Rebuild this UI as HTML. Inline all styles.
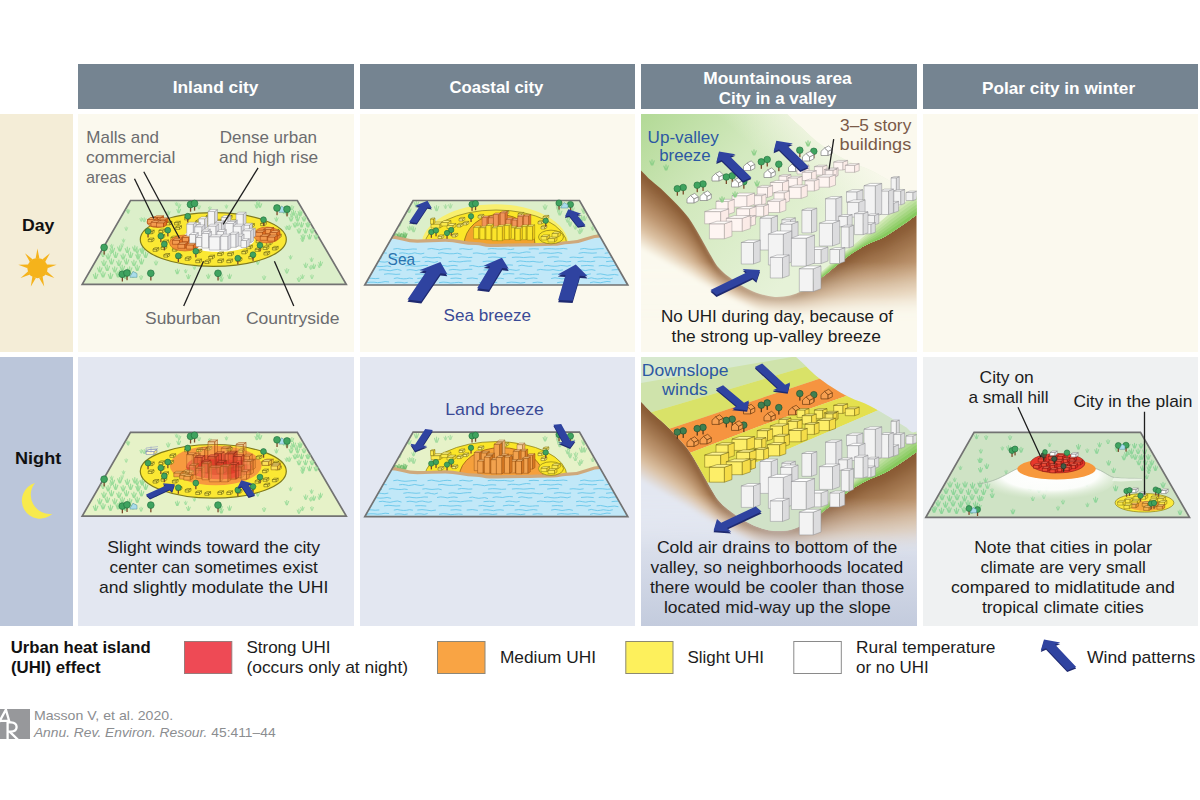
<!DOCTYPE html>
<html><head><meta charset="utf-8"><title>Urban heat island effect</title>
<style>
html,body{margin:0;padding:0;background:#fff}
body{width:1200px;height:800px;position:relative;overflow:hidden;font-family:"Liberation Sans", sans-serif}
.hd{position:absolute;top:64px;height:45px;background:#758491}
.c{position:absolute}
.d{top:114px;width:275.5px;height:238px;background:#fbf9ee}
.n{top:357px;width:275.5px;height:268.5px;background:#e3e7f1}
</style></head><body>

<div class="hd" style="left:78px;width:275.5px"></div>
<div class="hd" style="left:359.5px;width:275.5px"></div>
<div class="hd" style="left:641px;width:275.5px"></div>
<div class="hd" style="left:922.5px;width:275.5px"></div>
<div class="c" style="left:0;top:114px;width:72.5px;height:238px;background:#f4edd7"></div>
<div class="c" style="left:0;top:357px;width:72.5px;height:268.5px;background:#bbc6da"></div>
<div class="c d" style="left:78px"></div><div class="c d" style="left:359.5px"></div><div class="c d" style="left:641px"></div><div class="c d" style="left:922.5px"></div>
<div class="c n" style="left:78px"></div><div class="c n" style="left:359.5px"></div><div class="c n" style="left:641px;background:linear-gradient(#e3e7f1 0%,#e3e7f1 58%,#c3cbdd 100%)"></div><div class="c n" style="left:922.5px;background:#eff1f2"></div>

<svg width="1200" height="800" viewBox="0 0 1200 800" style="position:absolute;left:0;top:0"><defs>
<linearGradient id="brownL" x1="0" y1="0" x2="0" y2="1"><stop offset="0" stop-color="#8a5a32"/><stop offset="0.45" stop-color="#a87a52"/><stop offset="1" stop-color="#efe0cc" stop-opacity="0"/></linearGradient>
</defs><g><polygon points="130.5,200.5 297.3,200.5 346.3,284.3 82.2,284.3" fill="#dcefca" stroke="#727272" stroke-width="1.7"/><path d="M102.7,247.1L104.2,251.0M104.8,245.8V251.0M107.0,246.9L105.5,251.0" stroke="#9bdc9a" stroke-width="1.19" fill="none" stroke-linecap="round"/><path d="M110.2,248.6L111.7,252.5M112.3,247.2V252.5M114.5,248.4L113.0,252.5" stroke="#9bdc9a" stroke-width="1.19" fill="none" stroke-linecap="round"/><path d="M117.7,247.1L119.2,251.0M119.8,245.8V251.0M122.0,246.9L120.5,251.0" stroke="#9bdc9a" stroke-width="1.19" fill="none" stroke-linecap="round"/><path d="M125.2,248.6L126.7,252.5M127.3,247.2V252.5M129.6,248.4L128.1,252.5" stroke="#9bdc9a" stroke-width="1.19" fill="none" stroke-linecap="round"/><path d="M132.7,247.1L134.2,251.0M134.8,245.8V251.0M137.1,246.9L135.6,251.0" stroke="#9bdc9a" stroke-width="1.19" fill="none" stroke-linecap="round"/><path d="M140.2,248.6L141.7,252.5M142.3,247.2V252.5M144.6,248.4L143.1,252.5" stroke="#9bdc9a" stroke-width="1.19" fill="none" stroke-linecap="round"/><path d="M106.0,255.1L107.5,259.0M108.1,253.8V259.0M110.3,254.9L108.8,259.0" stroke="#9bdc9a" stroke-width="1.19" fill="none" stroke-linecap="round"/><path d="M113.5,253.6L115.0,257.5M115.6,252.2V257.5M117.8,253.4L116.3,257.5" stroke="#9bdc9a" stroke-width="1.19" fill="none" stroke-linecap="round"/><path d="M121.0,255.1L122.5,259.0M123.1,253.8V259.0M125.3,254.9L123.8,259.0" stroke="#9bdc9a" stroke-width="1.19" fill="none" stroke-linecap="round"/><path d="M128.5,253.6L130.0,257.5M130.6,252.2V257.5M132.8,253.4L131.3,257.5" stroke="#9bdc9a" stroke-width="1.19" fill="none" stroke-linecap="round"/><path d="M136.0,255.1L137.5,259.0M138.1,253.8V259.0M140.3,254.9L138.8,259.0" stroke="#9bdc9a" stroke-width="1.19" fill="none" stroke-linecap="round"/><path d="M143.5,253.6L145.0,257.5M145.6,252.2V257.5M147.8,253.4L146.3,257.5" stroke="#9bdc9a" stroke-width="1.19" fill="none" stroke-linecap="round"/><path d="M101.8,261.6L103.3,265.5M103.9,260.2V265.5M106.2,261.4L104.7,265.5" stroke="#9bdc9a" stroke-width="1.19" fill="none" stroke-linecap="round"/><path d="M109.3,260.1L110.8,264.0M111.4,258.8V264.0M113.7,259.9L112.2,264.0" stroke="#9bdc9a" stroke-width="1.19" fill="none" stroke-linecap="round"/><path d="M116.8,261.6L118.3,265.5M118.9,260.2V265.5M121.2,261.4L119.7,265.5" stroke="#9bdc9a" stroke-width="1.19" fill="none" stroke-linecap="round"/><path d="M124.3,260.1L125.8,264.0M126.4,258.8V264.0M128.7,259.9L127.2,264.0" stroke="#9bdc9a" stroke-width="1.19" fill="none" stroke-linecap="round"/><path d="M131.8,261.6L133.3,265.5M133.9,260.2V265.5M136.2,261.4L134.7,265.5" stroke="#9bdc9a" stroke-width="1.19" fill="none" stroke-linecap="round"/><path d="M139.3,260.1L140.8,264.0M141.4,258.8V264.0M143.7,259.9L142.2,264.0" stroke="#9bdc9a" stroke-width="1.19" fill="none" stroke-linecap="round"/><path d="M97.6,268.1L99.1,272.0M99.7,266.8V272.0M102.0,267.9L100.5,272.0" stroke="#9bdc9a" stroke-width="1.19" fill="none" stroke-linecap="round"/><path d="M105.1,266.6L106.6,270.5M107.2,265.2V270.5M109.5,266.4L108.0,270.5" stroke="#9bdc9a" stroke-width="1.19" fill="none" stroke-linecap="round"/><path d="M112.6,268.1L114.1,272.0M114.7,266.8V272.0M117.0,267.9L115.5,272.0" stroke="#9bdc9a" stroke-width="1.19" fill="none" stroke-linecap="round"/><path d="M120.1,266.6L121.6,270.5M122.2,265.2V270.5M124.5,266.4L123.0,270.5" stroke="#9bdc9a" stroke-width="1.19" fill="none" stroke-linecap="round"/><path d="M127.6,268.1L129.1,272.0M129.7,266.8V272.0M131.9,267.9L130.4,272.0" stroke="#9bdc9a" stroke-width="1.19" fill="none" stroke-linecap="round"/><path d="M135.1,266.6L136.6,270.5M137.2,265.2V270.5M139.4,266.4L137.9,270.5" stroke="#9bdc9a" stroke-width="1.19" fill="none" stroke-linecap="round"/><path d="M93.4,274.6L94.9,278.5M95.5,273.2V278.5M97.8,274.4L96.2,278.5" stroke="#9bdc9a" stroke-width="1.19" fill="none" stroke-linecap="round"/><path d="M100.9,273.1L102.4,277.0M103.0,271.8V277.0M105.2,272.9L103.8,277.0" stroke="#9bdc9a" stroke-width="1.19" fill="none" stroke-linecap="round"/><path d="M108.4,274.6L109.9,278.5M110.5,273.2V278.5M112.8,274.4L111.2,278.5" stroke="#9bdc9a" stroke-width="1.19" fill="none" stroke-linecap="round"/><path d="M115.9,273.1L117.4,277.0M118.0,271.8V277.0M120.2,272.9L118.8,277.0" stroke="#9bdc9a" stroke-width="1.19" fill="none" stroke-linecap="round"/><path d="M123.4,274.6L124.9,278.5M125.5,273.2V278.5M127.8,274.4L126.2,278.5" stroke="#9bdc9a" stroke-width="1.19" fill="none" stroke-linecap="round"/><path d="M130.9,273.1L132.4,277.0M133.0,271.8V277.0M135.2,272.9L133.8,277.0" stroke="#9bdc9a" stroke-width="1.19" fill="none" stroke-linecap="round"/><path d="M285.1,211.5L286.4,215.0M287.0,210.3V215.0M289.0,211.3L287.7,215.0" stroke="#9bdc9a" stroke-width="1.07" fill="none" stroke-linecap="round"/><path d="M291.6,211.5L292.9,215.0M293.5,210.3V215.0M295.5,211.3L294.2,215.0" stroke="#9bdc9a" stroke-width="1.07" fill="none" stroke-linecap="round"/><path d="M298.1,211.5L299.4,215.0M300.0,210.3V215.0M302.0,211.3L300.7,215.0" stroke="#9bdc9a" stroke-width="1.07" fill="none" stroke-linecap="round"/><path d="M289.1,217.5L290.4,221.0M291.0,216.3V221.0M293.0,217.3L291.7,221.0" stroke="#9bdc9a" stroke-width="1.07" fill="none" stroke-linecap="round"/><path d="M295.6,217.5L296.9,221.0M297.5,216.3V221.0M299.5,217.3L298.2,221.0" stroke="#9bdc9a" stroke-width="1.07" fill="none" stroke-linecap="round"/><path d="M302.1,217.5L303.4,221.0M304.0,216.3V221.0M306.0,217.3L304.7,221.0" stroke="#9bdc9a" stroke-width="1.07" fill="none" stroke-linecap="round"/><path d="M293.1,223.5L294.4,227.0M295.0,222.3V227.0M297.0,223.3L295.7,227.0" stroke="#9bdc9a" stroke-width="1.07" fill="none" stroke-linecap="round"/><path d="M299.6,223.5L300.9,227.0M301.5,222.3V227.0M303.5,223.3L302.2,227.0" stroke="#9bdc9a" stroke-width="1.07" fill="none" stroke-linecap="round"/><path d="M306.1,223.5L307.4,227.0M308.0,222.3V227.0M310.0,223.3L308.7,227.0" stroke="#9bdc9a" stroke-width="1.07" fill="none" stroke-linecap="round"/><path d="M297.1,229.5L298.4,233.0M299.0,228.3V233.0M301.0,229.3L299.7,233.0" stroke="#9bdc9a" stroke-width="1.07" fill="none" stroke-linecap="round"/><path d="M303.6,229.5L304.9,233.0M305.5,228.3V233.0M307.5,229.3L306.2,233.0" stroke="#9bdc9a" stroke-width="1.07" fill="none" stroke-linecap="round"/><path d="M310.1,229.5L311.4,233.0M312.0,228.3V233.0M314.0,229.3L312.7,233.0" stroke="#9bdc9a" stroke-width="1.07" fill="none" stroke-linecap="round"/><path d="M301.1,235.5L302.4,239.0M303.0,234.3V239.0M305.0,235.3L303.7,239.0" stroke="#9bdc9a" stroke-width="1.07" fill="none" stroke-linecap="round"/><path d="M307.6,235.5L308.9,239.0M309.5,234.3V239.0M311.5,235.3L310.2,239.0" stroke="#9bdc9a" stroke-width="1.07" fill="none" stroke-linecap="round"/><path d="M314.1,235.5L315.4,239.0M316.0,234.3V239.0M318.0,235.3L316.7,239.0" stroke="#9bdc9a" stroke-width="1.07" fill="none" stroke-linecap="round"/><path d="M166.5,212.0L167.7,215.1M168.2,210.9V215.1M170.0,211.8L168.8,215.1" stroke="#9bdc9a" stroke-width="0.94" fill="none" stroke-linecap="round"/><path d="M177.5,204.7L178.6,207.6M179.1,203.7V207.6M180.8,204.5L179.6,207.6" stroke="#9bdc9a" stroke-width="0.89" fill="none" stroke-linecap="round"/><path d="M193.0,266.7L194.0,269.1M194.4,265.8V269.1M195.8,266.5L194.9,269.1" stroke="#9bdc9a" stroke-width="0.76" fill="none" stroke-linecap="round"/><path d="M140.2,249.8L141.5,253.2M142.0,248.6V253.2M144.0,249.5L142.7,253.2" stroke="#9bdc9a" stroke-width="1.05" fill="none" stroke-linecap="round"/><path d="M305.8,223.7L306.8,226.2M307.2,222.8V226.2M308.6,223.5L307.7,226.2" stroke="#9bdc9a" stroke-width="0.76" fill="none" stroke-linecap="round"/><path d="M294.5,214.5L295.7,217.5M296.2,213.4V217.5M297.9,214.3L296.8,217.5" stroke="#9bdc9a" stroke-width="0.92" fill="none" stroke-linecap="round"/><path d="M225.1,205.6L226.0,208.0M226.4,204.8V208.0M227.8,205.5L226.9,208.0" stroke="#9bdc9a" stroke-width="0.73" fill="none" stroke-linecap="round"/><path d="M136.0,254.6L137.1,257.4M137.5,253.6V257.4M139.2,254.4L138.1,257.4" stroke="#9bdc9a" stroke-width="0.86" fill="none" stroke-linecap="round"/><path d="M289.1,256.3L290.1,258.9M290.5,255.4V258.9M292.1,256.1L291.0,258.9" stroke="#9bdc9a" stroke-width="0.80" fill="none" stroke-linecap="round"/><path d="M310.1,258.7L311.1,261.4M311.5,257.8V261.4M313.1,258.5L312.1,261.4" stroke="#9bdc9a" stroke-width="0.82" fill="none" stroke-linecap="round"/><path d="M122.2,239.7L123.1,242.1M123.5,238.9V242.1M124.9,239.6L124.0,242.1" stroke="#9bdc9a" stroke-width="0.73" fill="none" stroke-linecap="round"/><path d="M256.1,261.2L257.3,264.2M257.7,260.1V264.2M259.5,261.0L258.3,264.2" stroke="#9bdc9a" stroke-width="0.92" fill="none" stroke-linecap="round"/><path d="M300.8,275.7L301.9,278.6M302.4,274.7V278.6M304.1,275.5L302.9,278.6" stroke="#9bdc9a" stroke-width="0.88" fill="none" stroke-linecap="round"/><path d="M255.0,204.7L256.2,207.9M256.7,203.6V207.9M258.5,204.5L257.3,207.9" stroke="#9bdc9a" stroke-width="0.96" fill="none" stroke-linecap="round"/><path d="M296.2,223.0L297.3,225.8M297.7,222.0V225.8M299.3,222.8L298.2,225.8" stroke="#9bdc9a" stroke-width="0.85" fill="none" stroke-linecap="round"/><path d="M256.3,201.9L257.4,204.8M257.8,200.9V204.8M259.5,201.8L258.4,204.8" stroke="#9bdc9a" stroke-width="0.88" fill="none" stroke-linecap="round"/><path d="M126.4,210.0L127.3,212.4M127.7,209.1V212.4M129.1,209.8L128.2,212.4" stroke="#9bdc9a" stroke-width="0.73" fill="none" stroke-linecap="round"/><path d="M282.3,210.7L283.3,213.3M283.7,209.8V213.3M285.3,210.6L284.2,213.3" stroke="#9bdc9a" stroke-width="0.80" fill="none" stroke-linecap="round"/><path d="M184.3,270.3L185.3,272.7M185.6,269.4V272.7M187.1,270.1L186.1,272.7" stroke="#9bdc9a" stroke-width="0.74" fill="none" stroke-linecap="round"/><path d="M311.9,265.2L313.1,268.5M313.7,264.0V268.5M315.6,265.0L314.3,268.5" stroke="#9bdc9a" stroke-width="1.02" fill="none" stroke-linecap="round"/><path d="M175.4,270.3L176.7,273.7M177.3,269.1V273.7M179.3,270.1L177.9,273.7" stroke="#9bdc9a" stroke-width="1.05" fill="none" stroke-linecap="round"/><path d="M142.7,218.8L143.8,221.7M144.3,217.8V221.7M146.0,218.6L144.9,221.7" stroke="#9bdc9a" stroke-width="0.89" fill="none" stroke-linecap="round"/><path d="M258.0,203.9L259.3,207.3M259.8,202.8V207.3M261.8,203.7L260.5,207.3" stroke="#9bdc9a" stroke-width="1.03" fill="none" stroke-linecap="round"/><path d="M285.0,269.7L286.3,273.0M286.8,268.6V273.0M288.7,269.5L287.4,273.0" stroke="#9bdc9a" stroke-width="1.00" fill="none" stroke-linecap="round"/><path d="M109.6,251.3L110.5,253.7M110.9,250.5V253.7M112.3,251.2L111.4,253.7" stroke="#9bdc9a" stroke-width="0.73" fill="none" stroke-linecap="round"/><path d="M124.9,227.8L125.8,230.2M126.2,227.0V230.2M127.6,227.7L126.7,230.2" stroke="#9bdc9a" stroke-width="0.73" fill="none" stroke-linecap="round"/><path d="M176.9,209.5L178.1,212.8M178.7,208.3V212.8M180.6,209.3L179.3,212.8" stroke="#9bdc9a" stroke-width="1.01" fill="none" stroke-linecap="round"/><path d="M208.5,207.4L209.4,209.9M209.8,206.6V209.9M211.2,207.3L210.3,209.9" stroke="#9bdc9a" stroke-width="0.75" fill="none" stroke-linecap="round"/><path d="M298.2,213.6L299.1,215.9M299.5,212.7V215.9M300.9,213.4L300.0,215.9" stroke="#9bdc9a" stroke-width="0.72" fill="none" stroke-linecap="round"/><path d="M120.8,244.1L121.7,246.5M122.1,243.3V246.5M123.5,243.9L122.6,246.5" stroke="#9bdc9a" stroke-width="0.72" fill="none" stroke-linecap="round"/><path d="M219.5,278.0L220.8,281.3M221.3,276.8V281.3M223.2,277.7L222.0,281.3" stroke="#9bdc9a" stroke-width="1.02" fill="none" stroke-linecap="round"/><path d="M285.1,226.8L286.1,229.4M286.6,225.9V229.4M288.1,226.6L287.1,229.4" stroke="#9bdc9a" stroke-width="0.79" fill="none" stroke-linecap="round"/><path d="M303.9,264.2L305.2,267.5M305.7,263.0V267.5M307.6,264.0L306.3,267.5" stroke="#9bdc9a" stroke-width="1.00" fill="none" stroke-linecap="round"/><path d="M274.8,218.2L275.9,221.1M276.4,217.2V221.1M278.1,218.0L276.9,221.1" stroke="#9bdc9a" stroke-width="0.90" fill="none" stroke-linecap="round"/><path d="M175.2,203.0L176.1,205.3M176.4,202.1V205.3M177.8,202.8L176.9,205.3" stroke="#9bdc9a" stroke-width="0.72" fill="none" stroke-linecap="round"/><path d="M262.5,276.7L263.6,279.5M264.1,275.7V279.5M265.7,276.5L264.6,279.5" stroke="#9bdc9a" stroke-width="0.87" fill="none" stroke-linecap="round"/><path d="M139.9,218.6L140.9,221.1M141.3,217.7V221.1M142.8,218.4L141.8,221.1" stroke="#9bdc9a" stroke-width="0.78" fill="none" stroke-linecap="round"/><path d="M135.3,249.6L136.6,252.9M137.1,248.4V252.9M139.1,249.3L137.8,252.9" stroke="#9bdc9a" stroke-width="1.03" fill="none" stroke-linecap="round"/><path d="M300.8,238.3L302.0,241.4M302.5,237.2V241.4M304.3,238.1L303.1,241.4" stroke="#9bdc9a" stroke-width="0.95" fill="none" stroke-linecap="round"/><path d="M290.2,206.7L291.4,209.8M291.9,205.6V209.8M293.7,206.5L292.5,209.8" stroke="#9bdc9a" stroke-width="0.95" fill="none" stroke-linecap="round"/><path d="M318.8,262.4L320.0,265.6M320.5,261.3V265.6M322.4,262.2L321.2,265.6" stroke="#9bdc9a" stroke-width="0.98" fill="none" stroke-linecap="round"/><path d="M287.4,226.3L288.7,229.6M289.2,225.2V229.6M291.1,226.1L289.8,229.6" stroke="#9bdc9a" stroke-width="1.00" fill="none" stroke-linecap="round"/><path d="M186.6,275.6L187.8,278.7M188.4,274.5V278.7M190.2,275.4L189.0,278.7" stroke="#9bdc9a" stroke-width="0.97" fill="none" stroke-linecap="round"/><path d="M126.8,210.7L127.8,213.2M128.2,209.8V213.2M129.7,210.5L128.7,213.2" stroke="#9bdc9a" stroke-width="0.77" fill="none" stroke-linecap="round"/><path d="M317.9,265.0L318.9,267.5M319.3,264.1V267.5M320.7,264.9L319.7,267.5" stroke="#9bdc9a" stroke-width="0.76" fill="none" stroke-linecap="round"/><path d="M297.2,278.3L298.4,281.4M298.9,277.2V281.4M300.7,278.1L299.5,281.4" stroke="#9bdc9a" stroke-width="0.95" fill="none" stroke-linecap="round"/><path d="M219.4,274.9L220.5,277.7M220.9,273.9V277.7M222.6,274.7L221.5,277.7" stroke="#9bdc9a" stroke-width="0.87" fill="none" stroke-linecap="round"/><path d="M309.2,266.5L310.2,269.1M310.7,265.6V269.1M312.1,266.4L311.2,269.1" stroke="#9bdc9a" stroke-width="0.79" fill="none" stroke-linecap="round"/><path d="M116.6,273.1L117.6,275.8M118.1,272.1V275.8M119.7,272.9L118.6,275.8" stroke="#9bdc9a" stroke-width="0.84" fill="none" stroke-linecap="round"/><path d="M290.2,213.9L291.3,216.8M291.8,212.9V216.8M293.5,213.7L292.3,216.8" stroke="#9bdc9a" stroke-width="0.88" fill="none" stroke-linecap="round"/><path d="M110.2,245.2L111.2,247.8M111.6,244.3V247.8M113.1,245.0L112.1,247.8" stroke="#9bdc9a" stroke-width="0.80" fill="none" stroke-linecap="round"/><path d="M154.4,261.9L155.5,264.8M156.0,260.8V264.8M157.7,261.7L156.6,264.8" stroke="#9bdc9a" stroke-width="0.89" fill="none" stroke-linecap="round"/><path d="M206.6,275.2L207.8,278.3M208.3,274.1V278.3M210.1,275.0L208.9,278.3" stroke="#9bdc9a" stroke-width="0.96" fill="none" stroke-linecap="round"/><path d="M310.5,275.7L311.5,278.4M311.9,274.8V278.4M313.4,275.6L312.4,278.4" stroke="#9bdc9a" stroke-width="0.80" fill="none" stroke-linecap="round"/><path d="M227.7,275.2L228.9,278.5M229.5,274.0V278.5M231.4,274.9L230.1,278.5" stroke="#9bdc9a" stroke-width="1.01" fill="none" stroke-linecap="round"/><path d="M197.5,206.2L198.5,208.8M199.0,205.3V208.8M200.5,206.0L199.5,208.8" stroke="#9bdc9a" stroke-width="0.80" fill="none" stroke-linecap="round"/><path d="M101.2,253.3L102.5,256.6M103.0,252.2V256.6M104.9,253.1L103.6,256.6" stroke="#9bdc9a" stroke-width="0.99" fill="none" stroke-linecap="round"/><path d="M119.3,270.2L120.6,273.6M121.2,269.0V273.6M123.2,270.0L121.8,273.6" stroke="#9bdc9a" stroke-width="1.06" fill="none" stroke-linecap="round"/><path d="M139.6,276.4L140.6,279.2M141.1,275.4V279.2M142.7,276.2L141.6,279.2" stroke="#9bdc9a" stroke-width="0.85" fill="none" stroke-linecap="round"/><path d="M298.9,213.1L300.0,215.9M300.4,212.1V215.9M302.1,212.9L301.0,215.9" stroke="#9bdc9a" stroke-width="0.87" fill="none" stroke-linecap="round"/><ellipse cx="213.3" cy="239.5" rx="73" ry="26.8" fill="#fbe833" stroke="#7f7a1c" stroke-width="1.2"/><ellipse cx="218.5" cy="239.0" rx="36" ry="13" fill="#fdfdf6"/><g stroke="#6f6812" stroke-width="0.6" stroke-linejoin="round"><polygon points="206.0,218.3 209.8,218.3 209.8,216.0 206.0,216.0" fill="#fbea4d"/><polygon points="209.8,218.3 211.8,217.0 211.8,214.7 209.8,216.0" fill="#fbea4d"/><polygon points="206.0,216.0 209.8,216.0 211.8,214.7 208.0,214.7" fill="#fbea4d"/></g><g stroke="#6f6812" stroke-width="0.6" stroke-linejoin="round"><polygon points="226.3,219.0 230.1,219.0 230.1,216.7 226.3,216.7" fill="#fbea4d"/><polygon points="230.1,219.0 232.1,217.7 232.1,215.4 230.1,216.7" fill="#fbea4d"/><polygon points="226.3,216.7 230.1,216.7 232.1,215.4 228.3,215.4" fill="#fbea4d"/></g><g stroke="#6f6812" stroke-width="0.6" stroke-linejoin="round"><polygon points="184.6,219.9 188.4,219.9 188.4,217.6 184.6,217.6" fill="#fbea4d"/><polygon points="188.4,219.9 190.4,218.6 190.4,216.3 188.4,217.6" fill="#fbea4d"/><polygon points="184.6,217.6 188.4,217.6 190.4,216.3 186.6,216.3" fill="#fbea4d"/></g><g stroke="#6f6812" stroke-width="0.6" stroke-linejoin="round"><polygon points="238.7,220.5 242.5,220.5 242.5,218.2 238.7,218.2" fill="#fbea4d"/><polygon points="242.5,220.5 244.5,219.2 244.5,216.9 242.5,218.2" fill="#fbea4d"/><polygon points="238.7,218.2 242.5,218.2 244.5,216.9 240.7,216.9" fill="#fbea4d"/></g><g stroke="#6f6812" stroke-width="0.6" stroke-linejoin="round"><polygon points="216.0,223.0 219.8,223.0 219.8,220.7 216.0,220.7" fill="#fbea4d"/><polygon points="219.8,223.0 221.8,221.7 221.8,219.4 219.8,220.7" fill="#fbea4d"/><polygon points="216.0,220.7 219.8,220.7 221.8,219.4 218.0,219.4" fill="#fbea4d"/></g><g stroke="#6f6812" stroke-width="0.6" stroke-linejoin="round"><polygon points="195.7,223.3 199.5,223.3 199.5,221.0 195.7,221.0" fill="#fbea4d"/><polygon points="199.5,223.3 201.5,222.0 201.5,219.7 199.5,221.0" fill="#fbea4d"/><polygon points="195.7,221.0 199.5,221.0 201.5,219.7 197.7,219.7" fill="#fbea4d"/></g><g stroke="#6f6812" stroke-width="0.6" stroke-linejoin="round"><polygon points="230.0,223.6 233.8,223.6 233.8,221.3 230.0,221.3" fill="#fbea4d"/><polygon points="233.8,223.6 235.8,222.3 235.8,220.0 233.8,221.3" fill="#fbea4d"/><polygon points="230.0,221.3 233.8,221.3 235.8,220.0 232.0,220.0" fill="#fbea4d"/></g><g stroke="#6f6812" stroke-width="0.6" stroke-linejoin="round"><polygon points="204.9,224.0 208.7,224.0 208.7,221.7 204.9,221.7" fill="#fbea4d"/><polygon points="208.7,224.0 210.7,222.7 210.7,220.4 208.7,221.7" fill="#fbea4d"/><polygon points="204.9,221.7 208.7,221.7 210.7,220.4 206.9,220.4" fill="#fbea4d"/></g><g stroke="#6f6812" stroke-width="0.6" stroke-linejoin="round"><polygon points="166.1,224.9 169.9,224.9 169.9,222.6 166.1,222.6" fill="#fbea4d"/><polygon points="169.9,224.9 171.9,223.6 171.9,221.3 169.9,222.6" fill="#fbea4d"/><polygon points="166.1,222.6 169.9,222.6 171.9,221.3 168.1,221.3" fill="#fbea4d"/></g><g stroke="#6f6812" stroke-width="0.6" stroke-linejoin="round"><polygon points="174.5,224.9 178.3,224.9 178.3,222.6 174.5,222.6" fill="#fbea4d"/><polygon points="178.3,224.9 180.3,223.6 180.3,221.3 178.3,222.6" fill="#fbea4d"/><polygon points="174.5,222.6 178.3,222.6 180.3,221.3 176.5,221.3" fill="#fbea4d"/></g><g stroke="#6f6812" stroke-width="0.6" stroke-linejoin="round"><polygon points="260.6,225.7 264.4,225.7 264.4,223.4 260.6,223.4" fill="#fbea4d"/><polygon points="264.4,225.7 266.4,224.4 266.4,222.1 264.4,223.4" fill="#fbea4d"/><polygon points="260.6,223.4 264.4,223.4 266.4,222.1 262.6,222.1" fill="#fbea4d"/></g><g stroke="#6f6812" stroke-width="0.6" stroke-linejoin="round"><polygon points="248.6,227.3 252.4,227.3 252.4,225.0 248.6,225.0" fill="#fbea4d"/><polygon points="252.4,227.3 254.4,226.0 254.4,223.7 252.4,225.0" fill="#fbea4d"/><polygon points="248.6,225.0 252.4,225.0 254.4,223.7 250.6,223.7" fill="#fbea4d"/></g><g stroke="#6f6812" stroke-width="0.6" stroke-linejoin="round"><polygon points="175.7,229.4 179.5,229.4 179.5,227.1 175.7,227.1" fill="#fbea4d"/><polygon points="179.5,229.4 181.5,228.1 181.5,225.8 179.5,227.1" fill="#fbea4d"/><polygon points="175.7,227.1 179.5,227.1 181.5,225.8 177.7,225.8" fill="#fbea4d"/></g><g stroke="#6f6812" stroke-width="0.6" stroke-linejoin="round"><polygon points="261.7,232.3 265.5,232.3 265.5,230.0 261.7,230.0" fill="#fbea4d"/><polygon points="265.5,232.3 267.5,231.0 267.5,228.7 265.5,230.0" fill="#fbea4d"/><polygon points="261.7,230.0 265.5,230.0 267.5,228.7 263.7,228.7" fill="#fbea4d"/></g><g stroke="#6f6812" stroke-width="0.6" stroke-linejoin="round"><polygon points="158.9,232.7 162.7,232.7 162.7,230.4 158.9,230.4" fill="#fbea4d"/><polygon points="162.7,232.7 164.7,231.4 164.7,229.1 162.7,230.4" fill="#fbea4d"/><polygon points="158.9,230.4 162.7,230.4 164.7,229.1 160.9,229.1" fill="#fbea4d"/></g><g stroke="#6f6812" stroke-width="0.6" stroke-linejoin="round"><polygon points="273.2,233.0 277.0,233.0 277.0,230.7 273.2,230.7" fill="#fbea4d"/><polygon points="277.0,233.0 279.0,231.7 279.0,229.4 277.0,230.7" fill="#fbea4d"/><polygon points="273.2,230.7 277.0,230.7 279.0,229.4 275.2,229.4" fill="#fbea4d"/></g><g stroke="#6f6812" stroke-width="0.6" stroke-linejoin="round"><polygon points="148.4,233.8 152.2,233.8 152.2,231.5 148.4,231.5" fill="#fbea4d"/><polygon points="152.2,233.8 154.2,232.5 154.2,230.2 152.2,231.5" fill="#fbea4d"/><polygon points="148.4,231.5 152.2,231.5 154.2,230.2 150.4,230.2" fill="#fbea4d"/></g><g stroke="#6f6812" stroke-width="0.6" stroke-linejoin="round"><polygon points="275.5,238.0 279.3,238.0 279.3,235.7 275.5,235.7" fill="#fbea4d"/><polygon points="279.3,238.0 281.3,236.7 281.3,234.4 279.3,235.7" fill="#fbea4d"/><polygon points="275.5,235.7 279.3,235.7 281.3,234.4 277.5,234.4" fill="#fbea4d"/></g><g stroke="#6f6812" stroke-width="0.6" stroke-linejoin="round"><polygon points="259.9,238.1 263.7,238.1 263.7,235.8 259.9,235.8" fill="#fbea4d"/><polygon points="263.7,238.1 265.7,236.8 265.7,234.5 263.7,235.8" fill="#fbea4d"/><polygon points="259.9,235.8 263.7,235.8 265.7,234.5 261.9,234.5" fill="#fbea4d"/></g><g stroke="#6f6812" stroke-width="0.6" stroke-linejoin="round"><polygon points="159.0,238.3 162.8,238.3 162.8,236.0 159.0,236.0" fill="#fbea4d"/><polygon points="162.8,238.3 164.8,237.0 164.8,234.7 162.8,236.0" fill="#fbea4d"/><polygon points="159.0,236.0 162.8,236.0 164.8,234.7 161.0,234.7" fill="#fbea4d"/></g><g stroke="#6f6812" stroke-width="0.6" stroke-linejoin="round"><polygon points="170.9,239.7 174.7,239.7 174.7,237.4 170.9,237.4" fill="#fbea4d"/><polygon points="174.7,239.7 176.7,238.4 176.7,236.1 174.7,237.4" fill="#fbea4d"/><polygon points="170.9,237.4 174.7,237.4 176.7,236.1 172.9,236.1" fill="#fbea4d"/></g><g stroke="#6f6812" stroke-width="0.6" stroke-linejoin="round"><polygon points="148.2,241.7 152.0,241.7 152.0,239.4 148.2,239.4" fill="#fbea4d"/><polygon points="152.0,241.7 154.0,240.4 154.0,238.1 152.0,239.4" fill="#fbea4d"/><polygon points="148.2,239.4 152.0,239.4 154.0,238.1 150.2,238.1" fill="#fbea4d"/></g><g stroke="#6f6812" stroke-width="0.6" stroke-linejoin="round"><polygon points="256.1,242.7 259.9,242.7 259.9,240.4 256.1,240.4" fill="#fbea4d"/><polygon points="259.9,242.7 261.9,241.4 261.9,239.1 259.9,240.4" fill="#fbea4d"/><polygon points="256.1,240.4 259.9,240.4 261.9,239.1 258.1,239.1" fill="#fbea4d"/></g><g stroke="#6f6812" stroke-width="0.6" stroke-linejoin="round"><polygon points="162.7,243.6 166.5,243.6 166.5,241.3 162.7,241.3" fill="#fbea4d"/><polygon points="166.5,243.6 168.5,242.3 168.5,240.0 166.5,241.3" fill="#fbea4d"/><polygon points="162.7,241.3 166.5,241.3 168.5,240.0 164.7,240.0" fill="#fbea4d"/></g><g stroke="#6f6812" stroke-width="0.6" stroke-linejoin="round"><polygon points="172.4,244.8 176.2,244.8 176.2,242.5 172.4,242.5" fill="#fbea4d"/><polygon points="176.2,244.8 178.2,243.5 178.2,241.2 176.2,242.5" fill="#fbea4d"/><polygon points="172.4,242.5 176.2,242.5 178.2,241.2 174.4,241.2" fill="#fbea4d"/></g><g stroke="#6f6812" stroke-width="0.6" stroke-linejoin="round"><polygon points="266.4,244.9 270.2,244.9 270.2,242.6 266.4,242.6" fill="#fbea4d"/><polygon points="270.2,244.9 272.2,243.6 272.2,241.3 270.2,242.6" fill="#fbea4d"/><polygon points="266.4,242.6 270.2,242.6 272.2,241.3 268.4,241.3" fill="#fbea4d"/></g><g stroke="#6f6812" stroke-width="0.6" stroke-linejoin="round"><polygon points="246.6,248.8 250.4,248.8 250.4,246.5 246.6,246.5" fill="#fbea4d"/><polygon points="250.4,248.8 252.4,247.5 252.4,245.2 250.4,246.5" fill="#fbea4d"/><polygon points="246.6,246.5 250.4,246.5 252.4,245.2 248.6,245.2" fill="#fbea4d"/></g><g stroke="#6f6812" stroke-width="0.6" stroke-linejoin="round"><polygon points="161.0,249.4 164.8,249.4 164.8,247.1 161.0,247.1" fill="#fbea4d"/><polygon points="164.8,249.4 166.8,248.1 166.8,245.8 164.8,247.1" fill="#fbea4d"/><polygon points="161.0,247.1 164.8,247.1 166.8,245.8 163.0,245.8" fill="#fbea4d"/></g><g stroke="#6f6812" stroke-width="0.6" stroke-linejoin="round"><polygon points="180.5,249.4 184.3,249.4 184.3,247.1 180.5,247.1" fill="#fbea4d"/><polygon points="184.3,249.4 186.3,248.1 186.3,245.8 184.3,247.1" fill="#fbea4d"/><polygon points="180.5,247.1 184.3,247.1 186.3,245.8 182.5,245.8" fill="#fbea4d"/></g><g stroke="#6f6812" stroke-width="0.6" stroke-linejoin="round"><polygon points="263.1,249.5 266.9,249.5 266.9,247.2 263.1,247.2" fill="#fbea4d"/><polygon points="266.9,249.5 268.9,248.2 268.9,245.9 266.9,247.2" fill="#fbea4d"/><polygon points="263.1,247.2 266.9,247.2 268.9,245.9 265.1,245.9" fill="#fbea4d"/></g><g stroke="#6f6812" stroke-width="0.6" stroke-linejoin="round"><polygon points="272.4,250.0 276.2,250.0 276.2,247.7 272.4,247.7" fill="#fbea4d"/><polygon points="276.2,250.0 278.2,248.7 278.2,246.4 276.2,247.7" fill="#fbea4d"/><polygon points="272.4,247.7 276.2,247.7 278.2,246.4 274.4,246.4" fill="#fbea4d"/></g><g stroke="#6f6812" stroke-width="0.6" stroke-linejoin="round"><polygon points="172.4,251.2 176.2,251.2 176.2,248.9 172.4,248.9" fill="#fbea4d"/><polygon points="176.2,251.2 178.2,249.9 178.2,247.6 176.2,248.9" fill="#fbea4d"/><polygon points="172.4,248.9 176.2,248.9 178.2,247.6 174.4,247.6" fill="#fbea4d"/></g><g stroke="#6f6812" stroke-width="0.6" stroke-linejoin="round"><polygon points="153.0,251.3 156.8,251.3 156.8,249.0 153.0,249.0" fill="#fbea4d"/><polygon points="156.8,251.3 158.8,250.0 158.8,247.7 156.8,249.0" fill="#fbea4d"/><polygon points="153.0,249.0 156.8,249.0 158.8,247.7 155.0,247.7" fill="#fbea4d"/></g><g stroke="#6f6812" stroke-width="0.6" stroke-linejoin="round"><polygon points="255.1,251.4 258.9,251.4 258.9,249.1 255.1,249.1" fill="#fbea4d"/><polygon points="258.9,251.4 260.9,250.1 260.9,247.8 258.9,249.1" fill="#fbea4d"/><polygon points="255.1,249.1 258.9,249.1 260.9,247.8 257.1,247.8" fill="#fbea4d"/></g><g stroke="#6f6812" stroke-width="0.6" stroke-linejoin="round"><polygon points="196.0,252.8 199.8,252.8 199.8,250.5 196.0,250.5" fill="#fbea4d"/><polygon points="199.8,252.8 201.8,251.5 201.8,249.2 199.8,250.5" fill="#fbea4d"/><polygon points="196.0,250.5 199.8,250.5 201.8,249.2 198.0,249.2" fill="#fbea4d"/></g><g stroke="#6f6812" stroke-width="0.6" stroke-linejoin="round"><polygon points="241.8,253.8 245.6,253.8 245.6,251.5 241.8,251.5" fill="#fbea4d"/><polygon points="245.6,253.8 247.6,252.5 247.6,250.2 245.6,251.5" fill="#fbea4d"/><polygon points="241.8,251.5 245.6,251.5 247.6,250.2 243.8,250.2" fill="#fbea4d"/></g><g stroke="#6f6812" stroke-width="0.6" stroke-linejoin="round"><polygon points="263.9,255.0 267.7,255.0 267.7,252.7 263.9,252.7" fill="#fbea4d"/><polygon points="267.7,255.0 269.7,253.7 269.7,251.4 267.7,252.7" fill="#fbea4d"/><polygon points="263.9,252.7 267.7,252.7 269.7,251.4 265.9,251.4" fill="#fbea4d"/></g><g stroke="#6f6812" stroke-width="0.6" stroke-linejoin="round"><polygon points="217.6,255.6 221.4,255.6 221.4,253.3 217.6,253.3" fill="#fbea4d"/><polygon points="221.4,255.6 223.4,254.3 223.4,252.0 221.4,253.3" fill="#fbea4d"/><polygon points="217.6,253.3 221.4,253.3 223.4,252.0 219.6,252.0" fill="#fbea4d"/></g><g stroke="#6f6812" stroke-width="0.6" stroke-linejoin="round"><polygon points="227.7,255.7 231.5,255.7 231.5,253.4 227.7,253.4" fill="#fbea4d"/><polygon points="231.5,255.7 233.5,254.4 233.5,252.1 231.5,253.4" fill="#fbea4d"/><polygon points="227.7,253.4 231.5,253.4 233.5,252.1 229.7,252.1" fill="#fbea4d"/></g><g stroke="#6f6812" stroke-width="0.6" stroke-linejoin="round"><polygon points="163.8,257.1 167.6,257.1 167.6,254.8 163.8,254.8" fill="#fbea4d"/><polygon points="167.6,257.1 169.6,255.8 169.6,253.5 167.6,254.8" fill="#fbea4d"/><polygon points="163.8,254.8 167.6,254.8 169.6,253.5 165.8,253.5" fill="#fbea4d"/></g><g stroke="#6f6812" stroke-width="0.6" stroke-linejoin="round"><polygon points="176.2,258.5 180.0,258.5 180.0,256.2 176.2,256.2" fill="#fbea4d"/><polygon points="180.0,258.5 182.0,257.2 182.0,254.9 180.0,256.2" fill="#fbea4d"/><polygon points="176.2,256.2 180.0,256.2 182.0,254.9 178.2,254.9" fill="#fbea4d"/></g><g stroke="#6f6812" stroke-width="0.6" stroke-linejoin="round"><polygon points="248.8,258.8 252.6,258.8 252.6,256.5 248.8,256.5" fill="#fbea4d"/><polygon points="252.6,258.8 254.6,257.5 254.6,255.2 252.6,256.5" fill="#fbea4d"/><polygon points="248.8,256.5 252.6,256.5 254.6,255.2 250.8,255.2" fill="#fbea4d"/></g><g stroke="#6f6812" stroke-width="0.6" stroke-linejoin="round"><polygon points="208.7,258.8 212.5,258.8 212.5,256.5 208.7,256.5" fill="#fbea4d"/><polygon points="212.5,258.8 214.5,257.5 214.5,255.2 212.5,256.5" fill="#fbea4d"/><polygon points="208.7,256.5 212.5,256.5 214.5,255.2 210.7,255.2" fill="#fbea4d"/></g><g stroke="#6f6812" stroke-width="0.6" stroke-linejoin="round"><polygon points="185.2,260.3 189.0,260.3 189.0,258.0 185.2,258.0" fill="#fbea4d"/><polygon points="189.0,260.3 191.0,259.0 191.0,256.7 189.0,258.0" fill="#fbea4d"/><polygon points="185.2,258.0 189.0,258.0 191.0,256.7 187.2,256.7" fill="#fbea4d"/></g><g stroke="#6f6812" stroke-width="0.6" stroke-linejoin="round"><polygon points="236.2,261.4 240.0,261.4 240.0,259.1 236.2,259.1" fill="#fbea4d"/><polygon points="240.0,261.4 242.0,260.1 242.0,257.8 240.0,259.1" fill="#fbea4d"/><polygon points="236.2,259.1 240.0,259.1 242.0,257.8 238.2,257.8" fill="#fbea4d"/></g><g stroke="#6f6812" stroke-width="0.6" stroke-linejoin="round"><polygon points="217.8,262.6 221.6,262.6 221.6,260.3 217.8,260.3" fill="#fbea4d"/><polygon points="221.6,262.6 223.6,261.3 223.6,259.0 221.6,260.3" fill="#fbea4d"/><polygon points="217.8,260.3 221.6,260.3 223.6,259.0 219.8,259.0" fill="#fbea4d"/></g><g stroke="#6f6812" stroke-width="0.6" stroke-linejoin="round"><polygon points="226.8,262.7 230.6,262.7 230.6,260.4 226.8,260.4" fill="#fbea4d"/><polygon points="230.6,262.7 232.6,261.4 232.6,259.1 230.6,260.4" fill="#fbea4d"/><polygon points="226.8,260.4 230.6,260.4 232.6,259.1 228.8,259.1" fill="#fbea4d"/></g><g stroke="#6f6812" stroke-width="0.6" stroke-linejoin="round"><polygon points="195.7,262.7 199.5,262.7 199.5,260.4 195.7,260.4" fill="#fbea4d"/><polygon points="199.5,262.7 201.5,261.4 201.5,259.1 199.5,260.4" fill="#fbea4d"/><polygon points="195.7,260.4 199.5,260.4 201.5,259.1 197.7,259.1" fill="#fbea4d"/></g><g stroke="#6f6812" stroke-width="0.6" stroke-linejoin="round"><polygon points="204.8,263.5 208.6,263.5 208.6,261.2 204.8,261.2" fill="#fbea4d"/><polygon points="208.6,263.5 210.6,262.2 210.6,259.9 208.6,261.2" fill="#fbea4d"/><polygon points="204.8,261.2 208.6,261.2 210.6,259.9 206.8,259.9" fill="#fbea4d"/></g><ellipse cx="157" cy="222" rx="10" ry="5.5" fill="#f28a3c" fill-opacity="0.92" stroke="#c2601c" stroke-width="0.6"/><g stroke="#a04410" stroke-width="0.55" stroke-linejoin="round"><polygon points="153.5,221.8 160.5,221.8 160.5,217.6 153.5,217.6" fill="#f39a4e"/><polygon points="160.5,221.8 163.5,219.9 163.5,215.8 160.5,217.6" fill="#e06f22"/><polygon points="153.5,217.6 160.5,217.6 163.5,215.8 156.5,215.8" fill="#f7b06a"/></g><g stroke="#a04410" stroke-width="0.55" stroke-linejoin="round"><polygon points="147.5,223.7 154.5,223.7 154.5,219.5 147.5,219.5" fill="#f39a4e"/><polygon points="154.5,223.7 157.5,221.9 157.5,217.7 154.5,219.5" fill="#e06f22"/><polygon points="147.5,219.5 154.5,219.5 157.5,217.7 150.5,217.7" fill="#f7b06a"/></g><g stroke="#a04410" stroke-width="0.55" stroke-linejoin="round"><polygon points="158.0,223.9 165.0,223.9 165.0,219.8 158.0,219.8" fill="#f39a4e"/><polygon points="165.0,223.9 168.0,222.1 168.0,217.9 165.0,219.8" fill="#e06f22"/><polygon points="158.0,219.8 165.0,219.8 168.0,217.9 161.0,217.9" fill="#f7b06a"/></g><g stroke="#a04410" stroke-width="0.55" stroke-linejoin="round"><polygon points="151.0,226.4 158.0,226.4 158.0,222.2 151.0,222.2" fill="#f39a4e"/><polygon points="158.0,226.4 161.0,224.6 161.0,220.4 158.0,222.2" fill="#e06f22"/><polygon points="151.0,222.2 158.0,222.2 161.0,220.4 154.0,220.4" fill="#f7b06a"/></g><g stroke="#a04410" stroke-width="0.55" stroke-linejoin="round"><polygon points="156.5,227.0 163.5,227.0 163.5,222.8 156.5,222.8" fill="#f39a4e"/><polygon points="163.5,227.0 166.5,225.2 166.5,221.0 163.5,222.8" fill="#e06f22"/><polygon points="156.5,222.8 163.5,222.8 166.5,221.0 159.5,221.0" fill="#f7b06a"/></g><ellipse cx="185" cy="243" rx="15.5" ry="8" fill="#f28a3c" fill-opacity="0.92" stroke="#c2601c" stroke-width="0.6"/><g stroke="#a04410" stroke-width="0.55" stroke-linejoin="round"><polygon points="181.8,241.5 188.8,241.5 188.8,237.3 181.8,237.3" fill="#f39a4e"/><polygon points="188.8,241.5 191.8,239.7 191.8,235.5 188.8,237.3" fill="#e06f22"/><polygon points="181.8,237.3 188.8,237.3 191.8,235.5 184.8,235.5" fill="#f7b06a"/></g><g stroke="#a04410" stroke-width="0.55" stroke-linejoin="round"><polygon points="172.5,244.3 179.5,244.3 179.5,240.1 172.5,240.1" fill="#f39a4e"/><polygon points="179.5,244.3 182.5,242.5 182.5,238.3 179.5,240.1" fill="#e06f22"/><polygon points="172.5,240.1 179.5,240.1 182.5,238.3 175.5,238.3" fill="#f7b06a"/></g><g stroke="#a04410" stroke-width="0.55" stroke-linejoin="round"><polygon points="188.8,244.7 195.8,244.7 195.8,240.5 188.8,240.5" fill="#f39a4e"/><polygon points="195.8,244.7 198.8,242.9 198.8,238.7 195.8,240.5" fill="#e06f22"/><polygon points="188.8,240.5 195.8,240.5 198.8,238.7 191.8,238.7" fill="#f7b06a"/></g><g stroke="#a04410" stroke-width="0.55" stroke-linejoin="round"><polygon points="177.9,248.3 184.9,248.3 184.9,244.1 177.9,244.1" fill="#f39a4e"/><polygon points="184.9,248.3 187.9,246.5 187.9,242.3 184.9,244.1" fill="#e06f22"/><polygon points="177.9,244.1 184.9,244.1 187.9,242.3 180.9,242.3" fill="#f7b06a"/></g><g stroke="#a04410" stroke-width="0.55" stroke-linejoin="round"><polygon points="186.4,249.1 193.4,249.1 193.4,244.9 186.4,244.9" fill="#f39a4e"/><polygon points="193.4,249.1 196.4,247.3 196.4,243.1 193.4,244.9" fill="#e06f22"/><polygon points="186.4,244.9 193.4,244.9 196.4,243.1 189.4,243.1" fill="#f7b06a"/></g><ellipse cx="267" cy="235" rx="13.5" ry="8" fill="#f28a3c" fill-opacity="0.92" stroke="#c2601c" stroke-width="0.6"/><g stroke="#a04410" stroke-width="0.55" stroke-linejoin="round"><polygon points="263.7,233.5 270.7,233.5 270.7,229.3 263.7,229.3" fill="#f39a4e"/><polygon points="270.7,233.5 273.7,231.7 273.7,227.5 270.7,229.3" fill="#e06f22"/><polygon points="263.7,229.3 270.7,229.3 273.7,227.5 266.7,227.5" fill="#f7b06a"/></g><g stroke="#a04410" stroke-width="0.55" stroke-linejoin="round"><polygon points="255.6,236.3 262.6,236.3 262.6,232.1 255.6,232.1" fill="#f39a4e"/><polygon points="262.6,236.3 265.6,234.5 265.6,230.3 262.6,232.1" fill="#e06f22"/><polygon points="255.6,232.1 262.6,232.1 265.6,230.3 258.6,230.3" fill="#f7b06a"/></g><g stroke="#a04410" stroke-width="0.55" stroke-linejoin="round"><polygon points="269.8,236.7 276.8,236.7 276.8,232.5 269.8,232.5" fill="#f39a4e"/><polygon points="276.8,236.7 279.8,234.9 279.8,230.7 276.8,232.5" fill="#e06f22"/><polygon points="269.8,232.5 276.8,232.5 279.8,230.7 272.8,230.7" fill="#f7b06a"/></g><g stroke="#a04410" stroke-width="0.55" stroke-linejoin="round"><polygon points="260.3,240.3 267.3,240.3 267.3,236.1 260.3,236.1" fill="#f39a4e"/><polygon points="267.3,240.3 270.3,238.5 270.3,234.3 267.3,236.1" fill="#e06f22"/><polygon points="260.3,236.1 267.3,236.1 270.3,234.3 263.3,234.3" fill="#f7b06a"/></g><g stroke="#a04410" stroke-width="0.55" stroke-linejoin="round"><polygon points="267.7,241.1 274.7,241.1 274.7,236.9 267.7,236.9" fill="#f39a4e"/><polygon points="274.7,241.1 277.7,239.3 277.7,235.1 274.7,236.9" fill="#e06f22"/><polygon points="267.7,236.9 274.7,236.9 277.7,235.1 270.7,235.1" fill="#f7b06a"/></g><g stroke="#909094" stroke-width="0.5" stroke-linejoin="round"><polygon points="208.0,226.7 214.7,226.7 214.7,211.4 208.0,211.4" fill="#f5f5f5"/><polygon points="214.7,226.7 217.5,224.9 217.5,209.6 214.7,211.4" fill="#d9d9dd"/><polygon points="208.0,211.4 214.7,211.4 217.5,209.6 210.8,209.6" fill="#ffffff"/></g><g stroke="#909094" stroke-width="0.5" stroke-linejoin="round"><polygon points="198.7,228.7 204.7,228.7 204.7,218.7 198.7,218.7" fill="#f5f5f5"/><polygon points="204.7,228.7 207.5,226.9 207.5,216.9 204.7,218.7" fill="#d9d9dd"/><polygon points="198.7,218.7 204.7,218.7 207.5,216.9 201.5,216.9" fill="#ffffff"/></g><g stroke="#909094" stroke-width="0.5" stroke-linejoin="round"><polygon points="221.3,228.7 228.0,228.7 228.0,217.4 221.3,217.4" fill="#f5f5f5"/><polygon points="228.0,228.7 230.8,226.9 230.8,215.6 228.0,217.4" fill="#d9d9dd"/><polygon points="221.3,217.4 228.0,217.4 230.8,215.6 224.1,215.6" fill="#ffffff"/></g><g stroke="#909094" stroke-width="0.5" stroke-linejoin="round"><polygon points="236.0,228.7 243.3,228.7 243.3,214.0 236.0,214.0" fill="#f5f5f5"/><polygon points="243.3,228.7 246.1,226.9 246.1,212.2 243.3,214.0" fill="#d9d9dd"/><polygon points="236.0,214.0 243.3,214.0 246.1,212.2 238.8,212.2" fill="#ffffff"/></g><g stroke="#909094" stroke-width="0.5" stroke-linejoin="round"><polygon points="228.5,231.0 234.5,231.0 234.5,222.0 228.5,222.0" fill="#f5f5f5"/><polygon points="234.5,231.0 237.3,229.2 237.3,220.2 234.5,222.0" fill="#d9d9dd"/><polygon points="228.5,222.0 234.5,222.0 237.3,220.2 231.3,220.2" fill="#ffffff"/></g><g stroke="#909094" stroke-width="0.5" stroke-linejoin="round"><polygon points="214.7,232.0 221.4,232.0 221.4,222.7 214.7,222.7" fill="#f5f5f5"/><polygon points="221.4,232.0 224.2,230.2 224.2,220.9 221.4,222.7" fill="#d9d9dd"/><polygon points="214.7,222.7 221.4,222.7 224.2,220.9 217.5,220.9" fill="#ffffff"/></g><g stroke="#909094" stroke-width="0.5" stroke-linejoin="round"><polygon points="192.0,232.5 197.5,232.5 197.5,224.5 192.0,224.5" fill="#f5f5f5"/><polygon points="197.5,232.5 200.3,230.7 200.3,222.7 197.5,224.5" fill="#d9d9dd"/><polygon points="192.0,224.5 197.5,224.5 200.3,222.7 194.8,222.7" fill="#ffffff"/></g><g stroke="#909094" stroke-width="0.5" stroke-linejoin="round"><polygon points="243.5,233.0 249.5,233.0 249.5,225.0 243.5,225.0" fill="#f5f5f5"/><polygon points="249.5,233.0 252.3,231.2 252.3,223.2 249.5,225.0" fill="#d9d9dd"/><polygon points="243.5,225.0 249.5,225.0 252.3,223.2 246.3,223.2" fill="#ffffff"/></g><g stroke="#909094" stroke-width="0.5" stroke-linejoin="round"><polygon points="186.7,236.0 193.4,236.0 193.4,224.0 186.7,224.0" fill="#f5f5f5"/><polygon points="193.4,236.0 196.2,234.2 196.2,222.2 193.4,224.0" fill="#d9d9dd"/><polygon points="186.7,224.0 193.4,224.0 196.2,222.2 189.5,222.2" fill="#ffffff"/></g><g stroke="#909094" stroke-width="0.5" stroke-linejoin="round"><polygon points="225.3,236.0 233.3,236.0 233.3,223.3 225.3,223.3" fill="#f5f5f5"/><polygon points="233.3,236.0 236.1,234.2 236.1,221.5 233.3,223.3" fill="#d9d9dd"/><polygon points="225.3,223.3 233.3,223.3 236.1,221.5 228.1,221.5" fill="#ffffff"/></g><g stroke="#909094" stroke-width="0.5" stroke-linejoin="round"><polygon points="208.0,237.3 216.0,237.3 216.0,226.0 208.0,226.0" fill="#f5f5f5"/><polygon points="216.0,237.3 218.8,235.5 218.8,224.2 216.0,226.0" fill="#d9d9dd"/><polygon points="208.0,226.0 216.0,226.0 218.8,224.2 210.8,224.2" fill="#ffffff"/></g><g stroke="#909094" stroke-width="0.5" stroke-linejoin="round"><polygon points="247.0,238.0 252.5,238.0 252.5,230.0 247.0,230.0" fill="#f5f5f5"/><polygon points="252.5,238.0 255.3,236.2 255.3,228.2 252.5,230.0" fill="#d9d9dd"/><polygon points="247.0,230.0 252.5,230.0 255.3,228.2 249.8,228.2" fill="#ffffff"/></g><g stroke="#909094" stroke-width="0.5" stroke-linejoin="round"><polygon points="194.7,238.7 202.0,238.7 202.0,226.7 194.7,226.7" fill="#f5f5f5"/><polygon points="202.0,238.7 204.8,236.9 204.8,224.9 202.0,226.7" fill="#d9d9dd"/><polygon points="194.7,226.7 202.0,226.7 204.8,224.9 197.5,224.9" fill="#ffffff"/></g><g stroke="#909094" stroke-width="0.5" stroke-linejoin="round"><polygon points="233.3,238.7 241.3,238.7 241.3,226.0 233.3,226.0" fill="#f5f5f5"/><polygon points="241.3,238.7 244.1,236.9 244.1,224.2 241.3,226.0" fill="#d9d9dd"/><polygon points="233.3,226.0 241.3,226.0 244.1,224.2 236.1,224.2" fill="#ffffff"/></g><g stroke="#909094" stroke-width="0.5" stroke-linejoin="round"><polygon points="201.5,241.0 207.5,241.0 207.5,231.0 201.5,231.0" fill="#f5f5f5"/><polygon points="207.5,241.0 210.3,239.2 210.3,229.2 207.5,231.0" fill="#d9d9dd"/><polygon points="201.5,231.0 207.5,231.0 210.3,229.2 204.3,229.2" fill="#ffffff"/></g><g stroke="#909094" stroke-width="0.5" stroke-linejoin="round"><polygon points="217.0,241.5 223.5,241.5 223.5,231.5 217.0,231.5" fill="#f5f5f5"/><polygon points="223.5,241.5 226.3,239.7 226.3,229.7 223.5,231.5" fill="#d9d9dd"/><polygon points="217.0,231.5 223.5,231.5 226.3,229.7 219.8,229.7" fill="#ffffff"/></g><g stroke="#909094" stroke-width="0.5" stroke-linejoin="round"><polygon points="242.7,242.7 250.7,242.7 250.7,230.7 242.7,230.7" fill="#f5f5f5"/><polygon points="250.7,242.7 253.5,240.9 253.5,228.9 250.7,230.7" fill="#d9d9dd"/><polygon points="242.7,230.7 250.7,230.7 253.5,228.9 245.5,228.9" fill="#ffffff"/></g><g stroke="#909094" stroke-width="0.5" stroke-linejoin="round"><polygon points="189.5,243.0 195.5,243.0 195.5,234.5 189.5,234.5" fill="#f5f5f5"/><polygon points="195.5,243.0 198.3,241.2 198.3,232.7 195.5,234.5" fill="#d9d9dd"/><polygon points="189.5,234.5 195.5,234.5 198.3,232.7 192.3,232.7" fill="#ffffff"/></g><g stroke="#909094" stroke-width="0.5" stroke-linejoin="round"><polygon points="235.3,246.0 241.3,246.0 241.3,236.0 235.3,236.0" fill="#f5f5f5"/><polygon points="241.3,246.0 244.1,244.2 244.1,234.2 241.3,236.0" fill="#d9d9dd"/><polygon points="235.3,236.0 241.3,236.0 244.1,234.2 238.1,234.2" fill="#ffffff"/></g><g stroke="#909094" stroke-width="0.5" stroke-linejoin="round"><polygon points="196.0,246.5 202.0,246.5 202.0,237.5 196.0,237.5" fill="#f5f5f5"/><polygon points="202.0,246.5 204.8,244.7 204.8,235.7 202.0,237.5" fill="#d9d9dd"/><polygon points="196.0,237.5 202.0,237.5 204.8,235.7 198.8,235.7" fill="#ffffff"/></g><g stroke="#909094" stroke-width="0.5" stroke-linejoin="round"><polygon points="229.3,247.3 236.0,247.3 236.0,234.0 229.3,234.0" fill="#f5f5f5"/><polygon points="236.0,247.3 238.8,245.5 238.8,232.2 236.0,234.0" fill="#d9d9dd"/><polygon points="229.3,234.0 236.0,234.0 238.8,232.2 232.1,232.2" fill="#ffffff"/></g><g stroke="#909094" stroke-width="0.5" stroke-linejoin="round"><polygon points="241.0,247.5 246.5,247.5 246.5,240.5 241.0,240.5" fill="#f5f5f5"/><polygon points="246.5,247.5 249.3,245.7 249.3,238.7 246.5,240.5" fill="#d9d9dd"/><polygon points="241.0,240.5 246.5,240.5 249.3,238.7 243.8,238.7" fill="#ffffff"/></g><g stroke="#909094" stroke-width="0.5" stroke-linejoin="round"><polygon points="202.0,248.0 208.7,248.0 208.7,233.3 202.0,233.3" fill="#f5f5f5"/><polygon points="208.7,248.0 211.5,246.2 211.5,231.5 208.7,233.3" fill="#d9d9dd"/><polygon points="202.0,233.3 208.7,233.3 211.5,231.5 204.8,231.5" fill="#ffffff"/></g><g stroke="#909094" stroke-width="0.5" stroke-linejoin="round"><polygon points="209.3,250.0 220.0,250.0 220.0,236.7 209.3,236.7" fill="#f5f5f5"/><polygon points="220.0,250.0 222.8,248.2 222.8,234.9 220.0,236.7" fill="#d9d9dd"/><polygon points="209.3,236.7 220.0,236.7 222.8,234.9 212.1,234.9" fill="#ffffff"/></g><g stroke="#909094" stroke-width="0.5" stroke-linejoin="round"><polygon points="220.7,250.0 228.0,250.0 228.0,236.0 220.7,236.0" fill="#f5f5f5"/><polygon points="228.0,250.0 230.8,248.2 230.8,234.2 228.0,236.0" fill="#d9d9dd"/><polygon points="220.7,236.0 228.0,236.0 230.8,234.2 223.5,234.2" fill="#ffffff"/></g><polygon points="279,210.5 281.5,206 285,208.5 285,212.3 279,212.3" transform="translate(0,0)" fill="#a9dcea" stroke="#4a8a9a" stroke-width="0.5"/><polygon points="130,276.5 133,271.5 137,273.5 137,277.3 130,277.3" transform="translate(0,0)" fill="#a9dcea" stroke="#4a8a9a" stroke-width="0.5"/><rect x="187.1" y="218.3" width="1.3" height="4.1" fill="#7a4a2a"/><circle cx="187.7" cy="216.2" r="2.9" fill="#3fa35f" stroke="#1f6b3a" stroke-width="0.6"/><rect x="147.4" y="233.4" width="1.3" height="4.1" fill="#7a4a2a"/><circle cx="148.0" cy="231.3" r="2.9" fill="#3fa35f" stroke="#1f6b3a" stroke-width="0.6"/><rect x="160.2" y="238.1" width="1.3" height="4.1" fill="#7a4a2a"/><circle cx="160.8" cy="236.0" r="2.9" fill="#3fa35f" stroke="#1f6b3a" stroke-width="0.6"/><rect x="167.2" y="232.3" width="1.3" height="4.1" fill="#7a4a2a"/><circle cx="167.8" cy="230.2" r="2.9" fill="#3fa35f" stroke="#1f6b3a" stroke-width="0.6"/><rect x="163.7" y="246.3" width="1.3" height="4.1" fill="#7a4a2a"/><circle cx="164.3" cy="244.2" r="2.9" fill="#3fa35f" stroke="#1f6b3a" stroke-width="0.6"/><rect x="177.7" y="257.9" width="1.3" height="4.1" fill="#7a4a2a"/><circle cx="178.3" cy="255.8" r="2.9" fill="#3fa35f" stroke="#1f6b3a" stroke-width="0.6"/><rect x="195.2" y="253.3" width="1.3" height="4.1" fill="#7a4a2a"/><circle cx="195.8" cy="251.2" r="2.9" fill="#3fa35f" stroke="#1f6b3a" stroke-width="0.6"/><rect x="262.9" y="221.8" width="1.3" height="4.1" fill="#7a4a2a"/><circle cx="263.5" cy="219.7" r="2.9" fill="#3fa35f" stroke="#1f6b3a" stroke-width="0.6"/><rect x="259.4" y="247.4" width="1.3" height="4.1" fill="#7a4a2a"/><circle cx="260.0" cy="245.3" r="2.9" fill="#3fa35f" stroke="#1f6b3a" stroke-width="0.6"/><rect x="252.4" y="256.8" width="1.3" height="4.1" fill="#7a4a2a"/><circle cx="253.0" cy="254.7" r="2.9" fill="#3fa35f" stroke="#1f6b3a" stroke-width="0.6"/><rect x="237.2" y="260.3" width="1.3" height="4.1" fill="#7a4a2a"/><circle cx="237.8" cy="258.2" r="2.9" fill="#3fa35f" stroke="#1f6b3a" stroke-width="0.6"/><rect x="189.9" y="207.1" width="1.3" height="4.6" fill="#7a4a2a"/><circle cx="190.5" cy="204.5" r="3.4" fill="#3fa35f" stroke="#1f6b3a" stroke-width="0.6"/><rect x="193.9" y="206.1" width="1.3" height="4.6" fill="#7a4a2a"/><circle cx="194.5" cy="203.5" r="3.4" fill="#3fa35f" stroke="#1f6b3a" stroke-width="0.6"/><rect x="276.4" y="210.6" width="1.3" height="4.6" fill="#7a4a2a"/><circle cx="277.0" cy="208.0" r="3.4" fill="#3fa35f" stroke="#1f6b3a" stroke-width="0.6"/><rect x="286.4" y="211.8" width="1.3" height="4.6" fill="#7a4a2a"/><circle cx="287.0" cy="209.2" r="3.4" fill="#3fa35f" stroke="#1f6b3a" stroke-width="0.6"/><rect x="103.5" y="250.0" width="1.3" height="4.6" fill="#7a4a2a"/><circle cx="104.1" cy="247.4" r="3.4" fill="#3fa35f" stroke="#1f6b3a" stroke-width="0.6"/><rect x="121.7" y="276.9" width="1.3" height="4.6" fill="#7a4a2a"/><circle cx="122.3" cy="274.3" r="3.4" fill="#3fa35f" stroke="#1f6b3a" stroke-width="0.6"/><rect x="126.4" y="275.6" width="1.3" height="4.6" fill="#7a4a2a"/><circle cx="127.0" cy="273.0" r="3.4" fill="#3fa35f" stroke="#1f6b3a" stroke-width="0.6"/><rect x="150.2" y="275.9" width="1.3" height="4.6" fill="#7a4a2a"/><circle cx="150.8" cy="273.3" r="3.4" fill="#3fa35f" stroke="#1f6b3a" stroke-width="0.6"/><rect x="217.4" y="275.9" width="1.3" height="4.6" fill="#7a4a2a"/><circle cx="218.0" cy="273.3" r="3.4" fill="#3fa35f" stroke="#1f6b3a" stroke-width="0.6"/><g stroke="#1e1e1e" stroke-width="1.3" fill="none"><path d="M134.5,178.8 L153.8,218.5"/><path d="M143.8,171.8 L179.5,238.3"/><path d="M258.1,167.8 L223.1,224.3"/><path d="M203.5,261.2 L183.7,306.1"/><path d="M274.4,261.2 L293.8,306.1"/></g></g><g transform="translate(0,0)"><clipPath id="cc0"><polygon points="413.1,200.5 579.5,200.5 627.8,285.0 364.8,285.0"/></clipPath><g clip-path="url(#cc0)"><polygon points="413.1,200.5 579.5,200.5 627.8,285.0 364.8,285.0" fill="#dcefca"/><path d="M582.7,217.1L583.9,220.4M584.5,215.9V220.4M586.4,216.9L585.1,220.4" stroke="#a5dca0" stroke-width="1.01" fill="none" stroke-linecap="round"/><path d="M555.9,205.0L557.1,208.1M557.6,204.0V208.1M559.3,204.8L558.2,208.1" stroke="#a5dca0" stroke-width="0.94" fill="none" stroke-linecap="round"/><path d="M411.7,228.2L413.0,231.7M413.6,227.0V231.7M415.6,228.0L414.3,231.7" stroke="#a5dca0" stroke-width="1.08" fill="none" stroke-linecap="round"/><path d="M401.5,233.6L403.0,237.4M403.6,232.2V237.4M405.8,233.3L404.3,237.4" stroke="#a5dca0" stroke-width="1.17" fill="none" stroke-linecap="round"/><path d="M425.5,202.2L426.7,205.5M427.3,201.0V205.5M429.2,202.0L427.9,205.5" stroke="#a5dca0" stroke-width="1.02" fill="none" stroke-linecap="round"/><path d="M405.6,208.3L406.7,211.3M407.2,207.2V211.3M408.9,208.1L407.8,211.3" stroke="#a5dca0" stroke-width="0.92" fill="none" stroke-linecap="round"/><path d="M399.4,217.1L400.6,220.3M401.2,215.9V220.3M403.0,216.9L401.8,220.3" stroke="#a5dca0" stroke-width="0.99" fill="none" stroke-linecap="round"/><path d="M565.8,218.7L567.1,222.1M567.7,217.4V222.1M569.7,218.5L568.4,222.1" stroke="#a5dca0" stroke-width="1.06" fill="none" stroke-linecap="round"/><path d="M597.5,234.2L598.9,237.9M599.5,232.9V237.9M601.7,233.9L600.2,237.9" stroke="#a5dca0" stroke-width="1.13" fill="none" stroke-linecap="round"/><path d="M407.7,227.1L408.9,230.3M409.4,226.0V230.3M411.2,226.9L410.0,230.3" stroke="#a5dca0" stroke-width="0.97" fill="none" stroke-linecap="round"/><path d="M566.5,213.9L567.9,217.8M568.5,212.6V217.8M570.8,213.7L569.3,217.8" stroke="#a5dca0" stroke-width="1.17" fill="none" stroke-linecap="round"/><path d="M567.1,202.1L568.2,205.0M568.7,201.0V205.0M570.4,201.9L569.3,205.0" stroke="#a5dca0" stroke-width="0.91" fill="none" stroke-linecap="round"/><path d="M579.5,216.7L581.0,220.5M581.6,215.3V220.5M583.8,216.4L582.4,220.5" stroke="#a5dca0" stroke-width="1.18" fill="none" stroke-linecap="round"/><path d="M448.6,204.8L449.8,207.9M450.3,203.7V207.9M452.1,204.6L450.9,207.9" stroke="#a5dca0" stroke-width="0.95" fill="none" stroke-linecap="round"/><path d="M591.1,227.2L592.2,230.0M592.6,226.2V230.0M594.3,227.0L593.2,230.0" stroke="#a5dca0" stroke-width="0.87" fill="none" stroke-linecap="round"/><path d="M444.0,205.6L445.1,208.3M445.5,204.6V208.3M447.1,205.4L446.0,208.3" stroke="#a5dca0" stroke-width="0.85" fill="none" stroke-linecap="round"/><path d="M556.5,207.5L557.8,210.9M558.4,206.3V210.9M560.3,207.3L559.0,210.9" stroke="#a5dca0" stroke-width="1.03" fill="none" stroke-linecap="round"/><path d="M543.1,205.9L544.5,209.3M545.0,204.6V209.3M547.0,205.6L545.7,209.3" stroke="#a5dca0" stroke-width="1.06" fill="none" stroke-linecap="round"/><path d="M417.3,215.9L418.4,218.9M418.9,214.9V218.9M420.6,215.7L419.5,218.9" stroke="#a5dca0" stroke-width="0.91" fill="none" stroke-linecap="round"/><path d="M557.6,211.3L559.1,215.0M559.7,210.0V215.0M561.9,211.1L560.4,215.0" stroke="#a5dca0" stroke-width="1.15" fill="none" stroke-linecap="round"/><path d="M568.6,223.4L569.7,226.2M570.1,222.3V226.2M571.8,223.2L570.7,226.2" stroke="#a5dca0" stroke-width="0.87" fill="none" stroke-linecap="round"/><path d="M596.2,209.0L597.3,212.0M597.8,208.0V212.0M599.6,208.8L598.4,212.0" stroke="#a5dca0" stroke-width="0.92" fill="none" stroke-linecap="round"/><path d="M411.8,221.2L413.0,224.2M413.5,220.2V224.2M415.2,221.0L414.1,224.2" stroke="#a5dca0" stroke-width="0.92" fill="none" stroke-linecap="round"/><path d="M571.1,208.1L572.2,211.0M572.6,207.1V211.0M574.3,208.0L573.2,211.0" stroke="#a5dca0" stroke-width="0.89" fill="none" stroke-linecap="round"/><path d="M579.6,229.0L580.7,232.0M581.2,227.9V232.0M583.0,228.8L581.8,232.0" stroke="#a5dca0" stroke-width="0.92" fill="none" stroke-linecap="round"/><path d="M585.7,207.7L587.2,211.5M587.8,206.3V211.5M590.0,207.4L588.5,211.5" stroke="#a5dca0" stroke-width="1.17" fill="none" stroke-linecap="round"/><path d="M574.1,221.7L575.3,224.9M575.8,220.6V224.9M577.7,221.5L576.5,224.9" stroke="#a5dca0" stroke-width="0.98" fill="none" stroke-linecap="round"/><path d="M414.2,202.4L415.7,206.3M416.3,201.1V206.3M418.5,202.2L417.0,206.3" stroke="#a5dca0" stroke-width="1.17" fill="none" stroke-linecap="round"/><path d="M407.3,209.2L408.6,212.5M409.1,208.0V212.5M411.1,209.0L409.7,212.5" stroke="#a5dca0" stroke-width="1.03" fill="none" stroke-linecap="round"/><path d="M568.1,222.2L569.3,225.3M569.7,221.2V225.3M571.5,222.0L570.3,225.3" stroke="#a5dca0" stroke-width="0.93" fill="none" stroke-linecap="round"/><path d="M581.6,209.0L582.6,211.7M583.1,208.0V211.7M584.6,208.8L583.6,211.7" stroke="#a5dca0" stroke-width="0.84" fill="none" stroke-linecap="round"/><path d="M405.7,207.7L406.9,210.8M407.4,206.6V210.8M409.2,207.5L408.0,210.8" stroke="#a5dca0" stroke-width="0.96" fill="none" stroke-linecap="round"/><path d="M594.1,223.2L595.4,226.7M596.0,221.9V226.7M598.0,222.9L596.7,226.7" stroke="#a5dca0" stroke-width="1.08" fill="none" stroke-linecap="round"/><path d="M400.1,201.8L401.6,205.6M402.2,200.5V205.6M404.4,201.6L402.9,205.6" stroke="#a5dca0" stroke-width="1.16" fill="none" stroke-linecap="round"/><path d="M397.6,222.7L398.8,226.0M399.4,221.6V226.0M401.3,222.5L400.0,226.0" stroke="#a5dca0" stroke-width="1.00" fill="none" stroke-linecap="round"/><path d="M598.0,204.1L599.3,207.5M599.9,202.9V207.5M601.8,203.9L600.5,207.5" stroke="#a5dca0" stroke-width="1.03" fill="none" stroke-linecap="round"/><path d="M577.9,230.5L579.2,233.7M579.7,229.4V233.7M581.5,230.3L580.3,233.7" stroke="#a5dca0" stroke-width="0.98" fill="none" stroke-linecap="round"/><path d="M573.6,225.9L574.8,229.0M575.4,224.7V229.0M577.2,225.7L576.0,229.0" stroke="#a5dca0" stroke-width="0.97" fill="none" stroke-linecap="round"/><path d="M410.7,227.0L411.7,229.8M412.2,226.0V229.8M413.8,226.8L412.7,229.8" stroke="#a5dca0" stroke-width="0.84" fill="none" stroke-linecap="round"/><path d="M582.2,210.7L583.3,213.4M583.7,209.7V213.4M585.3,210.5L584.2,213.4" stroke="#a5dca0" stroke-width="0.84" fill="none" stroke-linecap="round"/><path d="M434.5,206.8L435.9,210.6M436.5,205.5V210.6M438.7,206.6L437.3,210.6" stroke="#a5dca0" stroke-width="1.15" fill="none" stroke-linecap="round"/><path d="M391.1,234.0L392.4,237.5M393.0,232.8V237.5M395.0,233.8L393.7,237.5" stroke="#6fba6a" stroke-width="1.07" fill="none" stroke-linecap="round"/><path d="M394.1,235.0L395.4,238.5M396.0,233.8V238.5M398.0,234.8L396.7,238.5" stroke="#6fba6a" stroke-width="1.07" fill="none" stroke-linecap="round"/><path d="M397.1,234.0L398.4,237.5M399.0,232.8V237.5M401.0,233.8L399.7,237.5" stroke="#6fba6a" stroke-width="1.07" fill="none" stroke-linecap="round"/><path d="M400.1,235.0L401.4,238.5M402.0,233.8V238.5M404.0,234.8L402.7,238.5" stroke="#6fba6a" stroke-width="1.07" fill="none" stroke-linecap="round"/><path d="M403.1,234.0L404.4,237.5M405.0,232.8V237.5M407.0,233.8L405.7,237.5" stroke="#6fba6a" stroke-width="1.07" fill="none" stroke-linecap="round"/><path d="M421.5,245.0 A73.5,40.8 0 0,1 568.5,245.0 Z" fill="#f8ef6e"/><path d="M425.0,245.0 A71,35 0 0,1 567.0,245.0 Z" fill="#fbe628" stroke="#8d8420" stroke-width="0.8"/><path d="M464.1,245.0 A35.5,30.5 0 0,1 535.1,245.0 Z" fill="#f3a32c" stroke="#8a6a14" stroke-width="0.8"/><path d="M388.0,236.8 C402.6,236.8 402.6,241.1 417.3,241.1 C431.3,241.1 431.3,240.2 445.3,240.2 C460.5,240.2 460.5,243.5 475.7,243.5 C482.7,243.5 482.7,245.3 489.7,245.3 C506.0,245.3 506.0,244.9 522.3,244.9 C537.5,244.9 537.5,244.2 552.7,244.2 C560.9,244.2 560.9,242.5 569.0,242.5 C586.0,242.5 586.0,235.6 603.0,235.6 L629.8,287 L362.8,287 Z" fill="#c1e8f8"/><path d="M388.0,236.8 C402.6,236.8 402.6,241.1 417.3,241.1 C431.3,241.1 431.3,240.2 445.3,240.2 C460.5,240.2 460.5,243.5 475.7,243.5 C482.7,243.5 482.7,245.3 489.7,245.3 C506.0,245.3 506.0,244.9 522.3,244.9 C537.5,244.9 537.5,244.2 552.7,244.2 C560.9,244.2 560.9,242.5 569.0,242.5 C586.0,242.5 586.0,235.6 603.0,235.6" fill="none" stroke="#cfa97c" stroke-width="3.2"/><g stroke="#62c4e8" stroke-width="0.85" fill="none" stroke-linecap="round"><path d="M366.6,249.0 q4.1,-1.2 8.3,-0.1 q4.1,1.0 8.3,-0.2"/><path d="M393.7,249.0 q3.8,-1.2 7.6,0.3 q3.8,0.8 7.6,0.1 q3.8,-0.7 7.6,-0.3"/><path d="M427.9,249.0 q3.9,-1.2 7.7,0.2 q3.9,1.3 7.7,-0.2 q3.9,-0.6 7.7,-0.0"/><path d="M459.7,249.0 q3.2,-0.8 6.3,0.1 q3.2,0.9 6.3,-0.1"/><path d="M488.2,249.0 q3.2,-0.8 6.4,-0.3 q3.2,0.5 6.4,0.3 q3.2,-0.5 6.4,0.2 q3.2,0.9 6.4,-0.2"/><path d="M529.2,249.0 q4.7,-0.6 9.3,-0.0"/><path d="M543.9,249.0 q3.9,-0.6 7.7,-0.3 q3.9,0.5 7.7,0.1 q3.9,-0.8 7.7,0.1"/><path d="M580.5,249.0 q3.8,-1.3 7.6,0.1 q3.8,0.6 7.6,-0.0 q3.8,-0.6 7.6,-0.4"/><path d="M614.3,249.0 q3.5,-0.6 7.0,-0.2 q3.5,0.7 7.0,0.2 q3.5,-0.9 7.0,0.1"/><path d="M363.9,253.2 q3.7,-1.2 7.5,-0.3 q3.7,1.3 7.5,0.2 q3.7,-0.6 7.5,-0.0"/><path d="M399.5,253.2 q3.1,-0.8 6.1,0.1 q3.1,1.2 6.1,0.2 q3.1,-1.3 6.1,-0.0 q3.1,1.0 6.1,-0.2"/><path d="M438.4,253.2 q3.8,-1.0 7.6,0.2 q3.8,0.6 7.6,0.3 q3.8,-1.3 7.6,0.4"/><path d="M473.3,253.2 q3.7,-0.7 7.5,0.3 q3.7,1.2 7.5,-0.1 q3.7,-0.5 7.5,-0.0"/><path d="M507.9,253.2 q3.7,-0.9 7.4,-0.4 q3.7,1.2 7.4,-0.3 q3.7,-1.1 7.4,-0.3"/><path d="M539.3,253.2 q3.7,-0.6 7.5,-0.3 q3.7,0.9 7.5,0.2 q3.7,-1.2 7.5,0.2"/><path d="M579.0,253.2 q4.3,-1.3 8.7,-0.3 q4.3,0.6 8.7,0.0"/><path d="M605.1,253.2 q3.6,-1.0 7.1,0.0 q3.6,1.2 7.1,0.0 q3.6,-0.7 7.1,-0.1"/><path d="M369.0,257.4 q3.1,-1.2 6.3,0.4 q3.1,0.9 6.3,0.1"/><path d="M389.2,257.4 q3.0,-0.9 6.0,0.1 q3.0,0.5 6.0,0.4 q3.0,-0.9 6.0,-0.1"/><path d="M422.7,257.4 q3.1,-0.9 6.2,0.2 q3.1,0.5 6.2,0.0 q3.1,-0.8 6.2,0.4"/><path d="M458.3,257.4 q3.4,-0.9 6.8,-0.3 q3.4,0.8 6.8,0.3"/><path d="M488.5,257.4 q4.3,-0.7 8.6,-0.2 q4.3,1.0 8.6,0.3"/><path d="M512.3,257.4 q3.7,-0.5 7.4,-0.2 q3.7,0.6 7.4,0.1 q3.7,-0.7 7.4,-0.1"/><path d="M547.6,257.4 q5.4,-1.1 10.8,-0.3"/><path d="M570.0,257.4 q3.3,-0.6 6.6,0.0 q3.3,0.8 6.6,-0.1"/><path d="M593.7,257.4 q4.5,-0.6 9.0,-0.2 q4.5,1.0 9.0,0.1"/><path d="M623.6,257.4 q3.9,-1.0 7.8,0.3 q3.9,0.6 7.8,0.2 q3.9,-1.2 7.8,0.3"/><path d="M363.1,261.6 q3.1,-0.6 6.2,0.4 q3.1,1.2 6.2,-0.3 q3.1,-0.7 6.2,0.2 q3.1,0.7 6.2,-0.3"/><path d="M403.7,261.6 q4.0,-1.1 8.1,-0.3 q4.0,0.8 8.1,0.1"/><path d="M425.1,261.6 q3.1,-1.0 6.2,0.3 q3.1,1.3 6.2,-0.3"/><path d="M449.0,261.6 q3.6,-0.9 7.3,0.1 q3.6,0.6 7.3,-0.3 q3.6,-0.5 7.3,-0.4"/><path d="M483.1,261.6 q4.4,-0.9 8.9,-0.3 q4.4,0.6 8.9,-0.2"/><path d="M516.8,261.6 q3.2,-1.3 6.5,-0.3 q3.2,0.5 6.5,0.4 q3.2,-0.8 6.5,0.2 q3.2,0.7 6.5,-0.0"/><path d="M554.3,261.6 q4.1,-1.0 8.2,-0.4 q4.1,1.1 8.2,0.3"/><path d="M578.0,261.6 q4.2,-1.1 8.4,-0.1 q4.2,0.6 8.4,-0.3"/><path d="M606.4,261.6 q4.6,-1.2 9.3,0.2"/><path d="M629.8,261.6 q3.9,-1.0 7.9,-0.1 q3.9,1.0 7.9,0.0 q3.9,-1.3 7.9,0.2"/><path d="M369.1,265.8 q3.6,-1.1 7.2,0.3 q3.6,0.8 7.2,0.3 q3.6,-1.2 7.2,0.2"/><path d="M405.7,265.8 q3.7,-0.8 7.3,0.2 q3.7,0.5 7.3,-0.1 q3.7,-0.9 7.3,-0.4"/><path d="M437.4,265.8 q3.3,-1.0 6.6,-0.2 q3.3,1.3 6.6,0.1 q3.3,-0.7 6.6,0.1"/><path d="M469.6,265.8 q3.0,-0.8 6.0,0.4 q3.0,1.0 6.0,0.2 q3.0,-1.1 6.0,0.4"/><path d="M493.0,265.8 q3.2,-1.1 6.5,-0.2 q3.2,0.8 6.5,-0.4 q3.2,-0.6 6.5,-0.1"/><path d="M518.7,265.8 q3.3,-1.2 6.6,0.0 q3.3,0.9 6.6,0.4"/><path d="M544.4,265.8 q3.2,-1.0 6.5,0.2 q3.2,0.5 6.5,0.1 q3.2,-1.1 6.5,-0.4 q3.2,1.3 6.5,-0.3"/><path d="M581.4,265.8 q5.9,-0.9 11.9,0.1"/><path d="M599.1,265.8 q3.1,-0.8 6.3,0.0 q3.1,1.0 6.3,-0.1 q3.1,-0.7 6.3,0.1 q3.1,0.9 6.3,-0.2"/><path d="M363.0,270.0 q4.6,-0.7 9.2,-0.4"/><path d="M379.2,270.0 q3.6,-0.8 7.3,0.3 q3.6,1.1 7.3,-0.4 q3.6,-1.3 7.3,0.4"/><path d="M407.0,270.0 q3.0,-0.8 6.1,-0.0 q3.0,1.3 6.1,-0.2 q3.0,-0.9 6.1,0.3 q3.0,1.1 6.1,-0.0"/><path d="M449.1,270.0 q3.8,-1.0 7.6,-0.3 q3.8,1.0 7.6,-0.0 q3.8,-0.6 7.6,-0.4"/><path d="M483.9,270.0 q5.6,-0.8 11.1,0.1"/><path d="M505.9,270.0 q3.4,-1.0 6.7,-0.1 q3.4,1.1 6.7,0.0"/><path d="M537.3,270.0 q3.1,-1.1 6.3,-0.2 q3.1,0.5 6.3,0.3 q3.1,-1.1 6.3,0.1 q3.1,0.8 6.3,-0.2"/><path d="M576.4,270.0 q3.1,-1.0 6.2,0.1 q3.1,1.1 6.2,-0.2 q3.1,-0.7 6.2,0.4"/><path d="M612.0,270.0 q4.0,-0.5 8.0,-0.4 q4.0,0.7 8.0,-0.1 q4.0,-1.0 8.0,-0.3"/><path d="M360.7,274.2 q5.2,-1.0 10.5,0.0"/><path d="M384.4,274.2 q3.8,-0.9 7.7,-0.2 q3.8,0.7 7.7,0.2"/><path d="M415.6,274.2 q5.1,-0.5 10.3,0.2"/><path d="M439.0,274.2 q3.7,-0.6 7.4,-0.1 q3.7,0.7 7.4,0.2 q3.7,-0.8 7.4,0.1"/><path d="M478.9,274.2 q3.6,-0.9 7.3,0.2 q3.6,1.3 7.3,-0.1"/><path d="M503.3,274.2 q5.3,-1.2 10.6,-0.3"/><path d="M520.0,274.2 q3.1,-0.9 6.2,0.1 q3.1,0.7 6.2,0.2 q3.1,-0.5 6.2,-0.2"/><path d="M552.2,274.2 q5.2,-0.7 10.4,0.2"/><path d="M576.6,274.2 q3.5,-0.6 6.9,-0.1 q3.5,1.1 6.9,-0.1"/><path d="M597.0,274.2 q3.5,-0.9 7.0,0.3 q3.5,1.3 7.0,0.3 q3.5,-0.8 7.0,0.2"/><path d="M627.0,274.2 q3.6,-0.8 7.2,0.3 q3.6,1.2 7.2,-0.2"/><path d="M363.7,278.4 q3.8,-0.8 7.6,-0.1 q3.8,0.6 7.6,0.1"/><path d="M394.2,278.4 q3.0,-1.2 6.1,0.1 q3.0,0.6 6.1,0.2 q3.0,-1.2 6.1,-0.2"/><path d="M417.7,278.4 q4.4,-0.9 8.9,0.1 q4.4,1.3 8.9,0.1"/><path d="M450.9,278.4 q5.0,-0.9 10.1,0.2"/><path d="M467.1,278.4 q5.2,-1.1 10.4,0.3"/><path d="M483.6,278.4 q3.3,-0.6 6.6,0.2 q3.3,1.0 6.6,-0.2 q3.3,-0.6 6.6,0.2"/><path d="M515.1,278.4 q3.7,-0.8 7.3,-0.1 q3.7,1.3 7.3,0.1 q3.7,-0.9 7.3,0.0"/><path d="M551.5,278.4 q3.5,-1.2 7.0,-0.1 q3.5,1.2 7.0,0.1 q3.5,-1.2 7.0,0.2"/><path d="M588.4,278.4 q3.0,-1.3 6.0,0.1 q3.0,0.9 6.0,0.2 q3.0,-1.1 6.0,-0.1 q3.0,0.8 6.0,-0.3"/><path d="M627.1,278.4 q3.2,-0.8 6.5,-0.3 q3.2,0.6 6.5,-0.1 q3.2,-0.7 6.5,0.4 q3.2,0.5 6.5,-0.2"/><path d="M366.5,282.6 q3.7,-0.6 7.4,-0.4 q3.7,0.8 7.4,0.1 q3.7,-1.2 7.4,-0.4"/><path d="M395.1,282.6 q3.0,-0.6 6.1,-0.2 q3.0,1.1 6.1,0.1"/><path d="M415.1,282.6 q3.0,-0.7 6.1,-0.3 q3.0,1.1 6.1,-0.2"/><path d="M439.4,282.6 q3.8,-0.9 7.6,-0.2 q3.8,1.2 7.6,0.3 q3.8,-0.7 7.6,0.0"/><path d="M479.7,282.6 q4.3,-0.6 8.6,-0.4 q4.3,1.3 8.6,0.2"/><path d="M506.9,282.6 q4.5,-0.9 9.0,-0.2 q4.5,1.3 9.0,0.1"/><path d="M533.0,282.6 q4.6,-0.9 9.2,-0.1"/><path d="M557.5,282.6 q3.5,-1.0 7.0,-0.3 q3.5,0.6 7.0,-0.1 q3.5,-0.7 7.0,0.3"/><path d="M590.4,282.6 q3.3,-1.3 6.6,-0.2 q3.3,0.9 6.6,-0.3 q3.3,-1.1 6.6,-0.4"/><path d="M625.9,282.6 q3.9,-1.2 7.8,-0.3 q3.9,0.7 7.8,0.2 q3.9,-0.5 7.8,-0.0"/></g></g><polygon points="413.1,200.5 579.5,200.5 627.8,285.0 364.8,285.0" fill="none" stroke="#727272" stroke-width="1.7"/><g stroke="#857814" stroke-width="0.5" stroke-linejoin="round"><polygon points="431.0,228.0 440.0,228.0 440.0,224.0 431.0,224.0" fill="#fbe94a"/><polygon points="440.0,228.0 443.0,226.0 443.0,222.0 440.0,224.0" fill="#f1d22c"/><polygon points="431.0,224.0 440.0,224.0 443.0,222.0 434.0,222.0" fill="#fdf17c"/></g><g stroke="#857814" stroke-width="0.5" stroke-linejoin="round"><polygon points="441.0,226.0 448.0,226.0 448.0,222.5 441.0,222.5" fill="#fbe94a"/><polygon points="448.0,226.0 451.0,224.0 451.0,220.5 448.0,222.5" fill="#f1d22c"/><polygon points="441.0,222.5 448.0,222.5 451.0,220.5 444.0,220.5" fill="#fdf17c"/></g><g stroke="#857814" stroke-width="0.5" stroke-linejoin="round"><polygon points="447.0,228.5 453.0,228.5 453.0,225.5 447.0,225.5" fill="#fbe94a"/><polygon points="453.0,228.5 456.0,226.5 456.0,223.5 453.0,225.5" fill="#f1d22c"/><polygon points="447.0,225.5 453.0,225.5 456.0,223.5 450.0,223.5" fill="#fdf17c"/></g><g stroke="#857814" stroke-width="0.5" stroke-linejoin="round"><polygon points="430.5,224.0 433.5,224.0 433.5,219.0 430.5,219.0" fill="#fbe94a"/><polygon points="433.5,224.0 435.0,223.0 435.0,218.0 433.5,219.0" fill="#f1d22c"/><polygon points="430.5,219.0 433.5,219.0 435.0,218.0 432.0,218.0" fill="#fdf17c"/></g><g stroke="#857814" stroke-width="0.6" stroke-linejoin="round"><polygon points="459.0,221.0 462.8,221.0 462.8,218.7 459.0,218.7" fill="#fdf08a"/><polygon points="462.8,221.0 464.8,219.7 464.8,217.4 462.8,218.7" fill="#fdf08a"/><polygon points="459.0,218.7 462.8,218.7 464.8,217.4 461.0,217.4" fill="#fdf08a"/></g><g stroke="#857814" stroke-width="0.6" stroke-linejoin="round"><polygon points="463.0,225.0 466.8,225.0 466.8,222.7 463.0,222.7" fill="#fdf08a"/><polygon points="466.8,225.0 468.8,223.7 468.8,221.4 466.8,222.7" fill="#fdf08a"/><polygon points="463.0,222.7 466.8,222.7 468.8,221.4 465.0,221.4" fill="#fdf08a"/></g><g stroke="#857814" stroke-width="0.6" stroke-linejoin="round"><polygon points="457.0,227.0 460.8,227.0 460.8,224.7 457.0,224.7" fill="#fdf08a"/><polygon points="460.8,227.0 462.8,225.7 462.8,223.4 460.8,224.7" fill="#fdf08a"/><polygon points="457.0,224.7 460.8,224.7 462.8,223.4 459.0,223.4" fill="#fdf08a"/></g><g stroke="#857814" stroke-width="0.6" stroke-linejoin="round"><polygon points="478.0,218.0 481.8,218.0 481.8,215.7 478.0,215.7" fill="#fdf08a"/><polygon points="481.8,218.0 483.8,216.7 483.8,214.4 481.8,215.7" fill="#fdf08a"/><polygon points="478.0,215.7 481.8,215.7 483.8,214.4 480.0,214.4" fill="#fdf08a"/></g><g stroke="#857814" stroke-width="0.6" stroke-linejoin="round"><polygon points="503.0,214.5 506.8,214.5 506.8,212.2 503.0,212.2" fill="#fdf08a"/><polygon points="506.8,214.5 508.8,213.2 508.8,210.9 506.8,212.2" fill="#fdf08a"/><polygon points="503.0,212.2 506.8,212.2 508.8,210.9 505.0,210.9" fill="#fdf08a"/></g><g stroke="#857814" stroke-width="0.6" stroke-linejoin="round"><polygon points="518.0,216.0 521.8,216.0 521.8,213.7 518.0,213.7" fill="#fdf08a"/><polygon points="521.8,216.0 523.8,214.7 523.8,212.4 521.8,213.7" fill="#fdf08a"/><polygon points="518.0,213.7 521.8,213.7 523.8,212.4 520.0,212.4" fill="#fdf08a"/></g><g stroke="#857814" stroke-width="0.6" stroke-linejoin="round"><polygon points="538.0,224.0 541.8,224.0 541.8,221.7 538.0,221.7" fill="#fdf08a"/><polygon points="541.8,224.0 543.8,222.7 543.8,220.4 541.8,221.7" fill="#fdf08a"/><polygon points="538.0,221.7 541.8,221.7 543.8,220.4 540.0,220.4" fill="#fdf08a"/></g><g stroke="#857814" stroke-width="0.6" stroke-linejoin="round"><polygon points="541.0,229.0 544.8,229.0 544.8,226.7 541.0,226.7" fill="#fdf08a"/><polygon points="544.8,229.0 546.8,227.7 546.8,225.4 544.8,226.7" fill="#fdf08a"/><polygon points="541.0,226.7 544.8,226.7 546.8,225.4 543.0,225.4" fill="#fdf08a"/></g><g stroke="#857814" stroke-width="0.6" stroke-linejoin="round"><polygon points="543.0,219.0 546.8,219.0 546.8,216.7 543.0,216.7" fill="#fdf08a"/><polygon points="546.8,219.0 548.8,217.7 548.8,215.4 546.8,216.7" fill="#fdf08a"/><polygon points="543.0,216.7 546.8,216.7 548.8,215.4 545.0,215.4" fill="#fdf08a"/></g><g stroke="#857814" stroke-width="0.6" stroke-linejoin="round"><polygon points="452.0,237.0 455.8,237.0 455.8,234.7 452.0,234.7" fill="#fdf08a"/><polygon points="455.8,237.0 457.8,235.7 457.8,233.4 455.8,234.7" fill="#fdf08a"/><polygon points="452.0,234.7 455.8,234.7 457.8,233.4 454.0,233.4" fill="#fdf08a"/></g><g stroke="#857814" stroke-width="0.6" stroke-linejoin="round"><polygon points="438.0,238.5 441.8,238.5 441.8,236.2 438.0,236.2" fill="#fdf08a"/><polygon points="441.8,238.5 443.8,237.2 443.8,234.9 441.8,236.2" fill="#fdf08a"/><polygon points="438.0,236.2 441.8,236.2 443.8,234.9 440.0,234.9" fill="#fdf08a"/></g><ellipse cx="551" cy="237" rx="12.5" ry="6.8" fill="#fbe628" stroke="#857814" stroke-width="0.7"/><g stroke="#857814" stroke-width="0.5" stroke-linejoin="round"><polygon points="541.0,240.0 547.0,240.0 547.0,236.5 541.0,236.5" fill="#fbe94a"/><polygon points="547.0,240.0 549.5,238.4 549.5,234.9 547.0,236.5" fill="#f1d22c"/><polygon points="541.0,236.5 547.0,236.5 549.5,234.9 543.5,234.9" fill="#fdf17c"/></g><g stroke="#857814" stroke-width="0.5" stroke-linejoin="round"><polygon points="548.0,242.0 554.5,242.0 554.5,238.5 548.0,238.5" fill="#fbe94a"/><polygon points="554.5,242.0 557.0,240.4 557.0,236.9 554.5,238.5" fill="#f1d22c"/><polygon points="548.0,238.5 554.5,238.5 557.0,236.9 550.5,236.9" fill="#fdf17c"/></g><g stroke="#857814" stroke-width="0.5" stroke-linejoin="round"><polygon points="552.0,237.0 558.0,237.0 558.0,233.5 552.0,233.5" fill="#fbe94a"/><polygon points="558.0,237.0 560.5,235.4 560.5,231.9 558.0,233.5" fill="#f1d22c"/><polygon points="552.0,233.5 558.0,233.5 560.5,231.9 554.5,231.9" fill="#fdf17c"/></g><g stroke="#9a4a1c" stroke-width="0.45" stroke-linejoin="round"><polygon points="482.1,230.1 487.1,230.1 487.1,217.4 482.1,217.4" fill="#f0955a"/><polygon points="487.1,230.1 489.3,228.7 489.3,216.0 487.1,217.4" fill="#dd7436"/><polygon points="482.1,217.4 487.1,217.4 489.3,216.0 484.3,216.0" fill="#f6b488"/></g><g stroke="#9a4a1c" stroke-width="0.45" stroke-linejoin="round"><polygon points="488.5,230.3 493.5,230.3 493.5,217.6 488.5,217.6" fill="#f0955a"/><polygon points="493.5,230.3 495.7,228.9 495.7,216.2 493.5,217.6" fill="#dd7436"/><polygon points="488.5,217.6 493.5,217.6 495.7,216.2 490.7,216.2" fill="#f6b488"/></g><g stroke="#9a4a1c" stroke-width="0.45" stroke-linejoin="round"><polygon points="493.4,230.4 498.4,230.4 498.4,214.4 493.4,214.4" fill="#f0955a"/><polygon points="498.4,230.4 500.6,229.0 500.6,213.0 498.4,214.4" fill="#dd7436"/><polygon points="493.4,214.4 498.4,214.4 500.6,213.0 495.6,213.0" fill="#f6b488"/></g><g stroke="#9a4a1c" stroke-width="0.45" stroke-linejoin="round"><polygon points="500.2,228.7 505.2,228.7 505.2,212.7 500.2,212.7" fill="#f0955a"/><polygon points="505.2,228.7 507.4,227.3 507.4,211.3 505.2,212.7" fill="#dd7436"/><polygon points="500.2,212.7 505.2,212.7 507.4,211.3 502.4,211.3" fill="#f6b488"/></g><g stroke="#9a4a1c" stroke-width="0.45" stroke-linejoin="round"><polygon points="506.0,229.6 511.0,229.6 511.0,219.4 506.0,219.4" fill="#f0955a"/><polygon points="511.0,229.6 513.2,228.2 513.2,218.0 511.0,219.4" fill="#dd7436"/><polygon points="506.0,219.4 511.0,219.4 513.2,218.0 508.2,218.0" fill="#f6b488"/></g><g stroke="#9a4a1c" stroke-width="0.45" stroke-linejoin="round"><polygon points="512.1,228.9 517.1,228.9 517.1,219.9 512.1,219.9" fill="#f0955a"/><polygon points="517.1,228.9 519.3,227.5 519.3,218.5 517.1,219.9" fill="#dd7436"/><polygon points="512.1,219.9 517.1,219.9 519.3,218.5 514.3,218.5" fill="#f6b488"/></g><g stroke="#9a4a1c" stroke-width="0.45" stroke-linejoin="round"><polygon points="517.7,230.0 522.7,230.0 522.7,216.4 517.7,216.4" fill="#f0955a"/><polygon points="522.7,230.0 524.9,228.6 524.9,215.0 522.7,216.4" fill="#dd7436"/><polygon points="517.7,216.4 522.7,216.4 524.9,215.0 519.9,215.0" fill="#f6b488"/></g><g stroke="#9a4a1c" stroke-width="0.45" stroke-linejoin="round"><polygon points="523.6,228.8 528.6,228.8 528.6,215.8 523.6,215.8" fill="#f0955a"/><polygon points="528.6,228.8 530.8,227.4 530.8,214.4 528.6,215.8" fill="#dd7436"/><polygon points="523.6,215.8 528.6,215.8 530.8,214.4 525.8,214.4" fill="#f6b488"/></g><g stroke="#8a7a10" stroke-width="0.45" stroke-linejoin="round"><polygon points="473.6,238.8 478.8,238.8 478.8,227.4 473.6,227.4" fill="#fbe42a"/><polygon points="478.8,238.8 481.0,237.4 481.0,226.0 478.8,227.4" fill="#ecc81a"/><polygon points="473.6,227.4 478.8,227.4 481.0,226.0 475.8,226.0" fill="#fdf27a"/></g><g stroke="#8a7a10" stroke-width="0.45" stroke-linejoin="round"><polygon points="509.4,239.2 514.6,239.2 514.6,227.6 509.4,227.6" fill="#fbe42a"/><polygon points="514.6,239.2 516.8,237.8 516.8,226.2 514.6,227.6" fill="#ecc81a"/><polygon points="509.4,227.6 514.6,227.6 516.8,226.2 511.6,226.2" fill="#fdf27a"/></g><g stroke="#8a7a10" stroke-width="0.45" stroke-linejoin="round"><polygon points="479.9,239.4 485.1,239.4 485.1,227.6 479.9,227.6" fill="#fbe42a"/><polygon points="485.1,239.4 487.3,238.0 487.3,226.2 485.1,227.6" fill="#ecc81a"/><polygon points="479.9,227.6 485.1,227.6 487.3,226.2 482.1,226.2" fill="#fdf27a"/></g><g stroke="#8a7a10" stroke-width="0.45" stroke-linejoin="round"><polygon points="486.0,239.6 491.2,239.6 491.2,225.5 486.0,225.5" fill="#fbe42a"/><polygon points="491.2,239.6 493.4,238.2 493.4,224.1 491.2,225.5" fill="#ecc81a"/><polygon points="486.0,225.5 491.2,225.5 493.4,224.1 488.2,224.1" fill="#fdf27a"/></g><g stroke="#8a7a10" stroke-width="0.45" stroke-linejoin="round"><polygon points="504.0,239.6 509.2,239.6 509.2,225.5 504.0,225.5" fill="#fbe42a"/><polygon points="509.2,239.6 511.4,238.2 511.4,224.1 509.2,225.5" fill="#ecc81a"/><polygon points="504.0,225.5 509.2,225.5 511.4,224.1 506.2,224.1" fill="#fdf27a"/></g><g stroke="#8a7a10" stroke-width="0.45" stroke-linejoin="round"><polygon points="521.0,239.7 526.2,239.7 526.2,226.3 521.0,226.3" fill="#fbe42a"/><polygon points="526.2,239.7 528.4,238.3 528.4,224.9 526.2,226.3" fill="#ecc81a"/><polygon points="521.0,226.3 526.2,226.3 528.4,224.9 523.2,224.9" fill="#fdf27a"/></g><g stroke="#8a7a10" stroke-width="0.45" stroke-linejoin="round"><polygon points="527.3,240.1 532.5,240.1 532.5,226.2 527.3,226.2" fill="#fbe42a"/><polygon points="532.5,240.1 534.7,238.7 534.7,224.8 532.5,226.2" fill="#ecc81a"/><polygon points="527.3,226.2 532.5,226.2 534.7,224.8 529.5,224.8" fill="#fdf27a"/></g><g stroke="#8a7a10" stroke-width="0.45" stroke-linejoin="round"><polygon points="515.1,240.4 520.3,240.4 520.3,228.4 515.1,228.4" fill="#fbe42a"/><polygon points="520.3,240.4 522.5,239.0 522.5,227.0 520.3,228.4" fill="#ecc81a"/><polygon points="515.1,228.4 520.3,228.4 522.5,227.0 517.3,227.0" fill="#fdf27a"/></g><g stroke="#8a7a10" stroke-width="0.45" stroke-linejoin="round"><polygon points="492.0,240.6 497.2,240.6 497.2,227.7 492.0,227.7" fill="#fbe42a"/><polygon points="497.2,240.6 499.4,239.2 499.4,226.3 497.2,227.7" fill="#ecc81a"/><polygon points="492.0,227.7 497.2,227.7 499.4,226.3 494.2,226.3" fill="#fdf27a"/></g><g stroke="#8a7a10" stroke-width="0.45" stroke-linejoin="round"><polygon points="497.2,240.7 502.4,240.7 502.4,226.4 497.2,226.4" fill="#fbe42a"/><polygon points="502.4,240.7 504.6,239.3 504.6,225.0 502.4,226.4" fill="#ecc81a"/><polygon points="497.2,226.4 502.4,226.4 504.6,225.0 499.4,225.0" fill="#fdf27a"/></g><rect x="430.7" y="233.9" width="1.3" height="3.9" fill="#7a4a2a"/><circle cx="431.3" cy="232.0" r="2.7" fill="#3fa35f" stroke="#1f6b3a" stroke-width="0.6"/><rect x="435.4" y="232.4" width="1.3" height="3.9" fill="#7a4a2a"/><circle cx="436.0" cy="230.5" r="2.7" fill="#3fa35f" stroke="#1f6b3a" stroke-width="0.6"/><rect x="450.6" y="231.9" width="1.3" height="3.9" fill="#7a4a2a"/><circle cx="451.2" cy="230.0" r="2.7" fill="#3fa35f" stroke="#1f6b3a" stroke-width="0.6"/><rect x="446.4" y="234.9" width="1.3" height="3.9" fill="#7a4a2a"/><circle cx="447.0" cy="233.0" r="2.7" fill="#3fa35f" stroke="#1f6b3a" stroke-width="0.6"/><rect x="470.4" y="218.1" width="1.3" height="3.9" fill="#7a4a2a"/><circle cx="471.0" cy="216.2" r="2.7" fill="#3fa35f" stroke="#1f6b3a" stroke-width="0.6"/><rect x="545.1" y="222.7" width="1.3" height="3.9" fill="#7a4a2a"/><circle cx="545.7" cy="220.8" r="2.7" fill="#3fa35f" stroke="#1f6b3a" stroke-width="0.6"/><rect x="471.4" y="206.6" width="1.3" height="4.3" fill="#7a4a2a"/><circle cx="472.0" cy="204.3" r="3.1" fill="#3fa35f" stroke="#1f6b3a" stroke-width="0.6"/><rect x="474.9" y="205.9" width="1.3" height="4.3" fill="#7a4a2a"/><circle cx="475.5" cy="203.6" r="3.1" fill="#3fa35f" stroke="#1f6b3a" stroke-width="0.6"/><rect x="558.4" y="205.3" width="1.3" height="4.3" fill="#7a4a2a"/><circle cx="559.0" cy="203.0" r="3.1" fill="#3fa35f" stroke="#1f6b3a" stroke-width="0.6"/><rect x="569.9" y="206.8" width="1.3" height="4.3" fill="#7a4a2a"/><circle cx="570.5" cy="204.5" r="3.1" fill="#3fa35f" stroke="#1f6b3a" stroke-width="0.6"/><polygon points="561,207 564,202.5 568,204.8 568,208 561,208" fill="#a9dcea" stroke="#4a8a9a" stroke-width="0.5"/><polygon points="416.8,224.4 427.3,208.8 431.8,209.4 427.5,202.2 415.1,207.1 419.6,207.7 409.2,223.4" fill="#1f2a70"/><polygon points="416.8,223.0 427.3,207.4 431.8,208.0 427.5,200.8 415.1,205.7 419.6,206.3 409.2,222.0" fill="#2f43a0"/><polygon points="585.5,226.6 576.8,215.9 581.3,215.2 568.3,210.6 564.9,217.9 569.3,217.1 577.9,227.8" fill="#1f2a70"/><polygon points="585.5,225.2 576.8,214.5 581.3,213.8 568.3,209.2 564.9,216.5 569.3,215.7 577.9,226.4" fill="#2f43a0"/><polygon points="421.3,303.5 440.4,275.4 447.3,276.3 440.4,264.1 419.5,272.5 426.5,273.5 407.5,301.7" fill="#1f2a70"/><polygon points="421.3,301.3 440.4,273.2 447.3,274.1 440.4,261.9 419.5,270.3 426.5,271.3 407.5,299.5" fill="#2f43a0"/><polygon points="489.1,291.9 502.2,270.2 508.7,271.0 501.9,259.9 483.6,267.9 490.1,268.7 477.1,290.5" fill="#1f2a70"/><polygon points="489.1,289.7 502.2,268.0 508.7,268.8 501.9,257.7 483.6,265.7 490.1,266.5 477.1,288.3" fill="#2f43a0"/><polygon points="572.6,303.0 579.9,277.9 587.6,278.4 575.8,266.8 557.8,276.6 565.5,277.1 558.2,302.2" fill="#1f2a70"/><polygon points="572.6,300.8 579.9,275.7 587.6,276.2 575.8,264.6 557.8,274.4 565.5,274.9 558.2,300.0" fill="#2f43a0"/></g><clipPath id="mc0"><rect x="641" y="114" width="275.5" height="238"/></clipPath><g clip-path="url(#mc0)"><g transform="matrix(1,0,0,1,0,0)"><linearGradient id="mm0g" gradientUnits="userSpaceOnUse" x1="0" y1="262" x2="0" y2="322"><stop offset="0" stop-color="#fff"/><stop offset="0.55" stop-color="#999"/><stop offset="1" stop-color="#000"/></linearGradient><mask id="mm0" maskUnits="userSpaceOnUse" x="600" y="60" width="360" height="340"><rect x="600" y="60" width="360" height="340" fill="url(#mm0g)"/></mask><filter id="mbl0" filterUnits="userSpaceOnUse" x="590" y="60" width="380" height="360"><feGaussianBlur stdDeviation="2.2"/></filter><g mask="url(#mm0)"><g filter="url(#mbl0)"><path d="M628.0,151.8 C630.0,153.8 636.1,159.7 640.0,163.6 C643.9,167.5 647.1,171.3 651.2,175.1 C655.3,179.0 660.0,182.5 664.4,186.7 C668.8,190.9 673.4,195.7 677.5,200.2 C681.6,204.7 685.4,208.9 688.8,213.8 C692.2,218.7 695.3,224.6 698.1,229.5 C700.9,234.4 703.1,238.8 705.6,243.4 C708.1,248.0 710.9,253.4 713.1,257.1 C715.3,260.9 716.3,263.0 718.8,265.9 C721.3,268.9 723.7,271.4 728.1,274.7 C732.5,278.1 739.7,283.2 745.0,286.1 C750.3,289.1 755.0,291.0 760.0,292.6 C765.0,294.2 770.0,295.3 775.0,295.5 C780.0,295.7 785.7,294.9 790.0,293.9 C794.3,292.9 796.8,291.8 801.0,289.5 C805.2,287.2 809.8,284.2 815.0,280.2 C820.2,276.1 826.7,270.2 832.5,265.2 C838.3,260.2 844.2,254.6 850.0,250.2 C855.8,245.8 861.7,242.2 867.5,239.0 C873.3,235.7 879.2,233.9 885.0,230.5 C890.8,227.1 897.5,221.9 902.5,218.3 C907.5,214.7 909.9,212.7 914.8,209.0 C919.7,205.2 929.1,198.0 932.0,195.8 L940,420 L600,420 Z" fill="#87582f"/><path d="M628.0,157.0 C630.0,158.9 636.1,164.6 640.0,168.4 C643.9,172.2 647.1,175.9 651.2,179.7 C655.3,183.5 660.0,186.9 664.4,191.0 C668.8,195.1 673.4,199.8 677.5,204.2 C681.6,208.6 685.4,212.7 688.8,217.4 C692.2,222.1 695.3,227.8 698.1,232.5 C700.9,237.2 703.1,241.4 705.6,245.8 C708.1,250.2 710.9,255.4 713.1,259.0 C715.3,262.6 716.3,264.7 718.8,267.5 C721.3,270.3 723.7,272.7 728.1,276.0 C732.5,279.3 739.7,284.3 745.0,287.3 C750.3,290.2 755.0,292.2 760.0,293.8 C765.0,295.3 770.0,296.4 775.0,296.7 C780.0,296.9 785.7,296.1 790.0,295.2 C794.3,294.3 796.8,293.3 801.0,291.2 C805.2,289.0 809.8,286.2 815.0,282.4 C820.2,278.5 826.7,272.9 832.5,268.2 C838.3,263.5 844.2,258.2 850.0,254.0 C855.8,249.9 861.7,246.5 867.5,243.4 C873.3,240.3 879.2,238.7 885.0,235.4 C890.8,232.2 897.5,227.3 902.5,223.9 C907.5,220.5 909.9,218.6 914.8,215.1 C919.7,211.5 929.1,204.7 932.0,202.6 L940,420 L600,420 Z" fill="#8a5b34"/><path d="M628.0,162.1 C630.0,164.0 636.1,169.6 640.0,173.3 C643.9,177.0 647.1,180.6 651.2,184.2 C655.3,187.9 660.0,191.4 664.4,195.4 C668.8,199.3 673.4,203.9 677.5,208.2 C681.6,212.4 685.4,216.4 688.8,221.0 C692.2,225.5 695.3,230.9 698.1,235.5 C700.9,240.0 703.1,244.0 705.6,248.2 C708.1,252.5 710.9,257.4 713.1,260.9 C715.3,264.4 716.3,266.3 718.8,269.0 C721.3,271.8 723.7,274.1 728.1,277.3 C732.5,280.6 739.7,285.5 745.0,288.4 C750.3,291.3 755.0,293.4 760.0,294.9 C765.0,296.5 770.0,297.5 775.0,297.8 C780.0,298.1 785.7,297.4 790.0,296.6 C794.3,295.8 796.8,294.8 801.0,292.8 C805.2,290.8 809.8,288.2 815.0,284.6 C820.2,280.9 826.7,275.7 832.5,271.2 C838.3,266.8 844.2,261.8 850.0,257.9 C855.8,254.0 861.7,250.8 867.5,247.9 C873.3,244.9 879.2,243.4 885.0,240.3 C890.8,237.3 897.5,232.7 902.5,229.5 C907.5,226.3 909.9,224.5 914.8,221.2 C919.7,217.8 929.1,211.4 932.0,209.5 L940,420 L600,420 Z" fill="#8d5f39"/><path d="M628.0,167.3 C630.0,169.1 636.1,174.6 640.0,178.1 C643.9,181.7 647.1,185.2 651.2,188.8 C655.3,192.4 660.0,195.8 664.4,199.7 C668.8,203.6 673.4,208.0 677.5,212.2 C681.6,216.3 685.4,220.1 688.8,224.5 C692.2,228.9 695.3,234.1 698.1,238.5 C700.9,242.8 703.1,246.6 705.6,250.7 C708.1,254.7 710.9,259.5 713.1,262.8 C715.3,266.1 716.3,267.9 718.8,270.6 C721.3,273.2 723.7,275.5 728.1,278.7 C732.5,281.8 739.7,286.6 745.0,289.5 C750.3,292.4 755.0,294.5 760.0,296.1 C765.0,297.7 770.0,298.6 775.0,298.9 C780.0,299.3 785.7,298.7 790.0,297.9 C794.3,297.2 796.8,296.4 801.0,294.5 C805.2,292.7 809.8,290.1 815.0,286.7 C820.2,283.4 826.7,278.4 832.5,274.2 C838.3,270.0 844.2,265.4 850.0,261.7 C855.8,258.1 861.7,255.1 867.5,252.3 C873.3,249.6 879.2,248.1 885.0,245.3 C890.8,242.4 897.5,238.1 902.5,235.1 C907.5,232.1 909.9,230.4 914.8,227.3 C919.7,224.2 929.1,218.1 932.0,216.3 L940,420 L600,420 Z" fill="#946741"/><path d="M628.0,172.5 C630.0,174.2 636.1,179.5 640.0,183.0 C643.9,186.5 647.1,189.9 651.2,193.4 C655.3,196.9 660.0,200.2 664.4,204.0 C668.8,207.8 673.4,212.1 677.5,216.1 C681.6,220.2 685.4,223.9 688.8,228.1 C692.2,232.3 695.3,237.3 698.1,241.5 C700.9,245.6 703.1,249.3 705.6,253.1 C708.1,257.0 710.9,261.5 713.1,264.7 C715.3,267.8 716.3,269.6 718.8,272.1 C721.3,274.7 723.7,276.9 728.1,280.0 C732.5,283.1 739.7,287.8 745.0,290.7 C750.3,293.6 755.0,295.7 760.0,297.3 C765.0,298.9 770.0,299.8 775.0,300.1 C780.0,300.4 785.7,299.9 790.0,299.3 C794.3,298.6 796.8,297.9 801.0,296.2 C805.2,294.5 809.8,292.1 815.0,288.9 C820.2,285.8 826.7,281.1 832.5,277.2 C838.3,273.3 844.2,268.9 850.0,265.5 C855.8,262.1 861.7,259.3 867.5,256.8 C873.3,254.2 879.2,252.9 885.0,250.2 C890.8,247.5 897.5,243.4 902.5,240.6 C907.5,237.8 909.9,236.3 914.8,233.4 C919.7,230.5 929.1,224.8 932.0,223.1 L940,420 L600,420 Z" fill="#9c6f48"/><path d="M628.0,177.7 C630.0,179.4 636.1,184.5 640.0,187.9 C643.9,191.2 647.1,194.5 651.2,197.9 C655.3,201.3 660.0,204.6 664.4,208.3 C668.8,212.0 673.4,216.2 677.5,220.1 C681.6,224.0 685.4,227.6 688.8,231.7 C692.2,235.7 695.3,240.5 698.1,244.5 C700.9,248.4 703.1,251.9 705.6,255.6 C708.1,259.2 710.9,263.5 713.1,266.5 C715.3,269.6 716.3,271.2 718.8,273.7 C721.3,276.1 723.7,278.3 728.1,281.3 C732.5,284.3 739.7,288.9 745.0,291.8 C750.3,294.7 755.0,296.9 760.0,298.5 C765.0,300.0 770.0,300.9 775.0,301.2 C780.0,301.6 785.7,301.2 790.0,300.6 C794.3,300.1 796.8,299.5 801.0,297.9 C805.2,296.3 809.8,294.1 815.0,291.1 C820.2,288.2 826.7,283.9 832.5,280.2 C838.3,276.6 844.2,272.5 850.0,269.4 C855.8,266.2 861.7,263.6 867.5,261.2 C873.3,258.8 879.2,257.6 885.0,255.1 C890.8,252.6 897.5,248.8 902.5,246.2 C907.5,243.6 909.9,242.2 914.8,239.5 C919.7,236.8 929.1,231.5 932.0,229.9 L940,420 L600,420 Z" fill="#a37750"/><path d="M628.0,182.8 C630.0,184.5 636.1,189.4 640.0,192.7 C643.9,196.0 647.1,199.2 651.2,202.5 C655.3,205.8 660.0,209.1 664.4,212.7 C668.8,216.3 673.4,220.3 677.5,224.1 C681.6,227.9 685.4,231.4 688.8,235.3 C692.2,239.1 695.3,243.7 698.1,247.5 C700.9,251.2 703.1,254.5 705.6,258.0 C708.1,261.5 710.9,265.5 713.1,268.4 C715.3,271.3 716.3,272.9 718.8,275.2 C721.3,277.6 723.7,279.6 728.1,282.6 C732.5,285.5 739.7,290.1 745.0,292.9 C750.3,295.8 755.0,298.1 760.0,299.6 C765.0,301.2 770.0,302.0 775.0,302.4 C780.0,302.8 785.7,302.5 790.0,302.0 C794.3,301.5 796.8,301.0 801.0,299.5 C805.2,298.1 809.8,296.0 815.0,293.3 C820.2,290.6 826.7,286.6 832.5,283.3 C838.3,279.9 844.2,276.1 850.0,273.2 C855.8,270.3 861.7,267.9 867.5,265.7 C873.3,263.5 879.2,262.3 885.0,260.0 C890.8,257.7 897.5,254.2 902.5,251.8 C907.5,249.4 909.9,248.1 914.8,245.6 C919.7,243.1 929.1,238.2 932.0,236.8 L940,420 L600,420 Z" fill="#aa8059"/><path d="M628.0,188.0 C630.0,189.6 636.1,194.4 640.0,197.6 C643.9,200.8 647.1,203.8 651.2,207.1 C655.3,210.3 660.0,213.5 664.4,217.0 C668.8,220.5 673.4,224.4 677.5,228.1 C681.6,231.7 685.4,235.1 688.8,238.8 C692.2,242.6 695.3,246.8 698.1,250.5 C700.9,254.1 703.1,257.1 705.6,260.4 C708.1,263.7 710.9,267.6 713.1,270.3 C715.3,273.0 716.3,274.5 718.8,276.8 C721.3,279.0 723.7,281.0 728.1,283.9 C732.5,286.8 739.7,291.2 745.0,294.1 C750.3,296.9 755.0,299.3 760.0,300.8 C765.0,302.4 770.0,303.1 775.0,303.5 C780.0,303.9 785.7,303.7 790.0,303.3 C794.3,303.0 796.8,302.5 801.0,301.2 C805.2,299.9 809.8,298.0 815.0,295.5 C820.2,293.0 826.7,289.3 832.5,286.3 C838.3,283.2 844.2,279.7 850.0,277.0 C855.8,274.4 861.7,272.1 867.5,270.1 C873.3,268.1 879.2,267.0 885.0,264.9 C890.8,262.8 897.5,259.6 902.5,257.4 C907.5,255.2 909.9,254.0 914.8,251.7 C919.7,249.4 929.1,244.9 932.0,243.6 L940,420 L600,420 Z" fill="#b28862"/><path d="M628.0,193.2 C630.0,194.7 636.1,199.4 640.0,202.4 C643.9,205.5 647.1,208.5 651.2,211.6 C655.3,214.8 660.0,217.9 664.4,221.3 C668.8,224.7 673.4,228.5 677.5,232.1 C681.6,235.6 685.4,238.8 688.8,242.4 C692.2,246.0 695.3,250.0 698.1,253.4 C700.9,256.9 703.1,259.7 705.6,262.9 C708.1,266.0 710.9,269.6 713.1,272.2 C715.3,274.7 716.3,276.1 718.8,278.3 C721.3,280.5 723.7,282.4 728.1,285.2 C732.5,288.0 739.7,292.4 745.0,295.2 C750.3,298.0 755.0,300.4 760.0,302.0 C765.0,303.6 770.0,304.2 775.0,304.6 C780.0,305.1 785.7,305.0 790.0,304.7 C794.3,304.4 796.8,304.1 801.0,302.9 C805.2,301.7 809.8,299.9 815.0,297.7 C820.2,295.4 826.7,292.1 832.5,289.3 C838.3,286.5 844.2,283.3 850.0,280.9 C855.8,278.4 861.7,276.4 867.5,274.6 C873.3,272.7 879.2,271.8 885.0,269.8 C890.8,267.9 897.5,265.0 902.5,263.0 C907.5,261.0 909.9,259.9 914.8,257.8 C919.7,255.7 929.1,251.6 932.0,250.4 L940,420 L600,420 Z" fill="#b9916b"/><path d="M628.0,198.4 C630.0,199.9 636.1,204.3 640.0,207.3 C643.9,210.3 647.1,213.1 651.2,216.2 C655.3,219.2 660.0,222.3 664.4,225.6 C668.8,228.9 673.4,232.6 677.5,236.0 C681.6,239.4 685.4,242.6 688.8,246.0 C692.2,249.4 695.3,253.2 698.1,256.4 C700.9,259.7 703.1,262.4 705.6,265.3 C708.1,268.2 710.9,271.6 713.1,274.1 C715.3,276.5 716.3,277.8 718.8,279.9 C721.3,281.9 723.7,283.8 728.1,286.5 C732.5,289.3 739.7,293.6 745.0,296.3 C750.3,299.1 755.0,301.6 760.0,303.2 C765.0,304.8 770.0,305.3 775.0,305.8 C780.0,306.3 785.7,306.3 790.0,306.1 C794.3,305.9 796.8,305.6 801.0,304.6 C805.2,303.5 809.8,301.9 815.0,299.9 C820.2,297.8 826.7,294.8 832.5,292.3 C838.3,289.8 844.2,286.9 850.0,284.7 C855.8,282.5 861.7,280.7 867.5,279.0 C873.3,277.4 879.2,276.5 885.0,274.8 C890.8,273.0 897.5,270.4 902.5,268.6 C907.5,266.8 909.9,265.8 914.8,263.9 C919.7,262.0 929.1,258.3 932.0,257.2 L940,420 L600,420 Z" fill="#c09a74"/><path d="M628.0,203.6 C630.0,205.0 636.1,209.3 640.0,212.2 C643.9,215.0 647.1,217.8 651.2,220.7 C655.3,223.7 660.0,226.7 664.4,230.0 C668.8,233.2 673.4,236.7 677.5,240.0 C681.6,243.3 685.4,246.3 688.8,249.5 C692.2,252.8 695.3,256.4 698.1,259.4 C700.9,262.5 703.1,265.0 705.6,267.7 C708.1,270.5 710.9,273.7 713.1,275.9 C715.3,278.2 716.3,279.4 718.8,281.4 C721.3,283.4 723.7,285.2 728.1,287.8 C732.5,290.5 739.7,294.7 745.0,297.5 C750.3,300.2 755.0,302.8 760.0,304.4 C765.0,305.9 770.0,306.4 775.0,306.9 C780.0,307.4 785.7,307.5 790.0,307.4 C794.3,307.3 796.8,307.1 801.0,306.3 C805.2,305.4 809.8,303.9 815.0,302.1 C820.2,300.2 826.7,297.6 832.5,295.3 C838.3,293.1 844.2,290.5 850.0,288.6 C855.8,286.6 861.7,285.0 867.5,283.5 C873.3,282.0 879.2,281.2 885.0,279.7 C890.8,278.1 897.5,275.8 902.5,274.2 C907.5,272.6 909.9,271.7 914.8,270.0 C919.7,268.3 929.1,265.0 932.0,264.0 L940,420 L600,420 Z" fill="#c8a480"/><path d="M628.0,208.7 C630.0,210.1 636.1,214.3 640.0,217.0 C643.9,219.8 647.1,222.4 651.2,225.3 C655.3,228.2 660.0,231.2 664.4,234.3 C668.8,237.4 673.4,240.8 677.5,244.0 C681.6,247.1 685.4,250.0 688.8,253.1 C692.2,256.2 695.3,259.6 698.1,262.4 C700.9,265.3 703.1,267.6 705.6,270.2 C708.1,272.7 710.9,275.7 713.1,277.8 C715.3,279.9 716.3,281.1 718.8,283.0 C721.3,284.8 723.7,286.5 728.1,289.1 C732.5,291.8 739.7,295.9 745.0,298.6 C750.3,301.3 755.0,304.0 760.0,305.5 C765.0,307.1 770.0,307.5 775.0,308.1 C780.0,308.6 785.7,308.8 790.0,308.8 C794.3,308.7 796.8,308.7 801.0,307.9 C805.2,307.2 809.8,305.8 815.0,304.2 C820.2,302.6 826.7,300.3 832.5,298.3 C838.3,296.3 844.2,294.1 850.0,292.4 C855.8,290.7 861.7,289.2 867.5,287.9 C873.3,286.6 879.2,286.0 885.0,284.6 C890.8,283.2 897.5,281.2 902.5,279.8 C907.5,278.3 909.9,277.6 914.8,276.1 C919.7,274.6 929.1,271.7 932.0,270.9 L940,420 L600,420 Z" fill="#cfaf8d"/><path d="M628.0,213.9 C630.0,215.2 636.1,219.2 640.0,221.9 C643.9,224.5 647.1,227.1 651.2,229.9 C655.3,232.7 660.0,235.6 664.4,238.6 C668.8,241.6 673.4,244.9 677.5,248.0 C681.6,251.0 685.4,253.8 688.8,256.7 C692.2,259.6 695.3,262.8 698.1,265.4 C700.9,268.1 703.1,270.2 705.6,272.6 C708.1,275.0 710.9,277.7 713.1,279.7 C715.3,281.7 716.3,282.7 718.8,284.5 C721.3,286.3 723.7,287.9 728.1,290.5 C732.5,293.0 739.7,297.0 745.0,299.7 C750.3,302.4 755.0,305.1 760.0,306.7 C765.0,308.3 770.0,308.6 775.0,309.2 C780.0,309.8 785.7,310.0 790.0,310.1 C794.3,310.2 796.8,310.2 801.0,309.6 C805.2,309.0 809.8,307.8 815.0,306.4 C820.2,305.1 826.7,303.0 832.5,301.3 C838.3,299.6 844.2,297.7 850.0,296.2 C855.8,294.7 861.7,293.5 867.5,292.4 C873.3,291.3 879.2,290.7 885.0,289.5 C890.8,288.3 897.5,286.6 902.5,285.4 C907.5,284.1 909.9,283.5 914.8,282.2 C919.7,280.9 929.1,278.4 932.0,277.7 L940,420 L600,420 Z" fill="#d6b999"/><path d="M628.0,219.1 C630.0,220.4 636.1,224.2 640.0,226.7 C643.9,229.3 647.1,231.7 651.2,234.4 C655.3,237.1 660.0,240.0 664.4,242.9 C668.8,245.8 673.4,249.1 677.5,251.9 C681.6,254.8 685.4,257.5 688.8,260.3 C692.2,263.0 695.3,265.9 698.1,268.4 C700.9,270.9 703.1,272.8 705.6,275.0 C708.1,277.2 710.9,279.7 713.1,281.6 C715.3,283.4 716.3,284.3 718.8,286.0 C721.3,287.7 723.7,289.3 728.1,291.8 C732.5,294.2 739.7,298.2 745.0,300.9 C750.3,303.5 755.0,306.3 760.0,307.9 C765.0,309.5 770.0,309.7 775.0,310.3 C780.0,310.9 785.7,311.3 790.0,311.5 C794.3,311.6 796.8,311.8 801.0,311.3 C805.2,310.8 809.8,309.8 815.0,308.6 C820.2,307.5 826.7,305.8 832.5,304.3 C838.3,302.9 844.2,301.3 850.0,300.1 C855.8,298.8 861.7,297.8 867.5,296.8 C873.3,295.9 879.2,295.4 885.0,294.4 C890.8,293.4 897.5,292.0 902.5,290.9 C907.5,289.9 909.9,289.4 914.8,288.3 C919.7,287.2 929.1,285.1 932.0,284.5 L940,420 L600,420 Z" fill="#dec4a6"/><path d="M628.0,224.3 C630.0,225.5 636.1,229.1 640.0,231.6 C643.9,234.0 647.1,236.4 651.2,239.0 C655.3,241.6 660.0,244.4 664.4,247.3 C668.8,250.1 673.4,253.2 677.5,255.9 C681.6,258.7 685.4,261.3 688.8,263.8 C692.2,266.4 695.3,269.1 698.1,271.4 C700.9,273.7 703.1,275.5 705.6,277.5 C708.1,279.5 710.9,281.8 713.1,283.4 C715.3,285.1 716.3,286.0 718.8,287.6 C721.3,289.2 723.7,290.7 728.1,293.1 C732.5,295.5 739.7,299.3 745.0,302.0 C750.3,304.7 755.0,307.5 760.0,309.1 C765.0,310.6 770.0,310.8 775.0,311.5 C780.0,312.1 785.7,312.6 790.0,312.8 C794.3,313.1 796.8,313.3 801.0,313.0 C805.2,312.6 809.8,311.7 815.0,310.8 C820.2,309.9 826.7,308.5 832.5,307.4 C838.3,306.2 844.2,304.9 850.0,303.9 C855.8,302.9 861.7,302.1 867.5,301.3 C873.3,300.5 879.2,300.1 885.0,299.3 C890.8,298.6 897.5,297.4 902.5,296.5 C907.5,295.7 909.9,295.2 914.8,294.4 C919.7,293.5 929.1,291.8 932.0,291.3 L940,420 L600,420 Z" fill="#e5d1b8"/><path d="M628.0,229.4 C630.0,230.6 636.1,234.1 640.0,236.5 C643.9,238.8 647.1,241.0 651.2,243.6 C655.3,246.1 660.0,248.9 664.4,251.6 C668.8,254.3 673.4,257.3 677.5,259.9 C681.6,262.5 685.4,265.0 688.8,267.4 C692.2,269.8 695.3,272.3 698.1,274.4 C700.9,276.5 703.1,278.1 705.6,279.9 C708.1,281.7 710.9,283.8 713.1,285.3 C715.3,286.9 716.3,287.6 718.8,289.1 C721.3,290.6 723.7,292.1 728.1,294.4 C732.5,296.7 739.7,300.5 745.0,303.1 C750.3,305.8 755.0,308.7 760.0,310.2 C765.0,311.8 770.0,312.0 775.0,312.6 C780.0,313.3 785.7,313.8 790.0,314.2 C794.3,314.5 796.8,314.8 801.0,314.6 C805.2,314.4 809.8,313.7 815.0,313.0 C820.2,312.3 826.7,311.2 832.5,310.4 C838.3,309.5 844.2,308.5 850.0,307.7 C855.8,307.0 861.7,306.3 867.5,305.8 C873.3,305.2 879.2,304.9 885.0,304.3 C890.8,303.7 897.5,302.7 902.5,302.1 C907.5,301.5 909.9,301.1 914.8,300.5 C919.7,299.8 929.1,298.6 932.0,298.2 L940,420 L600,420 Z" fill="#ecdfca"/><path d="M628.0,234.6 C630.0,235.7 636.1,239.1 640.0,241.3 C643.9,243.6 647.1,245.7 651.2,248.1 C655.3,250.6 660.0,253.3 664.4,255.9 C668.8,258.5 673.4,261.4 677.5,263.9 C681.6,266.4 685.4,268.7 688.8,271.0 C692.2,273.2 695.3,275.5 698.1,277.4 C700.9,279.3 703.1,280.7 705.6,282.3 C708.1,284.0 710.9,285.8 713.1,287.2 C715.3,288.6 716.3,289.3 718.8,290.7 C721.3,292.1 723.7,293.4 728.1,295.7 C732.5,298.0 739.7,301.6 745.0,304.3 C750.3,306.9 755.0,309.8 760.0,311.4 C765.0,313.0 770.0,313.1 775.0,313.7 C780.0,314.4 785.7,315.1 790.0,315.5 C794.3,316.0 796.8,316.4 801.0,316.3 C805.2,316.3 809.8,315.7 815.0,315.2 C820.2,314.7 826.7,314.0 832.5,313.4 C838.3,312.8 844.2,312.1 850.0,311.6 C855.8,311.0 861.7,310.6 867.5,310.2 C873.3,309.8 879.2,309.6 885.0,309.2 C890.8,308.8 897.5,308.1 902.5,307.7 C907.5,307.3 909.9,307.0 914.8,306.6 C919.7,306.1 929.1,305.3 932.0,305.0 L940,420 L600,420 Z" fill="#f4ecdc"/><path d="M628.0,239.8 C630.0,240.9 636.1,244.0 640.0,246.2 C643.9,248.3 647.1,250.3 651.2,252.7 C655.3,255.0 660.0,257.7 664.4,260.2 C668.8,262.8 673.4,265.5 677.5,267.9 C681.6,270.2 685.4,272.5 688.8,274.6 C692.2,276.6 695.3,278.7 698.1,280.4 C700.9,282.1 703.1,283.3 705.6,284.8 C708.1,286.2 710.9,287.8 713.1,289.1 C715.3,290.3 716.3,290.9 718.8,292.2 C721.3,293.6 723.7,294.8 728.1,297.0 C732.5,299.2 739.7,302.8 745.0,305.4 C750.3,308.0 755.0,311.0 760.0,312.6 C765.0,314.2 770.0,314.2 775.0,314.9 C780.0,315.6 785.7,316.4 790.0,316.9 C794.3,317.4 796.8,317.9 801.0,318.0 C805.2,318.1 809.8,317.6 815.0,317.4 C820.2,317.1 826.7,316.7 832.5,316.4 C838.3,316.1 844.2,315.7 850.0,315.4 C855.8,315.1 861.7,314.9 867.5,314.7 C873.3,314.4 879.2,314.3 885.0,314.1 C890.8,313.9 897.5,313.5 902.5,313.3 C907.5,313.1 909.9,312.9 914.8,312.7 C919.7,312.4 929.1,312.0 932.0,311.8 L940,420 L600,420 Z" fill="#fbf9ee"/></g></g><clipPath id="mt0"><path d="M628.0,158.0 C630.0,159.9 636.1,165.6 640.0,169.4 C643.9,173.2 647.1,176.8 651.2,180.6 C655.3,184.3 660.0,187.8 664.4,191.9 C668.8,196.0 673.4,200.6 677.5,205.0 C681.6,209.4 685.4,213.4 688.8,218.1 C692.2,222.8 695.3,228.4 698.1,233.1 C700.9,237.8 703.1,241.9 705.6,246.3 C708.1,250.7 710.9,255.8 713.1,259.4 C715.3,263.0 716.3,265.0 718.8,267.8 C721.3,270.6 723.7,273.0 728.1,276.3 C732.5,279.6 739.7,284.6 745.0,287.5 C750.3,290.4 755.0,292.4 760.0,294.0 C765.0,295.6 770.0,296.6 775.0,296.9 C780.0,297.1 785.7,296.4 790.0,295.5 C794.3,294.6 799.2,292.2 801.0,291.5 L801.0,291.5 C803.3,290.1 809.8,286.6 815.0,282.8 C820.2,279.0 826.7,273.5 832.5,268.8 C838.3,264.1 844.2,258.9 850.0,254.8 C855.8,250.7 861.7,247.4 867.5,244.3 C873.3,241.2 879.2,239.6 885.0,236.4 C890.8,233.2 897.5,228.3 902.5,225.0 C907.5,221.7 909.9,219.8 914.8,216.3 C919.7,212.8 929.1,206.1 932.0,204.0 L932.0,183.0 C929.1,185.1 919.3,194.1 914.8,195.3 C910.3,196.5 909.1,192.4 905.0,190.0 C900.9,187.6 895.8,184.3 890.0,181.0 C884.2,177.7 876.7,173.2 870.0,170.0 C863.3,166.8 856.3,165.0 850.0,162.0 C843.7,159.0 837.8,155.7 832.0,152.0 C826.2,148.3 820.2,144.2 815.0,140.0 C809.8,135.8 805.7,131.3 801.0,127.0 C796.3,122.7 792.2,119.5 787.0,114.0 C781.8,108.5 772.8,97.3 770.0,94.0 L620,94 Z"/></clipPath><linearGradient id="mgd" gradientUnits="userSpaceOnUse" x1="645" y1="118" x2="800" y2="265"><stop offset="0" stop-color="#b4da98"/><stop offset="0.45" stop-color="#d3e9bf"/><stop offset="1" stop-color="#e6f2d8"/></linearGradient><linearGradient id="mgs" gradientUnits="userSpaceOnUse" x1="800" y1="190" x2="845" y2="140"><stop offset="0" stop-color="#fbf9ee" stop-opacity="0"/><stop offset="1" stop-color="#fbf9ee" stop-opacity="0.85"/></linearGradient><path d="M628.0,158.0 C630.0,159.9 636.1,165.6 640.0,169.4 C643.9,173.2 647.1,176.8 651.2,180.6 C655.3,184.3 660.0,187.8 664.4,191.9 C668.8,196.0 673.4,200.6 677.5,205.0 C681.6,209.4 685.4,213.4 688.8,218.1 C692.2,222.8 695.3,228.4 698.1,233.1 C700.9,237.8 703.1,241.9 705.6,246.3 C708.1,250.7 710.9,255.8 713.1,259.4 C715.3,263.0 716.3,265.0 718.8,267.8 C721.3,270.6 723.7,273.0 728.1,276.3 C732.5,279.6 739.7,284.6 745.0,287.5 C750.3,290.4 755.0,292.4 760.0,294.0 C765.0,295.6 770.0,296.6 775.0,296.9 C780.0,297.1 785.7,296.4 790.0,295.5 C794.3,294.6 799.2,292.2 801.0,291.5 L801.0,291.5 C803.3,290.1 809.8,286.6 815.0,282.8 C820.2,279.0 826.7,273.5 832.5,268.8 C838.3,264.1 844.2,258.9 850.0,254.8 C855.8,250.7 861.7,247.4 867.5,244.3 C873.3,241.2 879.2,239.6 885.0,236.4 C890.8,233.2 897.5,228.3 902.5,225.0 C907.5,221.7 909.9,219.8 914.8,216.3 C919.7,212.8 929.1,206.1 932.0,204.0 L932.0,183.0 C929.1,185.1 919.3,194.1 914.8,195.3 C910.3,196.5 909.1,192.4 905.0,190.0 C900.9,187.6 895.8,184.3 890.0,181.0 C884.2,177.7 876.7,173.2 870.0,170.0 C863.3,166.8 856.3,165.0 850.0,162.0 C843.7,159.0 837.8,155.7 832.0,152.0 C826.2,148.3 820.2,144.2 815.0,140.0 C809.8,135.8 805.7,131.3 801.0,127.0 C796.3,122.7 792.2,119.5 787.0,114.0 C781.8,108.5 772.8,97.3 770.0,94.0 L620,94 Z" fill="url(#mgd)"/><path d="M628.0,158.0 C630.0,159.9 636.1,165.6 640.0,169.4 C643.9,173.2 647.1,176.8 651.2,180.6 C655.3,184.3 660.0,187.8 664.4,191.9 C668.8,196.0 673.4,200.6 677.5,205.0 C681.6,209.4 685.4,213.4 688.8,218.1 C692.2,222.8 695.3,228.4 698.1,233.1 C700.9,237.8 703.1,241.9 705.6,246.3 C708.1,250.7 710.9,255.8 713.1,259.4 C715.3,263.0 716.3,265.0 718.8,267.8 C721.3,270.6 723.7,273.0 728.1,276.3 C732.5,279.6 739.7,284.6 745.0,287.5 C750.3,290.4 755.0,292.4 760.0,294.0 C765.0,295.6 770.0,296.6 775.0,296.9 C780.0,297.1 785.7,296.4 790.0,295.5 C794.3,294.6 799.2,292.2 801.0,291.5 L801.0,291.5 C803.3,290.1 809.8,286.6 815.0,282.8 C820.2,279.0 826.7,273.5 832.5,268.8 C838.3,264.1 844.2,258.9 850.0,254.8 C855.8,250.7 861.7,247.4 867.5,244.3 C873.3,241.2 879.2,239.6 885.0,236.4 C890.8,233.2 897.5,228.3 902.5,225.0 C907.5,221.7 909.9,219.8 914.8,216.3 C919.7,212.8 929.1,206.1 932.0,204.0 L932.0,183.0 C929.1,185.1 919.3,194.1 914.8,195.3 C910.3,196.5 909.1,192.4 905.0,190.0 C900.9,187.6 895.8,184.3 890.0,181.0 C884.2,177.7 876.7,173.2 870.0,170.0 C863.3,166.8 856.3,165.0 850.0,162.0 C843.7,159.0 837.8,155.7 832.0,152.0 C826.2,148.3 820.2,144.2 815.0,140.0 C809.8,135.8 805.7,131.3 801.0,127.0 C796.3,122.7 792.2,119.5 787.0,114.0 C781.8,108.5 772.8,97.3 770.0,94.0 L620,94 Z" fill="url(#mgs)"/></g><g transform="matrix(1,0,0,1,0,0)"><path d="M801.0,288.9 C803.3,287.0 810.3,281.4 815.0,277.5 C819.7,273.6 824.6,269.1 829.0,265.3 C833.4,261.5 836.3,258.9 841.3,254.8 C846.3,250.7 853.3,245.5 858.8,240.8 C864.3,236.1 869.5,231.2 874.5,226.8 C879.5,222.4 883.8,218.3 888.5,214.5 C893.2,210.7 898.1,207.2 902.5,204.0 C906.9,200.8 912.8,196.8 914.8,195.3 L932.0,204.0 C929.1,206.1 919.7,212.8 914.8,216.3 C909.9,219.8 907.5,221.7 902.5,225.0 C897.5,228.3 890.8,233.2 885.0,236.4 C879.2,239.6 873.3,241.2 867.5,244.3 C861.7,247.4 855.8,250.7 850.0,254.8 C844.2,258.9 838.3,264.1 832.5,268.8 C826.7,273.5 820.2,279.0 815.0,282.8 C809.8,286.6 803.3,290.1 801.0,291.5 Z" fill="#d0e8b3"/><path d="M801.0,289.3 C803.3,287.5 810.2,282.3 815.0,278.4 C819.8,274.5 825.0,269.8 829.6,265.9 C834.2,262.0 837.6,258.9 842.8,254.8 C847.9,250.7 854.7,245.8 860.2,241.4 C865.8,237.0 871.2,232.6 876.2,228.4 C881.3,224.2 886.1,220.0 890.8,216.2 C895.6,212.5 900.1,209.3 904.5,206.1 C909.0,202.8 915.5,198.3 917.7,196.8 L932.0,204.0 C929.1,206.1 919.7,212.8 914.8,216.3 C909.9,219.8 907.5,221.7 902.5,225.0 C897.5,228.3 890.8,233.2 885.0,236.4 C879.2,239.6 873.3,241.2 867.5,244.3 C861.7,247.4 855.8,250.7 850.0,254.8 C844.2,258.9 838.3,264.1 832.5,268.8 C826.7,273.5 820.2,279.0 815.0,282.8 C809.8,286.6 803.3,290.1 801.0,291.5 Z" fill="#c1e2a2"/><path d="M801.0,289.8 C803.3,288.0 810.1,283.1 815.0,279.3 C819.9,275.4 825.3,270.5 830.2,266.5 C835.0,262.4 838.9,258.9 844.2,254.8 C849.5,250.7 856.1,246.1 861.7,242.0 C867.3,237.8 872.8,234.0 878.0,230.0 C883.2,226.0 888.4,221.7 893.2,218.0 C897.9,214.3 902.0,211.4 906.6,208.1 C911.2,204.8 918.2,199.9 920.5,198.2 L932.0,204.0 C929.1,206.1 919.7,212.8 914.8,216.3 C909.9,219.8 907.5,221.7 902.5,225.0 C897.5,228.3 890.8,233.2 885.0,236.4 C879.2,239.6 873.3,241.2 867.5,244.3 C861.7,247.4 855.8,250.7 850.0,254.8 C844.2,258.9 838.3,264.1 832.5,268.8 C826.7,273.5 820.2,279.0 815.0,282.8 C809.8,286.6 803.3,290.1 801.0,291.5 Z" fill="#b2dc91"/><path d="M801.0,290.2 C803.3,288.5 810.0,284.0 815.0,280.1 C820.0,276.3 825.6,271.3 830.8,267.1 C835.9,262.8 840.2,258.9 845.6,254.8 C851.0,250.7 857.5,246.4 863.1,242.6 C868.8,238.7 874.4,235.4 879.8,231.6 C885.1,227.8 890.7,223.3 895.5,219.8 C900.3,216.2 904.0,213.5 908.6,210.2 C913.3,206.8 920.9,201.4 923.4,199.7 L932.0,204.0 C929.1,206.1 919.7,212.8 914.8,216.3 C909.9,219.8 907.5,221.7 902.5,225.0 C897.5,228.3 890.8,233.2 885.0,236.4 C879.2,239.6 873.3,241.2 867.5,244.3 C861.7,247.4 855.8,250.7 850.0,254.8 C844.2,258.9 838.3,264.1 832.5,268.8 C826.7,273.5 820.2,279.0 815.0,282.8 C809.8,286.6 803.3,290.1 801.0,291.5 Z" fill="#a4d680"/><path d="M801.0,290.6 C803.3,289.0 809.9,284.9 815.0,281.0 C820.1,277.2 826.0,272.0 831.3,267.6 C836.7,263.3 841.6,258.9 847.1,254.8 C852.6,250.7 858.9,246.7 864.6,243.1 C870.3,239.5 876.0,236.8 881.5,233.2 C887.0,229.6 893.0,225.0 897.8,221.5 C902.7,218.0 906.0,215.6 910.7,212.2 C915.4,208.8 923.7,202.9 926.3,201.1 L932.0,204.0 C929.1,206.1 919.7,212.8 914.8,216.3 C909.9,219.8 907.5,221.7 902.5,225.0 C897.5,228.3 890.8,233.2 885.0,236.4 C879.2,239.6 873.3,241.2 867.5,244.3 C861.7,247.4 855.8,250.7 850.0,254.8 C844.2,258.9 838.3,264.1 832.5,268.8 C826.7,273.5 820.2,279.0 815.0,282.8 C809.8,286.6 803.3,290.1 801.0,291.5 Z" fill="#95d06f"/><path d="M801.0,291.1 C803.3,289.5 809.8,285.7 815.0,281.9 C820.2,278.1 826.3,272.7 831.9,268.2 C837.5,263.7 842.9,258.9 848.5,254.8 C854.2,250.7 860.3,247.1 866.0,243.7 C871.8,240.4 877.6,238.2 883.2,234.8 C888.9,231.4 895.2,226.7 900.2,223.2 C905.1,219.8 907.9,217.7 912.8,214.2 C917.6,210.8 926.4,204.5 929.1,202.6 L932.0,204.0 C929.1,206.1 919.7,212.8 914.8,216.3 C909.9,219.8 907.5,221.7 902.5,225.0 C897.5,228.3 890.8,233.2 885.0,236.4 C879.2,239.6 873.3,241.2 867.5,244.3 C861.7,247.4 855.8,250.7 850.0,254.8 C844.2,258.9 838.3,264.1 832.5,268.8 C826.7,273.5 820.2,279.0 815.0,282.8 C809.8,286.6 803.3,290.1 801.0,291.5 Z" fill="#86ca5e"/></g><g transform="translate(0,0)"><rect x="799.2" y="152.7" width="1.3" height="4.5" fill="#7a4a2a"/><circle cx="799.8" cy="150.2" r="3.3" fill="#3fa35f" stroke="#1f6b3a" stroke-width="0.6"/><rect x="813.2" y="153.8" width="1.3" height="4.5" fill="#7a4a2a"/><circle cx="813.8" cy="151.3" r="3.3" fill="#3fa35f" stroke="#1f6b3a" stroke-width="0.6"/><g stroke="#7f7f7f" stroke-width="0.7" stroke-linejoin="round"><polygon points="821.0,155.5 828.1,155.5 828.1,151.3 824.6,148.0 821.0,151.3" fill="#ffffff"/><polygon points="828.1,155.5 832.3,153.4 832.3,149.3 828.1,151.3" fill="#ffffff"/><polygon points="828.1,151.3 832.3,149.3 828.7,145.9 824.6,148.0" fill="#ffffff"/></g><g stroke="#7f7f7f" stroke-width="0.7" stroke-linejoin="round"><polygon points="802.5,161.0 809.6,161.0 809.6,156.8 806.1,153.5 802.5,156.8" fill="#ffffff"/><polygon points="809.6,161.0 813.8,158.9 813.8,154.8 809.6,156.8" fill="#ffffff"/><polygon points="809.6,156.8 813.8,154.8 810.2,151.4 806.1,153.5" fill="#ffffff"/></g><rect x="766.6" y="162.0" width="1.3" height="4.5" fill="#7a4a2a"/><circle cx="767.2" cy="159.5" r="3.3" fill="#3fa35f" stroke="#1f6b3a" stroke-width="0.6"/><rect x="760.7" y="164.3" width="1.3" height="4.5" fill="#7a4a2a"/><circle cx="761.3" cy="161.8" r="3.3" fill="#3fa35f" stroke="#1f6b3a" stroke-width="0.6"/><rect x="778.2" y="166.7" width="1.3" height="4.5" fill="#7a4a2a"/><circle cx="778.8" cy="164.2" r="3.3" fill="#3fa35f" stroke="#1f6b3a" stroke-width="0.6"/><g stroke="#7f7f7f" stroke-width="0.7" stroke-linejoin="round"><polygon points="743.5,170.5 750.6,170.5 750.6,166.3 747.1,163.0 743.5,166.3" fill="#ffffff"/><polygon points="750.6,170.5 754.8,168.4 754.8,164.3 750.6,166.3" fill="#ffffff"/><polygon points="750.6,166.3 754.8,164.3 751.2,160.9 747.1,163.0" fill="#ffffff"/></g><g stroke="#7f7f7f" stroke-width="0.7" stroke-linejoin="round"><polygon points="788.5,171.5 795.6,171.5 795.6,167.3 792.1,164.0 788.5,167.3" fill="#ffffff"/><polygon points="795.6,171.5 799.8,169.4 799.8,165.3 795.6,167.3" fill="#ffffff"/><polygon points="795.6,167.3 799.8,165.3 796.2,161.9 792.1,164.0" fill="#ffffff"/></g><g stroke="#a09898" stroke-width="0.5" stroke-linejoin="round"><polygon points="835.0,169.4 842.0,169.4 842.0,162.8 835.0,162.8" fill="#fef5f2"/><polygon points="842.0,169.4 845.5,168.2 845.5,161.6 842.0,162.8" fill="#fbebe7"/><polygon points="835.0,162.8 842.0,162.8 845.5,161.6 838.5,161.6" fill="#fffbf9"/></g><g stroke="#a09898" stroke-width="0.5" stroke-linejoin="round"><polygon points="833.7,170.0 843.0,170.0 843.0,162.0 833.7,162.0" fill="#fef5f2"/><polygon points="843.0,170.0 847.6,168.4 847.6,160.4 843.0,162.0" fill="#fbebe7"/><polygon points="833.7,162.0 843.0,162.0 847.6,160.4 838.4,160.4" fill="#fffbf9"/></g><g stroke="#7f7f7f" stroke-width="0.7" stroke-linejoin="round"><polygon points="764.0,177.5 771.1,177.5 771.1,173.3 767.6,170.0 764.0,173.3" fill="#ffffff"/><polygon points="771.1,177.5 775.3,175.4 775.3,171.3 771.1,173.3" fill="#ffffff"/><polygon points="771.1,173.3 775.3,171.3 771.7,167.9 767.6,170.0" fill="#ffffff"/></g><g stroke="#a09898" stroke-width="0.5" stroke-linejoin="round"><polygon points="845.3,172.3 854.6,172.3 854.6,165.3 845.3,165.3" fill="#fef5f2"/><polygon points="854.6,172.3 859.2,170.7 859.2,163.7 854.6,165.3" fill="#fbebe7"/><polygon points="845.3,165.3 854.6,165.3 859.2,163.7 849.9,163.7" fill="#fffbf9"/></g><rect x="731.6" y="178.3" width="1.3" height="4.5" fill="#7a4a2a"/><circle cx="732.2" cy="175.8" r="3.3" fill="#3fa35f" stroke="#1f6b3a" stroke-width="0.6"/><g stroke="#a09898" stroke-width="0.5" stroke-linejoin="round"><polygon points="797.0,174.0 805.0,174.0 805.0,166.5 797.0,166.5" fill="#fef5f2"/><polygon points="805.0,174.0 809.0,172.6 809.0,165.1 805.0,166.5" fill="#fbebe7"/><polygon points="797.0,166.5 805.0,166.5 809.0,165.1 801.0,165.1" fill="#fffbf9"/></g><g stroke="#a09898" stroke-width="0.5" stroke-linejoin="round"><polygon points="814.4,175.0 822.8,175.0 822.8,166.6 814.4,166.6" fill="#fef5f2"/><polygon points="822.8,175.0 827.0,173.6 827.0,165.2 822.8,166.6" fill="#fbebe7"/><polygon points="814.4,166.6 822.8,166.6 827.0,165.2 818.6,165.2" fill="#fffbf9"/></g><g stroke="#7f7f7f" stroke-width="0.7" stroke-linejoin="round"><polygon points="712.0,181.0 719.1,181.0 719.1,176.8 715.6,173.5 712.0,176.8" fill="#ffffff"/><polygon points="719.1,181.0 723.3,178.9 723.3,174.8 719.1,176.8" fill="#ffffff"/><polygon points="719.1,176.8 723.3,174.8 719.7,171.4 715.6,173.5" fill="#ffffff"/></g><rect x="725.7" y="179.5" width="1.3" height="4.5" fill="#7a4a2a"/><circle cx="726.3" cy="177.0" r="3.3" fill="#3fa35f" stroke="#1f6b3a" stroke-width="0.6"/><g stroke="#a09898" stroke-width="0.5" stroke-linejoin="round"><polygon points="824.3,177.0 833.6,177.0 833.6,169.5 824.3,169.5" fill="#fef5f2"/><polygon points="833.6,177.0 838.2,175.4 838.2,167.9 833.6,169.5" fill="#fbebe7"/><polygon points="824.3,169.5 833.6,169.5 838.2,167.9 828.9,167.9" fill="#fffbf9"/></g><g stroke="#a09898" stroke-width="0.5" stroke-linejoin="round"><polygon points="825.6,177.8 833.1,177.8 833.1,170.3 825.6,170.3" fill="#fef5f2"/><polygon points="833.1,177.8 836.9,176.5 836.9,169.0 833.1,170.3" fill="#fbebe7"/><polygon points="825.6,170.3 833.1,170.3 836.9,169.0 829.4,169.0" fill="#fffbf9"/></g><rect x="743.2" y="184.2" width="1.3" height="4.5" fill="#7a4a2a"/><circle cx="743.8" cy="181.7" r="3.3" fill="#3fa35f" stroke="#1f6b3a" stroke-width="0.6"/><g stroke="#a09898" stroke-width="0.5" stroke-linejoin="round"><polygon points="802.2,180.6 811.6,180.6 811.6,172.2 802.2,172.2" fill="#fef5f2"/><polygon points="811.6,180.6 816.3,179.0 816.3,170.6 811.6,172.2" fill="#fbebe7"/><polygon points="802.2,172.2 811.6,172.2 816.3,170.6 806.9,170.6" fill="#fffbf9"/></g><g stroke="#7f7f7f" stroke-width="0.7" stroke-linejoin="round"><polygon points="731.5,187.0 738.6,187.0 738.6,182.8 735.1,179.5 731.5,182.8" fill="#ffffff"/><polygon points="738.6,187.0 742.8,184.9 742.8,180.8 738.6,182.8" fill="#ffffff"/><polygon points="738.6,182.8 742.8,180.8 739.2,177.4 735.1,179.5" fill="#ffffff"/></g><rect x="702.4" y="186.5" width="1.3" height="4.5" fill="#7a4a2a"/><circle cx="703.0" cy="184.0" r="3.3" fill="#3fa35f" stroke="#1f6b3a" stroke-width="0.6"/><rect x="696.6" y="187.7" width="1.3" height="4.5" fill="#7a4a2a"/><circle cx="697.2" cy="185.2" r="3.3" fill="#3fa35f" stroke="#1f6b3a" stroke-width="0.6"/><g stroke="#a09898" stroke-width="0.5" stroke-linejoin="round"><polygon points="779.0,184.0 787.0,184.0 787.0,176.0 779.0,176.0" fill="#fef5f2"/><polygon points="787.0,184.0 791.0,182.6 791.0,174.6 787.0,176.0" fill="#fbebe7"/><polygon points="779.0,176.0 787.0,176.0 791.0,174.6 783.0,174.6" fill="#fffbf9"/></g><rect x="682.6" y="190.0" width="1.3" height="4.5" fill="#7a4a2a"/><circle cx="683.2" cy="187.5" r="3.3" fill="#3fa35f" stroke="#1f6b3a" stroke-width="0.6"/><g stroke="#a09898" stroke-width="0.5" stroke-linejoin="round"><polygon points="788.0,186.3 797.4,186.3 797.4,177.9 788.0,177.9" fill="#fef5f2"/><polygon points="797.4,186.3 802.1,184.7 802.1,176.3 797.4,177.9" fill="#fbebe7"/><polygon points="788.0,177.9 797.4,177.9 802.1,176.3 792.7,176.3" fill="#fffbf9"/></g><rect x="676.7" y="191.2" width="1.3" height="4.5" fill="#7a4a2a"/><circle cx="677.3" cy="188.7" r="3.3" fill="#3fa35f" stroke="#1f6b3a" stroke-width="0.6"/><g stroke="#a09898" stroke-width="0.5" stroke-linejoin="round"><polygon points="817.2,187.2 829.4,187.2 829.4,176.9 817.2,176.9" fill="#fef5f2"/><polygon points="829.4,187.2 835.5,185.1 835.5,174.8 829.4,176.9" fill="#fbebe7"/><polygon points="817.2,176.9 829.4,176.9 835.5,174.8 823.3,174.8" fill="#fffbf9"/></g><g stroke="#a09898" stroke-width="0.5" stroke-linejoin="round"><polygon points="805.0,191.0 814.4,191.0 814.4,180.7 805.0,180.7" fill="#fef5f2"/><polygon points="814.4,191.0 819.1,189.4 819.1,179.1 814.4,180.7" fill="#fbebe7"/><polygon points="805.0,180.7 814.4,180.7 819.1,179.1 809.7,179.1" fill="#fffbf9"/></g><g stroke="#a09898" stroke-width="0.5" stroke-linejoin="round"><polygon points="770.3,192.8 782.5,192.8 782.5,182.5 770.3,182.5" fill="#fef5f2"/><polygon points="782.5,192.8 788.6,190.7 788.6,180.4 782.5,182.5" fill="#fbebe7"/><polygon points="770.3,182.5 782.5,182.5 788.6,180.4 776.4,180.4" fill="#fffbf9"/></g><g stroke="#7f7f7f" stroke-width="0.7" stroke-linejoin="round"><polygon points="700.0,200.5 707.1,200.5 707.1,196.3 703.6,193.0 700.0,196.3" fill="#ffffff"/><polygon points="707.1,200.5 711.3,198.4 711.3,194.3 707.1,196.3" fill="#ffffff"/><polygon points="707.1,196.3 711.3,194.3 707.7,190.9 703.6,193.0" fill="#ffffff"/></g><g stroke="#7f7f7f" stroke-width="0.7" stroke-linejoin="round"><polygon points="687.0,203.0 694.1,203.0 694.1,198.8 690.6,195.5 687.0,198.8" fill="#ffffff"/><polygon points="694.1,203.0 698.3,200.9 698.3,196.8 694.1,198.8" fill="#ffffff"/><polygon points="694.1,198.8 698.3,196.8 694.7,193.4 690.6,195.5" fill="#ffffff"/></g><g stroke="#a09898" stroke-width="0.5" stroke-linejoin="round"><polygon points="757.2,197.5 767.5,197.5 767.5,187.2 757.2,187.2" fill="#fef5f2"/><polygon points="767.5,197.5 772.6,195.7 772.6,185.4 767.5,187.2" fill="#fbebe7"/><polygon points="757.2,187.2 767.5,187.2 772.6,185.4 762.4,185.4" fill="#fffbf9"/></g><g stroke="#a09898" stroke-width="0.5" stroke-linejoin="round"><polygon points="789.0,198.4 801.2,198.4 801.2,187.1 789.0,187.1" fill="#fef5f2"/><polygon points="801.2,198.4 807.3,196.3 807.3,185.0 801.2,187.1" fill="#fbebe7"/><polygon points="789.0,187.1 801.2,187.1 807.3,185.0 795.1,185.0" fill="#fffbf9"/></g><g stroke="#8e8e92" stroke-width="0.5" stroke-linejoin="round"><polygon points="906.0,200.5 913.0,200.5 913.0,192.5 906.0,192.5" fill="#f3f3f3"/><polygon points="913.0,200.5 916.9,199.1 916.9,191.1 913.0,192.5" fill="#dcdcde"/><polygon points="906.0,192.5 913.0,192.5 916.9,191.1 909.9,191.1" fill="#ffffff"/></g><g stroke="#8e8e92" stroke-width="0.5" stroke-linejoin="round"><polygon points="891.1,201.4 896.4,201.4 896.4,177.8 891.1,177.8" fill="#f3f3f3"/><polygon points="896.4,201.4 899.3,200.3 899.3,176.7 896.4,177.8" fill="#dcdcde"/><polygon points="891.1,177.8 896.4,177.8 899.3,176.7 894.0,176.7" fill="#ffffff"/></g><g stroke="#8e8e92" stroke-width="0.5" stroke-linejoin="round"><polygon points="846.5,202.3 857.0,202.3 857.0,191.8 846.5,191.8" fill="#f3f3f3"/><polygon points="857.0,202.3 862.8,200.2 862.8,189.7 857.0,191.8" fill="#dcdcde"/><polygon points="846.5,191.8 857.0,191.8 862.8,189.7 852.3,189.7" fill="#ffffff"/></g><g stroke="#a09898" stroke-width="0.5" stroke-linejoin="round"><polygon points="774.0,203.0 784.3,203.0 784.3,192.7 774.0,192.7" fill="#fef5f2"/><polygon points="784.3,203.0 789.4,201.2 789.4,190.9 784.3,192.7" fill="#fbebe7"/><polygon points="774.0,192.7 784.3,192.7 789.4,190.9 779.1,190.9" fill="#fffbf9"/></g><g stroke="#8e8e92" stroke-width="0.5" stroke-linejoin="round"><polygon points="893.8,204.9 900.8,204.9 900.8,190.9 893.8,190.9" fill="#f3f3f3"/><polygon points="900.8,204.9 904.6,203.5 904.6,189.5 900.8,190.9" fill="#dcdcde"/><polygon points="893.8,190.9 900.8,190.9 904.6,189.5 897.6,189.5" fill="#ffffff"/></g><g stroke="#a09898" stroke-width="0.5" stroke-linejoin="round"><polygon points="753.4,205.0 761.8,205.0 761.8,195.6 753.4,195.6" fill="#fef5f2"/><polygon points="761.8,205.0 766.0,203.6 766.0,194.2 761.8,195.6" fill="#fbebe7"/><polygon points="753.4,195.6 761.8,195.6 766.0,194.2 757.6,194.2" fill="#fffbf9"/></g><g stroke="#a09898" stroke-width="0.5" stroke-linejoin="round"><polygon points="732.0,207.0 747.0,207.0 747.0,195.7 732.0,195.7" fill="#fef5f2"/><polygon points="747.0,207.0 754.5,204.4 754.5,193.1 747.0,195.7" fill="#fbebe7"/><polygon points="732.0,195.7 747.0,195.7 754.5,193.1 739.5,193.1" fill="#fffbf9"/></g><g stroke="#a09898" stroke-width="0.5" stroke-linejoin="round"><polygon points="767.5,212.5 779.7,212.5 779.7,201.2 767.5,201.2" fill="#fef5f2"/><polygon points="779.7,212.5 785.8,210.4 785.8,199.1 779.7,201.2" fill="#fbebe7"/><polygon points="767.5,201.2 779.7,201.2 785.8,199.1 773.6,199.1" fill="#fffbf9"/></g><g stroke="#8e8e92" stroke-width="0.5" stroke-linejoin="round"><polygon points="885.0,212.8 893.8,212.8 893.8,203.2 885.0,203.2" fill="#f3f3f3"/><polygon points="893.8,212.8 898.6,211.0 898.6,201.4 893.8,203.2" fill="#dcdcde"/><polygon points="885.0,203.2 893.8,203.2 898.6,201.4 889.8,201.4" fill="#ffffff"/></g><g stroke="#a09898" stroke-width="0.5" stroke-linejoin="round"><polygon points="716.0,214.4 728.2,214.4 728.2,201.4 716.0,201.4" fill="#fef5f2"/><polygon points="728.2,214.4 734.3,212.3 734.3,199.3 728.2,201.4" fill="#fbebe7"/><polygon points="716.0,201.4 728.2,201.4 734.3,199.3 722.1,199.3" fill="#fffbf9"/></g><g stroke="#8e8e92" stroke-width="0.5" stroke-linejoin="round"><polygon points="879.8,214.5 888.6,214.5 888.6,190.9 879.8,190.9" fill="#f3f3f3"/><polygon points="888.6,214.5 893.4,212.7 893.4,189.1 888.6,190.9" fill="#dcdcde"/><polygon points="879.8,190.9 888.6,190.9 893.4,189.1 884.6,189.1" fill="#ffffff"/></g><g stroke="#a09898" stroke-width="0.5" stroke-linejoin="round"><polygon points="754.4,216.3 763.8,216.3 763.8,206.0 754.4,206.0" fill="#fef5f2"/><polygon points="763.8,216.3 768.5,214.7 768.5,204.4 763.8,206.0" fill="#fbebe7"/><polygon points="754.4,206.0 763.8,206.0 768.5,204.4 759.1,204.4" fill="#fffbf9"/></g><g stroke="#8e8e92" stroke-width="0.5" stroke-linejoin="round"><polygon points="864.0,216.3 875.4,216.3 875.4,185.7 864.0,185.7" fill="#f3f3f3"/><polygon points="875.4,216.3 881.7,214.0 881.7,183.4 875.4,185.7" fill="#dcdcde"/><polygon points="864.0,185.7 875.4,185.7 881.7,183.4 870.3,183.4" fill="#ffffff"/></g><g stroke="#8e8e92" stroke-width="0.5" stroke-linejoin="round"><polygon points="847.4,217.1 858.8,217.1 858.8,202.2 847.4,202.2" fill="#f3f3f3"/><polygon points="858.8,217.1 865.1,214.8 865.1,199.9 858.8,202.2" fill="#dcdcde"/><polygon points="847.4,202.2 858.8,202.2 865.1,199.9 853.7,199.9" fill="#ffffff"/></g><g stroke="#a09898" stroke-width="0.5" stroke-linejoin="round"><polygon points="736.6,220.0 749.6,220.0 749.6,208.7 736.6,208.7" fill="#fef5f2"/><polygon points="749.6,220.0 756.1,217.8 756.1,206.5 749.6,208.7" fill="#fbebe7"/><polygon points="736.6,208.7 749.6,208.7 756.1,206.5 743.1,206.5" fill="#fffbf9"/></g><g stroke="#8e8e92" stroke-width="0.5" stroke-linejoin="round"><polygon points="825.5,221.5 836.0,221.5 836.0,198.7 825.5,198.7" fill="#f3f3f3"/><polygon points="836.0,221.5 841.8,219.4 841.8,196.6 836.0,198.7" fill="#dcdcde"/><polygon points="825.5,198.7 836.0,198.7 841.8,196.6 831.3,196.6" fill="#ffffff"/></g><g stroke="#a09898" stroke-width="0.5" stroke-linejoin="round"><polygon points="704.7,223.8 720.7,223.8 720.7,211.6 704.7,211.6" fill="#fef5f2"/><polygon points="720.7,223.8 728.7,221.1 728.7,208.9 720.7,211.6" fill="#fbebe7"/><polygon points="704.7,211.6 720.7,211.6 728.7,208.9 712.7,208.9" fill="#fffbf9"/></g><g stroke="#8e8e92" stroke-width="0.5" stroke-linejoin="round"><polygon points="866.6,225.0 874.5,225.0 874.5,215.4 866.6,215.4" fill="#f3f3f3"/><polygon points="874.5,225.0 878.8,223.4 878.8,213.8 874.5,215.4" fill="#dcdcde"/><polygon points="866.6,215.4 874.5,215.4 878.8,213.8 870.9,213.8" fill="#ffffff"/></g><g stroke="#a09898" stroke-width="0.5" stroke-linejoin="round"><polygon points="742.0,226.0 751.0,226.0 751.0,217.0 742.0,217.0" fill="#fef5f2"/><polygon points="751.0,226.0 755.5,224.5 755.5,215.5 751.0,217.0" fill="#fbebe7"/><polygon points="742.0,217.0 751.0,217.0 755.5,215.5 746.5,215.5" fill="#fffbf9"/></g><g stroke="#8e8e92" stroke-width="0.5" stroke-linejoin="round"><polygon points="838.6,226.8 847.4,226.8 847.4,216.3 838.6,216.3" fill="#f3f3f3"/><polygon points="847.4,226.8 852.2,225.0 852.2,214.5 847.4,216.3" fill="#dcdcde"/><polygon points="838.6,216.3 847.4,216.3 852.2,214.5 843.4,214.5" fill="#ffffff"/></g><g stroke="#a09898" stroke-width="0.5" stroke-linejoin="round"><polygon points="726.3,231.3 742.3,231.3 742.3,218.3 726.3,218.3" fill="#fef5f2"/><polygon points="742.3,231.3 750.3,228.6 750.3,215.6 742.3,218.3" fill="#fbebe7"/><polygon points="726.3,218.3 742.3,218.3 750.3,215.6 734.3,215.6" fill="#fffbf9"/></g><g stroke="#8e8e92" stroke-width="0.5" stroke-linejoin="round"><polygon points="801.9,232.9 811.5,232.9 811.5,210.1 801.9,210.1" fill="#f3f3f3"/><polygon points="811.5,232.9 816.8,231.0 816.8,208.2 811.5,210.1" fill="#dcdcde"/><polygon points="801.9,210.1 811.5,210.1 816.8,208.2 807.2,208.2" fill="#ffffff"/></g><g stroke="#8e8e92" stroke-width="0.5" stroke-linejoin="round"><polygon points="863.1,233.8 871.0,233.8 871.0,224.2 863.1,224.2" fill="#f3f3f3"/><polygon points="871.0,233.8 875.3,232.2 875.3,222.6 871.0,224.2" fill="#dcdcde"/><polygon points="863.1,224.2 871.0,224.2 875.3,222.6 867.4,222.6" fill="#ffffff"/></g><g stroke="#8e8e92" stroke-width="0.5" stroke-linejoin="round"><polygon points="854.4,234.6 863.2,234.6 863.2,213.6 854.4,213.6" fill="#f3f3f3"/><polygon points="863.2,234.6 868.0,232.8 868.0,211.8 863.2,213.6" fill="#dcdcde"/><polygon points="854.4,213.6 863.2,213.6 868.0,211.8 859.2,211.8" fill="#ffffff"/></g><g stroke="#a09898" stroke-width="0.5" stroke-linejoin="round"><polygon points="709.4,238.8 724.4,238.8 724.4,223.8 709.4,223.8" fill="#fef5f2"/><polygon points="724.4,238.8 731.9,236.2 731.9,221.2 724.4,223.8" fill="#fbebe7"/><polygon points="709.4,223.8 724.4,223.8 731.9,221.2 716.9,221.2" fill="#fffbf9"/></g><g stroke="#8e8e92" stroke-width="0.5" stroke-linejoin="round"><polygon points="781.8,239.0 790.6,239.0 790.6,219.7 781.8,219.7" fill="#f3f3f3"/><polygon points="790.6,239.0 795.4,237.2 795.4,217.9 790.6,219.7" fill="#dcdcde"/><polygon points="781.8,219.7 790.6,219.7 795.4,217.9 786.6,217.9" fill="#ffffff"/></g><g stroke="#8e8e92" stroke-width="0.5" stroke-linejoin="round"><polygon points="780.6,246.0 791.9,246.0 791.9,224.0 780.6,224.0" fill="#f3f3f3"/><polygon points="791.9,246.0 798.1,243.7 798.1,221.7 791.9,224.0" fill="#dcdcde"/><polygon points="780.6,224.0 791.9,224.0 798.1,221.7 786.8,221.7" fill="#ffffff"/></g><g stroke="#8e8e92" stroke-width="0.5" stroke-linejoin="round"><polygon points="819.4,246.0 832.5,246.0 832.5,223.2 819.4,223.2" fill="#f3f3f3"/><polygon points="832.5,246.0 839.7,243.4 839.7,220.6 832.5,223.2" fill="#dcdcde"/><polygon points="819.4,223.2 832.5,223.2 839.7,220.6 826.6,220.6" fill="#ffffff"/></g><g stroke="#8e8e92" stroke-width="0.5" stroke-linejoin="round"><polygon points="841.3,247.8 849.2,247.8 849.2,226.8 841.3,226.8" fill="#f3f3f3"/><polygon points="849.2,247.8 853.5,246.2 853.5,225.2 849.2,226.8" fill="#dcdcde"/><polygon points="841.3,226.8 849.2,226.8 853.5,225.2 845.6,225.2" fill="#ffffff"/></g><g stroke="#8e8e92" stroke-width="0.5" stroke-linejoin="round"><polygon points="760.0,250.0 771.3,250.0 771.3,218.0 760.0,218.0" fill="#f3f3f3"/><polygon points="771.3,250.0 777.5,247.7 777.5,215.7 771.3,218.0" fill="#dcdcde"/><polygon points="760.0,218.0 771.3,218.0 777.5,215.7 766.2,215.7" fill="#ffffff"/></g><g stroke="#8e8e92" stroke-width="0.5" stroke-linejoin="round"><polygon points="808.9,263.5 821.2,263.5 821.2,249.5 808.9,249.5" fill="#f3f3f3"/><polygon points="821.2,263.5 828.0,261.0 828.0,247.0 821.2,249.5" fill="#dcdcde"/><polygon points="808.9,249.5 821.2,249.5 828.0,247.0 815.7,247.0" fill="#ffffff"/></g><g stroke="#8e8e92" stroke-width="0.5" stroke-linejoin="round"><polygon points="829.9,263.5 839.5,263.5 839.5,249.5 829.9,249.5" fill="#f3f3f3"/><polygon points="839.5,263.5 844.8,261.6 844.8,247.6 839.5,249.5" fill="#dcdcde"/><polygon points="829.9,249.5 839.5,249.5 844.8,247.6 835.2,247.6" fill="#ffffff"/></g><g stroke="#8e8e92" stroke-width="0.5" stroke-linejoin="round"><polygon points="741.3,264.0 753.5,264.0 753.5,242.5 741.3,242.5" fill="#f3f3f3"/><polygon points="753.5,264.0 760.2,261.6 760.2,240.1 753.5,242.5" fill="#dcdcde"/><polygon points="741.3,242.5 753.5,242.5 760.2,240.1 748.0,240.1" fill="#ffffff"/></g><g stroke="#8e8e92" stroke-width="0.5" stroke-linejoin="round"><polygon points="768.4,265.0 783.4,265.0 783.4,234.0 768.4,234.0" fill="#f3f3f3"/><polygon points="783.4,265.0 791.6,262.0 791.6,231.0 783.4,234.0" fill="#dcdcde"/><polygon points="768.4,234.0 783.4,234.0 791.6,231.0 776.6,231.0" fill="#ffffff"/></g><g stroke="#8e8e92" stroke-width="0.5" stroke-linejoin="round"><polygon points="791.4,266.1 806.3,266.1 806.3,238.1 791.4,238.1" fill="#f3f3f3"/><polygon points="806.3,266.1 814.5,263.1 814.5,235.1 806.3,238.1" fill="#dcdcde"/><polygon points="791.4,238.1 806.3,238.1 814.5,235.1 799.6,235.1" fill="#ffffff"/></g><g stroke="#8e8e92" stroke-width="0.5" stroke-linejoin="round"><polygon points="770.3,278.0 782.5,278.0 782.5,257.4 770.3,257.4" fill="#f3f3f3"/><polygon points="782.5,278.0 789.2,275.6 789.2,255.0 782.5,257.4" fill="#dcdcde"/><polygon points="770.3,257.4 782.5,257.4 789.2,255.0 777.0,255.0" fill="#ffffff"/></g><g stroke="#8e8e92" stroke-width="0.5" stroke-linejoin="round"><polygon points="799.3,291.5 813.3,291.5 813.3,268.7 799.3,268.7" fill="#f3f3f3"/><polygon points="813.3,291.5 821.0,288.7 821.0,265.9 813.3,268.7" fill="#dcdcde"/><polygon points="799.3,268.7 813.3,268.7 821.0,265.9 807.0,265.9" fill="#ffffff"/></g><path d="M649.9,161.1L651.4,165.0M652.0,159.8V165.0M654.2,160.9L652.8,165.0" stroke="#8fd08a" stroke-width="1.19" fill="none" stroke-linecap="round"/><path d="M663.9,166.1L665.4,170.0M666.0,164.8V170.0M668.2,165.9L666.8,170.0" stroke="#8fd08a" stroke-width="1.19" fill="none" stroke-linecap="round"/><path d="M754.9,182.1L756.4,186.0M757.0,180.8V186.0M759.2,181.9L757.8,186.0" stroke="#8fd08a" stroke-width="1.19" fill="none" stroke-linecap="round"/><path d="M732.9,193.1L734.4,197.0M735.0,191.8V197.0M737.2,192.9L735.8,197.0" stroke="#8fd08a" stroke-width="1.19" fill="none" stroke-linecap="round"/><path d="M719.9,198.1L721.4,202.0M722.0,196.8V202.0M724.2,197.9L722.8,202.0" stroke="#8fd08a" stroke-width="1.19" fill="none" stroke-linecap="round"/><path d="M805.9,142.1L807.4,146.0M808.0,140.8V146.0M810.2,141.9L808.8,146.0" stroke="#8fd08a" stroke-width="1.19" fill="none" stroke-linecap="round"/><path d="M751.9,151.1L753.4,155.0M754.0,149.8V155.0M756.2,150.9L754.8,155.0" stroke="#8fd08a" stroke-width="1.19" fill="none" stroke-linecap="round"/></g><path d="M833.7,139.2 L829,169.5" stroke="#1e1e1e" stroke-width="1.3"/><polygon points="751.4,179.1 730.1,158.1 735.5,155.8 719.0,153.1 716.3,164.0 721.7,161.7 743.0,182.7" fill="#1f2a70"/><polygon points="751.4,177.5 730.1,156.5 735.5,154.2 719.0,151.5 716.3,162.4 721.7,160.1 743.0,181.1" fill="#2f43a0"/><polygon points="808.7,168.3 787.4,147.3 792.8,145.0 776.3,142.3 773.6,153.2 779.0,150.9 800.3,171.9" fill="#1f2a70"/><polygon points="808.7,166.7 787.4,145.7 792.8,143.4 776.3,140.7 773.6,151.6 779.0,149.3 800.3,170.3" fill="#2f43a0"/><polygon points="716.5,296.9 752.6,279.5 756.4,282.8 760.0,271.8 742.7,270.8 746.6,274.2 710.5,291.7" fill="#1f2a70"/><polygon points="716.5,295.1 752.6,277.7 756.4,281.0 760.0,270.0 742.7,269.0 746.6,272.4 710.5,289.9" fill="#2f43a0"/></g><g><polygon points="130.5,432.3 297.3,432.3 346.3,516.1 82.2,516.1" fill="#e6f2c8" stroke="#727272" stroke-width="1.7"/><path d="M102.7,478.9L104.2,482.8M104.8,477.6V482.8M107.0,478.7L105.5,482.8" stroke="#9bdc9a" stroke-width="1.19" fill="none" stroke-linecap="round"/><path d="M110.2,480.4L111.7,484.3M112.3,479.1V484.3M114.5,480.2L113.0,484.3" stroke="#9bdc9a" stroke-width="1.19" fill="none" stroke-linecap="round"/><path d="M117.7,478.9L119.2,482.8M119.8,477.6V482.8M122.0,478.7L120.5,482.8" stroke="#9bdc9a" stroke-width="1.19" fill="none" stroke-linecap="round"/><path d="M125.2,480.4L126.7,484.3M127.3,479.1V484.3M129.6,480.2L128.1,484.3" stroke="#9bdc9a" stroke-width="1.19" fill="none" stroke-linecap="round"/><path d="M132.7,478.9L134.2,482.8M134.8,477.6V482.8M137.1,478.7L135.6,482.8" stroke="#9bdc9a" stroke-width="1.19" fill="none" stroke-linecap="round"/><path d="M140.2,480.4L141.7,484.3M142.3,479.1V484.3M144.6,480.2L143.1,484.3" stroke="#9bdc9a" stroke-width="1.19" fill="none" stroke-linecap="round"/><path d="M106.0,486.9L107.5,490.8M108.1,485.6V490.8M110.3,486.7L108.8,490.8" stroke="#9bdc9a" stroke-width="1.19" fill="none" stroke-linecap="round"/><path d="M113.5,485.4L115.0,489.3M115.6,484.1V489.3M117.8,485.2L116.3,489.3" stroke="#9bdc9a" stroke-width="1.19" fill="none" stroke-linecap="round"/><path d="M121.0,486.9L122.5,490.8M123.1,485.6V490.8M125.3,486.7L123.8,490.8" stroke="#9bdc9a" stroke-width="1.19" fill="none" stroke-linecap="round"/><path d="M128.5,485.4L130.0,489.3M130.6,484.1V489.3M132.8,485.2L131.3,489.3" stroke="#9bdc9a" stroke-width="1.19" fill="none" stroke-linecap="round"/><path d="M136.0,486.9L137.5,490.8M138.1,485.6V490.8M140.3,486.7L138.8,490.8" stroke="#9bdc9a" stroke-width="1.19" fill="none" stroke-linecap="round"/><path d="M143.5,485.4L145.0,489.3M145.6,484.1V489.3M147.8,485.2L146.3,489.3" stroke="#9bdc9a" stroke-width="1.19" fill="none" stroke-linecap="round"/><path d="M101.8,493.4L103.3,497.3M103.9,492.1V497.3M106.2,493.2L104.7,497.3" stroke="#9bdc9a" stroke-width="1.19" fill="none" stroke-linecap="round"/><path d="M109.3,491.9L110.8,495.8M111.4,490.6V495.8M113.7,491.7L112.2,495.8" stroke="#9bdc9a" stroke-width="1.19" fill="none" stroke-linecap="round"/><path d="M116.8,493.4L118.3,497.3M118.9,492.1V497.3M121.2,493.2L119.7,497.3" stroke="#9bdc9a" stroke-width="1.19" fill="none" stroke-linecap="round"/><path d="M124.3,491.9L125.8,495.8M126.4,490.6V495.8M128.7,491.7L127.2,495.8" stroke="#9bdc9a" stroke-width="1.19" fill="none" stroke-linecap="round"/><path d="M131.8,493.4L133.3,497.3M133.9,492.1V497.3M136.2,493.2L134.7,497.3" stroke="#9bdc9a" stroke-width="1.19" fill="none" stroke-linecap="round"/><path d="M139.3,491.9L140.8,495.8M141.4,490.6V495.8M143.7,491.7L142.2,495.8" stroke="#9bdc9a" stroke-width="1.19" fill="none" stroke-linecap="round"/><path d="M97.6,499.9L99.1,503.8M99.7,498.6V503.8M102.0,499.7L100.5,503.8" stroke="#9bdc9a" stroke-width="1.19" fill="none" stroke-linecap="round"/><path d="M105.1,498.4L106.6,502.3M107.2,497.1V502.3M109.5,498.2L108.0,502.3" stroke="#9bdc9a" stroke-width="1.19" fill="none" stroke-linecap="round"/><path d="M112.6,499.9L114.1,503.8M114.7,498.6V503.8M117.0,499.7L115.5,503.8" stroke="#9bdc9a" stroke-width="1.19" fill="none" stroke-linecap="round"/><path d="M120.1,498.4L121.6,502.3M122.2,497.1V502.3M124.5,498.2L123.0,502.3" stroke="#9bdc9a" stroke-width="1.19" fill="none" stroke-linecap="round"/><path d="M127.6,499.9L129.1,503.8M129.7,498.6V503.8M131.9,499.7L130.4,503.8" stroke="#9bdc9a" stroke-width="1.19" fill="none" stroke-linecap="round"/><path d="M135.1,498.4L136.6,502.3M137.2,497.1V502.3M139.4,498.2L137.9,502.3" stroke="#9bdc9a" stroke-width="1.19" fill="none" stroke-linecap="round"/><path d="M93.4,506.4L94.9,510.3M95.5,505.1V510.3M97.8,506.2L96.2,510.3" stroke="#9bdc9a" stroke-width="1.19" fill="none" stroke-linecap="round"/><path d="M100.9,504.9L102.4,508.8M103.0,503.6V508.8M105.2,504.7L103.8,508.8" stroke="#9bdc9a" stroke-width="1.19" fill="none" stroke-linecap="round"/><path d="M108.4,506.4L109.9,510.3M110.5,505.1V510.3M112.8,506.2L111.2,510.3" stroke="#9bdc9a" stroke-width="1.19" fill="none" stroke-linecap="round"/><path d="M115.9,504.9L117.4,508.8M118.0,503.6V508.8M120.2,504.7L118.8,508.8" stroke="#9bdc9a" stroke-width="1.19" fill="none" stroke-linecap="round"/><path d="M123.4,506.4L124.9,510.3M125.5,505.1V510.3M127.8,506.2L126.2,510.3" stroke="#9bdc9a" stroke-width="1.19" fill="none" stroke-linecap="round"/><path d="M130.9,504.9L132.4,508.8M133.0,503.6V508.8M135.2,504.7L133.8,508.8" stroke="#9bdc9a" stroke-width="1.19" fill="none" stroke-linecap="round"/><path d="M285.1,443.3L286.4,446.8M287.0,442.1V446.8M289.0,443.1L287.7,446.8" stroke="#9bdc9a" stroke-width="1.07" fill="none" stroke-linecap="round"/><path d="M291.6,443.3L292.9,446.8M293.5,442.1V446.8M295.5,443.1L294.2,446.8" stroke="#9bdc9a" stroke-width="1.07" fill="none" stroke-linecap="round"/><path d="M298.1,443.3L299.4,446.8M300.0,442.1V446.8M302.0,443.1L300.7,446.8" stroke="#9bdc9a" stroke-width="1.07" fill="none" stroke-linecap="round"/><path d="M289.1,449.3L290.4,452.8M291.0,448.1V452.8M293.0,449.1L291.7,452.8" stroke="#9bdc9a" stroke-width="1.07" fill="none" stroke-linecap="round"/><path d="M295.6,449.3L296.9,452.8M297.5,448.1V452.8M299.5,449.1L298.2,452.8" stroke="#9bdc9a" stroke-width="1.07" fill="none" stroke-linecap="round"/><path d="M302.1,449.3L303.4,452.8M304.0,448.1V452.8M306.0,449.1L304.7,452.8" stroke="#9bdc9a" stroke-width="1.07" fill="none" stroke-linecap="round"/><path d="M293.1,455.3L294.4,458.8M295.0,454.1V458.8M297.0,455.1L295.7,458.8" stroke="#9bdc9a" stroke-width="1.07" fill="none" stroke-linecap="round"/><path d="M299.6,455.3L300.9,458.8M301.5,454.1V458.8M303.5,455.1L302.2,458.8" stroke="#9bdc9a" stroke-width="1.07" fill="none" stroke-linecap="round"/><path d="M306.1,455.3L307.4,458.8M308.0,454.1V458.8M310.0,455.1L308.7,458.8" stroke="#9bdc9a" stroke-width="1.07" fill="none" stroke-linecap="round"/><path d="M297.1,461.3L298.4,464.8M299.0,460.1V464.8M301.0,461.1L299.7,464.8" stroke="#9bdc9a" stroke-width="1.07" fill="none" stroke-linecap="round"/><path d="M303.6,461.3L304.9,464.8M305.5,460.1V464.8M307.5,461.1L306.2,464.8" stroke="#9bdc9a" stroke-width="1.07" fill="none" stroke-linecap="round"/><path d="M310.1,461.3L311.4,464.8M312.0,460.1V464.8M314.0,461.1L312.7,464.8" stroke="#9bdc9a" stroke-width="1.07" fill="none" stroke-linecap="round"/><path d="M301.1,467.3L302.4,470.8M303.0,466.1V470.8M305.0,467.1L303.7,470.8" stroke="#9bdc9a" stroke-width="1.07" fill="none" stroke-linecap="round"/><path d="M307.6,467.3L308.9,470.8M309.5,466.1V470.8M311.5,467.1L310.2,470.8" stroke="#9bdc9a" stroke-width="1.07" fill="none" stroke-linecap="round"/><path d="M314.1,467.3L315.4,470.8M316.0,466.1V470.8M318.0,467.1L316.7,470.8" stroke="#9bdc9a" stroke-width="1.07" fill="none" stroke-linecap="round"/><path d="M166.5,443.8L167.7,446.9M168.2,442.7V446.9M170.0,443.6L168.8,446.9" stroke="#9bdc9a" stroke-width="0.94" fill="none" stroke-linecap="round"/><path d="M177.5,436.5L178.6,439.4M179.1,435.5V439.4M180.8,436.3L179.6,439.4" stroke="#9bdc9a" stroke-width="0.89" fill="none" stroke-linecap="round"/><path d="M193.0,498.5L194.0,500.9M194.4,497.6V500.9M195.8,498.3L194.9,500.9" stroke="#9bdc9a" stroke-width="0.76" fill="none" stroke-linecap="round"/><path d="M140.2,481.6L141.5,485.0M142.0,480.4V485.0M144.0,481.3L142.7,485.0" stroke="#9bdc9a" stroke-width="1.05" fill="none" stroke-linecap="round"/><path d="M305.8,455.5L306.8,458.0M307.2,454.6V458.0M308.6,455.3L307.7,458.0" stroke="#9bdc9a" stroke-width="0.76" fill="none" stroke-linecap="round"/><path d="M294.5,446.3L295.7,449.3M296.2,445.2V449.3M297.9,446.1L296.8,449.3" stroke="#9bdc9a" stroke-width="0.92" fill="none" stroke-linecap="round"/><path d="M225.1,437.4L226.0,439.8M226.4,436.6V439.8M227.8,437.3L226.9,439.8" stroke="#9bdc9a" stroke-width="0.73" fill="none" stroke-linecap="round"/><path d="M136.0,486.4L137.1,489.2M137.5,485.4V489.2M139.2,486.2L138.1,489.2" stroke="#9bdc9a" stroke-width="0.86" fill="none" stroke-linecap="round"/><path d="M289.1,488.1L290.1,490.7M290.5,487.2V490.7M292.1,487.9L291.0,490.7" stroke="#9bdc9a" stroke-width="0.80" fill="none" stroke-linecap="round"/><path d="M310.1,490.5L311.1,493.2M311.5,489.6V493.2M313.1,490.3L312.1,493.2" stroke="#9bdc9a" stroke-width="0.82" fill="none" stroke-linecap="round"/><path d="M122.2,471.5L123.1,473.9M123.5,470.7V473.9M124.9,471.4L124.0,473.9" stroke="#9bdc9a" stroke-width="0.73" fill="none" stroke-linecap="round"/><path d="M256.1,493.0L257.3,496.0M257.7,491.9V496.0M259.5,492.8L258.3,496.0" stroke="#9bdc9a" stroke-width="0.92" fill="none" stroke-linecap="round"/><path d="M300.8,507.5L301.9,510.4M302.4,506.5V510.4M304.1,507.3L302.9,510.4" stroke="#9bdc9a" stroke-width="0.88" fill="none" stroke-linecap="round"/><path d="M255.0,436.5L256.2,439.7M256.7,435.4V439.7M258.5,436.3L257.3,439.7" stroke="#9bdc9a" stroke-width="0.96" fill="none" stroke-linecap="round"/><path d="M296.2,454.8L297.3,457.6M297.7,453.8V457.6M299.3,454.6L298.2,457.6" stroke="#9bdc9a" stroke-width="0.85" fill="none" stroke-linecap="round"/><path d="M256.3,433.7L257.4,436.6M257.8,432.7V436.6M259.5,433.6L258.4,436.6" stroke="#9bdc9a" stroke-width="0.88" fill="none" stroke-linecap="round"/><path d="M126.4,441.8L127.3,444.2M127.7,440.9V444.2M129.1,441.6L128.2,444.2" stroke="#9bdc9a" stroke-width="0.73" fill="none" stroke-linecap="round"/><path d="M282.3,442.5L283.3,445.1M283.7,441.6V445.1M285.3,442.4L284.2,445.1" stroke="#9bdc9a" stroke-width="0.80" fill="none" stroke-linecap="round"/><path d="M184.3,502.1L185.3,504.5M185.6,501.2V504.5M187.1,501.9L186.1,504.5" stroke="#9bdc9a" stroke-width="0.74" fill="none" stroke-linecap="round"/><path d="M311.9,497.0L313.1,500.3M313.7,495.8V500.3M315.6,496.8L314.3,500.3" stroke="#9bdc9a" stroke-width="1.02" fill="none" stroke-linecap="round"/><path d="M175.4,502.1L176.7,505.5M177.3,500.9V505.5M179.3,501.9L177.9,505.5" stroke="#9bdc9a" stroke-width="1.05" fill="none" stroke-linecap="round"/><path d="M142.7,450.6L143.8,453.5M144.3,449.6V453.5M146.0,450.4L144.9,453.5" stroke="#9bdc9a" stroke-width="0.89" fill="none" stroke-linecap="round"/><path d="M258.0,435.7L259.3,439.1M259.8,434.6V439.1M261.8,435.5L260.5,439.1" stroke="#9bdc9a" stroke-width="1.03" fill="none" stroke-linecap="round"/><path d="M285.0,501.5L286.3,504.8M286.8,500.4V504.8M288.7,501.3L287.4,504.8" stroke="#9bdc9a" stroke-width="1.00" fill="none" stroke-linecap="round"/><path d="M109.6,483.1L110.5,485.5M110.9,482.3V485.5M112.3,483.0L111.4,485.5" stroke="#9bdc9a" stroke-width="0.73" fill="none" stroke-linecap="round"/><path d="M124.9,459.6L125.8,462.0M126.2,458.8V462.0M127.6,459.5L126.7,462.0" stroke="#9bdc9a" stroke-width="0.73" fill="none" stroke-linecap="round"/><path d="M176.9,441.3L178.1,444.6M178.7,440.1V444.6M180.6,441.1L179.3,444.6" stroke="#9bdc9a" stroke-width="1.01" fill="none" stroke-linecap="round"/><path d="M208.5,439.2L209.4,441.7M209.8,438.4V441.7M211.2,439.1L210.3,441.7" stroke="#9bdc9a" stroke-width="0.75" fill="none" stroke-linecap="round"/><path d="M298.2,445.4L299.1,447.7M299.5,444.5V447.7M300.9,445.2L300.0,447.7" stroke="#9bdc9a" stroke-width="0.72" fill="none" stroke-linecap="round"/><path d="M120.8,475.9L121.7,478.3M122.1,475.1V478.3M123.5,475.7L122.6,478.3" stroke="#9bdc9a" stroke-width="0.72" fill="none" stroke-linecap="round"/><path d="M219.5,509.8L220.8,513.1M221.3,508.6V513.1M223.2,509.5L222.0,513.1" stroke="#9bdc9a" stroke-width="1.02" fill="none" stroke-linecap="round"/><path d="M285.1,458.6L286.1,461.2M286.6,457.7V461.2M288.1,458.4L287.1,461.2" stroke="#9bdc9a" stroke-width="0.79" fill="none" stroke-linecap="round"/><path d="M303.9,496.0L305.2,499.3M305.7,494.8V499.3M307.6,495.8L306.3,499.3" stroke="#9bdc9a" stroke-width="1.00" fill="none" stroke-linecap="round"/><path d="M274.8,450.0L275.9,452.9M276.4,449.0V452.9M278.1,449.8L276.9,452.9" stroke="#9bdc9a" stroke-width="0.90" fill="none" stroke-linecap="round"/><path d="M175.2,434.8L176.1,437.1M176.4,433.9V437.1M177.8,434.6L176.9,437.1" stroke="#9bdc9a" stroke-width="0.72" fill="none" stroke-linecap="round"/><path d="M262.5,508.5L263.6,511.3M264.1,507.5V511.3M265.7,508.3L264.6,511.3" stroke="#9bdc9a" stroke-width="0.87" fill="none" stroke-linecap="round"/><path d="M139.9,450.4L140.9,452.9M141.3,449.5V452.9M142.8,450.2L141.8,452.9" stroke="#9bdc9a" stroke-width="0.78" fill="none" stroke-linecap="round"/><path d="M135.3,481.4L136.6,484.7M137.1,480.2V484.7M139.1,481.1L137.8,484.7" stroke="#9bdc9a" stroke-width="1.03" fill="none" stroke-linecap="round"/><path d="M300.8,470.1L302.0,473.2M302.5,469.0V473.2M304.3,469.9L303.1,473.2" stroke="#9bdc9a" stroke-width="0.95" fill="none" stroke-linecap="round"/><path d="M290.2,438.5L291.4,441.6M291.9,437.4V441.6M293.7,438.3L292.5,441.6" stroke="#9bdc9a" stroke-width="0.95" fill="none" stroke-linecap="round"/><path d="M318.8,494.2L320.0,497.4M320.5,493.1V497.4M322.4,494.0L321.2,497.4" stroke="#9bdc9a" stroke-width="0.98" fill="none" stroke-linecap="round"/><path d="M287.4,458.1L288.7,461.4M289.2,457.0V461.4M291.1,457.9L289.8,461.4" stroke="#9bdc9a" stroke-width="1.00" fill="none" stroke-linecap="round"/><path d="M186.6,507.4L187.8,510.5M188.4,506.3V510.5M190.2,507.2L189.0,510.5" stroke="#9bdc9a" stroke-width="0.97" fill="none" stroke-linecap="round"/><path d="M126.8,442.5L127.8,445.0M128.2,441.6V445.0M129.7,442.3L128.7,445.0" stroke="#9bdc9a" stroke-width="0.77" fill="none" stroke-linecap="round"/><path d="M317.9,496.8L318.9,499.3M319.3,495.9V499.3M320.7,496.7L319.7,499.3" stroke="#9bdc9a" stroke-width="0.76" fill="none" stroke-linecap="round"/><path d="M297.2,510.1L298.4,513.2M298.9,509.0V513.2M300.7,509.9L299.5,513.2" stroke="#9bdc9a" stroke-width="0.95" fill="none" stroke-linecap="round"/><path d="M219.4,506.7L220.5,509.5M220.9,505.7V509.5M222.6,506.5L221.5,509.5" stroke="#9bdc9a" stroke-width="0.87" fill="none" stroke-linecap="round"/><path d="M309.2,498.3L310.2,500.9M310.7,497.4V500.9M312.1,498.2L311.2,500.9" stroke="#9bdc9a" stroke-width="0.79" fill="none" stroke-linecap="round"/><path d="M116.6,504.9L117.6,507.6M118.1,503.9V507.6M119.7,504.7L118.6,507.6" stroke="#9bdc9a" stroke-width="0.84" fill="none" stroke-linecap="round"/><path d="M290.2,445.7L291.3,448.6M291.8,444.7V448.6M293.5,445.5L292.3,448.6" stroke="#9bdc9a" stroke-width="0.88" fill="none" stroke-linecap="round"/><path d="M110.2,477.0L111.2,479.6M111.6,476.1V479.6M113.1,476.8L112.1,479.6" stroke="#9bdc9a" stroke-width="0.80" fill="none" stroke-linecap="round"/><path d="M154.4,493.7L155.5,496.6M156.0,492.6V496.6M157.7,493.5L156.6,496.6" stroke="#9bdc9a" stroke-width="0.89" fill="none" stroke-linecap="round"/><path d="M206.6,507.0L207.8,510.1M208.3,505.9V510.1M210.1,506.8L208.9,510.1" stroke="#9bdc9a" stroke-width="0.96" fill="none" stroke-linecap="round"/><path d="M310.5,507.5L311.5,510.2M311.9,506.6V510.2M313.4,507.4L312.4,510.2" stroke="#9bdc9a" stroke-width="0.80" fill="none" stroke-linecap="round"/><path d="M227.7,507.0L228.9,510.3M229.5,505.8V510.3M231.4,506.7L230.1,510.3" stroke="#9bdc9a" stroke-width="1.01" fill="none" stroke-linecap="round"/><path d="M197.5,438.0L198.5,440.6M199.0,437.1V440.6M200.5,437.8L199.5,440.6" stroke="#9bdc9a" stroke-width="0.80" fill="none" stroke-linecap="round"/><path d="M101.2,485.1L102.5,488.4M103.0,484.0V488.4M104.9,484.9L103.6,488.4" stroke="#9bdc9a" stroke-width="0.99" fill="none" stroke-linecap="round"/><path d="M119.3,502.0L120.6,505.4M121.2,500.8V505.4M123.2,501.8L121.8,505.4" stroke="#9bdc9a" stroke-width="1.06" fill="none" stroke-linecap="round"/><path d="M139.6,508.2L140.6,511.0M141.1,507.2V511.0M142.7,508.0L141.6,511.0" stroke="#9bdc9a" stroke-width="0.85" fill="none" stroke-linecap="round"/><path d="M298.9,444.9L300.0,447.7M300.4,443.9V447.7M302.1,444.7L301.0,447.7" stroke="#9bdc9a" stroke-width="0.87" fill="none" stroke-linecap="round"/><ellipse cx="213.3" cy="471.3" rx="73" ry="26.8" fill="#fbe833" stroke="#7f7a1c" stroke-width="1.2"/><ellipse cx="215.7" cy="465.5" rx="46" ry="19.8" fill="#f79a3f"/><ellipse cx="219.2" cy="466.7" rx="33" ry="12.6" fill="#ee4a36"/><ellipse cx="219.5" cy="467" rx="22" ry="8" fill="#d92a22"/><g stroke="#6f6812" stroke-width="0.6" stroke-linejoin="round"><polygon points="206.0,450.1 209.8,450.1 209.8,447.8 206.0,447.8" fill="#fbea4d"/><polygon points="209.8,450.1 211.8,448.8 211.8,446.5 209.8,447.8" fill="#fbea4d"/><polygon points="206.0,447.8 209.8,447.8 211.8,446.5 208.0,446.5" fill="#fbea4d"/></g><g stroke="#6f6812" stroke-width="0.6" stroke-linejoin="round"><polygon points="226.3,450.8 230.1,450.8 230.1,448.5 226.3,448.5" fill="#fbea4d"/><polygon points="230.1,450.8 232.1,449.5 232.1,447.2 230.1,448.5" fill="#fbea4d"/><polygon points="226.3,448.5 230.1,448.5 232.1,447.2 228.3,447.2" fill="#fbea4d"/></g><g stroke="#6f6812" stroke-width="0.6" stroke-linejoin="round"><polygon points="184.6,451.7 188.4,451.7 188.4,449.4 184.6,449.4" fill="#fbea4d"/><polygon points="188.4,451.7 190.4,450.4 190.4,448.1 188.4,449.4" fill="#fbea4d"/><polygon points="184.6,449.4 188.4,449.4 190.4,448.1 186.6,448.1" fill="#fbea4d"/></g><g stroke="#6f6812" stroke-width="0.6" stroke-linejoin="round"><polygon points="196.8,451.7 200.6,451.7 200.6,449.4 196.8,449.4" fill="#fbea4d"/><polygon points="200.6,451.7 202.6,450.4 202.6,448.1 200.6,449.4" fill="#fbea4d"/><polygon points="196.8,449.4 200.6,449.4 202.6,448.1 198.8,448.1" fill="#fbea4d"/></g><g stroke="#6f6812" stroke-width="0.6" stroke-linejoin="round"><polygon points="238.7,452.3 242.5,452.3 242.5,450.0 238.7,450.0" fill="#fbea4d"/><polygon points="242.5,452.3 244.5,451.0 244.5,448.7 242.5,450.0" fill="#fbea4d"/><polygon points="238.7,450.0 242.5,450.0 244.5,448.7 240.7,448.7" fill="#fbea4d"/></g><g stroke="#6f6812" stroke-width="0.6" stroke-linejoin="round"><polygon points="169.9,457.4 173.7,457.4 173.7,455.1 169.9,455.1" fill="#fbea4d"/><polygon points="173.7,457.4 175.7,456.1 175.7,453.8 173.7,455.1" fill="#fbea4d"/><polygon points="169.9,455.1 173.7,455.1 175.7,453.8 171.9,453.8" fill="#fbea4d"/></g><g stroke="#6f6812" stroke-width="0.6" stroke-linejoin="round"><polygon points="256.1,459.0 259.9,459.0 259.9,456.7 256.1,456.7" fill="#fbea4d"/><polygon points="259.9,459.0 261.9,457.7 261.9,455.4 259.9,456.7" fill="#fbea4d"/><polygon points="256.1,456.7 259.9,456.7 261.9,455.4 258.1,455.4" fill="#fbea4d"/></g><g stroke="#6f6812" stroke-width="0.6" stroke-linejoin="round"><polygon points="261.7,464.1 265.5,464.1 265.5,461.8 261.7,461.8" fill="#fbea4d"/><polygon points="265.5,464.1 267.5,462.8 267.5,460.5 265.5,461.8" fill="#fbea4d"/><polygon points="261.7,461.8 265.5,461.8 267.5,460.5 263.7,460.5" fill="#fbea4d"/></g><g stroke="#6f6812" stroke-width="0.6" stroke-linejoin="round"><polygon points="167.8,464.2 171.6,464.2 171.6,461.9 167.8,461.9" fill="#fbea4d"/><polygon points="171.6,464.2 173.6,462.9 173.6,460.6 171.6,461.9" fill="#fbea4d"/><polygon points="167.8,461.9 171.6,461.9 173.6,460.6 169.8,460.6" fill="#fbea4d"/></g><g stroke="#6f6812" stroke-width="0.6" stroke-linejoin="round"><polygon points="158.9,464.5 162.7,464.5 162.7,462.2 158.9,462.2" fill="#fbea4d"/><polygon points="162.7,464.5 164.7,463.2 164.7,460.9 162.7,462.2" fill="#fbea4d"/><polygon points="158.9,462.2 162.7,462.2 164.7,460.9 160.9,460.9" fill="#fbea4d"/></g><g stroke="#6f6812" stroke-width="0.6" stroke-linejoin="round"><polygon points="273.2,464.8 277.0,464.8 277.0,462.5 273.2,462.5" fill="#fbea4d"/><polygon points="277.0,464.8 279.0,463.5 279.0,461.2 277.0,462.5" fill="#fbea4d"/><polygon points="273.2,462.5 277.0,462.5 279.0,461.2 275.2,461.2" fill="#fbea4d"/></g><g stroke="#6f6812" stroke-width="0.6" stroke-linejoin="round"><polygon points="148.4,465.6 152.2,465.6 152.2,463.3 148.4,463.3" fill="#fbea4d"/><polygon points="152.2,465.6 154.2,464.3 154.2,462.0 152.2,463.3" fill="#fbea4d"/><polygon points="148.4,463.3 152.2,463.3 154.2,462.0 150.4,462.0" fill="#fbea4d"/></g><g stroke="#6f6812" stroke-width="0.6" stroke-linejoin="round"><polygon points="275.5,469.8 279.3,469.8 279.3,467.5 275.5,467.5" fill="#fbea4d"/><polygon points="279.3,469.8 281.3,468.5 281.3,466.2 279.3,467.5" fill="#fbea4d"/><polygon points="275.5,467.5 279.3,467.5 281.3,466.2 277.5,466.2" fill="#fbea4d"/></g><g stroke="#6f6812" stroke-width="0.6" stroke-linejoin="round"><polygon points="159.0,470.1 162.8,470.1 162.8,467.8 159.0,467.8" fill="#fbea4d"/><polygon points="162.8,470.1 164.8,468.8 164.8,466.5 162.8,467.8" fill="#fbea4d"/><polygon points="159.0,467.8 162.8,467.8 164.8,466.5 161.0,466.5" fill="#fbea4d"/></g><g stroke="#6f6812" stroke-width="0.6" stroke-linejoin="round"><polygon points="262.5,472.7 266.3,472.7 266.3,470.4 262.5,470.4" fill="#fbea4d"/><polygon points="266.3,472.7 268.3,471.4 268.3,469.1 266.3,470.4" fill="#fbea4d"/><polygon points="262.5,470.4 266.3,470.4 268.3,469.1 264.5,469.1" fill="#fbea4d"/></g><g stroke="#6f6812" stroke-width="0.6" stroke-linejoin="round"><polygon points="148.2,473.5 152.0,473.5 152.0,471.2 148.2,471.2" fill="#fbea4d"/><polygon points="152.0,473.5 154.0,472.2 154.0,469.9 152.0,471.2" fill="#fbea4d"/><polygon points="148.2,471.2 152.0,471.2 154.0,469.9 150.2,469.9" fill="#fbea4d"/></g><g stroke="#6f6812" stroke-width="0.6" stroke-linejoin="round"><polygon points="162.7,475.4 166.5,475.4 166.5,473.1 162.7,473.1" fill="#fbea4d"/><polygon points="166.5,475.4 168.5,474.1 168.5,471.8 166.5,473.1" fill="#fbea4d"/><polygon points="162.7,473.1 166.5,473.1 168.5,471.8 164.7,471.8" fill="#fbea4d"/></g><g stroke="#6f6812" stroke-width="0.6" stroke-linejoin="round"><polygon points="161.0,481.2 164.8,481.2 164.8,478.9 161.0,478.9" fill="#fbea4d"/><polygon points="164.8,481.2 166.8,479.9 166.8,477.6 164.8,478.9" fill="#fbea4d"/><polygon points="161.0,478.9 164.8,478.9 166.8,477.6 163.0,477.6" fill="#fbea4d"/></g><g stroke="#6f6812" stroke-width="0.6" stroke-linejoin="round"><polygon points="263.1,481.3 266.9,481.3 266.9,479.0 263.1,479.0" fill="#fbea4d"/><polygon points="266.9,481.3 268.9,480.0 268.9,477.7 266.9,479.0" fill="#fbea4d"/><polygon points="263.1,479.0 266.9,479.0 268.9,477.7 265.1,477.7" fill="#fbea4d"/></g><g stroke="#6f6812" stroke-width="0.6" stroke-linejoin="round"><polygon points="272.4,481.8 276.2,481.8 276.2,479.5 272.4,479.5" fill="#fbea4d"/><polygon points="276.2,481.8 278.2,480.5 278.2,478.2 276.2,479.5" fill="#fbea4d"/><polygon points="272.4,479.5 276.2,479.5 278.2,478.2 274.4,478.2" fill="#fbea4d"/></g><g stroke="#6f6812" stroke-width="0.6" stroke-linejoin="round"><polygon points="172.4,483.0 176.2,483.0 176.2,480.7 172.4,480.7" fill="#fbea4d"/><polygon points="176.2,483.0 178.2,481.7 178.2,479.4 176.2,480.7" fill="#fbea4d"/><polygon points="172.4,480.7 176.2,480.7 178.2,479.4 174.4,479.4" fill="#fbea4d"/></g><g stroke="#6f6812" stroke-width="0.6" stroke-linejoin="round"><polygon points="153.0,483.1 156.8,483.1 156.8,480.8 153.0,480.8" fill="#fbea4d"/><polygon points="156.8,483.1 158.8,481.8 158.8,479.5 156.8,480.8" fill="#fbea4d"/><polygon points="153.0,480.8 156.8,480.8 158.8,479.5 155.0,479.5" fill="#fbea4d"/></g><g stroke="#6f6812" stroke-width="0.6" stroke-linejoin="round"><polygon points="255.1,483.2 258.9,483.2 258.9,480.9 255.1,480.9" fill="#fbea4d"/><polygon points="258.9,483.2 260.9,481.9 260.9,479.6 258.9,480.9" fill="#fbea4d"/><polygon points="255.1,480.9 258.9,480.9 260.9,479.6 257.1,479.6" fill="#fbea4d"/></g><g stroke="#6f6812" stroke-width="0.6" stroke-linejoin="round"><polygon points="263.9,486.8 267.7,486.8 267.7,484.5 263.9,484.5" fill="#fbea4d"/><polygon points="267.7,486.8 269.7,485.5 269.7,483.2 267.7,484.5" fill="#fbea4d"/><polygon points="263.9,484.5 267.7,484.5 269.7,483.2 265.9,483.2" fill="#fbea4d"/></g><g stroke="#6f6812" stroke-width="0.6" stroke-linejoin="round"><polygon points="163.8,488.9 167.6,488.9 167.6,486.6 163.8,486.6" fill="#fbea4d"/><polygon points="167.6,488.9 169.6,487.6 169.6,485.3 167.6,486.6" fill="#fbea4d"/><polygon points="163.8,486.6 167.6,486.6 169.6,485.3 165.8,485.3" fill="#fbea4d"/></g><g stroke="#6f6812" stroke-width="0.6" stroke-linejoin="round"><polygon points="176.2,490.3 180.0,490.3 180.0,488.0 176.2,488.0" fill="#fbea4d"/><polygon points="180.0,490.3 182.0,489.0 182.0,486.7 180.0,488.0" fill="#fbea4d"/><polygon points="176.2,488.0 180.0,488.0 182.0,486.7 178.2,486.7" fill="#fbea4d"/></g><g stroke="#6f6812" stroke-width="0.6" stroke-linejoin="round"><polygon points="248.8,490.6 252.6,490.6 252.6,488.3 248.8,488.3" fill="#fbea4d"/><polygon points="252.6,490.6 254.6,489.3 254.6,487.0 252.6,488.3" fill="#fbea4d"/><polygon points="248.8,488.3 252.6,488.3 254.6,487.0 250.8,487.0" fill="#fbea4d"/></g><g stroke="#6f6812" stroke-width="0.6" stroke-linejoin="round"><polygon points="185.2,492.1 189.0,492.1 189.0,489.8 185.2,489.8" fill="#fbea4d"/><polygon points="189.0,492.1 191.0,490.8 191.0,488.5 189.0,489.8" fill="#fbea4d"/><polygon points="185.2,489.8 189.0,489.8 191.0,488.5 187.2,488.5" fill="#fbea4d"/></g><g stroke="#6f6812" stroke-width="0.6" stroke-linejoin="round"><polygon points="236.2,493.2 240.0,493.2 240.0,490.9 236.2,490.9" fill="#fbea4d"/><polygon points="240.0,493.2 242.0,491.9 242.0,489.6 240.0,490.9" fill="#fbea4d"/><polygon points="236.2,490.9 240.0,490.9 242.0,489.6 238.2,489.6" fill="#fbea4d"/></g><g stroke="#6f6812" stroke-width="0.6" stroke-linejoin="round"><polygon points="217.8,494.4 221.6,494.4 221.6,492.1 217.8,492.1" fill="#fbea4d"/><polygon points="221.6,494.4 223.6,493.1 223.6,490.8 221.6,492.1" fill="#fbea4d"/><polygon points="217.8,492.1 221.6,492.1 223.6,490.8 219.8,490.8" fill="#fbea4d"/></g><g stroke="#6f6812" stroke-width="0.6" stroke-linejoin="round"><polygon points="226.8,494.5 230.6,494.5 230.6,492.2 226.8,492.2" fill="#fbea4d"/><polygon points="230.6,494.5 232.6,493.2 232.6,490.9 230.6,492.2" fill="#fbea4d"/><polygon points="226.8,492.2 230.6,492.2 232.6,490.9 228.8,490.9" fill="#fbea4d"/></g><g stroke="#6f6812" stroke-width="0.6" stroke-linejoin="round"><polygon points="195.7,494.5 199.5,494.5 199.5,492.2 195.7,492.2" fill="#fbea4d"/><polygon points="199.5,494.5 201.5,493.2 201.5,490.9 199.5,492.2" fill="#fbea4d"/><polygon points="195.7,492.2 199.5,492.2 201.5,490.9 197.7,490.9" fill="#fbea4d"/></g><g stroke="#6f6812" stroke-width="0.6" stroke-linejoin="round"><polygon points="204.8,495.3 208.6,495.3 208.6,493.0 204.8,493.0" fill="#fbea4d"/><polygon points="208.6,495.3 210.6,494.0 210.6,491.7 208.6,493.0" fill="#fbea4d"/><polygon points="204.8,493.0 208.6,493.0 210.6,491.7 206.8,491.7" fill="#fbea4d"/></g><g stroke="#6a78b0" stroke-width="0.5" stroke-linejoin="round"><polygon points="146.0,454.5 154.0,454.5 154.0,451.5 146.0,451.5" fill="#fff8c8"/><polygon points="154.0,454.5 157.0,452.5 157.0,449.5 154.0,451.5" fill="#f2e27a"/><polygon points="146.0,451.5 154.0,451.5 157.0,449.5 149.0,449.5" fill="#fffbe0"/></g><path d="M146,448 v6 M151,446.5 v6 M146,448 l12,-1.5 M146,450 l12,-1.5" stroke="#8a94c4" stroke-width="0.5" fill="none"/><g stroke="#8a5a12" stroke-width="0.5" stroke-linejoin="round"><polygon points="183.1,475.4 189.6,475.4 189.6,471.4 183.1,471.4" fill="#f7a24a"/><polygon points="189.6,475.4 192.2,473.8 192.2,469.8 189.6,471.4" fill="#ee8030"/><polygon points="183.1,471.4 189.6,471.4 192.2,469.8 185.7,469.8" fill="#fbbb6e"/></g><g stroke="#8a5a12" stroke-width="0.5" stroke-linejoin="round"><polygon points="184.9,476.4 191.4,476.4 191.4,472.4 184.9,472.4" fill="#f7a24a"/><polygon points="191.4,476.4 194.0,474.8 194.0,470.8 191.4,472.4" fill="#ee8030"/><polygon points="184.9,472.4 191.4,472.4 194.0,470.8 187.5,470.8" fill="#fbbb6e"/></g><g stroke="#8a5a12" stroke-width="0.5" stroke-linejoin="round"><polygon points="173.8,476.9 180.3,476.9 180.3,472.9 173.8,472.9" fill="#f7a24a"/><polygon points="180.3,476.9 182.9,475.3 182.9,471.3 180.3,472.9" fill="#ee8030"/><polygon points="173.8,472.9 180.3,472.9 182.9,471.3 176.4,471.3" fill="#fbbb6e"/></g><g stroke="#8a5a12" stroke-width="0.5" stroke-linejoin="round"><polygon points="179.6,479.1 186.1,479.1 186.1,475.1 179.6,475.1" fill="#f7a24a"/><polygon points="186.1,479.1 188.7,477.5 188.7,473.5 186.1,475.1" fill="#ee8030"/><polygon points="179.6,475.1 186.1,475.1 188.7,473.5 182.2,473.5" fill="#fbbb6e"/></g><g stroke="#8a5a12" stroke-width="0.5" stroke-linejoin="round"><polygon points="183.8,480.1 190.3,480.1 190.3,476.1 183.8,476.1" fill="#f7a24a"/><polygon points="190.3,480.1 192.9,478.5 192.9,474.5 190.3,476.1" fill="#ee8030"/><polygon points="183.8,476.1 190.3,476.1 192.9,474.5 186.4,474.5" fill="#fbbb6e"/></g><g stroke="#8a5a12" stroke-width="0.5" stroke-linejoin="round"><polygon points="264.2,464.7 270.7,464.7 270.7,460.7 264.2,460.7" fill="#fbe05a"/><polygon points="270.7,464.7 273.3,463.1 273.3,459.1 270.7,460.7" fill="#f3c93a"/><polygon points="264.2,460.7 270.7,460.7 273.3,459.1 266.8,459.1" fill="#fdf08a"/></g><g stroke="#8a5a12" stroke-width="0.5" stroke-linejoin="round"><polygon points="262.3,465.4 268.8,465.4 268.8,461.4 262.3,461.4" fill="#fbe05a"/><polygon points="268.8,465.4 271.4,463.8 271.4,459.8 268.8,461.4" fill="#f3c93a"/><polygon points="262.3,461.4 268.8,461.4 271.4,459.8 264.9,459.8" fill="#fdf08a"/></g><g stroke="#8a5a12" stroke-width="0.5" stroke-linejoin="round"><polygon points="262.2,465.4 268.7,465.4 268.7,461.4 262.2,461.4" fill="#fbe05a"/><polygon points="268.7,465.4 271.3,463.8 271.3,459.8 268.7,461.4" fill="#f3c93a"/><polygon points="262.2,461.4 268.7,461.4 271.3,459.8 264.8,459.8" fill="#fdf08a"/></g><g stroke="#8a5a12" stroke-width="0.5" stroke-linejoin="round"><polygon points="271.3,468.7 277.8,468.7 277.8,464.7 271.3,464.7" fill="#fbe05a"/><polygon points="277.8,468.7 280.4,467.1 280.4,463.1 277.8,464.7" fill="#f3c93a"/><polygon points="271.3,464.7 277.8,464.7 280.4,463.1 273.9,463.1" fill="#fdf08a"/></g><g stroke="#8a5a12" stroke-width="0.5" stroke-linejoin="round"><polygon points="271.1,469.8 277.6,469.8 277.6,465.8 271.1,465.8" fill="#fbe05a"/><polygon points="277.6,469.8 280.2,468.2 280.2,464.2 277.6,465.8" fill="#f3c93a"/><polygon points="271.1,465.8 277.6,465.8 280.2,464.2 273.7,464.2" fill="#fdf08a"/></g><g stroke="#a0521a" stroke-width="0.5" stroke-linejoin="round" fill-opacity="0.42"><polygon points="208.0,458.5 214.7,458.5 214.7,441.7 208.0,441.7" fill="#f7a45a"/><polygon points="214.7,458.5 217.5,456.7 217.5,439.9 214.7,441.7" fill="#ee8838"/><polygon points="208.0,441.7 214.7,441.7 217.5,439.9 210.8,439.9" fill="#fbc080"/></g><g stroke="#a0521a" stroke-width="0.5" stroke-linejoin="round" fill-opacity="0.42"><polygon points="198.7,460.5 204.7,460.5 204.7,449.5 198.7,449.5" fill="#f7a45a"/><polygon points="204.7,460.5 207.5,458.7 207.5,447.7 204.7,449.5" fill="#ee8838"/><polygon points="198.7,449.5 204.7,449.5 207.5,447.7 201.5,447.7" fill="#fbc080"/></g><g stroke="#a0521a" stroke-width="0.5" stroke-linejoin="round" fill-opacity="0.42"><polygon points="221.3,460.5 228.0,460.5 228.0,448.1 221.3,448.1" fill="#f7a45a"/><polygon points="228.0,460.5 230.8,458.7 230.8,446.3 228.0,448.1" fill="#ee8838"/><polygon points="221.3,448.1 228.0,448.1 230.8,446.3 224.1,446.3" fill="#fbc080"/></g><g stroke="#a0521a" stroke-width="0.5" stroke-linejoin="round" fill-opacity="0.42"><polygon points="236.0,460.5 243.3,460.5 243.3,444.3 236.0,444.3" fill="#f7a45a"/><polygon points="243.3,460.5 246.1,458.7 246.1,442.5 243.3,444.3" fill="#ee8838"/><polygon points="236.0,444.3 243.3,444.3 246.1,442.5 238.8,442.5" fill="#fbc080"/></g><g stroke="#8a2a14" stroke-width="0.5" stroke-linejoin="round" fill-opacity="0.42"><polygon points="228.5,462.8 234.5,462.8 234.5,452.9 228.5,452.9" fill="#ee5a38"/><polygon points="234.5,462.8 237.3,461.0 237.3,451.1 234.5,452.9" fill="#d83c26"/><polygon points="228.5,452.9 234.5,452.9 237.3,451.1 231.3,451.1" fill="#f47a58"/></g><g stroke="#8a2a14" stroke-width="0.5" stroke-linejoin="round" fill-opacity="0.42"><polygon points="214.7,463.8 221.4,463.8 221.4,453.6 214.7,453.6" fill="#ee5a38"/><polygon points="221.4,463.8 224.2,462.0 224.2,451.8 221.4,453.6" fill="#d83c26"/><polygon points="214.7,453.6 221.4,453.6 224.2,451.8 217.5,451.8" fill="#f47a58"/></g><g stroke="#a0521a" stroke-width="0.5" stroke-linejoin="round" fill-opacity="0.42"><polygon points="192.0,464.3 197.5,464.3 197.5,455.5 192.0,455.5" fill="#f7a45a"/><polygon points="197.5,464.3 200.3,462.5 200.3,453.7 197.5,455.5" fill="#ee8838"/><polygon points="192.0,455.5 197.5,455.5 200.3,453.7 194.8,453.7" fill="#fbc080"/></g><g stroke="#a0521a" stroke-width="0.5" stroke-linejoin="round" fill-opacity="0.42"><polygon points="243.5,464.8 249.5,464.8 249.5,456.0 243.5,456.0" fill="#f7a45a"/><polygon points="249.5,464.8 252.3,463.0 252.3,454.2 249.5,456.0" fill="#ee8838"/><polygon points="243.5,456.0 249.5,456.0 252.3,454.2 246.3,454.2" fill="#fbc080"/></g><g stroke="#a0521a" stroke-width="0.5" stroke-linejoin="round" fill-opacity="0.42"><polygon points="186.7,467.8 193.4,467.8 193.4,454.6 186.7,454.6" fill="#f7a45a"/><polygon points="193.4,467.8 196.2,466.0 196.2,452.8 193.4,454.6" fill="#ee8838"/><polygon points="186.7,454.6 193.4,454.6 196.2,452.8 189.5,452.8" fill="#fbc080"/></g><g stroke="#8a2a14" stroke-width="0.5" stroke-linejoin="round" fill-opacity="0.42"><polygon points="225.3,467.8 233.3,467.8 233.3,453.8 225.3,453.8" fill="#ee5a38"/><polygon points="233.3,467.8 236.1,466.0 236.1,452.0 233.3,453.8" fill="#d83c26"/><polygon points="225.3,453.8 233.3,453.8 236.1,452.0 228.1,452.0" fill="#f47a58"/></g><g stroke="#8a2a14" stroke-width="0.5" stroke-linejoin="round" fill-opacity="0.42"><polygon points="208.0,469.1 216.0,469.1 216.0,456.7 208.0,456.7" fill="#ee5a38"/><polygon points="216.0,469.1 218.8,467.3 218.8,454.9 216.0,456.7" fill="#d83c26"/><polygon points="208.0,456.7 216.0,456.7 218.8,454.9 210.8,454.9" fill="#f47a58"/></g><g stroke="#a0521a" stroke-width="0.5" stroke-linejoin="round" fill-opacity="0.42"><polygon points="247.0,469.8 252.5,469.8 252.5,461.0 247.0,461.0" fill="#f7a45a"/><polygon points="252.5,469.8 255.3,468.0 255.3,459.2 252.5,461.0" fill="#ee8838"/><polygon points="247.0,461.0 252.5,461.0 255.3,459.2 249.8,459.2" fill="#fbc080"/></g><g stroke="#8a2a14" stroke-width="0.5" stroke-linejoin="round" fill-opacity="0.42"><polygon points="194.7,470.5 202.0,470.5 202.0,457.3 194.7,457.3" fill="#ee5a38"/><polygon points="202.0,470.5 204.8,468.7 204.8,455.5 202.0,457.3" fill="#d83c26"/><polygon points="194.7,457.3 202.0,457.3 204.8,455.5 197.5,455.5" fill="#f47a58"/></g><g stroke="#8a2a14" stroke-width="0.5" stroke-linejoin="round" fill-opacity="0.42"><polygon points="233.3,470.5 241.3,470.5 241.3,456.5 233.3,456.5" fill="#ee5a38"/><polygon points="241.3,470.5 244.1,468.7 244.1,454.7 241.3,456.5" fill="#d83c26"/><polygon points="233.3,456.5 241.3,456.5 244.1,454.7 236.1,454.7" fill="#f47a58"/></g><g stroke="#8a2a14" stroke-width="0.5" stroke-linejoin="round" fill-opacity="0.42"><polygon points="201.5,472.8 207.5,472.8 207.5,461.8 201.5,461.8" fill="#ee5a38"/><polygon points="207.5,472.8 210.3,471.0 210.3,460.0 207.5,461.8" fill="#d83c26"/><polygon points="201.5,461.8 207.5,461.8 210.3,460.0 204.3,460.0" fill="#f47a58"/></g><g stroke="#8a2a14" stroke-width="0.5" stroke-linejoin="round" fill-opacity="0.42"><polygon points="217.0,473.3 223.5,473.3 223.5,462.3 217.0,462.3" fill="#ee5a38"/><polygon points="223.5,473.3 226.3,471.5 226.3,460.5 223.5,462.3" fill="#d83c26"/><polygon points="217.0,462.3 223.5,462.3 226.3,460.5 219.8,460.5" fill="#f47a58"/></g><g stroke="#a0521a" stroke-width="0.5" stroke-linejoin="round" fill-opacity="0.42"><polygon points="242.7,474.5 250.7,474.5 250.7,461.3 242.7,461.3" fill="#f7a45a"/><polygon points="250.7,474.5 253.5,472.7 253.5,459.5 250.7,461.3" fill="#ee8838"/><polygon points="242.7,461.3 250.7,461.3 253.5,459.5 245.5,459.5" fill="#fbc080"/></g><g stroke="#a0521a" stroke-width="0.5" stroke-linejoin="round" fill-opacity="0.42"><polygon points="189.5,474.8 195.5,474.8 195.5,465.4 189.5,465.4" fill="#f7a45a"/><polygon points="195.5,474.8 198.3,473.0 198.3,463.6 195.5,465.4" fill="#ee8838"/><polygon points="189.5,465.4 195.5,465.4 198.3,463.6 192.3,463.6" fill="#fbc080"/></g><g stroke="#a0521a" stroke-width="0.5" stroke-linejoin="round" fill-opacity="0.42"><polygon points="235.3,477.8 241.3,477.8 241.3,466.8 235.3,466.8" fill="#f7a45a"/><polygon points="241.3,477.8 244.1,476.0 244.1,465.0 241.3,466.8" fill="#ee8838"/><polygon points="235.3,466.8 241.3,466.8 244.1,465.0 238.1,465.0" fill="#fbc080"/></g><g stroke="#a0521a" stroke-width="0.5" stroke-linejoin="round" fill-opacity="0.42"><polygon points="196.0,478.3 202.0,478.3 202.0,468.4 196.0,468.4" fill="#f7a45a"/><polygon points="202.0,478.3 204.8,476.5 204.8,466.6 202.0,468.4" fill="#ee8838"/><polygon points="196.0,468.4 202.0,468.4 204.8,466.6 198.8,466.6" fill="#fbc080"/></g><g stroke="#8a2a14" stroke-width="0.5" stroke-linejoin="round" fill-opacity="0.42"><polygon points="229.3,479.1 236.0,479.1 236.0,464.5 229.3,464.5" fill="#ee5a38"/><polygon points="236.0,479.1 238.8,477.3 238.8,462.7 236.0,464.5" fill="#d83c26"/><polygon points="229.3,464.5 236.0,464.5 238.8,462.7 232.1,462.7" fill="#f47a58"/></g><g stroke="#a0521a" stroke-width="0.5" stroke-linejoin="round" fill-opacity="0.42"><polygon points="241.0,479.3 246.5,479.3 246.5,471.6 241.0,471.6" fill="#f7a45a"/><polygon points="246.5,479.3 249.3,477.5 249.3,469.8 246.5,471.6" fill="#ee8838"/><polygon points="241.0,471.6 246.5,471.6 249.3,469.8 243.8,469.8" fill="#fbc080"/></g><g stroke="#a0521a" stroke-width="0.5" stroke-linejoin="round" fill-opacity="0.42"><polygon points="202.0,479.8 208.7,479.8 208.7,463.6 202.0,463.6" fill="#f7a45a"/><polygon points="208.7,479.8 211.5,478.0 211.5,461.8 208.7,463.6" fill="#ee8838"/><polygon points="202.0,463.6 208.7,463.6 211.5,461.8 204.8,461.8" fill="#fbc080"/></g><g stroke="#a0521a" stroke-width="0.5" stroke-linejoin="round" fill-opacity="0.42"><polygon points="209.3,481.8 220.0,481.8 220.0,467.2 209.3,467.2" fill="#f7a45a"/><polygon points="220.0,481.8 222.8,480.0 222.8,465.4 220.0,467.2" fill="#ee8838"/><polygon points="209.3,467.2 220.0,467.2 222.8,465.4 212.1,465.4" fill="#fbc080"/></g><g stroke="#a0521a" stroke-width="0.5" stroke-linejoin="round" fill-opacity="0.42"><polygon points="220.7,481.8 228.0,481.8 228.0,466.4 220.7,466.4" fill="#f7a45a"/><polygon points="228.0,481.8 230.8,480.0 230.8,464.6 228.0,466.4" fill="#ee8838"/><polygon points="220.7,466.4 228.0,466.4 230.8,464.6 223.5,464.6" fill="#fbc080"/></g><polygon points="279,210.5 281.5,206 285,208.5 285,212.3 279,212.3" transform="translate(0,231.8)" fill="#a9dcea" stroke="#4a8a9a" stroke-width="0.5"/><polygon points="130,276.5 133,271.5 137,273.5 137,277.3 130,277.3" transform="translate(0,231.8)" fill="#a9dcea" stroke="#4a8a9a" stroke-width="0.5"/><rect x="187.1" y="450.1" width="1.3" height="4.1" fill="#7a4a2a"/><circle cx="187.7" cy="448.0" r="2.9" fill="#3fa35f" stroke="#1f6b3a" stroke-width="0.6"/><rect x="147.4" y="465.2" width="1.3" height="4.1" fill="#7a4a2a"/><circle cx="148.0" cy="463.1" r="2.9" fill="#3fa35f" stroke="#1f6b3a" stroke-width="0.6"/><rect x="160.2" y="469.9" width="1.3" height="4.1" fill="#7a4a2a"/><circle cx="160.8" cy="467.8" r="2.9" fill="#3fa35f" stroke="#1f6b3a" stroke-width="0.6"/><rect x="167.2" y="464.1" width="1.3" height="4.1" fill="#7a4a2a"/><circle cx="167.8" cy="462.0" r="2.9" fill="#3fa35f" stroke="#1f6b3a" stroke-width="0.6"/><rect x="163.7" y="478.1" width="1.3" height="4.1" fill="#7a4a2a"/><circle cx="164.3" cy="476.0" r="2.9" fill="#3fa35f" stroke="#1f6b3a" stroke-width="0.6"/><rect x="177.7" y="489.7" width="1.3" height="4.1" fill="#7a4a2a"/><circle cx="178.3" cy="487.6" r="2.9" fill="#3fa35f" stroke="#1f6b3a" stroke-width="0.6"/><rect x="195.2" y="485.1" width="1.3" height="4.1" fill="#7a4a2a"/><circle cx="195.8" cy="483.0" r="2.9" fill="#3fa35f" stroke="#1f6b3a" stroke-width="0.6"/><rect x="262.9" y="453.6" width="1.3" height="4.1" fill="#7a4a2a"/><circle cx="263.5" cy="451.5" r="2.9" fill="#3fa35f" stroke="#1f6b3a" stroke-width="0.6"/><rect x="259.4" y="479.2" width="1.3" height="4.1" fill="#7a4a2a"/><circle cx="260.0" cy="477.1" r="2.9" fill="#3fa35f" stroke="#1f6b3a" stroke-width="0.6"/><rect x="252.4" y="488.6" width="1.3" height="4.1" fill="#7a4a2a"/><circle cx="253.0" cy="486.5" r="2.9" fill="#3fa35f" stroke="#1f6b3a" stroke-width="0.6"/><rect x="237.2" y="492.1" width="1.3" height="4.1" fill="#7a4a2a"/><circle cx="237.8" cy="490.0" r="2.9" fill="#3fa35f" stroke="#1f6b3a" stroke-width="0.6"/><rect x="189.9" y="438.9" width="1.3" height="4.6" fill="#7a4a2a"/><circle cx="190.5" cy="436.3" r="3.4" fill="#3fa35f" stroke="#1f6b3a" stroke-width="0.6"/><rect x="193.9" y="437.9" width="1.3" height="4.6" fill="#7a4a2a"/><circle cx="194.5" cy="435.3" r="3.4" fill="#3fa35f" stroke="#1f6b3a" stroke-width="0.6"/><rect x="276.4" y="442.4" width="1.3" height="4.6" fill="#7a4a2a"/><circle cx="277.0" cy="439.8" r="3.4" fill="#3fa35f" stroke="#1f6b3a" stroke-width="0.6"/><rect x="286.4" y="443.6" width="1.3" height="4.6" fill="#7a4a2a"/><circle cx="287.0" cy="441.0" r="3.4" fill="#3fa35f" stroke="#1f6b3a" stroke-width="0.6"/><rect x="103.5" y="481.8" width="1.3" height="4.6" fill="#7a4a2a"/><circle cx="104.1" cy="479.2" r="3.4" fill="#3fa35f" stroke="#1f6b3a" stroke-width="0.6"/><rect x="121.7" y="508.7" width="1.3" height="4.6" fill="#7a4a2a"/><circle cx="122.3" cy="506.1" r="3.4" fill="#3fa35f" stroke="#1f6b3a" stroke-width="0.6"/><rect x="126.4" y="507.4" width="1.3" height="4.6" fill="#7a4a2a"/><circle cx="127.0" cy="504.8" r="3.4" fill="#3fa35f" stroke="#1f6b3a" stroke-width="0.6"/><rect x="150.2" y="507.7" width="1.3" height="4.6" fill="#7a4a2a"/><circle cx="150.8" cy="505.1" r="3.4" fill="#3fa35f" stroke="#1f6b3a" stroke-width="0.6"/><rect x="217.4" y="507.7" width="1.3" height="4.6" fill="#7a4a2a"/><circle cx="218.0" cy="505.1" r="3.4" fill="#3fa35f" stroke="#1f6b3a" stroke-width="0.6"/><polygon points="150.0,499.6 169.5,490.6 172.1,493.0 174.8,485.4 162.8,484.5 165.4,486.9 146.0,495.8" fill="#1f2a70"/><polygon points="150.0,498.4 169.5,489.4 172.1,491.8 174.8,484.2 162.8,483.3 165.4,485.7 146.0,494.6" fill="#2f43a0"/><polygon points="255.0,496.1 248.1,485.8 252.2,484.7 241.3,481.4 237.6,488.8 241.7,487.7 248.6,497.9" fill="#1f2a70"/><polygon points="255.0,494.9 248.1,484.6 252.2,483.5 241.3,480.2 237.6,487.6 241.7,486.5 248.6,496.7" fill="#2f43a0"/></g><g transform="translate(0,231.6)"><clipPath id="cc1"><polygon points="413.1,200.5 579.5,200.5 627.8,285.0 364.8,285.0"/></clipPath><g clip-path="url(#cc1)"><polygon points="413.1,200.5 579.5,200.5 627.8,285.0 364.8,285.0" fill="#e6f2c8"/><path d="M582.7,217.1L583.9,220.4M584.5,215.9V220.4M586.4,216.9L585.1,220.4" stroke="#a5dca0" stroke-width="1.01" fill="none" stroke-linecap="round"/><path d="M555.9,205.0L557.1,208.1M557.6,204.0V208.1M559.3,204.8L558.2,208.1" stroke="#a5dca0" stroke-width="0.94" fill="none" stroke-linecap="round"/><path d="M411.7,228.2L413.0,231.7M413.6,227.0V231.7M415.6,228.0L414.3,231.7" stroke="#a5dca0" stroke-width="1.08" fill="none" stroke-linecap="round"/><path d="M401.5,233.6L403.0,237.4M403.6,232.2V237.4M405.8,233.3L404.3,237.4" stroke="#a5dca0" stroke-width="1.17" fill="none" stroke-linecap="round"/><path d="M425.5,202.2L426.7,205.5M427.3,201.0V205.5M429.2,202.0L427.9,205.5" stroke="#a5dca0" stroke-width="1.02" fill="none" stroke-linecap="round"/><path d="M405.6,208.3L406.7,211.3M407.2,207.2V211.3M408.9,208.1L407.8,211.3" stroke="#a5dca0" stroke-width="0.92" fill="none" stroke-linecap="round"/><path d="M399.4,217.1L400.6,220.3M401.2,215.9V220.3M403.0,216.9L401.8,220.3" stroke="#a5dca0" stroke-width="0.99" fill="none" stroke-linecap="round"/><path d="M565.8,218.7L567.1,222.1M567.7,217.4V222.1M569.7,218.5L568.4,222.1" stroke="#a5dca0" stroke-width="1.06" fill="none" stroke-linecap="round"/><path d="M597.5,234.2L598.9,237.9M599.5,232.9V237.9M601.7,233.9L600.2,237.9" stroke="#a5dca0" stroke-width="1.13" fill="none" stroke-linecap="round"/><path d="M407.7,227.1L408.9,230.3M409.4,226.0V230.3M411.2,226.9L410.0,230.3" stroke="#a5dca0" stroke-width="0.97" fill="none" stroke-linecap="round"/><path d="M566.5,213.9L567.9,217.8M568.5,212.6V217.8M570.8,213.7L569.3,217.8" stroke="#a5dca0" stroke-width="1.17" fill="none" stroke-linecap="round"/><path d="M567.1,202.1L568.2,205.0M568.7,201.0V205.0M570.4,201.9L569.3,205.0" stroke="#a5dca0" stroke-width="0.91" fill="none" stroke-linecap="round"/><path d="M579.5,216.7L581.0,220.5M581.6,215.3V220.5M583.8,216.4L582.4,220.5" stroke="#a5dca0" stroke-width="1.18" fill="none" stroke-linecap="round"/><path d="M448.6,204.8L449.8,207.9M450.3,203.7V207.9M452.1,204.6L450.9,207.9" stroke="#a5dca0" stroke-width="0.95" fill="none" stroke-linecap="round"/><path d="M591.1,227.2L592.2,230.0M592.6,226.2V230.0M594.3,227.0L593.2,230.0" stroke="#a5dca0" stroke-width="0.87" fill="none" stroke-linecap="round"/><path d="M444.0,205.6L445.1,208.3M445.5,204.6V208.3M447.1,205.4L446.0,208.3" stroke="#a5dca0" stroke-width="0.85" fill="none" stroke-linecap="round"/><path d="M556.5,207.5L557.8,210.9M558.4,206.3V210.9M560.3,207.3L559.0,210.9" stroke="#a5dca0" stroke-width="1.03" fill="none" stroke-linecap="round"/><path d="M543.1,205.9L544.5,209.3M545.0,204.6V209.3M547.0,205.6L545.7,209.3" stroke="#a5dca0" stroke-width="1.06" fill="none" stroke-linecap="round"/><path d="M417.3,215.9L418.4,218.9M418.9,214.9V218.9M420.6,215.7L419.5,218.9" stroke="#a5dca0" stroke-width="0.91" fill="none" stroke-linecap="round"/><path d="M557.6,211.3L559.1,215.0M559.7,210.0V215.0M561.9,211.1L560.4,215.0" stroke="#a5dca0" stroke-width="1.15" fill="none" stroke-linecap="round"/><path d="M568.6,223.4L569.7,226.2M570.1,222.3V226.2M571.8,223.2L570.7,226.2" stroke="#a5dca0" stroke-width="0.87" fill="none" stroke-linecap="round"/><path d="M596.2,209.0L597.3,212.0M597.8,208.0V212.0M599.6,208.8L598.4,212.0" stroke="#a5dca0" stroke-width="0.92" fill="none" stroke-linecap="round"/><path d="M411.8,221.2L413.0,224.2M413.5,220.2V224.2M415.2,221.0L414.1,224.2" stroke="#a5dca0" stroke-width="0.92" fill="none" stroke-linecap="round"/><path d="M571.1,208.1L572.2,211.0M572.6,207.1V211.0M574.3,208.0L573.2,211.0" stroke="#a5dca0" stroke-width="0.89" fill="none" stroke-linecap="round"/><path d="M579.6,229.0L580.7,232.0M581.2,227.9V232.0M583.0,228.8L581.8,232.0" stroke="#a5dca0" stroke-width="0.92" fill="none" stroke-linecap="round"/><path d="M585.7,207.7L587.2,211.5M587.8,206.3V211.5M590.0,207.4L588.5,211.5" stroke="#a5dca0" stroke-width="1.17" fill="none" stroke-linecap="round"/><path d="M574.1,221.7L575.3,224.9M575.8,220.6V224.9M577.7,221.5L576.5,224.9" stroke="#a5dca0" stroke-width="0.98" fill="none" stroke-linecap="round"/><path d="M414.2,202.4L415.7,206.3M416.3,201.1V206.3M418.5,202.2L417.0,206.3" stroke="#a5dca0" stroke-width="1.17" fill="none" stroke-linecap="round"/><path d="M407.3,209.2L408.6,212.5M409.1,208.0V212.5M411.1,209.0L409.7,212.5" stroke="#a5dca0" stroke-width="1.03" fill="none" stroke-linecap="round"/><path d="M568.1,222.2L569.3,225.3M569.7,221.2V225.3M571.5,222.0L570.3,225.3" stroke="#a5dca0" stroke-width="0.93" fill="none" stroke-linecap="round"/><path d="M581.6,209.0L582.6,211.7M583.1,208.0V211.7M584.6,208.8L583.6,211.7" stroke="#a5dca0" stroke-width="0.84" fill="none" stroke-linecap="round"/><path d="M405.7,207.7L406.9,210.8M407.4,206.6V210.8M409.2,207.5L408.0,210.8" stroke="#a5dca0" stroke-width="0.96" fill="none" stroke-linecap="round"/><path d="M594.1,223.2L595.4,226.7M596.0,221.9V226.7M598.0,222.9L596.7,226.7" stroke="#a5dca0" stroke-width="1.08" fill="none" stroke-linecap="round"/><path d="M400.1,201.8L401.6,205.6M402.2,200.5V205.6M404.4,201.6L402.9,205.6" stroke="#a5dca0" stroke-width="1.16" fill="none" stroke-linecap="round"/><path d="M397.6,222.7L398.8,226.0M399.4,221.6V226.0M401.3,222.5L400.0,226.0" stroke="#a5dca0" stroke-width="1.00" fill="none" stroke-linecap="round"/><path d="M598.0,204.1L599.3,207.5M599.9,202.9V207.5M601.8,203.9L600.5,207.5" stroke="#a5dca0" stroke-width="1.03" fill="none" stroke-linecap="round"/><path d="M577.9,230.5L579.2,233.7M579.7,229.4V233.7M581.5,230.3L580.3,233.7" stroke="#a5dca0" stroke-width="0.98" fill="none" stroke-linecap="round"/><path d="M573.6,225.9L574.8,229.0M575.4,224.7V229.0M577.2,225.7L576.0,229.0" stroke="#a5dca0" stroke-width="0.97" fill="none" stroke-linecap="round"/><path d="M410.7,227.0L411.7,229.8M412.2,226.0V229.8M413.8,226.8L412.7,229.8" stroke="#a5dca0" stroke-width="0.84" fill="none" stroke-linecap="round"/><path d="M582.2,210.7L583.3,213.4M583.7,209.7V213.4M585.3,210.5L584.2,213.4" stroke="#a5dca0" stroke-width="0.84" fill="none" stroke-linecap="round"/><path d="M434.5,206.8L435.9,210.6M436.5,205.5V210.6M438.7,206.6L437.3,210.6" stroke="#a5dca0" stroke-width="1.15" fill="none" stroke-linecap="round"/><path d="M391.1,234.0L392.4,237.5M393.0,232.8V237.5M395.0,233.8L393.7,237.5" stroke="#6fba6a" stroke-width="1.07" fill="none" stroke-linecap="round"/><path d="M394.1,235.0L395.4,238.5M396.0,233.8V238.5M398.0,234.8L396.7,238.5" stroke="#6fba6a" stroke-width="1.07" fill="none" stroke-linecap="round"/><path d="M397.1,234.0L398.4,237.5M399.0,232.8V237.5M401.0,233.8L399.7,237.5" stroke="#6fba6a" stroke-width="1.07" fill="none" stroke-linecap="round"/><path d="M400.1,235.0L401.4,238.5M402.0,233.8V238.5M404.0,234.8L402.7,238.5" stroke="#6fba6a" stroke-width="1.07" fill="none" stroke-linecap="round"/><path d="M403.1,234.0L404.4,237.5M405.0,232.8V237.5M407.0,233.8L405.7,237.5" stroke="#6fba6a" stroke-width="1.07" fill="none" stroke-linecap="round"/><path d="M425.0,245.0 A71,35 0 0,1 567.0,245.0 Z" fill="#fbe628" stroke="#8d8420" stroke-width="0.8"/><path d="M459.3,245.0 A42,29 0 0,1 543.3,245.0 Z" fill="#f6a03c" stroke="#9a5a14" stroke-width="0.8"/><path d="M388.0,236.8 C402.6,236.8 402.6,241.1 417.3,241.1 C431.3,241.1 431.3,240.2 445.3,240.2 C460.5,240.2 460.5,243.5 475.7,243.5 C482.7,243.5 482.7,245.3 489.7,245.3 C506.0,245.3 506.0,244.9 522.3,244.9 C537.5,244.9 537.5,244.2 552.7,244.2 C560.9,244.2 560.9,242.5 569.0,242.5 C586.0,242.5 586.0,235.6 603.0,235.6 L629.8,287 L362.8,287 Z" fill="#c1e8f8"/><path d="M388.0,236.8 C402.6,236.8 402.6,241.1 417.3,241.1 C431.3,241.1 431.3,240.2 445.3,240.2 C460.5,240.2 460.5,243.5 475.7,243.5 C482.7,243.5 482.7,245.3 489.7,245.3 C506.0,245.3 506.0,244.9 522.3,244.9 C537.5,244.9 537.5,244.2 552.7,244.2 C560.9,244.2 560.9,242.5 569.0,242.5 C586.0,242.5 586.0,235.6 603.0,235.6" fill="none" stroke="#cfa97c" stroke-width="3.2"/><g stroke="#62c4e8" stroke-width="0.85" fill="none" stroke-linecap="round"><path d="M366.6,249.0 q4.1,-1.2 8.3,-0.1 q4.1,1.0 8.3,-0.2"/><path d="M393.7,249.0 q3.8,-1.2 7.6,0.3 q3.8,0.8 7.6,0.1 q3.8,-0.7 7.6,-0.3"/><path d="M427.9,249.0 q3.9,-1.2 7.7,0.2 q3.9,1.3 7.7,-0.2 q3.9,-0.6 7.7,-0.0"/><path d="M459.7,249.0 q3.2,-0.8 6.3,0.1 q3.2,0.9 6.3,-0.1"/><path d="M488.2,249.0 q3.2,-0.8 6.4,-0.3 q3.2,0.5 6.4,0.3 q3.2,-0.5 6.4,0.2 q3.2,0.9 6.4,-0.2"/><path d="M529.2,249.0 q4.7,-0.6 9.3,-0.0"/><path d="M543.9,249.0 q3.9,-0.6 7.7,-0.3 q3.9,0.5 7.7,0.1 q3.9,-0.8 7.7,0.1"/><path d="M580.5,249.0 q3.8,-1.3 7.6,0.1 q3.8,0.6 7.6,-0.0 q3.8,-0.6 7.6,-0.4"/><path d="M614.3,249.0 q3.5,-0.6 7.0,-0.2 q3.5,0.7 7.0,0.2 q3.5,-0.9 7.0,0.1"/><path d="M363.9,253.2 q3.7,-1.2 7.5,-0.3 q3.7,1.3 7.5,0.2 q3.7,-0.6 7.5,-0.0"/><path d="M399.5,253.2 q3.1,-0.8 6.1,0.1 q3.1,1.2 6.1,0.2 q3.1,-1.3 6.1,-0.0 q3.1,1.0 6.1,-0.2"/><path d="M438.4,253.2 q3.8,-1.0 7.6,0.2 q3.8,0.6 7.6,0.3 q3.8,-1.3 7.6,0.4"/><path d="M473.3,253.2 q3.7,-0.7 7.5,0.3 q3.7,1.2 7.5,-0.1 q3.7,-0.5 7.5,-0.0"/><path d="M507.9,253.2 q3.7,-0.9 7.4,-0.4 q3.7,1.2 7.4,-0.3 q3.7,-1.1 7.4,-0.3"/><path d="M539.3,253.2 q3.7,-0.6 7.5,-0.3 q3.7,0.9 7.5,0.2 q3.7,-1.2 7.5,0.2"/><path d="M579.0,253.2 q4.3,-1.3 8.7,-0.3 q4.3,0.6 8.7,0.0"/><path d="M605.1,253.2 q3.6,-1.0 7.1,0.0 q3.6,1.2 7.1,0.0 q3.6,-0.7 7.1,-0.1"/><path d="M369.0,257.4 q3.1,-1.2 6.3,0.4 q3.1,0.9 6.3,0.1"/><path d="M389.2,257.4 q3.0,-0.9 6.0,0.1 q3.0,0.5 6.0,0.4 q3.0,-0.9 6.0,-0.1"/><path d="M422.7,257.4 q3.1,-0.9 6.2,0.2 q3.1,0.5 6.2,0.0 q3.1,-0.8 6.2,0.4"/><path d="M458.3,257.4 q3.4,-0.9 6.8,-0.3 q3.4,0.8 6.8,0.3"/><path d="M488.5,257.4 q4.3,-0.7 8.6,-0.2 q4.3,1.0 8.6,0.3"/><path d="M512.3,257.4 q3.7,-0.5 7.4,-0.2 q3.7,0.6 7.4,0.1 q3.7,-0.7 7.4,-0.1"/><path d="M547.6,257.4 q5.4,-1.1 10.8,-0.3"/><path d="M570.0,257.4 q3.3,-0.6 6.6,0.0 q3.3,0.8 6.6,-0.1"/><path d="M593.7,257.4 q4.5,-0.6 9.0,-0.2 q4.5,1.0 9.0,0.1"/><path d="M623.6,257.4 q3.9,-1.0 7.8,0.3 q3.9,0.6 7.8,0.2 q3.9,-1.2 7.8,0.3"/><path d="M363.1,261.6 q3.1,-0.6 6.2,0.4 q3.1,1.2 6.2,-0.3 q3.1,-0.7 6.2,0.2 q3.1,0.7 6.2,-0.3"/><path d="M403.7,261.6 q4.0,-1.1 8.1,-0.3 q4.0,0.8 8.1,0.1"/><path d="M425.1,261.6 q3.1,-1.0 6.2,0.3 q3.1,1.3 6.2,-0.3"/><path d="M449.0,261.6 q3.6,-0.9 7.3,0.1 q3.6,0.6 7.3,-0.3 q3.6,-0.5 7.3,-0.4"/><path d="M483.1,261.6 q4.4,-0.9 8.9,-0.3 q4.4,0.6 8.9,-0.2"/><path d="M516.8,261.6 q3.2,-1.3 6.5,-0.3 q3.2,0.5 6.5,0.4 q3.2,-0.8 6.5,0.2 q3.2,0.7 6.5,-0.0"/><path d="M554.3,261.6 q4.1,-1.0 8.2,-0.4 q4.1,1.1 8.2,0.3"/><path d="M578.0,261.6 q4.2,-1.1 8.4,-0.1 q4.2,0.6 8.4,-0.3"/><path d="M606.4,261.6 q4.6,-1.2 9.3,0.2"/><path d="M629.8,261.6 q3.9,-1.0 7.9,-0.1 q3.9,1.0 7.9,0.0 q3.9,-1.3 7.9,0.2"/><path d="M369.1,265.8 q3.6,-1.1 7.2,0.3 q3.6,0.8 7.2,0.3 q3.6,-1.2 7.2,0.2"/><path d="M405.7,265.8 q3.7,-0.8 7.3,0.2 q3.7,0.5 7.3,-0.1 q3.7,-0.9 7.3,-0.4"/><path d="M437.4,265.8 q3.3,-1.0 6.6,-0.2 q3.3,1.3 6.6,0.1 q3.3,-0.7 6.6,0.1"/><path d="M469.6,265.8 q3.0,-0.8 6.0,0.4 q3.0,1.0 6.0,0.2 q3.0,-1.1 6.0,0.4"/><path d="M493.0,265.8 q3.2,-1.1 6.5,-0.2 q3.2,0.8 6.5,-0.4 q3.2,-0.6 6.5,-0.1"/><path d="M518.7,265.8 q3.3,-1.2 6.6,0.0 q3.3,0.9 6.6,0.4"/><path d="M544.4,265.8 q3.2,-1.0 6.5,0.2 q3.2,0.5 6.5,0.1 q3.2,-1.1 6.5,-0.4 q3.2,1.3 6.5,-0.3"/><path d="M581.4,265.8 q5.9,-0.9 11.9,0.1"/><path d="M599.1,265.8 q3.1,-0.8 6.3,0.0 q3.1,1.0 6.3,-0.1 q3.1,-0.7 6.3,0.1 q3.1,0.9 6.3,-0.2"/><path d="M363.0,270.0 q4.6,-0.7 9.2,-0.4"/><path d="M379.2,270.0 q3.6,-0.8 7.3,0.3 q3.6,1.1 7.3,-0.4 q3.6,-1.3 7.3,0.4"/><path d="M407.0,270.0 q3.0,-0.8 6.1,-0.0 q3.0,1.3 6.1,-0.2 q3.0,-0.9 6.1,0.3 q3.0,1.1 6.1,-0.0"/><path d="M449.1,270.0 q3.8,-1.0 7.6,-0.3 q3.8,1.0 7.6,-0.0 q3.8,-0.6 7.6,-0.4"/><path d="M483.9,270.0 q5.6,-0.8 11.1,0.1"/><path d="M505.9,270.0 q3.4,-1.0 6.7,-0.1 q3.4,1.1 6.7,0.0"/><path d="M537.3,270.0 q3.1,-1.1 6.3,-0.2 q3.1,0.5 6.3,0.3 q3.1,-1.1 6.3,0.1 q3.1,0.8 6.3,-0.2"/><path d="M576.4,270.0 q3.1,-1.0 6.2,0.1 q3.1,1.1 6.2,-0.2 q3.1,-0.7 6.2,0.4"/><path d="M612.0,270.0 q4.0,-0.5 8.0,-0.4 q4.0,0.7 8.0,-0.1 q4.0,-1.0 8.0,-0.3"/><path d="M360.7,274.2 q5.2,-1.0 10.5,0.0"/><path d="M384.4,274.2 q3.8,-0.9 7.7,-0.2 q3.8,0.7 7.7,0.2"/><path d="M415.6,274.2 q5.1,-0.5 10.3,0.2"/><path d="M439.0,274.2 q3.7,-0.6 7.4,-0.1 q3.7,0.7 7.4,0.2 q3.7,-0.8 7.4,0.1"/><path d="M478.9,274.2 q3.6,-0.9 7.3,0.2 q3.6,1.3 7.3,-0.1"/><path d="M503.3,274.2 q5.3,-1.2 10.6,-0.3"/><path d="M520.0,274.2 q3.1,-0.9 6.2,0.1 q3.1,0.7 6.2,0.2 q3.1,-0.5 6.2,-0.2"/><path d="M552.2,274.2 q5.2,-0.7 10.4,0.2"/><path d="M576.6,274.2 q3.5,-0.6 6.9,-0.1 q3.5,1.1 6.9,-0.1"/><path d="M597.0,274.2 q3.5,-0.9 7.0,0.3 q3.5,1.3 7.0,0.3 q3.5,-0.8 7.0,0.2"/><path d="M627.0,274.2 q3.6,-0.8 7.2,0.3 q3.6,1.2 7.2,-0.2"/><path d="M363.7,278.4 q3.8,-0.8 7.6,-0.1 q3.8,0.6 7.6,0.1"/><path d="M394.2,278.4 q3.0,-1.2 6.1,0.1 q3.0,0.6 6.1,0.2 q3.0,-1.2 6.1,-0.2"/><path d="M417.7,278.4 q4.4,-0.9 8.9,0.1 q4.4,1.3 8.9,0.1"/><path d="M450.9,278.4 q5.0,-0.9 10.1,0.2"/><path d="M467.1,278.4 q5.2,-1.1 10.4,0.3"/><path d="M483.6,278.4 q3.3,-0.6 6.6,0.2 q3.3,1.0 6.6,-0.2 q3.3,-0.6 6.6,0.2"/><path d="M515.1,278.4 q3.7,-0.8 7.3,-0.1 q3.7,1.3 7.3,0.1 q3.7,-0.9 7.3,0.0"/><path d="M551.5,278.4 q3.5,-1.2 7.0,-0.1 q3.5,1.2 7.0,0.1 q3.5,-1.2 7.0,0.2"/><path d="M588.4,278.4 q3.0,-1.3 6.0,0.1 q3.0,0.9 6.0,0.2 q3.0,-1.1 6.0,-0.1 q3.0,0.8 6.0,-0.3"/><path d="M627.1,278.4 q3.2,-0.8 6.5,-0.3 q3.2,0.6 6.5,-0.1 q3.2,-0.7 6.5,0.4 q3.2,0.5 6.5,-0.2"/><path d="M366.5,282.6 q3.7,-0.6 7.4,-0.4 q3.7,0.8 7.4,0.1 q3.7,-1.2 7.4,-0.4"/><path d="M395.1,282.6 q3.0,-0.6 6.1,-0.2 q3.0,1.1 6.1,0.1"/><path d="M415.1,282.6 q3.0,-0.7 6.1,-0.3 q3.0,1.1 6.1,-0.2"/><path d="M439.4,282.6 q3.8,-0.9 7.6,-0.2 q3.8,1.2 7.6,0.3 q3.8,-0.7 7.6,0.0"/><path d="M479.7,282.6 q4.3,-0.6 8.6,-0.4 q4.3,1.3 8.6,0.2"/><path d="M506.9,282.6 q4.5,-0.9 9.0,-0.2 q4.5,1.3 9.0,0.1"/><path d="M533.0,282.6 q4.6,-0.9 9.2,-0.1"/><path d="M557.5,282.6 q3.5,-1.0 7.0,-0.3 q3.5,0.6 7.0,-0.1 q3.5,-0.7 7.0,0.3"/><path d="M590.4,282.6 q3.3,-1.3 6.6,-0.2 q3.3,0.9 6.6,-0.3 q3.3,-1.1 6.6,-0.4"/><path d="M625.9,282.6 q3.9,-1.2 7.8,-0.3 q3.9,0.7 7.8,0.2 q3.9,-0.5 7.8,-0.0"/></g></g><polygon points="413.1,200.5 579.5,200.5 627.8,285.0 364.8,285.0" fill="none" stroke="#727272" stroke-width="1.7"/><g stroke="#857814" stroke-width="0.5" stroke-linejoin="round"><polygon points="431.0,228.0 440.0,228.0 440.0,224.0 431.0,224.0" fill="#fbe94a"/><polygon points="440.0,228.0 443.0,226.0 443.0,222.0 440.0,224.0" fill="#f1d22c"/><polygon points="431.0,224.0 440.0,224.0 443.0,222.0 434.0,222.0" fill="#fdf17c"/></g><g stroke="#857814" stroke-width="0.5" stroke-linejoin="round"><polygon points="441.0,226.0 448.0,226.0 448.0,222.5 441.0,222.5" fill="#fbe94a"/><polygon points="448.0,226.0 451.0,224.0 451.0,220.5 448.0,222.5" fill="#f1d22c"/><polygon points="441.0,222.5 448.0,222.5 451.0,220.5 444.0,220.5" fill="#fdf17c"/></g><g stroke="#857814" stroke-width="0.5" stroke-linejoin="round"><polygon points="447.0,228.5 453.0,228.5 453.0,225.5 447.0,225.5" fill="#fbe94a"/><polygon points="453.0,228.5 456.0,226.5 456.0,223.5 453.0,225.5" fill="#f1d22c"/><polygon points="447.0,225.5 453.0,225.5 456.0,223.5 450.0,223.5" fill="#fdf17c"/></g><g stroke="#857814" stroke-width="0.5" stroke-linejoin="round"><polygon points="430.5,224.0 433.5,224.0 433.5,219.0 430.5,219.0" fill="#fbe94a"/><polygon points="433.5,224.0 435.0,223.0 435.0,218.0 433.5,219.0" fill="#f1d22c"/><polygon points="430.5,219.0 433.5,219.0 435.0,218.0 432.0,218.0" fill="#fdf17c"/></g><g stroke="#857814" stroke-width="0.6" stroke-linejoin="round"><polygon points="459.0,221.0 462.8,221.0 462.8,218.7 459.0,218.7" fill="#fdf08a"/><polygon points="462.8,221.0 464.8,219.7 464.8,217.4 462.8,218.7" fill="#fdf08a"/><polygon points="459.0,218.7 462.8,218.7 464.8,217.4 461.0,217.4" fill="#fdf08a"/></g><g stroke="#857814" stroke-width="0.6" stroke-linejoin="round"><polygon points="463.0,225.0 466.8,225.0 466.8,222.7 463.0,222.7" fill="#fdf08a"/><polygon points="466.8,225.0 468.8,223.7 468.8,221.4 466.8,222.7" fill="#fdf08a"/><polygon points="463.0,222.7 466.8,222.7 468.8,221.4 465.0,221.4" fill="#fdf08a"/></g><g stroke="#857814" stroke-width="0.6" stroke-linejoin="round"><polygon points="457.0,227.0 460.8,227.0 460.8,224.7 457.0,224.7" fill="#fdf08a"/><polygon points="460.8,227.0 462.8,225.7 462.8,223.4 460.8,224.7" fill="#fdf08a"/><polygon points="457.0,224.7 460.8,224.7 462.8,223.4 459.0,223.4" fill="#fdf08a"/></g><g stroke="#857814" stroke-width="0.6" stroke-linejoin="round"><polygon points="478.0,218.0 481.8,218.0 481.8,215.7 478.0,215.7" fill="#fdf08a"/><polygon points="481.8,218.0 483.8,216.7 483.8,214.4 481.8,215.7" fill="#fdf08a"/><polygon points="478.0,215.7 481.8,215.7 483.8,214.4 480.0,214.4" fill="#fdf08a"/></g><g stroke="#857814" stroke-width="0.6" stroke-linejoin="round"><polygon points="503.0,214.5 506.8,214.5 506.8,212.2 503.0,212.2" fill="#fdf08a"/><polygon points="506.8,214.5 508.8,213.2 508.8,210.9 506.8,212.2" fill="#fdf08a"/><polygon points="503.0,212.2 506.8,212.2 508.8,210.9 505.0,210.9" fill="#fdf08a"/></g><g stroke="#857814" stroke-width="0.6" stroke-linejoin="round"><polygon points="518.0,216.0 521.8,216.0 521.8,213.7 518.0,213.7" fill="#fdf08a"/><polygon points="521.8,216.0 523.8,214.7 523.8,212.4 521.8,213.7" fill="#fdf08a"/><polygon points="518.0,213.7 521.8,213.7 523.8,212.4 520.0,212.4" fill="#fdf08a"/></g><g stroke="#857814" stroke-width="0.6" stroke-linejoin="round"><polygon points="538.0,224.0 541.8,224.0 541.8,221.7 538.0,221.7" fill="#fdf08a"/><polygon points="541.8,224.0 543.8,222.7 543.8,220.4 541.8,221.7" fill="#fdf08a"/><polygon points="538.0,221.7 541.8,221.7 543.8,220.4 540.0,220.4" fill="#fdf08a"/></g><g stroke="#857814" stroke-width="0.6" stroke-linejoin="round"><polygon points="541.0,229.0 544.8,229.0 544.8,226.7 541.0,226.7" fill="#fdf08a"/><polygon points="544.8,229.0 546.8,227.7 546.8,225.4 544.8,226.7" fill="#fdf08a"/><polygon points="541.0,226.7 544.8,226.7 546.8,225.4 543.0,225.4" fill="#fdf08a"/></g><g stroke="#857814" stroke-width="0.6" stroke-linejoin="round"><polygon points="543.0,219.0 546.8,219.0 546.8,216.7 543.0,216.7" fill="#fdf08a"/><polygon points="546.8,219.0 548.8,217.7 548.8,215.4 546.8,216.7" fill="#fdf08a"/><polygon points="543.0,216.7 546.8,216.7 548.8,215.4 545.0,215.4" fill="#fdf08a"/></g><g stroke="#857814" stroke-width="0.6" stroke-linejoin="round"><polygon points="452.0,237.0 455.8,237.0 455.8,234.7 452.0,234.7" fill="#fdf08a"/><polygon points="455.8,237.0 457.8,235.7 457.8,233.4 455.8,234.7" fill="#fdf08a"/><polygon points="452.0,234.7 455.8,234.7 457.8,233.4 454.0,233.4" fill="#fdf08a"/></g><g stroke="#857814" stroke-width="0.6" stroke-linejoin="round"><polygon points="438.0,238.5 441.8,238.5 441.8,236.2 438.0,236.2" fill="#fdf08a"/><polygon points="441.8,238.5 443.8,237.2 443.8,234.9 441.8,236.2" fill="#fdf08a"/><polygon points="438.0,236.2 441.8,236.2 443.8,234.9 440.0,234.9" fill="#fdf08a"/></g><ellipse cx="551" cy="237" rx="12.5" ry="6.8" fill="#fbe628" stroke="#857814" stroke-width="0.7"/><g stroke="#857814" stroke-width="0.5" stroke-linejoin="round"><polygon points="541.0,240.0 547.0,240.0 547.0,236.5 541.0,236.5" fill="#fbe94a"/><polygon points="547.0,240.0 549.5,238.4 549.5,234.9 547.0,236.5" fill="#f1d22c"/><polygon points="541.0,236.5 547.0,236.5 549.5,234.9 543.5,234.9" fill="#fdf17c"/></g><g stroke="#857814" stroke-width="0.5" stroke-linejoin="round"><polygon points="548.0,242.0 554.5,242.0 554.5,238.5 548.0,238.5" fill="#fbe94a"/><polygon points="554.5,242.0 557.0,240.4 557.0,236.9 554.5,238.5" fill="#f1d22c"/><polygon points="548.0,238.5 554.5,238.5 557.0,236.9 550.5,236.9" fill="#fdf17c"/></g><g stroke="#857814" stroke-width="0.5" stroke-linejoin="round"><polygon points="552.0,237.0 558.0,237.0 558.0,233.5 552.0,233.5" fill="#fbe94a"/><polygon points="558.0,237.0 560.5,235.4 560.5,231.9 558.0,233.5" fill="#f1d22c"/><polygon points="552.0,233.5 558.0,233.5 560.5,231.9 554.5,231.9" fill="#fdf17c"/></g><g stroke="#9a6a30" stroke-width="0.5" stroke-linejoin="round"><polygon points="497.0,228.0 502.5,228.0 502.5,210.0 497.0,210.0" fill="#fbd2a0"/><polygon points="502.5,228.0 504.9,226.5 504.9,208.5 502.5,210.0" fill="#f0b070"/><polygon points="497.0,210.0 502.5,210.0 504.9,208.5 499.4,208.5" fill="#fde6c6"/></g><g stroke="#9a6a30" stroke-width="0.5" stroke-linejoin="round"><polygon points="517.0,230.0 522.5,230.0 522.5,213.0 517.0,213.0" fill="#fbd2a0"/><polygon points="522.5,230.0 524.9,228.5 524.9,211.5 522.5,213.0" fill="#f0b070"/><polygon points="517.0,213.0 522.5,213.0 524.9,211.5 519.4,211.5" fill="#fde6c6"/></g><g stroke="#8a4a10" stroke-width="0.45" stroke-linejoin="round"><polygon points="527.0,237.5 532.6,237.5 532.6,223.6 527.0,223.6" fill="#f2a24e"/><polygon points="532.6,237.5 535.0,236.0 535.0,222.1 532.6,223.6" fill="#d97a24"/><polygon points="527.0,223.6 532.6,223.6 535.0,222.1 529.4,222.1" fill="#f8c07c"/></g><g stroke="#8a4a10" stroke-width="0.45" stroke-linejoin="round"><polygon points="494.0,237.7 499.6,237.7 499.6,212.7 494.0,212.7" fill="#f2a24e"/><polygon points="499.6,237.7 502.0,236.2 502.0,211.2 499.6,212.7" fill="#d97a24"/><polygon points="494.0,212.7 499.6,212.7 502.0,211.2 496.4,211.2" fill="#f8c07c"/></g><g stroke="#8a4a10" stroke-width="0.45" stroke-linejoin="round"><polygon points="519.7,237.8 525.3,237.8 525.3,219.2 519.7,219.2" fill="#f2a24e"/><polygon points="525.3,237.8 527.7,236.3 527.7,217.7 525.3,219.2" fill="#d97a24"/><polygon points="519.7,219.2 525.3,219.2 527.7,217.7 522.1,217.7" fill="#f8c07c"/></g><g stroke="#8a4a10" stroke-width="0.45" stroke-linejoin="round"><polygon points="507.1,237.9 512.7,237.9 512.7,224.8 507.1,224.8" fill="#f2a24e"/><polygon points="512.7,237.9 515.1,236.4 515.1,223.3 512.7,224.8" fill="#d97a24"/><polygon points="507.1,224.8 512.7,224.8 515.1,223.3 509.5,223.3" fill="#f8c07c"/></g><g stroke="#8a4a10" stroke-width="0.45" stroke-linejoin="round"><polygon points="500.4,238.6 506.0,238.6 506.0,223.9 500.4,223.9" fill="#f2a24e"/><polygon points="506.0,238.6 508.4,237.1 508.4,222.4 506.0,223.9" fill="#d97a24"/><polygon points="500.4,223.9 506.0,223.9 508.4,222.4 502.8,222.4" fill="#f8c07c"/></g><g stroke="#8a4a10" stroke-width="0.45" stroke-linejoin="round"><polygon points="513.2,239.0 518.8,239.0 518.8,219.6 513.2,219.6" fill="#f2a24e"/><polygon points="518.8,239.0 521.2,237.5 521.2,218.1 518.8,219.6" fill="#d97a24"/><polygon points="513.2,219.6 518.8,219.6 521.2,218.1 515.6,218.1" fill="#f8c07c"/></g><g stroke="#8a4a10" stroke-width="0.45" stroke-linejoin="round"><polygon points="474.2,239.1 479.8,239.1 479.8,220.9 474.2,220.9" fill="#f2a24e"/><polygon points="479.8,239.1 482.2,237.6 482.2,219.4 479.8,220.9" fill="#d97a24"/><polygon points="474.2,220.9 479.8,220.9 482.2,219.4 476.6,219.4" fill="#f8c07c"/></g><g stroke="#8a4a10" stroke-width="0.45" stroke-linejoin="round"><polygon points="481.3,239.3 486.9,239.3 486.9,221.2 481.3,221.2" fill="#f2a24e"/><polygon points="486.9,239.3 489.3,237.8 489.3,219.7 486.9,221.2" fill="#d97a24"/><polygon points="481.3,221.2 486.9,221.2 489.3,219.7 483.7,219.7" fill="#f8c07c"/></g><g stroke="#8a4a10" stroke-width="0.45" stroke-linejoin="round"><polygon points="486.4,239.4 492.0,239.4 492.0,223.1 486.4,223.1" fill="#f2a24e"/><polygon points="492.0,239.4 494.4,237.9 494.4,221.6 492.0,223.1" fill="#d97a24"/><polygon points="486.4,223.1 492.0,223.1 494.4,221.6 488.8,221.6" fill="#f8c07c"/></g><g stroke="#8a4a10" stroke-width="0.45" stroke-linejoin="round"><polygon points="509.8,241.4 515.4,241.4 515.4,229.4 509.8,229.4" fill="#f2a24e"/><polygon points="515.4,241.4 517.8,239.9 517.8,227.9 515.4,229.4" fill="#d97a24"/><polygon points="509.8,229.4 515.4,229.4 517.8,227.9 512.2,227.9" fill="#f8c07c"/></g><g stroke="#8a4a10" stroke-width="0.45" stroke-linejoin="round"><polygon points="477.6,241.5 483.2,241.5 483.2,229.3 477.6,229.3" fill="#f2a24e"/><polygon points="483.2,241.5 485.6,240.0 485.6,227.8 483.2,229.3" fill="#d97a24"/><polygon points="477.6,229.3 483.2,229.3 485.6,227.8 480.0,227.8" fill="#f8c07c"/></g><g stroke="#8a4a10" stroke-width="0.45" stroke-linejoin="round"><polygon points="484.4,241.7 490.0,241.7 490.0,225.4 484.4,225.4" fill="#f2a24e"/><polygon points="490.0,241.7 492.4,240.2 492.4,223.9 490.0,225.4" fill="#d97a24"/><polygon points="484.4,225.4 490.0,225.4 492.4,223.9 486.8,223.9" fill="#f8c07c"/></g><g stroke="#8a4a10" stroke-width="0.45" stroke-linejoin="round"><polygon points="504.1,241.7 509.7,241.7 509.7,225.3 504.1,225.3" fill="#f2a24e"/><polygon points="509.7,241.7 512.1,240.2 512.1,223.8 509.7,225.3" fill="#d97a24"/><polygon points="504.1,225.3 509.7,225.3 512.1,223.8 506.5,223.8" fill="#f8c07c"/></g><g stroke="#8a4a10" stroke-width="0.45" stroke-linejoin="round"><polygon points="522.4,241.7 528.0,241.7 528.0,226.7 522.4,226.7" fill="#f2a24e"/><polygon points="528.0,241.7 530.4,240.2 530.4,225.2 528.0,226.7" fill="#d97a24"/><polygon points="522.4,226.7 528.0,226.7 530.4,225.2 524.8,225.2" fill="#f8c07c"/></g><g stroke="#8a4a10" stroke-width="0.45" stroke-linejoin="round"><polygon points="515.9,242.2 521.5,242.2 521.5,229.4 515.9,229.4" fill="#f2a24e"/><polygon points="521.5,242.2 523.9,240.7 523.9,227.9 521.5,229.4" fill="#d97a24"/><polygon points="515.9,229.4 521.5,229.4 523.9,227.9 518.3,227.9" fill="#f8c07c"/></g><g stroke="#8a4a10" stroke-width="0.45" stroke-linejoin="round"><polygon points="490.9,242.3 496.5,242.3 496.5,228.0 490.9,228.0" fill="#f2a24e"/><polygon points="496.5,242.3 498.9,240.8 498.9,226.5 496.5,228.0" fill="#d97a24"/><polygon points="490.9,228.0 496.5,228.0 498.9,226.5 493.3,226.5" fill="#f8c07c"/></g><g stroke="#8a4a10" stroke-width="0.45" stroke-linejoin="round"><polygon points="496.3,242.3 501.9,242.3 501.9,225.7 496.3,225.7" fill="#f2a24e"/><polygon points="501.9,242.3 504.3,240.8 504.3,224.2 501.9,225.7" fill="#d97a24"/><polygon points="496.3,225.7 501.9,225.7 504.3,224.2 498.7,224.2" fill="#f8c07c"/></g><rect x="430.7" y="233.9" width="1.3" height="3.9" fill="#7a4a2a"/><circle cx="431.3" cy="232.0" r="2.7" fill="#3fa35f" stroke="#1f6b3a" stroke-width="0.6"/><rect x="435.4" y="232.4" width="1.3" height="3.9" fill="#7a4a2a"/><circle cx="436.0" cy="230.5" r="2.7" fill="#3fa35f" stroke="#1f6b3a" stroke-width="0.6"/><rect x="450.6" y="231.9" width="1.3" height="3.9" fill="#7a4a2a"/><circle cx="451.2" cy="230.0" r="2.7" fill="#3fa35f" stroke="#1f6b3a" stroke-width="0.6"/><rect x="446.4" y="234.9" width="1.3" height="3.9" fill="#7a4a2a"/><circle cx="447.0" cy="233.0" r="2.7" fill="#3fa35f" stroke="#1f6b3a" stroke-width="0.6"/><rect x="470.4" y="218.1" width="1.3" height="3.9" fill="#7a4a2a"/><circle cx="471.0" cy="216.2" r="2.7" fill="#3fa35f" stroke="#1f6b3a" stroke-width="0.6"/><rect x="545.1" y="222.7" width="1.3" height="3.9" fill="#7a4a2a"/><circle cx="545.7" cy="220.8" r="2.7" fill="#3fa35f" stroke="#1f6b3a" stroke-width="0.6"/><rect x="471.4" y="206.6" width="1.3" height="4.3" fill="#7a4a2a"/><circle cx="472.0" cy="204.3" r="3.1" fill="#3fa35f" stroke="#1f6b3a" stroke-width="0.6"/><rect x="474.9" y="205.9" width="1.3" height="4.3" fill="#7a4a2a"/><circle cx="475.5" cy="203.6" r="3.1" fill="#3fa35f" stroke="#1f6b3a" stroke-width="0.6"/><rect x="558.4" y="205.3" width="1.3" height="4.3" fill="#7a4a2a"/><circle cx="559.0" cy="203.0" r="3.1" fill="#3fa35f" stroke="#1f6b3a" stroke-width="0.6"/><rect x="569.9" y="206.8" width="1.3" height="4.3" fill="#7a4a2a"/><circle cx="570.5" cy="204.5" r="3.1" fill="#3fa35f" stroke="#1f6b3a" stroke-width="0.6"/><polygon points="561,207 564,202.5 568,204.8 568,208 561,208" fill="#a9dcea" stroke="#4a8a9a" stroke-width="0.5"/><polygon points="425.2,198.8 415.1,214.2 410.5,213.6 415.0,220.8 427.3,215.9 422.8,215.3 432.8,199.8" fill="#1f2a70"/><polygon points="425.2,197.4 415.1,212.8 410.5,212.2 415.0,219.4 427.3,214.5 422.8,213.9 432.8,198.4" fill="#2f43a0"/><polygon points="553.4,194.5 562.9,211.8 558.3,212.3 570.2,217.5 575.3,210.4 570.7,211.0 561.2,193.7" fill="#1f2a70"/><polygon points="553.4,193.1 562.9,210.4 558.3,210.9 570.2,216.1 575.3,209.0 570.7,209.6 561.2,192.3" fill="#2f43a0"/></g><clipPath id="mc1"><rect x="641" y="357" width="275.5" height="268.5"/></clipPath><g clip-path="url(#mc1)"><g transform="matrix(1,0.02,0,1,0,218.6)"><linearGradient id="mm1g" gradientUnits="userSpaceOnUse" x1="0" y1="262" x2="0" y2="322"><stop offset="0" stop-color="#fff"/><stop offset="0.55" stop-color="#999"/><stop offset="1" stop-color="#000"/></linearGradient><mask id="mm1" maskUnits="userSpaceOnUse" x="600" y="60" width="360" height="340"><rect x="600" y="60" width="360" height="340" fill="url(#mm1g)"/></mask><filter id="mbl1" filterUnits="userSpaceOnUse" x="590" y="60" width="380" height="360"><feGaussianBlur stdDeviation="2.2"/></filter><g mask="url(#mm1)"><g filter="url(#mbl1)"><path d="M628.0,151.8 C630.0,153.8 636.1,159.7 640.0,163.6 C643.9,167.5 647.1,171.3 651.2,175.1 C655.3,179.0 660.0,182.5 664.4,186.7 C668.8,190.9 673.4,195.7 677.5,200.2 C681.6,204.7 685.4,208.9 688.8,213.8 C692.2,218.7 695.3,224.6 698.1,229.5 C700.9,234.4 703.1,238.8 705.6,243.4 C708.1,248.0 710.9,253.4 713.1,257.1 C715.3,260.9 716.3,263.0 718.8,265.9 C721.3,268.9 723.7,271.4 728.1,274.7 C732.5,278.1 739.7,283.2 745.0,286.1 C750.3,289.1 755.0,291.0 760.0,292.6 C765.0,294.2 770.0,295.3 775.0,295.5 C780.0,295.7 785.7,294.9 790.0,293.9 C794.3,292.9 796.8,291.8 801.0,289.5 C805.2,287.2 809.8,284.2 815.0,280.2 C820.2,276.1 826.7,270.2 832.5,265.2 C838.3,260.2 844.2,254.6 850.0,250.2 C855.8,245.8 861.7,242.2 867.5,239.0 C873.3,235.7 879.2,233.9 885.0,230.5 C890.8,227.1 897.5,221.9 902.5,218.3 C907.5,214.7 909.9,212.7 914.8,209.0 C919.7,205.2 929.1,198.0 932.0,195.8 L940,420 L600,420 Z" fill="#87582f"/><path d="M628.0,157.0 C630.0,158.9 636.1,164.6 640.0,168.4 C643.9,172.2 647.1,175.9 651.2,179.7 C655.3,183.5 660.0,186.9 664.4,191.0 C668.8,195.1 673.4,199.8 677.5,204.2 C681.6,208.6 685.4,212.7 688.8,217.4 C692.2,222.1 695.3,227.8 698.1,232.5 C700.9,237.2 703.1,241.4 705.6,245.8 C708.1,250.2 710.9,255.4 713.1,259.0 C715.3,262.6 716.3,264.7 718.8,267.5 C721.3,270.3 723.7,272.7 728.1,276.0 C732.5,279.3 739.7,284.3 745.0,287.3 C750.3,290.2 755.0,292.2 760.0,293.8 C765.0,295.3 770.0,296.4 775.0,296.7 C780.0,296.9 785.7,296.1 790.0,295.2 C794.3,294.3 796.8,293.3 801.0,291.2 C805.2,289.0 809.8,286.2 815.0,282.4 C820.2,278.5 826.7,272.9 832.5,268.2 C838.3,263.5 844.2,258.2 850.0,254.0 C855.8,249.9 861.7,246.5 867.5,243.4 C873.3,240.3 879.2,238.7 885.0,235.4 C890.8,232.2 897.5,227.3 902.5,223.9 C907.5,220.5 909.9,218.6 914.8,215.1 C919.7,211.5 929.1,204.7 932.0,202.6 L940,420 L600,420 Z" fill="#8a5b34"/><path d="M628.0,162.1 C630.0,164.0 636.1,169.6 640.0,173.3 C643.9,177.0 647.1,180.6 651.2,184.2 C655.3,187.9 660.0,191.4 664.4,195.4 C668.8,199.3 673.4,203.9 677.5,208.2 C681.6,212.4 685.4,216.4 688.8,221.0 C692.2,225.5 695.3,230.9 698.1,235.5 C700.9,240.0 703.1,244.0 705.6,248.2 C708.1,252.5 710.9,257.4 713.1,260.9 C715.3,264.4 716.3,266.3 718.8,269.0 C721.3,271.8 723.7,274.1 728.1,277.3 C732.5,280.6 739.7,285.5 745.0,288.4 C750.3,291.3 755.0,293.4 760.0,294.9 C765.0,296.5 770.0,297.5 775.0,297.8 C780.0,298.1 785.7,297.4 790.0,296.6 C794.3,295.8 796.8,294.8 801.0,292.8 C805.2,290.8 809.8,288.2 815.0,284.6 C820.2,280.9 826.7,275.7 832.5,271.2 C838.3,266.8 844.2,261.8 850.0,257.9 C855.8,254.0 861.7,250.8 867.5,247.9 C873.3,244.9 879.2,243.4 885.0,240.3 C890.8,237.3 897.5,232.7 902.5,229.5 C907.5,226.3 909.9,224.5 914.8,221.2 C919.7,217.8 929.1,211.4 932.0,209.5 L940,420 L600,420 Z" fill="#8d5f39"/><path d="M628.0,167.3 C630.0,169.1 636.1,174.6 640.0,178.1 C643.9,181.7 647.1,185.2 651.2,188.8 C655.3,192.4 660.0,195.8 664.4,199.7 C668.8,203.6 673.4,208.0 677.5,212.2 C681.6,216.3 685.4,220.1 688.8,224.5 C692.2,228.9 695.3,234.1 698.1,238.5 C700.9,242.8 703.1,246.6 705.6,250.7 C708.1,254.7 710.9,259.5 713.1,262.8 C715.3,266.1 716.3,267.9 718.8,270.6 C721.3,273.2 723.7,275.5 728.1,278.7 C732.5,281.8 739.7,286.6 745.0,289.5 C750.3,292.4 755.0,294.5 760.0,296.1 C765.0,297.7 770.0,298.6 775.0,298.9 C780.0,299.3 785.7,298.7 790.0,297.9 C794.3,297.2 796.8,296.4 801.0,294.5 C805.2,292.7 809.8,290.1 815.0,286.7 C820.2,283.4 826.7,278.4 832.5,274.2 C838.3,270.0 844.2,265.4 850.0,261.7 C855.8,258.1 861.7,255.1 867.5,252.3 C873.3,249.6 879.2,248.1 885.0,245.3 C890.8,242.4 897.5,238.1 902.5,235.1 C907.5,232.1 909.9,230.4 914.8,227.3 C919.7,224.2 929.1,218.1 932.0,216.3 L940,420 L600,420 Z" fill="#946741"/><path d="M628.0,172.5 C630.0,174.2 636.1,179.5 640.0,183.0 C643.9,186.5 647.1,189.9 651.2,193.4 C655.3,196.9 660.0,200.2 664.4,204.0 C668.8,207.8 673.4,212.1 677.5,216.1 C681.6,220.2 685.4,223.9 688.8,228.1 C692.2,232.3 695.3,237.3 698.1,241.5 C700.9,245.6 703.1,249.3 705.6,253.1 C708.1,257.0 710.9,261.5 713.1,264.7 C715.3,267.8 716.3,269.6 718.8,272.1 C721.3,274.7 723.7,276.9 728.1,280.0 C732.5,283.1 739.7,287.8 745.0,290.7 C750.3,293.6 755.0,295.7 760.0,297.3 C765.0,298.9 770.0,299.8 775.0,300.1 C780.0,300.4 785.7,299.9 790.0,299.3 C794.3,298.6 796.8,297.9 801.0,296.2 C805.2,294.5 809.8,292.1 815.0,288.9 C820.2,285.8 826.7,281.1 832.5,277.2 C838.3,273.3 844.2,268.9 850.0,265.5 C855.8,262.1 861.7,259.3 867.5,256.8 C873.3,254.2 879.2,252.9 885.0,250.2 C890.8,247.5 897.5,243.4 902.5,240.6 C907.5,237.8 909.9,236.3 914.8,233.4 C919.7,230.5 929.1,224.8 932.0,223.1 L940,420 L600,420 Z" fill="#9c6f48"/><path d="M628.0,177.7 C630.0,179.4 636.1,184.5 640.0,187.9 C643.9,191.2 647.1,194.5 651.2,197.9 C655.3,201.3 660.0,204.6 664.4,208.3 C668.8,212.0 673.4,216.2 677.5,220.1 C681.6,224.0 685.4,227.6 688.8,231.7 C692.2,235.7 695.3,240.5 698.1,244.5 C700.9,248.4 703.1,251.9 705.6,255.6 C708.1,259.2 710.9,263.5 713.1,266.5 C715.3,269.6 716.3,271.2 718.8,273.7 C721.3,276.1 723.7,278.3 728.1,281.3 C732.5,284.3 739.7,288.9 745.0,291.8 C750.3,294.7 755.0,296.9 760.0,298.5 C765.0,300.0 770.0,300.9 775.0,301.2 C780.0,301.6 785.7,301.2 790.0,300.6 C794.3,300.1 796.8,299.5 801.0,297.9 C805.2,296.3 809.8,294.1 815.0,291.1 C820.2,288.2 826.7,283.9 832.5,280.2 C838.3,276.6 844.2,272.5 850.0,269.4 C855.8,266.2 861.7,263.6 867.5,261.2 C873.3,258.8 879.2,257.6 885.0,255.1 C890.8,252.6 897.5,248.8 902.5,246.2 C907.5,243.6 909.9,242.2 914.8,239.5 C919.7,236.8 929.1,231.5 932.0,229.9 L940,420 L600,420 Z" fill="#a37750"/><path d="M628.0,182.8 C630.0,184.5 636.1,189.4 640.0,192.7 C643.9,196.0 647.1,199.2 651.2,202.5 C655.3,205.8 660.0,209.1 664.4,212.7 C668.8,216.3 673.4,220.3 677.5,224.1 C681.6,227.9 685.4,231.4 688.8,235.3 C692.2,239.1 695.3,243.7 698.1,247.5 C700.9,251.2 703.1,254.5 705.6,258.0 C708.1,261.5 710.9,265.5 713.1,268.4 C715.3,271.3 716.3,272.9 718.8,275.2 C721.3,277.6 723.7,279.6 728.1,282.6 C732.5,285.5 739.7,290.1 745.0,292.9 C750.3,295.8 755.0,298.1 760.0,299.6 C765.0,301.2 770.0,302.0 775.0,302.4 C780.0,302.8 785.7,302.5 790.0,302.0 C794.3,301.5 796.8,301.0 801.0,299.5 C805.2,298.1 809.8,296.0 815.0,293.3 C820.2,290.6 826.7,286.6 832.5,283.3 C838.3,279.9 844.2,276.1 850.0,273.2 C855.8,270.3 861.7,267.9 867.5,265.7 C873.3,263.5 879.2,262.3 885.0,260.0 C890.8,257.7 897.5,254.2 902.5,251.8 C907.5,249.4 909.9,248.1 914.8,245.6 C919.7,243.1 929.1,238.2 932.0,236.8 L940,420 L600,420 Z" fill="#aa8059"/><path d="M628.0,188.0 C630.0,189.6 636.1,194.4 640.0,197.6 C643.9,200.8 647.1,203.8 651.2,207.1 C655.3,210.3 660.0,213.5 664.4,217.0 C668.8,220.5 673.4,224.4 677.5,228.1 C681.6,231.7 685.4,235.1 688.8,238.8 C692.2,242.6 695.3,246.8 698.1,250.5 C700.9,254.1 703.1,257.1 705.6,260.4 C708.1,263.7 710.9,267.6 713.1,270.3 C715.3,273.0 716.3,274.5 718.8,276.8 C721.3,279.0 723.7,281.0 728.1,283.9 C732.5,286.8 739.7,291.2 745.0,294.1 C750.3,296.9 755.0,299.3 760.0,300.8 C765.0,302.4 770.0,303.1 775.0,303.5 C780.0,303.9 785.7,303.7 790.0,303.3 C794.3,303.0 796.8,302.5 801.0,301.2 C805.2,299.9 809.8,298.0 815.0,295.5 C820.2,293.0 826.7,289.3 832.5,286.3 C838.3,283.2 844.2,279.7 850.0,277.0 C855.8,274.4 861.7,272.1 867.5,270.1 C873.3,268.1 879.2,267.0 885.0,264.9 C890.8,262.8 897.5,259.6 902.5,257.4 C907.5,255.2 909.9,254.0 914.8,251.7 C919.7,249.4 929.1,244.9 932.0,243.6 L940,420 L600,420 Z" fill="#b28862"/><path d="M628.0,193.2 C630.0,194.7 636.1,199.4 640.0,202.4 C643.9,205.5 647.1,208.5 651.2,211.6 C655.3,214.8 660.0,217.9 664.4,221.3 C668.8,224.7 673.4,228.5 677.5,232.1 C681.6,235.6 685.4,238.8 688.8,242.4 C692.2,246.0 695.3,250.0 698.1,253.4 C700.9,256.9 703.1,259.7 705.6,262.9 C708.1,266.0 710.9,269.6 713.1,272.2 C715.3,274.7 716.3,276.1 718.8,278.3 C721.3,280.5 723.7,282.4 728.1,285.2 C732.5,288.0 739.7,292.4 745.0,295.2 C750.3,298.0 755.0,300.4 760.0,302.0 C765.0,303.6 770.0,304.2 775.0,304.6 C780.0,305.1 785.7,305.0 790.0,304.7 C794.3,304.4 796.8,304.1 801.0,302.9 C805.2,301.7 809.8,299.9 815.0,297.7 C820.2,295.4 826.7,292.1 832.5,289.3 C838.3,286.5 844.2,283.3 850.0,280.9 C855.8,278.4 861.7,276.4 867.5,274.6 C873.3,272.7 879.2,271.8 885.0,269.8 C890.8,267.9 897.5,265.0 902.5,263.0 C907.5,261.0 909.9,259.9 914.8,257.8 C919.7,255.7 929.1,251.6 932.0,250.4 L940,420 L600,420 Z" fill="#b9916b"/><path d="M628.0,198.4 C630.0,199.9 636.1,204.3 640.0,207.3 C643.9,210.3 647.1,213.1 651.2,216.2 C655.3,219.2 660.0,222.3 664.4,225.6 C668.8,228.9 673.4,232.6 677.5,236.0 C681.6,239.4 685.4,242.6 688.8,246.0 C692.2,249.4 695.3,253.2 698.1,256.4 C700.9,259.7 703.1,262.4 705.6,265.3 C708.1,268.2 710.9,271.6 713.1,274.1 C715.3,276.5 716.3,277.8 718.8,279.9 C721.3,281.9 723.7,283.8 728.1,286.5 C732.5,289.3 739.7,293.6 745.0,296.3 C750.3,299.1 755.0,301.6 760.0,303.2 C765.0,304.8 770.0,305.3 775.0,305.8 C780.0,306.3 785.7,306.3 790.0,306.1 C794.3,305.9 796.8,305.6 801.0,304.6 C805.2,303.5 809.8,301.9 815.0,299.9 C820.2,297.8 826.7,294.8 832.5,292.3 C838.3,289.8 844.2,286.9 850.0,284.7 C855.8,282.5 861.7,280.7 867.5,279.0 C873.3,277.4 879.2,276.5 885.0,274.8 C890.8,273.0 897.5,270.4 902.5,268.6 C907.5,266.8 909.9,265.8 914.8,263.9 C919.7,262.0 929.1,258.3 932.0,257.2 L940,420 L600,420 Z" fill="#c09a74"/><path d="M628.0,203.6 C630.0,205.0 636.1,209.3 640.0,212.2 C643.9,215.0 647.1,217.8 651.2,220.7 C655.3,223.7 660.0,226.7 664.4,230.0 C668.8,233.2 673.4,236.7 677.5,240.0 C681.6,243.3 685.4,246.3 688.8,249.5 C692.2,252.8 695.3,256.4 698.1,259.4 C700.9,262.5 703.1,265.0 705.6,267.7 C708.1,270.5 710.9,273.7 713.1,275.9 C715.3,278.2 716.3,279.4 718.8,281.4 C721.3,283.4 723.7,285.2 728.1,287.8 C732.5,290.5 739.7,294.7 745.0,297.5 C750.3,300.2 755.0,302.8 760.0,304.4 C765.0,305.9 770.0,306.4 775.0,306.9 C780.0,307.4 785.7,307.5 790.0,307.4 C794.3,307.3 796.8,307.1 801.0,306.3 C805.2,305.4 809.8,303.9 815.0,302.1 C820.2,300.2 826.7,297.6 832.5,295.3 C838.3,293.1 844.2,290.5 850.0,288.6 C855.8,286.6 861.7,285.0 867.5,283.5 C873.3,282.0 879.2,281.2 885.0,279.7 C890.8,278.1 897.5,275.8 902.5,274.2 C907.5,272.6 909.9,271.7 914.8,270.0 C919.7,268.3 929.1,265.0 932.0,264.0 L940,420 L600,420 Z" fill="#c8a480"/><path d="M628.0,208.7 C630.0,210.1 636.1,214.3 640.0,217.0 C643.9,219.8 647.1,222.4 651.2,225.3 C655.3,228.2 660.0,231.2 664.4,234.3 C668.8,237.4 673.4,240.8 677.5,244.0 C681.6,247.1 685.4,250.0 688.8,253.1 C692.2,256.2 695.3,259.6 698.1,262.4 C700.9,265.3 703.1,267.6 705.6,270.2 C708.1,272.7 710.9,275.7 713.1,277.8 C715.3,279.9 716.3,281.1 718.8,283.0 C721.3,284.8 723.7,286.5 728.1,289.1 C732.5,291.8 739.7,295.9 745.0,298.6 C750.3,301.3 755.0,304.0 760.0,305.5 C765.0,307.1 770.0,307.5 775.0,308.1 C780.0,308.6 785.7,308.8 790.0,308.8 C794.3,308.7 796.8,308.7 801.0,307.9 C805.2,307.2 809.8,305.8 815.0,304.2 C820.2,302.6 826.7,300.3 832.5,298.3 C838.3,296.3 844.2,294.1 850.0,292.4 C855.8,290.7 861.7,289.2 867.5,287.9 C873.3,286.6 879.2,286.0 885.0,284.6 C890.8,283.2 897.5,281.2 902.5,279.8 C907.5,278.3 909.9,277.6 914.8,276.1 C919.7,274.6 929.1,271.7 932.0,270.9 L940,420 L600,420 Z" fill="#cfaf8d"/><path d="M628.0,213.9 C630.0,215.2 636.1,219.2 640.0,221.9 C643.9,224.5 647.1,227.1 651.2,229.9 C655.3,232.7 660.0,235.6 664.4,238.6 C668.8,241.6 673.4,244.9 677.5,248.0 C681.6,251.0 685.4,253.8 688.8,256.7 C692.2,259.6 695.3,262.8 698.1,265.4 C700.9,268.1 703.1,270.2 705.6,272.6 C708.1,275.0 710.9,277.7 713.1,279.7 C715.3,281.7 716.3,282.7 718.8,284.5 C721.3,286.3 723.7,287.9 728.1,290.5 C732.5,293.0 739.7,297.0 745.0,299.7 C750.3,302.4 755.0,305.1 760.0,306.7 C765.0,308.3 770.0,308.6 775.0,309.2 C780.0,309.8 785.7,310.0 790.0,310.1 C794.3,310.2 796.8,310.2 801.0,309.6 C805.2,309.0 809.8,307.8 815.0,306.4 C820.2,305.1 826.7,303.0 832.5,301.3 C838.3,299.6 844.2,297.7 850.0,296.2 C855.8,294.7 861.7,293.5 867.5,292.4 C873.3,291.3 879.2,290.7 885.0,289.5 C890.8,288.3 897.5,286.6 902.5,285.4 C907.5,284.1 909.9,283.5 914.8,282.2 C919.7,280.9 929.1,278.4 932.0,277.7 L940,420 L600,420 Z" fill="#d6b999"/><path d="M628.0,219.1 C630.0,220.4 636.1,224.2 640.0,226.7 C643.9,229.3 647.1,231.7 651.2,234.4 C655.3,237.1 660.0,240.0 664.4,242.9 C668.8,245.8 673.4,249.1 677.5,251.9 C681.6,254.8 685.4,257.5 688.8,260.3 C692.2,263.0 695.3,265.9 698.1,268.4 C700.9,270.9 703.1,272.8 705.6,275.0 C708.1,277.2 710.9,279.7 713.1,281.6 C715.3,283.4 716.3,284.3 718.8,286.0 C721.3,287.7 723.7,289.3 728.1,291.8 C732.5,294.2 739.7,298.2 745.0,300.9 C750.3,303.5 755.0,306.3 760.0,307.9 C765.0,309.5 770.0,309.7 775.0,310.3 C780.0,310.9 785.7,311.3 790.0,311.5 C794.3,311.6 796.8,311.8 801.0,311.3 C805.2,310.8 809.8,309.8 815.0,308.6 C820.2,307.5 826.7,305.8 832.5,304.3 C838.3,302.9 844.2,301.3 850.0,300.1 C855.8,298.8 861.7,297.8 867.5,296.8 C873.3,295.9 879.2,295.4 885.0,294.4 C890.8,293.4 897.5,292.0 902.5,290.9 C907.5,289.9 909.9,289.4 914.8,288.3 C919.7,287.2 929.1,285.1 932.0,284.5 L940,420 L600,420 Z" fill="#dcc3a7"/><path d="M628.0,224.3 C630.0,225.5 636.1,229.1 640.0,231.6 C643.9,234.0 647.1,236.4 651.2,239.0 C655.3,241.6 660.0,244.4 664.4,247.3 C668.8,250.1 673.4,253.2 677.5,255.9 C681.6,258.7 685.4,261.3 688.8,263.8 C692.2,266.4 695.3,269.1 698.1,271.4 C700.9,273.7 703.1,275.5 705.6,277.5 C708.1,279.5 710.9,281.8 713.1,283.4 C715.3,285.1 716.3,286.0 718.8,287.6 C721.3,289.2 723.7,290.7 728.1,293.1 C732.5,295.5 739.7,299.3 745.0,302.0 C750.3,304.7 755.0,307.5 760.0,309.1 C765.0,310.6 770.0,310.8 775.0,311.5 C780.0,312.1 785.7,312.6 790.0,312.8 C794.3,313.1 796.8,313.3 801.0,313.0 C805.2,312.6 809.8,311.7 815.0,310.8 C820.2,309.9 826.7,308.5 832.5,307.4 C838.3,306.2 844.2,304.9 850.0,303.9 C855.8,302.9 861.7,302.1 867.5,301.3 C873.3,300.5 879.2,300.1 885.0,299.3 C890.8,298.6 897.5,297.4 902.5,296.5 C907.5,295.7 909.9,295.2 914.8,294.4 C919.7,293.5 929.1,291.8 932.0,291.3 L940,420 L600,420 Z" fill="#deccb9"/><path d="M628.0,229.4 C630.0,230.6 636.1,234.1 640.0,236.5 C643.9,238.8 647.1,241.0 651.2,243.6 C655.3,246.1 660.0,248.9 664.4,251.6 C668.8,254.3 673.4,257.3 677.5,259.9 C681.6,262.5 685.4,265.0 688.8,267.4 C692.2,269.8 695.3,272.3 698.1,274.4 C700.9,276.5 703.1,278.1 705.6,279.9 C708.1,281.7 710.9,283.8 713.1,285.3 C715.3,286.9 716.3,287.6 718.8,289.1 C721.3,290.6 723.7,292.1 728.1,294.4 C732.5,296.7 739.7,300.5 745.0,303.1 C750.3,305.8 755.0,308.7 760.0,310.2 C765.0,311.8 770.0,312.0 775.0,312.6 C780.0,313.3 785.7,313.8 790.0,314.2 C794.3,314.5 796.8,314.8 801.0,314.6 C805.2,314.4 809.8,313.7 815.0,313.0 C820.2,312.3 826.7,311.2 832.5,310.4 C838.3,309.5 844.2,308.5 850.0,307.7 C855.8,307.0 861.7,306.3 867.5,305.8 C873.3,305.2 879.2,304.9 885.0,304.3 C890.8,303.7 897.5,302.7 902.5,302.1 C907.5,301.5 909.9,301.1 914.8,300.5 C919.7,299.8 929.1,298.6 932.0,298.2 L940,420 L600,420 Z" fill="#e0d5cc"/><path d="M628.0,234.6 C630.0,235.7 636.1,239.1 640.0,241.3 C643.9,243.6 647.1,245.7 651.2,248.1 C655.3,250.6 660.0,253.3 664.4,255.9 C668.8,258.5 673.4,261.4 677.5,263.9 C681.6,266.4 685.4,268.7 688.8,271.0 C692.2,273.2 695.3,275.5 698.1,277.4 C700.9,279.3 703.1,280.7 705.6,282.3 C708.1,284.0 710.9,285.8 713.1,287.2 C715.3,288.6 716.3,289.3 718.8,290.7 C721.3,292.1 723.7,293.4 728.1,295.7 C732.5,298.0 739.7,301.6 745.0,304.3 C750.3,306.9 755.0,309.8 760.0,311.4 C765.0,313.0 770.0,313.1 775.0,313.7 C780.0,314.4 785.7,315.1 790.0,315.5 C794.3,316.0 796.8,316.4 801.0,316.3 C805.2,316.3 809.8,315.7 815.0,315.2 C820.2,314.7 826.7,314.0 832.5,313.4 C838.3,312.8 844.2,312.1 850.0,311.6 C855.8,311.0 861.7,310.6 867.5,310.2 C873.3,309.8 879.2,309.6 885.0,309.2 C890.8,308.8 897.5,308.1 902.5,307.7 C907.5,307.3 909.9,307.0 914.8,306.6 C919.7,306.1 929.1,305.3 932.0,305.0 L940,420 L600,420 Z" fill="#e1dede"/><path d="M628.0,239.8 C630.0,240.9 636.1,244.0 640.0,246.2 C643.9,248.3 647.1,250.3 651.2,252.7 C655.3,255.0 660.0,257.7 664.4,260.2 C668.8,262.8 673.4,265.5 677.5,267.9 C681.6,270.2 685.4,272.5 688.8,274.6 C692.2,276.6 695.3,278.7 698.1,280.4 C700.9,282.1 703.1,283.3 705.6,284.8 C708.1,286.2 710.9,287.8 713.1,289.1 C715.3,290.3 716.3,290.9 718.8,292.2 C721.3,293.6 723.7,294.8 728.1,297.0 C732.5,299.2 739.7,302.8 745.0,305.4 C750.3,308.0 755.0,311.0 760.0,312.6 C765.0,314.2 770.0,314.2 775.0,314.9 C780.0,315.6 785.7,316.4 790.0,316.9 C794.3,317.4 796.8,317.9 801.0,318.0 C805.2,318.1 809.8,317.6 815.0,317.4 C820.2,317.1 826.7,316.7 832.5,316.4 C838.3,316.1 844.2,315.7 850.0,315.4 C855.8,315.1 861.7,314.9 867.5,314.7 C873.3,314.4 879.2,314.3 885.0,314.1 C890.8,313.9 897.5,313.5 902.5,313.3 C907.5,313.1 909.9,312.9 914.8,312.7 C919.7,312.4 929.1,312.0 932.0,311.8 L940,420 L600,420 Z" fill="#e3e7f1"/></g></g><clipPath id="mt1"><path d="M628.0,158.0 C630.0,159.9 636.1,165.6 640.0,169.4 C643.9,173.2 647.1,176.8 651.2,180.6 C655.3,184.3 660.0,187.8 664.4,191.9 C668.8,196.0 673.4,200.6 677.5,205.0 C681.6,209.4 685.4,213.4 688.8,218.1 C692.2,222.8 695.3,228.4 698.1,233.1 C700.9,237.8 703.1,241.9 705.6,246.3 C708.1,250.7 710.9,255.8 713.1,259.4 C715.3,263.0 716.3,265.0 718.8,267.8 C721.3,270.6 723.7,273.0 728.1,276.3 C732.5,279.6 739.7,284.6 745.0,287.5 C750.3,290.4 755.0,292.4 760.0,294.0 C765.0,295.6 770.0,296.6 775.0,296.9 C780.0,297.1 785.7,296.4 790.0,295.5 C794.3,294.6 799.2,292.2 801.0,291.5 L801.0,291.5 C803.3,290.1 809.8,286.6 815.0,282.8 C820.2,279.0 826.7,273.5 832.5,268.8 C838.3,264.1 844.2,258.9 850.0,254.8 C855.8,250.7 861.7,247.4 867.5,244.3 C873.3,241.2 879.2,239.6 885.0,236.4 C890.8,233.2 897.5,228.3 902.5,225.0 C907.5,221.7 909.9,219.8 914.8,216.3 C919.7,212.8 929.1,206.1 932.0,204.0 L932.0,183.0 C929.1,185.1 919.3,194.1 914.8,195.3 C910.3,196.5 909.1,192.4 905.0,190.0 C900.9,187.6 895.8,184.3 890.0,181.0 C884.2,177.7 876.7,173.2 870.0,170.0 C863.3,166.8 856.3,165.0 850.0,162.0 C843.7,159.0 837.8,155.7 832.0,152.0 C826.2,148.3 820.2,144.2 815.0,140.0 C809.8,135.8 805.7,131.3 801.0,127.0 C796.3,122.7 792.2,119.5 787.0,114.0 C781.8,108.5 772.8,97.3 770.0,94.0 L620,94 Z"/></clipPath><path d="M628.0,158.0 C630.0,159.9 636.1,165.6 640.0,169.4 C643.9,173.2 647.1,176.8 651.2,180.6 C655.3,184.3 660.0,187.8 664.4,191.9 C668.8,196.0 673.4,200.6 677.5,205.0 C681.6,209.4 685.4,213.4 688.8,218.1 C692.2,222.8 695.3,228.4 698.1,233.1 C700.9,237.8 703.1,241.9 705.6,246.3 C708.1,250.7 710.9,255.8 713.1,259.4 C715.3,263.0 716.3,265.0 718.8,267.8 C721.3,270.6 723.7,273.0 728.1,276.3 C732.5,279.6 739.7,284.6 745.0,287.5 C750.3,290.4 755.0,292.4 760.0,294.0 C765.0,295.6 770.0,296.6 775.0,296.9 C780.0,297.1 785.7,296.4 790.0,295.5 C794.3,294.6 799.2,292.2 801.0,291.5 L801.0,291.5 C803.3,290.1 809.8,286.6 815.0,282.8 C820.2,279.0 826.7,273.5 832.5,268.8 C838.3,264.1 844.2,258.9 850.0,254.8 C855.8,250.7 861.7,247.4 867.5,244.3 C873.3,241.2 879.2,239.6 885.0,236.4 C890.8,233.2 897.5,228.3 902.5,225.0 C907.5,221.7 909.9,219.8 914.8,216.3 C919.7,212.8 929.1,206.1 932.0,204.0 L932.0,183.0 C929.1,185.1 919.3,194.1 914.8,195.3 C910.3,196.5 909.1,192.4 905.0,190.0 C900.9,187.6 895.8,184.3 890.0,181.0 C884.2,177.7 876.7,173.2 870.0,170.0 C863.3,166.8 856.3,165.0 850.0,162.0 C843.7,159.0 837.8,155.7 832.0,152.0 C826.2,148.3 820.2,144.2 815.0,140.0 C809.8,135.8 805.7,131.3 801.0,127.0 C796.3,122.7 792.2,119.5 787.0,114.0 C781.8,108.5 772.8,97.3 770.0,94.0 L620,94 Z" fill="#d7e9cf"/></g><clipPath id="mtb"><path d="M628.0,158.0 C630.0,159.9 636.1,165.6 640.0,169.4 C643.9,173.2 647.1,176.8 651.2,180.6 C655.3,184.3 660.0,187.8 664.4,191.9 C668.8,196.0 673.4,200.6 677.5,205.0 C681.6,209.4 685.4,213.4 688.8,218.1 C692.2,222.8 695.3,228.4 698.1,233.1 C700.9,237.8 703.1,241.9 705.6,246.3 C708.1,250.7 710.9,255.8 713.1,259.4 C715.3,263.0 716.3,265.0 718.8,267.8 C721.3,270.6 723.7,273.0 728.1,276.3 C732.5,279.6 739.7,284.6 745.0,287.5 C750.3,290.4 755.0,292.4 760.0,294.0 C765.0,295.6 770.0,296.6 775.0,296.9 C780.0,297.1 785.7,296.4 790.0,295.5 C794.3,294.6 799.2,292.2 801.0,291.5 L801.0,291.5 C803.3,290.1 809.8,286.6 815.0,282.8 C820.2,279.0 826.7,273.5 832.5,268.8 C838.3,264.1 844.2,258.9 850.0,254.8 C855.8,250.7 861.7,247.4 867.5,244.3 C873.3,241.2 879.2,239.6 885.0,236.4 C890.8,233.2 897.5,228.3 902.5,225.0 C907.5,221.7 909.9,219.8 914.8,216.3 C919.7,212.8 929.1,206.1 932.0,204.0 L932.0,183.0 C929.1,185.1 919.3,194.1 914.8,195.3 C910.3,196.5 909.1,192.4 905.0,190.0 C900.9,187.6 895.8,184.3 890.0,181.0 C884.2,177.7 876.7,173.2 870.0,170.0 C863.3,166.8 856.3,165.0 850.0,162.0 C843.7,159.0 837.8,155.7 832.0,152.0 C826.2,148.3 820.2,144.2 815.0,140.0 C809.8,135.8 805.7,131.3 801.0,127.0 C796.3,122.7 792.2,119.5 787.0,114.0 C781.8,108.5 772.8,97.3 770.0,94.0 L620,94 Z" transform="matrix(1,0.02,0,1,0,218.6)"/></clipPath><g clip-path="url(#mtb)"><polygon points="620.0,386.5 640.0,383.1 792.0,357.0 960.0,328.2 960.0,321.1 806.2,366.5 649.5,412.8 620.0,421.5" fill="#cfe3ab"/><polygon points="620.0,421.5 649.5,412.8 806.2,366.5 960.0,321.1 960.0,331.8 813.4,380.7 670.9,428.2 620.0,445.2" fill="#d9e268"/><polygon points="620.0,445.2 670.9,428.2 813.4,380.7 960.0,331.8 960.0,356.1 841.9,397.4 758.7,426.5 691.0,452.5 620.0,479.8" fill="#f69440"/><polygon points="620.0,479.8 691.0,452.5 758.7,426.5 841.9,397.4 960.0,356.1 960.0,374.7 877.5,410.4 782.5,451.5 711.2,481.5 620.0,519.9" fill="#e4e04e"/><polygon points="620.0,519.9 711.2,481.5 782.5,451.5 877.5,410.4 960.0,374.7 960.0,700.0 620.0,700.0" fill="#d1e2c8"/></g><g transform="matrix(1,0.02,0,1,0,218.6)"><path d="M801.0,288.9 C803.3,287.0 810.3,281.4 815.0,277.5 C819.7,273.6 824.6,269.1 829.0,265.3 C833.4,261.5 836.3,258.9 841.3,254.8 C846.3,250.7 853.3,245.5 858.8,240.8 C864.3,236.1 869.5,231.2 874.5,226.8 C879.5,222.4 883.8,218.3 888.5,214.5 C893.2,210.7 898.1,207.2 902.5,204.0 C906.9,200.8 912.8,196.8 914.8,195.3 L932.0,204.0 C929.1,206.1 919.7,212.8 914.8,216.3 C909.9,219.8 907.5,221.7 902.5,225.0 C897.5,228.3 890.8,233.2 885.0,236.4 C879.2,239.6 873.3,241.2 867.5,244.3 C861.7,247.4 855.8,250.7 850.0,254.8 C844.2,258.9 838.3,264.1 832.5,268.8 C826.7,273.5 820.2,279.0 815.0,282.8 C809.8,286.6 803.3,290.1 801.0,291.5 Z" fill="#cbe4af"/><path d="M801.0,289.3 C803.3,287.5 810.2,282.3 815.0,278.4 C819.8,274.5 825.0,269.8 829.6,265.9 C834.2,262.0 837.6,258.9 842.8,254.8 C847.9,250.7 854.7,245.8 860.2,241.4 C865.8,237.0 871.2,232.6 876.2,228.4 C881.3,224.2 886.1,220.0 890.8,216.2 C895.6,212.5 900.1,209.3 904.5,206.1 C909.0,202.8 915.5,198.3 917.7,196.8 L932.0,204.0 C929.1,206.1 919.7,212.8 914.8,216.3 C909.9,219.8 907.5,221.7 902.5,225.0 C897.5,228.3 890.8,233.2 885.0,236.4 C879.2,239.6 873.3,241.2 867.5,244.3 C861.7,247.4 855.8,250.7 850.0,254.8 C844.2,258.9 838.3,264.1 832.5,268.8 C826.7,273.5 820.2,279.0 815.0,282.8 C809.8,286.6 803.3,290.1 801.0,291.5 Z" fill="#bddf9f"/><path d="M801.0,289.8 C803.3,288.0 810.1,283.1 815.0,279.3 C819.9,275.4 825.3,270.5 830.2,266.5 C835.0,262.4 838.9,258.9 844.2,254.8 C849.5,250.7 856.1,246.1 861.7,242.0 C867.3,237.8 872.8,234.0 878.0,230.0 C883.2,226.0 888.4,221.7 893.2,218.0 C897.9,214.3 902.0,211.4 906.6,208.1 C911.2,204.8 918.2,199.9 920.5,198.2 L932.0,204.0 C929.1,206.1 919.7,212.8 914.8,216.3 C909.9,219.8 907.5,221.7 902.5,225.0 C897.5,228.3 890.8,233.2 885.0,236.4 C879.2,239.6 873.3,241.2 867.5,244.3 C861.7,247.4 855.8,250.7 850.0,254.8 C844.2,258.9 838.3,264.1 832.5,268.8 C826.7,273.5 820.2,279.0 815.0,282.8 C809.8,286.6 803.3,290.1 801.0,291.5 Z" fill="#afda8e"/><path d="M801.0,290.2 C803.3,288.5 810.0,284.0 815.0,280.1 C820.0,276.3 825.6,271.3 830.8,267.1 C835.9,262.8 840.2,258.9 845.6,254.8 C851.0,250.7 857.5,246.4 863.1,242.6 C868.8,238.7 874.4,235.4 879.8,231.6 C885.1,227.8 890.7,223.3 895.5,219.8 C900.3,216.2 904.0,213.5 908.6,210.2 C913.3,206.8 920.9,201.4 923.4,199.7 L932.0,204.0 C929.1,206.1 919.7,212.8 914.8,216.3 C909.9,219.8 907.5,221.7 902.5,225.0 C897.5,228.3 890.8,233.2 885.0,236.4 C879.2,239.6 873.3,241.2 867.5,244.3 C861.7,247.4 855.8,250.7 850.0,254.8 C844.2,258.9 838.3,264.1 832.5,268.8 C826.7,273.5 820.2,279.0 815.0,282.8 C809.8,286.6 803.3,290.1 801.0,291.5 Z" fill="#a1d47e"/><path d="M801.0,290.6 C803.3,289.0 809.9,284.9 815.0,281.0 C820.1,277.2 826.0,272.0 831.3,267.6 C836.7,263.3 841.6,258.9 847.1,254.8 C852.6,250.7 858.9,246.7 864.6,243.1 C870.3,239.5 876.0,236.8 881.5,233.2 C887.0,229.6 893.0,225.0 897.8,221.5 C902.7,218.0 906.0,215.6 910.7,212.2 C915.4,208.8 923.7,202.9 926.3,201.1 L932.0,204.0 C929.1,206.1 919.7,212.8 914.8,216.3 C909.9,219.8 907.5,221.7 902.5,225.0 C897.5,228.3 890.8,233.2 885.0,236.4 C879.2,239.6 873.3,241.2 867.5,244.3 C861.7,247.4 855.8,250.7 850.0,254.8 C844.2,258.9 838.3,264.1 832.5,268.8 C826.7,273.5 820.2,279.0 815.0,282.8 C809.8,286.6 803.3,290.1 801.0,291.5 Z" fill="#94cf6e"/><path d="M801.0,291.1 C803.3,289.5 809.8,285.7 815.0,281.9 C820.2,278.1 826.3,272.7 831.9,268.2 C837.5,263.7 842.9,258.9 848.5,254.8 C854.2,250.7 860.3,247.1 866.0,243.7 C871.8,240.4 877.6,238.2 883.2,234.8 C888.9,231.4 895.2,226.7 900.2,223.2 C905.1,219.8 907.9,217.7 912.8,214.2 C917.6,210.8 926.4,204.5 929.1,202.6 L932.0,204.0 C929.1,206.1 919.7,212.8 914.8,216.3 C909.9,219.8 907.5,221.7 902.5,225.0 C897.5,228.3 890.8,233.2 885.0,236.4 C879.2,239.6 873.3,241.2 867.5,244.3 C861.7,247.4 855.8,250.7 850.0,254.8 C844.2,258.9 838.3,264.1 832.5,268.8 C826.7,273.5 820.2,279.0 815.0,282.8 C809.8,286.6 803.3,290.1 801.0,291.5 Z" fill="#86ca5d"/></g><g transform="translate(0,243.4)"><rect x="799.2" y="152.7" width="1.3" height="4.5" fill="#5a3a1a"/><circle cx="799.8" cy="150.2" r="3.3" fill="#3f7f50" stroke="#1f4a2c" stroke-width="0.6"/><rect x="813.2" y="153.8" width="1.3" height="4.5" fill="#5a3a1a"/><circle cx="813.8" cy="151.3" r="3.3" fill="#3f7f50" stroke="#1f4a2c" stroke-width="0.6"/><g stroke="#6a3a10" stroke-width="0.7" stroke-linejoin="round"><polygon points="821.0,155.5 828.1,155.5 828.1,151.3 824.6,148.0 821.0,151.3" fill="#f8a050"/><polygon points="828.1,155.5 832.3,153.4 832.3,149.3 828.1,151.3" fill="#f8a050"/><polygon points="828.1,151.3 832.3,149.3 828.7,145.9 824.6,148.0" fill="#f8a050"/></g><g stroke="#6a3a10" stroke-width="0.7" stroke-linejoin="round"><polygon points="802.5,161.0 809.6,161.0 809.6,156.8 806.1,153.5 802.5,156.8" fill="#f8a050"/><polygon points="809.6,161.0 813.8,158.9 813.8,154.8 809.6,156.8" fill="#f8a050"/><polygon points="809.6,156.8 813.8,154.8 810.2,151.4 806.1,153.5" fill="#f8a050"/></g><rect x="766.6" y="162.0" width="1.3" height="4.5" fill="#5a3a1a"/><circle cx="767.2" cy="159.5" r="3.3" fill="#3f7f50" stroke="#1f4a2c" stroke-width="0.6"/><rect x="760.7" y="164.3" width="1.3" height="4.5" fill="#5a3a1a"/><circle cx="761.3" cy="161.8" r="3.3" fill="#3f7f50" stroke="#1f4a2c" stroke-width="0.6"/><rect x="778.2" y="166.7" width="1.3" height="4.5" fill="#5a3a1a"/><circle cx="778.8" cy="164.2" r="3.3" fill="#3f7f50" stroke="#1f4a2c" stroke-width="0.6"/><g stroke="#6a3a10" stroke-width="0.7" stroke-linejoin="round"><polygon points="743.5,170.5 750.6,170.5 750.6,166.3 747.1,163.0 743.5,166.3" fill="#f8a050"/><polygon points="750.6,170.5 754.8,168.4 754.8,164.3 750.6,166.3" fill="#f8a050"/><polygon points="750.6,166.3 754.8,164.3 751.2,160.9 747.1,163.0" fill="#f8a050"/></g><g stroke="#6a3a10" stroke-width="0.7" stroke-linejoin="round"><polygon points="788.5,171.5 795.6,171.5 795.6,167.3 792.1,164.0 788.5,167.3" fill="#f8a050"/><polygon points="795.6,171.5 799.8,169.4 799.8,165.3 795.6,167.3" fill="#f8a050"/><polygon points="795.6,167.3 799.8,165.3 796.2,161.9 792.1,164.0" fill="#f8a050"/></g><g stroke="#6f6212" stroke-width="0.5" stroke-linejoin="round"><polygon points="835.0,169.4 842.0,169.4 842.0,162.8 835.0,162.8" fill="#fdee68"/><polygon points="842.0,169.4 845.5,168.2 845.5,161.6 842.0,162.8" fill="#f5dc48"/><polygon points="835.0,162.8 842.0,162.8 845.5,161.6 838.5,161.6" fill="#fff694"/></g><g stroke="#6f6212" stroke-width="0.5" stroke-linejoin="round"><polygon points="833.7,170.0 843.0,170.0 843.0,162.0 833.7,162.0" fill="#fdee68"/><polygon points="843.0,170.0 847.6,168.4 847.6,160.4 843.0,162.0" fill="#f5dc48"/><polygon points="833.7,162.0 843.0,162.0 847.6,160.4 838.4,160.4" fill="#fff694"/></g><g stroke="#6a3a10" stroke-width="0.7" stroke-linejoin="round"><polygon points="764.0,177.5 771.1,177.5 771.1,173.3 767.6,170.0 764.0,173.3" fill="#f8a050"/><polygon points="771.1,177.5 775.3,175.4 775.3,171.3 771.1,173.3" fill="#f8a050"/><polygon points="771.1,173.3 775.3,171.3 771.7,167.9 767.6,170.0" fill="#f8a050"/></g><g stroke="#6f6212" stroke-width="0.5" stroke-linejoin="round"><polygon points="845.3,172.3 854.6,172.3 854.6,165.3 845.3,165.3" fill="#fdee68"/><polygon points="854.6,172.3 859.2,170.7 859.2,163.7 854.6,165.3" fill="#f5dc48"/><polygon points="845.3,165.3 854.6,165.3 859.2,163.7 849.9,163.7" fill="#fff694"/></g><rect x="731.6" y="178.3" width="1.3" height="4.5" fill="#5a3a1a"/><circle cx="732.2" cy="175.8" r="3.3" fill="#3f7f50" stroke="#1f4a2c" stroke-width="0.6"/><g stroke="#6f6212" stroke-width="0.5" stroke-linejoin="round"><polygon points="797.0,174.0 805.0,174.0 805.0,166.5 797.0,166.5" fill="#fdee68"/><polygon points="805.0,174.0 809.0,172.6 809.0,165.1 805.0,166.5" fill="#f5dc48"/><polygon points="797.0,166.5 805.0,166.5 809.0,165.1 801.0,165.1" fill="#fff694"/></g><g stroke="#6f6212" stroke-width="0.5" stroke-linejoin="round"><polygon points="814.4,175.0 822.8,175.0 822.8,166.6 814.4,166.6" fill="#fdee68"/><polygon points="822.8,175.0 827.0,173.6 827.0,165.2 822.8,166.6" fill="#f5dc48"/><polygon points="814.4,166.6 822.8,166.6 827.0,165.2 818.6,165.2" fill="#fff694"/></g><g stroke="#6a3a10" stroke-width="0.7" stroke-linejoin="round"><polygon points="712.0,181.0 719.1,181.0 719.1,176.8 715.6,173.5 712.0,176.8" fill="#f8a050"/><polygon points="719.1,181.0 723.3,178.9 723.3,174.8 719.1,176.8" fill="#f8a050"/><polygon points="719.1,176.8 723.3,174.8 719.7,171.4 715.6,173.5" fill="#f8a050"/></g><rect x="725.7" y="179.5" width="1.3" height="4.5" fill="#5a3a1a"/><circle cx="726.3" cy="177.0" r="3.3" fill="#3f7f50" stroke="#1f4a2c" stroke-width="0.6"/><g stroke="#6f6212" stroke-width="0.5" stroke-linejoin="round"><polygon points="824.3,177.0 833.6,177.0 833.6,169.5 824.3,169.5" fill="#fdee68"/><polygon points="833.6,177.0 838.2,175.4 838.2,167.9 833.6,169.5" fill="#f5dc48"/><polygon points="824.3,169.5 833.6,169.5 838.2,167.9 828.9,167.9" fill="#fff694"/></g><g stroke="#6f6212" stroke-width="0.5" stroke-linejoin="round"><polygon points="825.6,177.8 833.1,177.8 833.1,170.3 825.6,170.3" fill="#fdee68"/><polygon points="833.1,177.8 836.9,176.5 836.9,169.0 833.1,170.3" fill="#f5dc48"/><polygon points="825.6,170.3 833.1,170.3 836.9,169.0 829.4,169.0" fill="#fff694"/></g><rect x="743.2" y="184.2" width="1.3" height="4.5" fill="#5a3a1a"/><circle cx="743.8" cy="181.7" r="3.3" fill="#3f7f50" stroke="#1f4a2c" stroke-width="0.6"/><g stroke="#6f6212" stroke-width="0.5" stroke-linejoin="round"><polygon points="802.2,180.6 811.6,180.6 811.6,172.2 802.2,172.2" fill="#fdee68"/><polygon points="811.6,180.6 816.3,179.0 816.3,170.6 811.6,172.2" fill="#f5dc48"/><polygon points="802.2,172.2 811.6,172.2 816.3,170.6 806.9,170.6" fill="#fff694"/></g><g stroke="#6a3a10" stroke-width="0.7" stroke-linejoin="round"><polygon points="731.5,187.0 738.6,187.0 738.6,182.8 735.1,179.5 731.5,182.8" fill="#f8a050"/><polygon points="738.6,187.0 742.8,184.9 742.8,180.8 738.6,182.8" fill="#f8a050"/><polygon points="738.6,182.8 742.8,180.8 739.2,177.4 735.1,179.5" fill="#f8a050"/></g><rect x="702.4" y="186.5" width="1.3" height="4.5" fill="#5a3a1a"/><circle cx="703.0" cy="184.0" r="3.3" fill="#3f7f50" stroke="#1f4a2c" stroke-width="0.6"/><rect x="696.6" y="187.7" width="1.3" height="4.5" fill="#5a3a1a"/><circle cx="697.2" cy="185.2" r="3.3" fill="#3f7f50" stroke="#1f4a2c" stroke-width="0.6"/><g stroke="#6f6212" stroke-width="0.5" stroke-linejoin="round"><polygon points="779.0,184.0 787.0,184.0 787.0,176.0 779.0,176.0" fill="#fdee68"/><polygon points="787.0,184.0 791.0,182.6 791.0,174.6 787.0,176.0" fill="#f5dc48"/><polygon points="779.0,176.0 787.0,176.0 791.0,174.6 783.0,174.6" fill="#fff694"/></g><rect x="682.6" y="190.0" width="1.3" height="4.5" fill="#5a3a1a"/><circle cx="683.2" cy="187.5" r="3.3" fill="#3f7f50" stroke="#1f4a2c" stroke-width="0.6"/><g stroke="#6f6212" stroke-width="0.5" stroke-linejoin="round"><polygon points="788.0,186.3 797.4,186.3 797.4,177.9 788.0,177.9" fill="#fdee68"/><polygon points="797.4,186.3 802.1,184.7 802.1,176.3 797.4,177.9" fill="#f5dc48"/><polygon points="788.0,177.9 797.4,177.9 802.1,176.3 792.7,176.3" fill="#fff694"/></g><rect x="676.7" y="191.2" width="1.3" height="4.5" fill="#5a3a1a"/><circle cx="677.3" cy="188.7" r="3.3" fill="#3f7f50" stroke="#1f4a2c" stroke-width="0.6"/><g stroke="#6f6212" stroke-width="0.5" stroke-linejoin="round"><polygon points="817.2,187.2 829.4,187.2 829.4,176.9 817.2,176.9" fill="#fdee68"/><polygon points="829.4,187.2 835.5,185.1 835.5,174.8 829.4,176.9" fill="#f5dc48"/><polygon points="817.2,176.9 829.4,176.9 835.5,174.8 823.3,174.8" fill="#fff694"/></g><g stroke="#6f6212" stroke-width="0.5" stroke-linejoin="round"><polygon points="805.0,191.0 814.4,191.0 814.4,180.7 805.0,180.7" fill="#fdee68"/><polygon points="814.4,191.0 819.1,189.4 819.1,179.1 814.4,180.7" fill="#f5dc48"/><polygon points="805.0,180.7 814.4,180.7 819.1,179.1 809.7,179.1" fill="#fff694"/></g><g stroke="#6f6212" stroke-width="0.5" stroke-linejoin="round"><polygon points="770.3,192.8 782.5,192.8 782.5,182.5 770.3,182.5" fill="#fdee68"/><polygon points="782.5,192.8 788.6,190.7 788.6,180.4 782.5,182.5" fill="#f5dc48"/><polygon points="770.3,182.5 782.5,182.5 788.6,180.4 776.4,180.4" fill="#fff694"/></g><g stroke="#6a3a10" stroke-width="0.7" stroke-linejoin="round"><polygon points="700.0,200.5 707.1,200.5 707.1,196.3 703.6,193.0 700.0,196.3" fill="#f8a050"/><polygon points="707.1,200.5 711.3,198.4 711.3,194.3 707.1,196.3" fill="#f8a050"/><polygon points="707.1,196.3 711.3,194.3 707.7,190.9 703.6,193.0" fill="#f8a050"/></g><g stroke="#6a3a10" stroke-width="0.7" stroke-linejoin="round"><polygon points="687.0,203.0 694.1,203.0 694.1,198.8 690.6,195.5 687.0,198.8" fill="#f8a050"/><polygon points="694.1,203.0 698.3,200.9 698.3,196.8 694.1,198.8" fill="#f8a050"/><polygon points="694.1,198.8 698.3,196.8 694.7,193.4 690.6,195.5" fill="#f8a050"/></g><g stroke="#6f6212" stroke-width="0.5" stroke-linejoin="round"><polygon points="757.2,197.5 767.5,197.5 767.5,187.2 757.2,187.2" fill="#fdee68"/><polygon points="767.5,197.5 772.6,195.7 772.6,185.4 767.5,187.2" fill="#f5dc48"/><polygon points="757.2,187.2 767.5,187.2 772.6,185.4 762.4,185.4" fill="#fff694"/></g><g stroke="#6f6212" stroke-width="0.5" stroke-linejoin="round"><polygon points="789.0,198.4 801.2,198.4 801.2,187.1 789.0,187.1" fill="#fdee68"/><polygon points="801.2,198.4 807.3,196.3 807.3,185.0 801.2,187.1" fill="#f5dc48"/><polygon points="789.0,187.1 801.2,187.1 807.3,185.0 795.1,185.0" fill="#fff694"/></g><g stroke="#8e8e92" stroke-width="0.5" stroke-linejoin="round"><polygon points="906.0,200.5 913.0,200.5 913.0,192.5 906.0,192.5" fill="#f3f3f3"/><polygon points="913.0,200.5 916.9,199.1 916.9,191.1 913.0,192.5" fill="#dcdcde"/><polygon points="906.0,192.5 913.0,192.5 916.9,191.1 909.9,191.1" fill="#ffffff"/></g><g stroke="#8e8e92" stroke-width="0.5" stroke-linejoin="round"><polygon points="891.1,201.4 896.4,201.4 896.4,177.8 891.1,177.8" fill="#f3f3f3"/><polygon points="896.4,201.4 899.3,200.3 899.3,176.7 896.4,177.8" fill="#dcdcde"/><polygon points="891.1,177.8 896.4,177.8 899.3,176.7 894.0,176.7" fill="#ffffff"/></g><g stroke="#8e8e92" stroke-width="0.5" stroke-linejoin="round"><polygon points="846.5,202.3 857.0,202.3 857.0,191.8 846.5,191.8" fill="#f3f3f3"/><polygon points="857.0,202.3 862.8,200.2 862.8,189.7 857.0,191.8" fill="#dcdcde"/><polygon points="846.5,191.8 857.0,191.8 862.8,189.7 852.3,189.7" fill="#ffffff"/></g><g stroke="#6f6212" stroke-width="0.5" stroke-linejoin="round"><polygon points="774.0,203.0 784.3,203.0 784.3,192.7 774.0,192.7" fill="#fdee68"/><polygon points="784.3,203.0 789.4,201.2 789.4,190.9 784.3,192.7" fill="#f5dc48"/><polygon points="774.0,192.7 784.3,192.7 789.4,190.9 779.1,190.9" fill="#fff694"/></g><g stroke="#8e8e92" stroke-width="0.5" stroke-linejoin="round"><polygon points="893.8,204.9 900.8,204.9 900.8,190.9 893.8,190.9" fill="#f3f3f3"/><polygon points="900.8,204.9 904.6,203.5 904.6,189.5 900.8,190.9" fill="#dcdcde"/><polygon points="893.8,190.9 900.8,190.9 904.6,189.5 897.6,189.5" fill="#ffffff"/></g><g stroke="#6f6212" stroke-width="0.5" stroke-linejoin="round"><polygon points="753.4,205.0 761.8,205.0 761.8,195.6 753.4,195.6" fill="#fdee68"/><polygon points="761.8,205.0 766.0,203.6 766.0,194.2 761.8,195.6" fill="#f5dc48"/><polygon points="753.4,195.6 761.8,195.6 766.0,194.2 757.6,194.2" fill="#fff694"/></g><g stroke="#6f6212" stroke-width="0.5" stroke-linejoin="round"><polygon points="732.0,207.0 747.0,207.0 747.0,195.7 732.0,195.7" fill="#fdee68"/><polygon points="747.0,207.0 754.5,204.4 754.5,193.1 747.0,195.7" fill="#f5dc48"/><polygon points="732.0,195.7 747.0,195.7 754.5,193.1 739.5,193.1" fill="#fff694"/></g><g stroke="#6f6212" stroke-width="0.5" stroke-linejoin="round"><polygon points="767.5,212.5 779.7,212.5 779.7,201.2 767.5,201.2" fill="#fdee68"/><polygon points="779.7,212.5 785.8,210.4 785.8,199.1 779.7,201.2" fill="#f5dc48"/><polygon points="767.5,201.2 779.7,201.2 785.8,199.1 773.6,199.1" fill="#fff694"/></g><g stroke="#8e8e92" stroke-width="0.5" stroke-linejoin="round"><polygon points="885.0,212.8 893.8,212.8 893.8,203.2 885.0,203.2" fill="#f3f3f3"/><polygon points="893.8,212.8 898.6,211.0 898.6,201.4 893.8,203.2" fill="#dcdcde"/><polygon points="885.0,203.2 893.8,203.2 898.6,201.4 889.8,201.4" fill="#ffffff"/></g><g stroke="#6f6212" stroke-width="0.5" stroke-linejoin="round"><polygon points="716.0,214.4 728.2,214.4 728.2,201.4 716.0,201.4" fill="#fdee68"/><polygon points="728.2,214.4 734.3,212.3 734.3,199.3 728.2,201.4" fill="#f5dc48"/><polygon points="716.0,201.4 728.2,201.4 734.3,199.3 722.1,199.3" fill="#fff694"/></g><g stroke="#8e8e92" stroke-width="0.5" stroke-linejoin="round"><polygon points="879.8,214.5 888.6,214.5 888.6,190.9 879.8,190.9" fill="#f3f3f3"/><polygon points="888.6,214.5 893.4,212.7 893.4,189.1 888.6,190.9" fill="#dcdcde"/><polygon points="879.8,190.9 888.6,190.9 893.4,189.1 884.6,189.1" fill="#ffffff"/></g><g stroke="#6f6212" stroke-width="0.5" stroke-linejoin="round"><polygon points="754.4,216.3 763.8,216.3 763.8,206.0 754.4,206.0" fill="#fdee68"/><polygon points="763.8,216.3 768.5,214.7 768.5,204.4 763.8,206.0" fill="#f5dc48"/><polygon points="754.4,206.0 763.8,206.0 768.5,204.4 759.1,204.4" fill="#fff694"/></g><g stroke="#8e8e92" stroke-width="0.5" stroke-linejoin="round"><polygon points="864.0,216.3 875.4,216.3 875.4,185.7 864.0,185.7" fill="#f3f3f3"/><polygon points="875.4,216.3 881.7,214.0 881.7,183.4 875.4,185.7" fill="#dcdcde"/><polygon points="864.0,185.7 875.4,185.7 881.7,183.4 870.3,183.4" fill="#ffffff"/></g><g stroke="#8e8e92" stroke-width="0.5" stroke-linejoin="round"><polygon points="847.4,217.1 858.8,217.1 858.8,202.2 847.4,202.2" fill="#f3f3f3"/><polygon points="858.8,217.1 865.1,214.8 865.1,199.9 858.8,202.2" fill="#dcdcde"/><polygon points="847.4,202.2 858.8,202.2 865.1,199.9 853.7,199.9" fill="#ffffff"/></g><g stroke="#6f6212" stroke-width="0.5" stroke-linejoin="round"><polygon points="736.6,220.0 749.6,220.0 749.6,208.7 736.6,208.7" fill="#fdee68"/><polygon points="749.6,220.0 756.1,217.8 756.1,206.5 749.6,208.7" fill="#f5dc48"/><polygon points="736.6,208.7 749.6,208.7 756.1,206.5 743.1,206.5" fill="#fff694"/></g><g stroke="#8e8e92" stroke-width="0.5" stroke-linejoin="round"><polygon points="825.5,221.5 836.0,221.5 836.0,198.7 825.5,198.7" fill="#f3f3f3"/><polygon points="836.0,221.5 841.8,219.4 841.8,196.6 836.0,198.7" fill="#dcdcde"/><polygon points="825.5,198.7 836.0,198.7 841.8,196.6 831.3,196.6" fill="#ffffff"/></g><g stroke="#6f6212" stroke-width="0.5" stroke-linejoin="round"><polygon points="704.7,223.8 720.7,223.8 720.7,211.6 704.7,211.6" fill="#fdee68"/><polygon points="720.7,223.8 728.7,221.1 728.7,208.9 720.7,211.6" fill="#f5dc48"/><polygon points="704.7,211.6 720.7,211.6 728.7,208.9 712.7,208.9" fill="#fff694"/></g><g stroke="#8e8e92" stroke-width="0.5" stroke-linejoin="round"><polygon points="866.6,225.0 874.5,225.0 874.5,215.4 866.6,215.4" fill="#f3f3f3"/><polygon points="874.5,225.0 878.8,223.4 878.8,213.8 874.5,215.4" fill="#dcdcde"/><polygon points="866.6,215.4 874.5,215.4 878.8,213.8 870.9,213.8" fill="#ffffff"/></g><g stroke="#6f6212" stroke-width="0.5" stroke-linejoin="round"><polygon points="742.0,226.0 751.0,226.0 751.0,217.0 742.0,217.0" fill="#fdee68"/><polygon points="751.0,226.0 755.5,224.5 755.5,215.5 751.0,217.0" fill="#f5dc48"/><polygon points="742.0,217.0 751.0,217.0 755.5,215.5 746.5,215.5" fill="#fff694"/></g><g stroke="#8e8e92" stroke-width="0.5" stroke-linejoin="round"><polygon points="838.6,226.8 847.4,226.8 847.4,216.3 838.6,216.3" fill="#f3f3f3"/><polygon points="847.4,226.8 852.2,225.0 852.2,214.5 847.4,216.3" fill="#dcdcde"/><polygon points="838.6,216.3 847.4,216.3 852.2,214.5 843.4,214.5" fill="#ffffff"/></g><g stroke="#6f6212" stroke-width="0.5" stroke-linejoin="round"><polygon points="726.3,231.3 742.3,231.3 742.3,218.3 726.3,218.3" fill="#fdee68"/><polygon points="742.3,231.3 750.3,228.6 750.3,215.6 742.3,218.3" fill="#f5dc48"/><polygon points="726.3,218.3 742.3,218.3 750.3,215.6 734.3,215.6" fill="#fff694"/></g><g stroke="#8e8e92" stroke-width="0.5" stroke-linejoin="round"><polygon points="801.9,232.9 811.5,232.9 811.5,210.1 801.9,210.1" fill="#f3f3f3"/><polygon points="811.5,232.9 816.8,231.0 816.8,208.2 811.5,210.1" fill="#dcdcde"/><polygon points="801.9,210.1 811.5,210.1 816.8,208.2 807.2,208.2" fill="#ffffff"/></g><g stroke="#8e8e92" stroke-width="0.5" stroke-linejoin="round"><polygon points="863.1,233.8 871.0,233.8 871.0,224.2 863.1,224.2" fill="#f3f3f3"/><polygon points="871.0,233.8 875.3,232.2 875.3,222.6 871.0,224.2" fill="#dcdcde"/><polygon points="863.1,224.2 871.0,224.2 875.3,222.6 867.4,222.6" fill="#ffffff"/></g><g stroke="#8e8e92" stroke-width="0.5" stroke-linejoin="round"><polygon points="854.4,234.6 863.2,234.6 863.2,213.6 854.4,213.6" fill="#f3f3f3"/><polygon points="863.2,234.6 868.0,232.8 868.0,211.8 863.2,213.6" fill="#dcdcde"/><polygon points="854.4,213.6 863.2,213.6 868.0,211.8 859.2,211.8" fill="#ffffff"/></g><g stroke="#6f6212" stroke-width="0.5" stroke-linejoin="round"><polygon points="709.4,238.8 724.4,238.8 724.4,223.8 709.4,223.8" fill="#fdee68"/><polygon points="724.4,238.8 731.9,236.2 731.9,221.2 724.4,223.8" fill="#f5dc48"/><polygon points="709.4,223.8 724.4,223.8 731.9,221.2 716.9,221.2" fill="#fff694"/></g><g stroke="#8e8e92" stroke-width="0.5" stroke-linejoin="round"><polygon points="781.8,239.0 790.6,239.0 790.6,219.7 781.8,219.7" fill="#f3f3f3"/><polygon points="790.6,239.0 795.4,237.2 795.4,217.9 790.6,219.7" fill="#dcdcde"/><polygon points="781.8,219.7 790.6,219.7 795.4,217.9 786.6,217.9" fill="#ffffff"/></g><g stroke="#8e8e92" stroke-width="0.5" stroke-linejoin="round"><polygon points="780.6,246.0 791.9,246.0 791.9,224.0 780.6,224.0" fill="#f3f3f3"/><polygon points="791.9,246.0 798.1,243.7 798.1,221.7 791.9,224.0" fill="#dcdcde"/><polygon points="780.6,224.0 791.9,224.0 798.1,221.7 786.8,221.7" fill="#ffffff"/></g><g stroke="#8e8e92" stroke-width="0.5" stroke-linejoin="round"><polygon points="819.4,246.0 832.5,246.0 832.5,223.2 819.4,223.2" fill="#f3f3f3"/><polygon points="832.5,246.0 839.7,243.4 839.7,220.6 832.5,223.2" fill="#dcdcde"/><polygon points="819.4,223.2 832.5,223.2 839.7,220.6 826.6,220.6" fill="#ffffff"/></g><g stroke="#8e8e92" stroke-width="0.5" stroke-linejoin="round"><polygon points="841.3,247.8 849.2,247.8 849.2,226.8 841.3,226.8" fill="#f3f3f3"/><polygon points="849.2,247.8 853.5,246.2 853.5,225.2 849.2,226.8" fill="#dcdcde"/><polygon points="841.3,226.8 849.2,226.8 853.5,225.2 845.6,225.2" fill="#ffffff"/></g><g stroke="#8e8e92" stroke-width="0.5" stroke-linejoin="round"><polygon points="760.0,250.0 771.3,250.0 771.3,218.0 760.0,218.0" fill="#f3f3f3"/><polygon points="771.3,250.0 777.5,247.7 777.5,215.7 771.3,218.0" fill="#dcdcde"/><polygon points="760.0,218.0 771.3,218.0 777.5,215.7 766.2,215.7" fill="#ffffff"/></g><g stroke="#8e8e92" stroke-width="0.5" stroke-linejoin="round"><polygon points="808.9,263.5 821.2,263.5 821.2,249.5 808.9,249.5" fill="#f3f3f3"/><polygon points="821.2,263.5 828.0,261.0 828.0,247.0 821.2,249.5" fill="#dcdcde"/><polygon points="808.9,249.5 821.2,249.5 828.0,247.0 815.7,247.0" fill="#ffffff"/></g><g stroke="#8e8e92" stroke-width="0.5" stroke-linejoin="round"><polygon points="829.9,263.5 839.5,263.5 839.5,249.5 829.9,249.5" fill="#f3f3f3"/><polygon points="839.5,263.5 844.8,261.6 844.8,247.6 839.5,249.5" fill="#dcdcde"/><polygon points="829.9,249.5 839.5,249.5 844.8,247.6 835.2,247.6" fill="#ffffff"/></g><g stroke="#8e8e92" stroke-width="0.5" stroke-linejoin="round"><polygon points="741.3,264.0 753.5,264.0 753.5,242.5 741.3,242.5" fill="#f3f3f3"/><polygon points="753.5,264.0 760.2,261.6 760.2,240.1 753.5,242.5" fill="#dcdcde"/><polygon points="741.3,242.5 753.5,242.5 760.2,240.1 748.0,240.1" fill="#ffffff"/></g><g stroke="#8e8e92" stroke-width="0.5" stroke-linejoin="round"><polygon points="768.4,265.0 783.4,265.0 783.4,234.0 768.4,234.0" fill="#f3f3f3"/><polygon points="783.4,265.0 791.6,262.0 791.6,231.0 783.4,234.0" fill="#dcdcde"/><polygon points="768.4,234.0 783.4,234.0 791.6,231.0 776.6,231.0" fill="#ffffff"/></g><g stroke="#8e8e92" stroke-width="0.5" stroke-linejoin="round"><polygon points="791.4,266.1 806.3,266.1 806.3,238.1 791.4,238.1" fill="#f3f3f3"/><polygon points="806.3,266.1 814.5,263.1 814.5,235.1 806.3,238.1" fill="#dcdcde"/><polygon points="791.4,238.1 806.3,238.1 814.5,235.1 799.6,235.1" fill="#ffffff"/></g><g stroke="#8e8e92" stroke-width="0.5" stroke-linejoin="round"><polygon points="770.3,278.0 782.5,278.0 782.5,257.4 770.3,257.4" fill="#f3f3f3"/><polygon points="782.5,278.0 789.2,275.6 789.2,255.0 782.5,257.4" fill="#dcdcde"/><polygon points="770.3,257.4 782.5,257.4 789.2,255.0 777.0,255.0" fill="#ffffff"/></g><g stroke="#8e8e92" stroke-width="0.5" stroke-linejoin="round"><polygon points="799.3,291.5 813.3,291.5 813.3,268.7 799.3,268.7" fill="#f3f3f3"/><polygon points="813.3,291.5 821.0,288.7 821.0,265.9 813.3,268.7" fill="#dcdcde"/><polygon points="799.3,268.7 813.3,268.7 821.0,265.9 807.0,265.9" fill="#ffffff"/></g></g><polygon points="715.9,390.3 736.9,407.8 732.2,410.2 747.2,411.7 748.8,401.9 744.0,404.3 723.1,386.7" fill="#1f2a70"/><polygon points="715.9,388.8 736.9,406.3 732.2,408.7 747.2,410.2 748.8,400.4 744.0,402.8 723.1,385.2" fill="#2f43a0"/><polygon points="754.8,368.4 777.7,389.5 772.8,391.8 787.7,393.7 790.0,383.9 785.1,386.2 762.2,365.0" fill="#1f2a70"/><polygon points="754.8,366.9 777.7,388.0 772.8,390.3 787.7,392.2 790.0,382.4 785.1,384.7 762.2,363.5" fill="#2f43a0"/><polygon points="755.8,508.2 721.2,524.6 717.0,520.9 713.6,532.2 731.2,533.5 727.0,529.8 761.6,513.4" fill="#1f2a70"/><polygon points="755.8,506.4 721.2,522.8 717.0,519.1 713.6,530.4 731.2,531.7 727.0,528.0 761.6,511.6" fill="#2f43a0"/></g><g><polygon points="974.1,432.4 1140.5,432.4 1189.5,517.3 925.8,517.3" fill="#cfe3c5" stroke="#727272" stroke-width="1.7"/><path d="M947.9,483.1L949.4,487.0M950.0,481.8V487.0M952.2,482.9L950.8,487.0" stroke="#8fd59a" stroke-width="1.19" fill="none" stroke-linecap="round"/><path d="M955.4,484.3L956.9,488.2M957.5,482.9V488.2M959.8,484.1L958.2,488.2" stroke="#8fd59a" stroke-width="1.19" fill="none" stroke-linecap="round"/><path d="M962.9,483.1L964.4,487.0M965.0,481.8V487.0M967.2,482.9L965.8,487.0" stroke="#8fd59a" stroke-width="1.19" fill="none" stroke-linecap="round"/><path d="M970.4,484.3L971.9,488.2M972.5,482.9V488.2M974.8,484.1L973.2,488.2" stroke="#8fd59a" stroke-width="1.19" fill="none" stroke-linecap="round"/><path d="M977.9,483.1L979.4,487.0M980.0,481.8V487.0M982.2,482.9L980.8,487.0" stroke="#8fd59a" stroke-width="1.19" fill="none" stroke-linecap="round"/><path d="M985.4,484.3L986.9,488.2M987.5,482.9V488.2M989.8,484.1L988.2,488.2" stroke="#8fd59a" stroke-width="1.19" fill="none" stroke-linecap="round"/><path d="M943.9,489.4L945.4,493.3M946.0,488.1V493.3M948.2,489.2L946.8,493.3" stroke="#8fd59a" stroke-width="1.19" fill="none" stroke-linecap="round"/><path d="M951.4,490.6L952.9,494.5M953.5,489.2V494.5M955.8,490.4L954.2,494.5" stroke="#8fd59a" stroke-width="1.19" fill="none" stroke-linecap="round"/><path d="M958.9,489.4L960.4,493.3M961.0,488.1V493.3M963.2,489.2L961.8,493.3" stroke="#8fd59a" stroke-width="1.19" fill="none" stroke-linecap="round"/><path d="M966.4,490.6L967.9,494.5M968.5,489.2V494.5M970.8,490.4L969.2,494.5" stroke="#8fd59a" stroke-width="1.19" fill="none" stroke-linecap="round"/><path d="M973.9,489.4L975.4,493.3M976.0,488.1V493.3M978.2,489.2L976.8,493.3" stroke="#8fd59a" stroke-width="1.19" fill="none" stroke-linecap="round"/><path d="M981.4,490.6L982.9,494.5M983.5,489.2V494.5M985.8,490.4L984.2,494.5" stroke="#8fd59a" stroke-width="1.19" fill="none" stroke-linecap="round"/><path d="M939.9,495.7L941.4,499.6M942.0,494.4V499.6M944.2,495.5L942.8,499.6" stroke="#8fd59a" stroke-width="1.19" fill="none" stroke-linecap="round"/><path d="M947.4,496.9L948.9,500.8M949.5,495.6V500.8M951.8,496.7L950.2,500.8" stroke="#8fd59a" stroke-width="1.19" fill="none" stroke-linecap="round"/><path d="M954.9,495.7L956.4,499.6M957.0,494.4V499.6M959.2,495.5L957.8,499.6" stroke="#8fd59a" stroke-width="1.19" fill="none" stroke-linecap="round"/><path d="M962.4,496.9L963.9,500.8M964.5,495.6V500.8M966.8,496.7L965.2,500.8" stroke="#8fd59a" stroke-width="1.19" fill="none" stroke-linecap="round"/><path d="M969.9,495.7L971.4,499.6M972.0,494.4V499.6M974.2,495.5L972.8,499.6" stroke="#8fd59a" stroke-width="1.19" fill="none" stroke-linecap="round"/><path d="M977.4,496.9L978.9,500.8M979.5,495.6V500.8M981.8,496.7L980.2,500.8" stroke="#8fd59a" stroke-width="1.19" fill="none" stroke-linecap="round"/><path d="M935.9,502.0L937.4,505.9M938.0,500.6V505.9M940.2,501.8L938.8,505.9" stroke="#8fd59a" stroke-width="1.19" fill="none" stroke-linecap="round"/><path d="M943.4,503.2L944.9,507.1M945.5,501.8V507.1M947.8,503.0L946.2,507.1" stroke="#8fd59a" stroke-width="1.19" fill="none" stroke-linecap="round"/><path d="M950.9,502.0L952.4,505.9M953.0,500.6V505.9M955.2,501.8L953.8,505.9" stroke="#8fd59a" stroke-width="1.19" fill="none" stroke-linecap="round"/><path d="M958.4,503.2L959.9,507.1M960.5,501.8V507.1M962.8,503.0L961.2,507.1" stroke="#8fd59a" stroke-width="1.19" fill="none" stroke-linecap="round"/><path d="M965.9,502.0L967.4,505.9M968.0,500.6V505.9M970.2,501.8L968.8,505.9" stroke="#8fd59a" stroke-width="1.19" fill="none" stroke-linecap="round"/><path d="M973.4,503.2L974.9,507.1M975.5,501.8V507.1M977.8,503.0L976.2,507.1" stroke="#8fd59a" stroke-width="1.19" fill="none" stroke-linecap="round"/><path d="M931.9,508.3L933.4,512.2M934.0,507.0V512.2M936.2,508.1L934.8,512.2" stroke="#8fd59a" stroke-width="1.19" fill="none" stroke-linecap="round"/><path d="M939.4,509.5L940.9,513.4M941.5,508.2V513.4M943.8,509.3L942.2,513.4" stroke="#8fd59a" stroke-width="1.19" fill="none" stroke-linecap="round"/><path d="M946.9,508.3L948.4,512.2M949.0,507.0V512.2M951.2,508.1L949.8,512.2" stroke="#8fd59a" stroke-width="1.19" fill="none" stroke-linecap="round"/><path d="M954.4,509.5L955.9,513.4M956.5,508.2V513.4M958.8,509.3L957.2,513.4" stroke="#8fd59a" stroke-width="1.19" fill="none" stroke-linecap="round"/><path d="M961.9,508.3L963.4,512.2M964.0,507.0V512.2M966.2,508.1L964.8,512.2" stroke="#8fd59a" stroke-width="1.19" fill="none" stroke-linecap="round"/><path d="M969.4,509.5L970.9,513.4M971.5,508.2V513.4M973.8,509.3L972.2,513.4" stroke="#8fd59a" stroke-width="1.19" fill="none" stroke-linecap="round"/><path d="M1126.1,444.5L1127.4,448.0M1128.0,443.3V448.0M1130.0,444.3L1128.7,448.0" stroke="#8fd59a" stroke-width="1.07" fill="none" stroke-linecap="round"/><path d="M1132.6,444.5L1133.9,448.0M1134.5,443.3V448.0M1136.5,444.3L1135.2,448.0" stroke="#8fd59a" stroke-width="1.07" fill="none" stroke-linecap="round"/><path d="M1139.1,444.5L1140.4,448.0M1141.0,443.3V448.0M1143.0,444.3L1141.7,448.0" stroke="#8fd59a" stroke-width="1.07" fill="none" stroke-linecap="round"/><path d="M1129.7,450.1L1131.0,453.6M1131.6,448.9V453.6M1133.6,449.9L1132.3,453.6" stroke="#8fd59a" stroke-width="1.07" fill="none" stroke-linecap="round"/><path d="M1136.2,450.1L1137.5,453.6M1138.1,448.9V453.6M1140.1,449.9L1138.8,453.6" stroke="#8fd59a" stroke-width="1.07" fill="none" stroke-linecap="round"/><path d="M1142.7,450.1L1144.0,453.6M1144.6,448.9V453.6M1146.6,449.9L1145.3,453.6" stroke="#8fd59a" stroke-width="1.07" fill="none" stroke-linecap="round"/><path d="M1133.3,455.7L1134.6,459.2M1135.2,454.5V459.2M1137.2,455.5L1135.9,459.2" stroke="#8fd59a" stroke-width="1.07" fill="none" stroke-linecap="round"/><path d="M1139.8,455.7L1141.1,459.2M1141.7,454.5V459.2M1143.7,455.5L1142.4,459.2" stroke="#8fd59a" stroke-width="1.07" fill="none" stroke-linecap="round"/><path d="M1146.3,455.7L1147.6,459.2M1148.2,454.5V459.2M1150.2,455.5L1148.9,459.2" stroke="#8fd59a" stroke-width="1.07" fill="none" stroke-linecap="round"/><path d="M1136.9,461.3L1138.2,464.8M1138.8,460.1V464.8M1140.8,461.1L1139.5,464.8" stroke="#8fd59a" stroke-width="1.07" fill="none" stroke-linecap="round"/><path d="M1143.4,461.3L1144.7,464.8M1145.3,460.1V464.8M1147.3,461.1L1146.0,464.8" stroke="#8fd59a" stroke-width="1.07" fill="none" stroke-linecap="round"/><path d="M1149.9,461.3L1151.2,464.8M1151.8,460.1V464.8M1153.8,461.1L1152.5,464.8" stroke="#8fd59a" stroke-width="1.07" fill="none" stroke-linecap="round"/><path d="M1140.5,466.9L1141.8,470.4M1142.4,465.7V470.4M1144.4,466.7L1143.1,470.4" stroke="#8fd59a" stroke-width="1.07" fill="none" stroke-linecap="round"/><path d="M1147.0,466.9L1148.3,470.4M1148.9,465.7V470.4M1150.9,466.7L1149.6,470.4" stroke="#8fd59a" stroke-width="1.07" fill="none" stroke-linecap="round"/><path d="M1153.5,466.9L1154.8,470.4M1155.4,465.7V470.4M1157.4,466.7L1156.1,470.4" stroke="#8fd59a" stroke-width="1.07" fill="none" stroke-linecap="round"/><path d="M1029.2,487.5L1030.2,490.0M1030.6,486.6V490.0M1032.0,487.4L1031.1,490.0" stroke="#8fd59a" stroke-width="0.77" fill="none" stroke-linecap="round"/><path d="M1122.1,444.3L1123.4,447.6M1123.9,443.1V447.6M1125.9,444.1L1124.6,447.6" stroke="#8fd59a" stroke-width="1.02" fill="none" stroke-linecap="round"/><path d="M1097.8,443.7L1099.0,446.8M1099.5,442.7V446.8M1101.3,443.5L1100.1,446.8" stroke="#8fd59a" stroke-width="0.94" fill="none" stroke-linecap="round"/><path d="M933.6,507.4L934.8,510.2M935.2,506.4V510.2M936.9,507.2L935.8,510.2" stroke="#8fd59a" stroke-width="0.88" fill="none" stroke-linecap="round"/><path d="M979.3,459.3L980.4,462.1M980.8,458.3V462.1M982.5,459.1L981.4,462.1" stroke="#8fd59a" stroke-width="0.86" fill="none" stroke-linecap="round"/><path d="M983.9,479.1L985.0,482.2M985.5,478.1V482.2M987.3,478.9L986.1,482.2" stroke="#8fd59a" stroke-width="0.94" fill="none" stroke-linecap="round"/><path d="M1019.1,448.6L1020.5,452.1M1021.0,447.4V452.1M1023.0,448.4L1021.7,452.1" stroke="#8fd59a" stroke-width="1.06" fill="none" stroke-linecap="round"/><path d="M1094.8,449.8L1096.1,453.3M1096.7,448.6V453.3M1098.7,449.6L1097.4,453.3" stroke="#8fd59a" stroke-width="1.04" fill="none" stroke-linecap="round"/><path d="M1115.1,448.1L1116.3,451.3M1116.8,447.0V451.3M1118.7,447.9L1117.5,451.3" stroke="#8fd59a" stroke-width="0.98" fill="none" stroke-linecap="round"/><path d="M984.6,436.5L985.7,439.3M986.1,435.5V439.3M987.7,436.3L986.6,439.3" stroke="#8fd59a" stroke-width="0.85" fill="none" stroke-linecap="round"/><path d="M1093.6,498.4L1095.0,502.1M1095.6,497.1V502.1M1097.7,498.2L1096.3,502.1" stroke="#8fd59a" stroke-width="1.11" fill="none" stroke-linecap="round"/><path d="M1178.1,511.1L1179.4,514.5M1180.0,509.9V514.5M1181.9,510.9L1180.6,514.5" stroke="#8fd59a" stroke-width="1.04" fill="none" stroke-linecap="round"/><path d="M1006.7,446.8L1007.9,449.9M1008.4,445.6V449.9M1010.3,446.6L1009.0,449.9" stroke="#8fd59a" stroke-width="0.97" fill="none" stroke-linecap="round"/><path d="M1068.4,486.8L1069.3,489.3M1069.7,486.0V489.3M1071.2,486.7L1070.2,489.3" stroke="#8fd59a" stroke-width="0.75" fill="none" stroke-linecap="round"/><path d="M977.6,505.6L978.8,508.8M979.4,504.5V508.8M981.2,505.4L980.0,508.8" stroke="#8fd59a" stroke-width="0.96" fill="none" stroke-linecap="round"/><path d="M1106.4,440.7L1107.6,443.6M1108.0,439.7V443.6M1109.7,440.5L1108.6,443.6" stroke="#8fd59a" stroke-width="0.88" fill="none" stroke-linecap="round"/><path d="M1161.0,483.6L1162.4,487.3M1163.0,482.3V487.3M1165.1,483.4L1163.7,487.3" stroke="#8fd59a" stroke-width="1.12" fill="none" stroke-linecap="round"/><path d="M978.5,468.5L979.9,471.9M980.4,467.3V471.9M982.4,468.3L981.1,471.9" stroke="#8fd59a" stroke-width="1.05" fill="none" stroke-linecap="round"/><path d="M1042.1,495.2L1043.3,498.3M1043.8,494.1V498.3M1045.6,495.0L1044.4,498.3" stroke="#8fd59a" stroke-width="0.95" fill="none" stroke-linecap="round"/><path d="M977.9,459.2L979.2,462.5M979.7,458.0V462.5M981.6,459.0L980.3,462.5" stroke="#8fd59a" stroke-width="1.01" fill="none" stroke-linecap="round"/><path d="M1147.0,470.6L1148.2,473.6M1148.6,469.5V473.6M1150.4,470.4L1149.2,473.6" stroke="#8fd59a" stroke-width="0.92" fill="none" stroke-linecap="round"/><path d="M1130.3,455.1L1131.4,458.0M1131.8,454.1V458.0M1133.5,454.9L1132.4,458.0" stroke="#8fd59a" stroke-width="0.87" fill="none" stroke-linecap="round"/><path d="M1085.6,483.9L1086.5,486.3M1086.9,483.0V486.3M1088.2,483.7L1087.3,486.3" stroke="#8fd59a" stroke-width="0.73" fill="none" stroke-linecap="round"/><path d="M1113.6,487.1L1115.0,490.7M1115.6,485.8V490.7M1117.7,486.9L1116.3,490.7" stroke="#8fd59a" stroke-width="1.12" fill="none" stroke-linecap="round"/><path d="M1124.6,452.8L1125.9,456.1M1126.5,451.6V456.1M1128.4,452.5L1127.1,456.1" stroke="#8fd59a" stroke-width="1.03" fill="none" stroke-linecap="round"/><path d="M1001.0,447.5L1001.9,449.9M1002.3,446.7V449.9M1003.7,447.4L1002.8,449.9" stroke="#8fd59a" stroke-width="0.73" fill="none" stroke-linecap="round"/><path d="M960.7,502.0L961.6,504.4M962.0,501.1V504.4M963.4,501.8L962.4,504.4" stroke="#8fd59a" stroke-width="0.73" fill="none" stroke-linecap="round"/><path d="M1085.8,449.7L1086.8,452.3M1087.2,448.8V452.3M1088.7,449.6L1087.7,452.3" stroke="#8fd59a" stroke-width="0.79" fill="none" stroke-linecap="round"/><path d="M1138.7,457.0L1139.7,459.6M1140.1,456.1V459.6M1141.6,456.9L1140.6,459.6" stroke="#8fd59a" stroke-width="0.79" fill="none" stroke-linecap="round"/><path d="M1044.8,487.9L1046.0,490.9M1046.4,486.8V490.9M1048.2,487.7L1047.0,490.9" stroke="#8fd59a" stroke-width="0.93" fill="none" stroke-linecap="round"/><path d="M1148.4,464.7L1149.6,467.7M1150.1,463.6V467.7M1151.9,464.5L1150.7,467.7" stroke="#8fd59a" stroke-width="0.93" fill="none" stroke-linecap="round"/><path d="M1111.8,469.2L1113.0,472.5M1113.6,468.0V472.5M1115.5,469.0L1114.2,472.5" stroke="#8fd59a" stroke-width="1.01" fill="none" stroke-linecap="round"/><path d="M1048.2,444.1L1049.1,446.6M1049.5,443.2V446.6M1051.0,443.9L1050.0,446.6" stroke="#8fd59a" stroke-width="0.76" fill="none" stroke-linecap="round"/><path d="M1076.5,445.6L1077.9,449.1M1078.4,444.4V449.1M1080.4,445.4L1079.1,449.1" stroke="#8fd59a" stroke-width="1.07" fill="none" stroke-linecap="round"/><path d="M959.0,467.0L960.0,469.6M960.4,466.2V469.6M961.9,466.9L960.9,469.6" stroke="#8fd59a" stroke-width="0.77" fill="none" stroke-linecap="round"/><path d="M1037.3,489.1L1038.4,492.2M1038.9,488.0V492.2M1040.7,488.9L1039.5,492.2" stroke="#8fd59a" stroke-width="0.94" fill="none" stroke-linecap="round"/><path d="M990.3,494.2L991.6,497.5M992.1,493.0V497.5M994.1,494.0L992.8,497.5" stroke="#8fd59a" stroke-width="1.02" fill="none" stroke-linecap="round"/><path d="M1085.9,504.1L1086.9,506.7M1087.4,503.1V506.7M1088.9,503.9L1087.9,506.7" stroke="#8fd59a" stroke-width="0.82" fill="none" stroke-linecap="round"/><path d="M980.2,497.5L981.3,500.3M981.8,496.5V500.3M983.4,497.3L982.3,500.3" stroke="#8fd59a" stroke-width="0.86" fill="none" stroke-linecap="round"/><path d="M1031.2,497.7L1032.3,500.6M1032.7,496.7V500.6M1034.4,497.6L1033.3,500.6" stroke="#8fd59a" stroke-width="0.87" fill="none" stroke-linecap="round"/><path d="M979.3,450.1L980.4,452.9M980.8,449.2V452.9M982.4,450.0L981.3,452.9" stroke="#8fd59a" stroke-width="0.86" fill="none" stroke-linecap="round"/><path d="M1106.8,461.7L1108.1,465.1M1108.7,460.5V465.1M1110.6,461.5L1109.3,465.1" stroke="#8fd59a" stroke-width="1.03" fill="none" stroke-linecap="round"/><path d="M1056.5,507.2L1057.5,509.9M1058.0,506.2V509.9M1059.5,507.0L1058.5,509.9" stroke="#8fd59a" stroke-width="0.83" fill="none" stroke-linecap="round"/><path d="M974.8,435.7L976.0,438.7M976.5,434.6V438.7M978.2,435.5L977.1,438.7" stroke="#8fd59a" stroke-width="0.91" fill="none" stroke-linecap="round"/><path d="M1004.8,471.1L1005.7,473.4M1006.1,470.3V473.4M1007.4,470.9L1006.5,473.4" stroke="#8fd59a" stroke-width="0.71" fill="none" stroke-linecap="round"/><path d="M1122.0,456.2L1123.4,459.7M1123.9,454.9V459.7M1126.0,455.9L1124.6,459.7" stroke="#8fd59a" stroke-width="1.09" fill="none" stroke-linecap="round"/><path d="M1127.2,451.3L1128.4,454.4M1128.9,450.2V454.4M1130.8,451.1L1129.6,454.4" stroke="#8fd59a" stroke-width="0.96" fill="none" stroke-linecap="round"/><path d="M1145.2,476.0L1146.3,478.7M1146.7,475.0V478.7M1148.3,475.8L1147.2,478.7" stroke="#8fd59a" stroke-width="0.85" fill="none" stroke-linecap="round"/><path d="M953.2,478.8L954.2,481.4M954.6,477.9V481.4M956.1,478.6L955.1,481.4" stroke="#8fd59a" stroke-width="0.79" fill="none" stroke-linecap="round"/><path d="M1061.4,501.1L1062.5,503.8M1062.9,500.1V503.8M1064.5,500.9L1063.5,503.8" stroke="#8fd59a" stroke-width="0.84" fill="none" stroke-linecap="round"/><path d="M1027.5,486.4L1028.7,489.5M1029.2,485.3V489.5M1031.0,486.2L1029.8,489.5" stroke="#8fd59a" stroke-width="0.94" fill="none" stroke-linecap="round"/><path d="M984.8,465.0L986.2,468.4M986.7,463.8V468.4M988.7,464.8L987.4,468.4" stroke="#8fd59a" stroke-width="1.05" fill="none" stroke-linecap="round"/><path d="M990.7,489.4L991.6,491.8M992.0,488.5V491.8M993.4,489.2L992.5,491.8" stroke="#8fd59a" stroke-width="0.73" fill="none" stroke-linecap="round"/><path d="M1011.0,510.3L1012.3,513.7M1012.9,509.1V513.7M1014.8,510.0L1013.5,513.7" stroke="#8fd59a" stroke-width="1.04" fill="none" stroke-linecap="round"/><path d="M1008.5,436.7L1009.6,439.5M1010.0,435.6V439.5M1011.7,436.5L1010.6,439.5" stroke="#8fd59a" stroke-width="0.88" fill="none" stroke-linecap="round"/><radialGradient id="pm" gradientUnits="userSpaceOnUse" cx="1050" cy="474" r="78" gradientTransform="translate(0,474) scale(1,0.33) translate(0,-474)"><stop offset="0" stop-color="#ffffff"/><stop offset="0.62" stop-color="#fdfefc" stop-opacity="0.97"/><stop offset="1" stop-color="#e4efdd" stop-opacity="0"/></radialGradient><path d="M978,484 C1000,481 1008,472 1019,468 L1094,468 C1104,471 1108,476 1114,477.5 C1116,488 1100,498 1056,500 C1010,500 982,494 978,484 Z" fill="url(#pm)"/><path d="M978,484 C1000,481 1008,472 1019,468 M1094,468 C1104,471 1108,476 1114,477.5 C1124,479 1132,478 1142,478.6" fill="none" stroke="#9fb09f" stroke-width="0.7"/><path d="M1114,477.5 C1124,479 1132,478 1142,478.6 L1142,480.5 C1130,481 1122,482 1112,481 Z" fill="#f1f7ee" fill-opacity="0.8"/><ellipse cx="1056.5" cy="469" rx="39.3" ry="10.5" fill="#f7983c"/><ellipse cx="1057.7" cy="463.2" rx="27.2" ry="9.7" fill="#e8382c" stroke="#8a1a12" stroke-width="0.6"/><g stroke="#7a1410" stroke-width="0.5" stroke-linejoin="round"><polygon points="1057.3,459.3 1062.8,459.3 1062.8,456.1 1057.3,456.1" fill="#ee4a36"/><polygon points="1062.8,459.3 1065.2,457.8 1065.2,454.6 1062.8,456.1" fill="#d42a20"/><polygon points="1057.3,456.1 1062.8,456.1 1065.2,454.6 1059.7,454.6" fill="#f4705a"/></g><g stroke="#7a1410" stroke-width="0.5" stroke-linejoin="round"><polygon points="1048.3,459.6 1053.8,459.6 1053.8,456.4 1048.3,456.4" fill="#ee4a36"/><polygon points="1053.8,459.6 1056.2,458.1 1056.2,454.9 1053.8,456.4" fill="#d42a20"/><polygon points="1048.3,456.4 1053.8,456.4 1056.2,454.9 1050.7,454.9" fill="#f4705a"/></g><g stroke="#7a1410" stroke-width="0.5" stroke-linejoin="round"><polygon points="1068.7,461.3 1074.2,461.3 1074.2,458.1 1068.7,458.1" fill="#ee4a36"/><polygon points="1074.2,461.3 1076.6,459.8 1076.6,456.6 1074.2,458.1" fill="#d42a20"/><polygon points="1068.7,458.1 1074.2,458.1 1076.6,456.6 1071.1,456.6" fill="#f4705a"/></g><g stroke="#7a1410" stroke-width="0.5" stroke-linejoin="round"><polygon points="1038.2,461.9 1043.7,461.9 1043.7,458.7 1038.2,458.7" fill="#ee4a36"/><polygon points="1043.7,461.9 1046.1,460.4 1046.1,457.2 1043.7,458.7" fill="#d42a20"/><polygon points="1038.2,458.7 1043.7,458.7 1046.1,457.2 1040.6,457.2" fill="#f4705a"/></g><g stroke="#7a1410" stroke-width="0.5" stroke-linejoin="round"><polygon points="1061.9,462.6 1067.4,462.6 1067.4,459.4 1061.9,459.4" fill="#ee4a36"/><polygon points="1067.4,462.6 1069.8,461.1 1069.8,457.9 1067.4,459.4" fill="#d42a20"/><polygon points="1061.9,459.4 1067.4,459.4 1069.8,457.9 1064.3,457.9" fill="#f4705a"/></g><g stroke="#7a1410" stroke-width="0.5" stroke-linejoin="round"><polygon points="1049.1,463.4 1054.6,463.4 1054.6,460.2 1049.1,460.2" fill="#ee4a36"/><polygon points="1054.6,463.4 1057.0,461.9 1057.0,458.7 1054.6,460.2" fill="#d42a20"/><polygon points="1049.1,460.2 1054.6,460.2 1057.0,458.7 1051.5,458.7" fill="#f4705a"/></g><g stroke="#7a1410" stroke-width="0.5" stroke-linejoin="round"><polygon points="1055.6,464.2 1061.1,464.2 1061.1,461.0 1055.6,461.0" fill="#ee4a36"/><polygon points="1061.1,464.2 1063.5,462.7 1063.5,459.5 1061.1,461.0" fill="#d42a20"/><polygon points="1055.6,461.0 1061.1,461.0 1063.5,459.5 1058.0,459.5" fill="#f4705a"/></g><g stroke="#7a1410" stroke-width="0.5" stroke-linejoin="round"><polygon points="1068.3,464.9 1073.8,464.9 1073.8,461.7 1068.3,461.7" fill="#ee4a36"/><polygon points="1073.8,464.9 1076.2,463.4 1076.2,460.2 1073.8,461.7" fill="#d42a20"/><polygon points="1068.3,461.7 1073.8,461.7 1076.2,460.2 1070.7,460.2" fill="#f4705a"/></g><g stroke="#7a1410" stroke-width="0.5" stroke-linejoin="round"><polygon points="1074.8,465.0 1080.3,465.0 1080.3,461.8 1074.8,461.8" fill="#ee4a36"/><polygon points="1080.3,465.0 1082.7,463.5 1082.7,460.3 1080.3,461.8" fill="#d42a20"/><polygon points="1074.8,461.8 1080.3,461.8 1082.7,460.3 1077.2,460.3" fill="#f4705a"/></g><g stroke="#7a1410" stroke-width="0.5" stroke-linejoin="round"><polygon points="1040.9,466.4 1046.4,466.4 1046.4,463.2 1040.9,463.2" fill="#ee4a36"/><polygon points="1046.4,466.4 1048.8,464.9 1048.8,461.7 1046.4,463.2" fill="#d42a20"/><polygon points="1040.9,463.2 1046.4,463.2 1048.8,461.7 1043.3,461.7" fill="#f4705a"/></g><g stroke="#7a1410" stroke-width="0.5" stroke-linejoin="round"><polygon points="1061.8,467.2 1067.3,467.2 1067.3,464.0 1061.8,464.0" fill="#ee4a36"/><polygon points="1067.3,467.2 1069.7,465.7 1069.7,462.5 1067.3,464.0" fill="#d42a20"/><polygon points="1061.8,464.0 1067.3,464.0 1069.7,462.5 1064.2,462.5" fill="#f4705a"/></g><g stroke="#7a1410" stroke-width="0.5" stroke-linejoin="round"><polygon points="1033.5,468.3 1039.0,468.3 1039.0,465.1 1033.5,465.1" fill="#ee4a36"/><polygon points="1039.0,468.3 1041.4,466.8 1041.4,463.6 1039.0,465.1" fill="#d42a20"/><polygon points="1033.5,465.1 1039.0,465.1 1041.4,463.6 1035.9,463.6" fill="#f4705a"/></g><g stroke="#7a1410" stroke-width="0.5" stroke-linejoin="round"><polygon points="1049.2,468.3 1054.7,468.3 1054.7,465.1 1049.2,465.1" fill="#ee4a36"/><polygon points="1054.7,468.3 1057.1,466.8 1057.1,463.6 1054.7,465.1" fill="#d42a20"/><polygon points="1049.2,465.1 1054.7,465.1 1057.1,463.6 1051.6,463.6" fill="#f4705a"/></g><g stroke="#7a1410" stroke-width="0.5" stroke-linejoin="round"><polygon points="1069.9,468.5 1075.4,468.5 1075.4,465.3 1069.9,465.3" fill="#ee4a36"/><polygon points="1075.4,468.5 1077.8,467.0 1077.8,463.8 1075.4,465.3" fill="#d42a20"/><polygon points="1069.9,465.3 1075.4,465.3 1077.8,463.8 1072.3,463.8" fill="#f4705a"/></g><g stroke="#7a1410" stroke-width="0.5" stroke-linejoin="round"><polygon points="1063.7,470.6 1069.2,470.6 1069.2,467.4 1063.7,467.4" fill="#ee4a36"/><polygon points="1069.2,470.6 1071.6,469.1 1071.6,465.9 1069.2,467.4" fill="#d42a20"/><polygon points="1063.7,467.4 1069.2,467.4 1071.6,465.9 1066.1,465.9" fill="#f4705a"/></g><g stroke="#7a1410" stroke-width="0.5" stroke-linejoin="round"><polygon points="1042.4,471.3 1047.9,471.3 1047.9,468.1 1042.4,468.1" fill="#ee4a36"/><polygon points="1047.9,471.3 1050.3,469.8 1050.3,466.6 1047.9,468.1" fill="#d42a20"/><polygon points="1042.4,468.1 1047.9,468.1 1050.3,466.6 1044.8,466.6" fill="#f4705a"/></g><g stroke="#7a1410" stroke-width="0.5" stroke-linejoin="round"><polygon points="1056.1,471.6 1061.6,471.6 1061.6,468.4 1056.1,468.4" fill="#ee4a36"/><polygon points="1061.6,471.6 1064.0,470.1 1064.0,466.9 1061.6,468.4" fill="#d42a20"/><polygon points="1056.1,468.4 1061.6,468.4 1064.0,466.9 1058.5,466.9" fill="#f4705a"/></g><g stroke="#7a1410" stroke-width="0.5" stroke-linejoin="round"><polygon points="1049.8,472.8 1055.3,472.8 1055.3,469.6 1049.8,469.6" fill="#ee4a36"/><polygon points="1055.3,472.8 1057.7,471.3 1057.7,468.1 1055.3,469.6" fill="#d42a20"/><polygon points="1049.8,469.6 1055.3,469.6 1057.7,468.1 1052.2,468.1" fill="#f4705a"/></g><g stroke="#777777" stroke-width="0.5" stroke-linejoin="round"><polygon points="1050.0,455.5 1055.0,455.5 1055.0,452.5 1050.0,452.5" fill="#ffffff"/><polygon points="1055.0,455.5 1057.2,454.1 1057.2,451.1 1055.0,452.5" fill="#eeeeee"/><polygon points="1050.0,452.5 1055.0,452.5 1057.2,451.1 1052.2,451.1" fill="#ffffff"/></g><g stroke="#777777" stroke-width="0.5" stroke-linejoin="round"><polygon points="1071.0,457.0 1076.0,457.0 1076.0,454.0 1071.0,454.0" fill="#ffffff"/><polygon points="1076.0,457.0 1078.2,455.6 1078.2,452.6 1076.0,454.0" fill="#eeeeee"/><polygon points="1071.0,454.0 1076.0,454.0 1078.2,452.6 1073.2,452.6" fill="#ffffff"/></g><rect x="1043.1" y="456.8" width="1.3" height="3.8" fill="#3a2a1a"/><circle cx="1043.7" cy="455.0" r="2.6" fill="#3f5a44" stroke="#1e2e22" stroke-width="0.6"/><rect x="1053.6" y="460.6" width="1.3" height="3.8" fill="#3a2a1a"/><circle cx="1054.2" cy="458.8" r="2.6" fill="#3f5a44" stroke="#1e2e22" stroke-width="0.6"/><rect x="1062.9" y="468.0" width="1.3" height="3.8" fill="#3a2a1a"/><circle cx="1063.5" cy="466.2" r="2.6" fill="#3f5a44" stroke="#1e2e22" stroke-width="0.6"/><rect x="1066.4" y="454.7" width="1.3" height="4.0" fill="#7a4a2a"/><circle cx="1067.0" cy="452.7" r="2.8" fill="#3fa35f" stroke="#1f6b3a" stroke-width="0.6"/><rect x="1044.4" y="453.6" width="1.3" height="3.6" fill="#7a4a2a"/><circle cx="1045.0" cy="452.0" r="2.4" fill="#3fa35f" stroke="#1f6b3a" stroke-width="0.6"/><ellipse cx="1144.5" cy="502.8" rx="29.4" ry="9.3" fill="#fbea3c" stroke="#8a7e18" stroke-width="0.7"/><ellipse cx="1147" cy="506" rx="18" ry="5" fill="#f6a83c"/><g stroke="#857814" stroke-width="0.5" stroke-linejoin="round"><polygon points="1139.9,499.3 1145.4,499.3 1145.4,496.1 1139.9,496.1" fill="#fbe94a"/><polygon points="1145.4,499.3 1147.8,497.8 1147.8,494.6 1145.4,496.1" fill="#f1d22c"/><polygon points="1139.9,496.1 1145.4,496.1 1147.8,494.6 1142.3,494.6" fill="#fdf17c"/></g><g stroke="#857814" stroke-width="0.5" stroke-linejoin="round"><polygon points="1133.7,499.7 1139.2,499.7 1139.2,496.5 1133.7,496.5" fill="#fbe94a"/><polygon points="1139.2,499.7 1141.6,498.2 1141.6,495.0 1139.2,496.5" fill="#f1d22c"/><polygon points="1133.7,496.5 1139.2,496.5 1141.6,495.0 1136.1,495.0" fill="#fdf17c"/></g><g stroke="#857814" stroke-width="0.5" stroke-linejoin="round"><polygon points="1151.0,500.0 1156.5,500.0 1156.5,496.8 1151.0,496.8" fill="#fbe94a"/><polygon points="1156.5,500.0 1158.9,498.5 1158.9,495.3 1156.5,496.8" fill="#f1d22c"/><polygon points="1151.0,496.8 1156.5,496.8 1158.9,495.3 1153.4,495.3" fill="#fdf17c"/></g><g stroke="#857814" stroke-width="0.5" stroke-linejoin="round"><polygon points="1157.7,501.5 1163.2,501.5 1163.2,498.3 1157.7,498.3" fill="#fbe94a"/><polygon points="1163.2,501.5 1165.6,500.0 1165.6,496.8 1163.2,498.3" fill="#f1d22c"/><polygon points="1157.7,498.3 1163.2,498.3 1165.6,496.8 1160.1,496.8" fill="#fdf17c"/></g><g stroke="#857814" stroke-width="0.5" stroke-linejoin="round"><polygon points="1124.6,502.6 1130.1,502.6 1130.1,499.4 1124.6,499.4" fill="#fbe94a"/><polygon points="1130.1,502.6 1132.5,501.1 1132.5,497.9 1130.1,499.4" fill="#f1d22c"/><polygon points="1124.6,499.4 1130.1,499.4 1132.5,497.9 1127.0,497.9" fill="#fdf17c"/></g><g stroke="#857814" stroke-width="0.5" stroke-linejoin="round"><polygon points="1149.6,503.3 1155.1,503.3 1155.1,500.1 1149.6,500.1" fill="#fbe94a"/><polygon points="1155.1,503.3 1157.5,501.8 1157.5,498.6 1155.1,500.1" fill="#f1d22c"/><polygon points="1149.6,500.1 1155.1,500.1 1157.5,498.6 1152.0,498.6" fill="#fdf17c"/></g><g stroke="#857814" stroke-width="0.5" stroke-linejoin="round"><polygon points="1131.9,504.0 1137.4,504.0 1137.4,500.8 1131.9,500.8" fill="#fbe94a"/><polygon points="1137.4,504.0 1139.8,502.5 1139.8,499.3 1137.4,500.8" fill="#f1d22c"/><polygon points="1131.9,500.8 1137.4,500.8 1139.8,499.3 1134.3,499.3" fill="#fdf17c"/></g><g stroke="#857814" stroke-width="0.5" stroke-linejoin="round"><polygon points="1117.6,505.1 1123.1,505.1 1123.1,501.9 1117.6,501.9" fill="#fbe94a"/><polygon points="1123.1,505.1 1125.5,503.6 1125.5,500.4 1123.1,501.9" fill="#f1d22c"/><polygon points="1117.6,501.9 1123.1,501.9 1125.5,500.4 1120.0,500.4" fill="#fdf17c"/></g><g stroke="#857814" stroke-width="0.5" stroke-linejoin="round"><polygon points="1159.0,505.2 1164.5,505.2 1164.5,502.0 1159.0,502.0" fill="#fbe94a"/><polygon points="1164.5,505.2 1166.9,503.7 1166.9,500.5 1164.5,502.0" fill="#f1d22c"/><polygon points="1159.0,502.0 1164.5,502.0 1166.9,500.5 1161.4,500.5" fill="#fdf17c"/></g><g stroke="#8a5a14" stroke-width="0.5" stroke-linejoin="round"><polygon points="1142.2,506.3 1147.7,506.3 1147.7,503.1 1142.2,503.1" fill="#f7b04a"/><polygon points="1147.7,506.3 1150.1,504.8 1150.1,501.6 1147.7,503.1" fill="#ea922c"/><polygon points="1142.2,503.1 1147.7,503.1 1150.1,501.6 1144.6,501.6" fill="#fbc878"/></g><g stroke="#8a5a14" stroke-width="0.5" stroke-linejoin="round"><polygon points="1150.3,507.0 1155.8,507.0 1155.8,503.8 1150.3,503.8" fill="#f7b04a"/><polygon points="1155.8,507.0 1158.2,505.5 1158.2,502.3 1155.8,503.8" fill="#ea922c"/><polygon points="1150.3,503.8 1155.8,503.8 1158.2,502.3 1152.7,502.3" fill="#fbc878"/></g><g stroke="#8a5a14" stroke-width="0.5" stroke-linejoin="round"><polygon points="1130.5,507.7 1136.0,507.7 1136.0,504.5 1130.5,504.5" fill="#f7b04a"/><polygon points="1136.0,507.7 1138.4,506.2 1138.4,503.0 1136.0,504.5" fill="#ea922c"/><polygon points="1130.5,504.5 1136.0,504.5 1138.4,503.0 1132.9,503.0" fill="#fbc878"/></g><g stroke="#857814" stroke-width="0.5" stroke-linejoin="round"><polygon points="1123.9,508.7 1129.4,508.7 1129.4,505.5 1123.9,505.5" fill="#fbe94a"/><polygon points="1129.4,508.7 1131.8,507.2 1131.8,504.0 1129.4,505.5" fill="#f1d22c"/><polygon points="1123.9,505.5 1129.4,505.5 1131.8,504.0 1126.3,504.0" fill="#fdf17c"/></g><g stroke="#8a5a14" stroke-width="0.5" stroke-linejoin="round"><polygon points="1156.9,509.2 1162.4,509.2 1162.4,506.0 1156.9,506.0" fill="#f7b04a"/><polygon points="1162.4,509.2 1164.8,507.7 1164.8,504.5 1162.4,506.0" fill="#ea922c"/><polygon points="1156.9,506.0 1162.4,506.0 1164.8,504.5 1159.3,504.5" fill="#fbc878"/></g><g stroke="#8a5a14" stroke-width="0.5" stroke-linejoin="round"><polygon points="1143.6,510.4 1149.1,510.4 1149.1,507.2 1143.6,507.2" fill="#f7b04a"/><polygon points="1149.1,510.4 1151.5,508.9 1151.5,505.7 1149.1,507.2" fill="#ea922c"/><polygon points="1143.6,507.2 1149.1,507.2 1151.5,505.7 1146.0,505.7" fill="#fbc878"/></g><g stroke="#777777" stroke-width="0.5" stroke-linejoin="round"><polygon points="1131.0,492.5 1136.0,492.5 1136.0,489.5 1131.0,489.5" fill="#ffffff"/><polygon points="1136.0,492.5 1138.2,491.1 1138.2,488.1 1136.0,489.5" fill="#eeeeee"/><polygon points="1131.0,489.5 1136.0,489.5 1138.2,488.1 1133.2,488.1" fill="#ffffff"/></g><g stroke="#777777" stroke-width="0.5" stroke-linejoin="round"><polygon points="1161.0,493.5 1166.0,493.5 1166.0,490.5 1161.0,490.5" fill="#ffffff"/><polygon points="1166.0,493.5 1168.2,492.1 1168.2,489.1 1166.0,490.5" fill="#eeeeee"/><polygon points="1161.0,490.5 1166.0,490.5 1168.2,489.1 1163.2,489.1" fill="#ffffff"/></g><g stroke="#777777" stroke-width="0.5" stroke-linejoin="round"><polygon points="1139.0,496.0 1143.5,496.0 1143.5,493.2 1139.0,493.2" fill="#ffffff"/><polygon points="1143.5,496.0 1145.5,494.7 1145.5,491.9 1143.5,493.2" fill="#eeeeee"/><polygon points="1139.0,493.2 1143.5,493.2 1145.5,491.9 1141.0,491.9" fill="#ffffff"/></g><rect x="1125.9" y="492.9" width="1.3" height="3.9" fill="#7a4a2a"/><circle cx="1126.5" cy="491.0" r="2.7" fill="#3fa35f" stroke="#1f6b3a" stroke-width="0.6"/><rect x="1128.9" y="492.1" width="1.3" height="3.9" fill="#7a4a2a"/><circle cx="1129.5" cy="490.2" r="2.7" fill="#3fa35f" stroke="#1f6b3a" stroke-width="0.6"/><rect x="1139.9" y="497.7" width="1.3" height="3.9" fill="#7a4a2a"/><circle cx="1140.5" cy="495.8" r="2.7" fill="#3fa35f" stroke="#1f6b3a" stroke-width="0.6"/><rect x="1155.1" y="491.5" width="1.3" height="3.9" fill="#7a4a2a"/><circle cx="1155.7" cy="489.6" r="2.7" fill="#3fa35f" stroke="#1f6b3a" stroke-width="0.6"/><rect x="1157.9" y="492.7" width="1.3" height="3.9" fill="#7a4a2a"/><circle cx="1158.5" cy="490.8" r="2.7" fill="#3fa35f" stroke="#1f6b3a" stroke-width="0.6"/><rect x="1150.4" y="505.4" width="1.3" height="3.9" fill="#7a4a2a"/><circle cx="1151.0" cy="503.5" r="2.7" fill="#3fa35f" stroke="#1f6b3a" stroke-width="0.6"/><rect x="1153.4" y="504.9" width="1.3" height="3.9" fill="#7a4a2a"/><circle cx="1154.0" cy="503.0" r="2.7" fill="#3fa35f" stroke="#1f6b3a" stroke-width="0.6"/><rect x="1011.4" y="452.7" width="1.3" height="4.2" fill="#7a4a2a"/><circle cx="1012.0" cy="450.5" r="3.0" fill="#3fa35f" stroke="#1f6b3a" stroke-width="0.6"/><rect x="1014.4" y="451.2" width="1.3" height="4.2" fill="#7a4a2a"/><circle cx="1015.0" cy="449.0" r="3.0" fill="#3fa35f" stroke="#1f6b3a" stroke-width="0.6"/><rect x="1117.7" y="447.7" width="1.3" height="4.2" fill="#7a4a2a"/><circle cx="1118.3" cy="445.5" r="3.0" fill="#3fa35f" stroke="#1f6b3a" stroke-width="0.6"/><rect x="1125.4" y="447.4" width="1.3" height="4.2" fill="#7a4a2a"/><circle cx="1126.0" cy="445.2" r="3.0" fill="#3fa35f" stroke="#1f6b3a" stroke-width="0.6"/><rect x="968.4" y="510.7" width="1.3" height="4.2" fill="#7a4a2a"/><circle cx="969.0" cy="508.5" r="3.0" fill="#3fa35f" stroke="#1f6b3a" stroke-width="0.6"/><rect x="976.9" y="511.8" width="1.3" height="4.2" fill="#7a4a2a"/><circle cx="977.5" cy="509.6" r="3.0" fill="#3fa35f" stroke="#1f6b3a" stroke-width="0.6"/><polygon points="1119.5,448.5 1122,444 1125,446 1125,449.3 1119.5,449.3" fill="#a9dcea" stroke="#4a8a9a" stroke-width="0.5"/><polygon points="970.5,512 973,507.5 976.5,509.5 976.5,512.8 970.5,512.8" fill="#a9dcea" stroke="#4a8a9a" stroke-width="0.5"/><path d="M1018,407.2 L1040.9,457.3 M1144.5,411.8 V494.7" stroke="#1e1e1e" stroke-width="1.3" fill="none"/></g><g fill="#f5b31b"><circle cx="37.5" cy="268.1" r="10.2"/><polygon points="39.4,258.5 37.5,248.6 35.6,258.5"/><polygon points="45.1,262.0 50.0,253.2 42.2,259.5"/><polygon points="47.3,268.3 56.7,264.7 46.6,264.6"/><polygon points="44.9,274.5 54.4,277.9 46.8,271.3"/><polygon points="39.0,277.8 44.2,286.4 42.6,276.5"/><polygon points="32.4,276.5 30.8,286.4 36.0,277.8"/><polygon points="28.2,271.3 20.6,277.9 30.1,274.5"/><polygon points="28.4,264.6 18.3,264.7 27.7,268.3"/><polygon points="32.8,259.5 25.0,253.2 29.9,262.0"/></g><path d="M35,483 A18.2,18.2 0 1,0 52.5,513.75 A19,19 0 0,1 35,483 Z" fill="#f8ea4c"/>
<rect x="184.5" y="641.5" width="47.3" height="32" fill="#ee4a55" stroke="#9a7a7a" stroke-width="1"/>
<rect x="437.5" y="641.5" width="47.5" height="32" fill="#f9a444" stroke="#8d8778" stroke-width="1"/>
<rect x="625.8" y="641.5" width="47.2" height="32" fill="#fdf05c" stroke="#8d8a70" stroke-width="1"/>
<rect x="793.8" y="641.5" width="47.5" height="32" fill="#ffffff" stroke="#8a8a8a" stroke-width="1"/>
<polygon points="1076.2,668.5 1055.0,646.2 1060.3,644.1 1044.0,641.1 1040.8,651.9 1046.1,649.8 1067.2,672.1" fill="#1f2a70"/><polygon points="1076.2,666.9 1055.0,644.6 1060.3,642.5 1044.0,639.5 1040.8,650.3 1046.1,648.2 1067.2,670.5" fill="#2f43a0"/>
<rect x="0" y="709" width="30" height="30" fill="#97989b"/>
<g stroke="#fff" stroke-width="2.3" fill="none" clip-path="url(#lg)"><path d="M-1.5,723 L5.9,709.6 L9.6,722.5 M-1,720.9 H9.5"/>
<path d="M7.6,721 V739.5 M7.6,722.3 H11 Q16.6,722.6 16.6,727 Q16.6,731.4 11,731.6 H7.6 M9.6,731.6 L18.2,740"/></g>
<clipPath id="lg"><rect x="0" y="709" width="30" height="30"/></clipPath>
<g font-family='"Liberation Sans", sans-serif'><text x="172.7" y="93.2" font-size="16.3" fill="#ffffff" font-weight="bold" font-style="normal" textLength="85.8" lengthAdjust="spacingAndGlyphs">Inland city</text>
<text x="449.4" y="93.2" font-size="16.3" fill="#ffffff" font-weight="bold" font-style="normal" textLength="94.0" lengthAdjust="spacingAndGlyphs">Coastal city</text>
<text x="703.2" y="84.0" font-size="16.3" fill="#ffffff" font-weight="bold" font-style="normal" textLength="148.6" lengthAdjust="spacingAndGlyphs">Mountainous area</text>
<text x="718.7" y="103.5" font-size="16.3" fill="#ffffff" font-weight="bold" font-style="normal" textLength="117.7" lengthAdjust="spacingAndGlyphs">City in a valley</text>
<text x="982.0" y="93.5" font-size="16.3" fill="#ffffff" font-weight="bold" font-style="normal" textLength="153.1" lengthAdjust="spacingAndGlyphs">Polar city in winter</text>
<text x="21.9" y="231.0" font-size="16.3" fill="#111" font-weight="bold" font-style="normal" textLength="32.4" lengthAdjust="spacingAndGlyphs">Day</text>
<text x="15.0" y="464.4" font-size="16.3" fill="#111" font-weight="bold" font-style="normal" textLength="46.2" lengthAdjust="spacingAndGlyphs">Night</text>
<text x="86.3" y="142.6" font-size="16.1" fill="#6b6c6f" font-weight="normal" font-style="normal" textLength="72.8" lengthAdjust="spacingAndGlyphs">Malls and</text>
<text x="85.9" y="162.7" font-size="16.1" fill="#6b6c6f" font-weight="normal" font-style="normal" textLength="89.5" lengthAdjust="spacingAndGlyphs">commercial</text>
<text x="85.9" y="182.5" font-size="16.1" fill="#6b6c6f" font-weight="normal" font-style="normal" textLength="40.5" lengthAdjust="spacingAndGlyphs">areas</text>
<text x="219.7" y="142.6" font-size="16.1" fill="#6b6c6f" font-weight="normal" font-style="normal" textLength="97.4" lengthAdjust="spacingAndGlyphs">Dense urban</text>
<text x="219.0" y="162.7" font-size="16.1" fill="#6b6c6f" font-weight="normal" font-style="normal" textLength="99.2" lengthAdjust="spacingAndGlyphs">and high rise</text>
<text x="145.1" y="324.3" font-size="16.1" fill="#6b6c6f" font-weight="normal" font-style="normal" textLength="75.4" lengthAdjust="spacingAndGlyphs">Suburban</text>
<text x="245.9" y="324.3" font-size="16.1" fill="#6b6c6f" font-weight="normal" font-style="normal" textLength="93.6" lengthAdjust="spacingAndGlyphs">Countryside</text>
<text x="387.6" y="265.2" font-size="16.1" fill="#2a72ad" font-weight="normal" font-style="normal" textLength="27.5" lengthAdjust="spacingAndGlyphs">Sea</text>
<text x="443.6" y="321.2" font-size="17.2" fill="#3a4a96" font-weight="normal" font-style="normal" textLength="87.5" lengthAdjust="spacingAndGlyphs">Sea breeze</text>
<text x="445.2" y="414.5" font-size="17.2" fill="#3a4a96" font-weight="normal" font-style="normal" textLength="98.7" lengthAdjust="spacingAndGlyphs">Land breeze</text>
<text x="647.6" y="142.5" font-size="16.5" fill="#2c58a3" font-weight="normal" font-style="normal" textLength="71.2" lengthAdjust="spacingAndGlyphs">Up-valley</text>
<text x="659.2" y="161.4" font-size="16.5" fill="#2c58a3" font-weight="normal" font-style="normal" textLength="51.4" lengthAdjust="spacingAndGlyphs">breeze</text>
<text x="840.1" y="130.8" font-size="16.1" fill="#7a5a48" font-weight="normal" font-style="normal" textLength="71.2" lengthAdjust="spacingAndGlyphs">3–5 story</text>
<text x="839.6" y="150.2" font-size="16.1" fill="#7a5a48" font-weight="normal" font-style="normal" textLength="71.7" lengthAdjust="spacingAndGlyphs">buildings</text>
<text x="660.9" y="322.2" font-size="16.1" fill="#1c1c1c" font-weight="normal" font-style="normal" textLength="232.2" lengthAdjust="spacingAndGlyphs">No UHI during day, because of</text>
<text x="671.6" y="341.8" font-size="16.1" fill="#1c1c1c" font-weight="normal" font-style="normal" textLength="209.3" lengthAdjust="spacingAndGlyphs">the strong up-valley breeze</text>
<text x="107.3" y="552.6" font-size="16.1" fill="#1c1c1c" font-weight="normal" font-style="normal" textLength="212.8" lengthAdjust="spacingAndGlyphs">Slight winds toward the city</text>
<text x="109.6" y="572.7" font-size="16.1" fill="#1c1c1c" font-weight="normal" font-style="normal" textLength="208.2" lengthAdjust="spacingAndGlyphs">center can sometimes exist</text>
<text x="98.9" y="592.5" font-size="16.1" fill="#1c1c1c" font-weight="normal" font-style="normal" textLength="229.4" lengthAdjust="spacingAndGlyphs">and slightly modulate the UHI</text>
<text x="641.8" y="375.5" font-size="16.5" fill="#2c58a3" font-weight="normal" font-style="normal" textLength="86.7" lengthAdjust="spacingAndGlyphs">Downslope</text>
<text x="662.0" y="395.0" font-size="16.5" fill="#2c58a3" font-weight="normal" font-style="normal" textLength="45.8" lengthAdjust="spacingAndGlyphs">winds</text>
<text x="656.9" y="552.6" font-size="16.1" fill="#1c1c1c" font-weight="normal" font-style="normal" textLength="240.4" lengthAdjust="spacingAndGlyphs">Cold air drains to bottom of the</text>
<text x="650.6" y="572.7" font-size="16.1" fill="#1c1c1c" font-weight="normal" font-style="normal" textLength="252.5" lengthAdjust="spacingAndGlyphs">valley, so neighborhoods located</text>
<text x="649.9" y="592.5" font-size="16.1" fill="#1c1c1c" font-weight="normal" font-style="normal" textLength="254.4" lengthAdjust="spacingAndGlyphs">there would be cooler than those</text>
<text x="663.9" y="612.8" font-size="16.1" fill="#1c1c1c" font-weight="normal" font-style="normal" textLength="226.8" lengthAdjust="spacingAndGlyphs">located mid-way up the slope</text>
<text x="979.6" y="382.7" font-size="16.1" fill="#1c1c1c" font-weight="normal" font-style="normal" textLength="54.2" lengthAdjust="spacingAndGlyphs">City on</text>
<text x="968.4" y="402.5" font-size="16.1" fill="#1c1c1c" font-weight="normal" font-style="normal" textLength="80.1" lengthAdjust="spacingAndGlyphs">a small hill</text>
<text x="1073.4" y="406.7" font-size="16.1" fill="#1c1c1c" font-weight="normal" font-style="normal" textLength="119.0" lengthAdjust="spacingAndGlyphs">City in the plain</text>
<text x="974.2" y="552.6" font-size="16.1" fill="#1c1c1c" font-weight="normal" font-style="normal" textLength="177.9" lengthAdjust="spacingAndGlyphs">Note that cities in polar</text>
<text x="980.5" y="572.7" font-size="16.1" fill="#1c1c1c" font-weight="normal" font-style="normal" textLength="165.3" lengthAdjust="spacingAndGlyphs">climate are very small</text>
<text x="950.9" y="592.5" font-size="16.1" fill="#1c1c1c" font-weight="normal" font-style="normal" textLength="224.0" lengthAdjust="spacingAndGlyphs">compared to midlatitude and</text>
<text x="981.9" y="612.8" font-size="16.1" fill="#1c1c1c" font-weight="normal" font-style="normal" textLength="162.0" lengthAdjust="spacingAndGlyphs">tropical climate cities</text>
<text x="10.7" y="652.8" font-size="15.6" fill="#111" font-weight="bold" font-style="normal" textLength="139.9" lengthAdjust="spacingAndGlyphs">Urban heat island</text>
<text x="10.9" y="672.8" font-size="15.6" fill="#111" font-weight="bold" font-style="normal" textLength="89.7" lengthAdjust="spacingAndGlyphs">(UHI) effect</text>
<text x="246.4" y="652.8" font-size="16.1" fill="#1c1c1c" font-weight="normal" font-style="normal" textLength="84.2" lengthAdjust="spacingAndGlyphs">Strong UHI</text>
<text x="246.4" y="672.8" font-size="16.1" fill="#1c1c1c" font-weight="normal" font-style="normal" textLength="161.7" lengthAdjust="spacingAndGlyphs">(occurs only at night)</text>
<text x="499.9" y="663.0" font-size="16.1" fill="#1c1c1c" font-weight="normal" font-style="normal" textLength="96.2" lengthAdjust="spacingAndGlyphs">Medium UHI</text>
<text x="687.4" y="663.0" font-size="16.1" fill="#1c1c1c" font-weight="normal" font-style="normal" textLength="76.5" lengthAdjust="spacingAndGlyphs">Slight UHI</text>
<text x="856.1" y="652.8" font-size="16.1" fill="#1c1c1c" font-weight="normal" font-style="normal" textLength="139.4" lengthAdjust="spacingAndGlyphs">Rural temperature</text>
<text x="856.1" y="672.8" font-size="16.1" fill="#1c1c1c" font-weight="normal" font-style="normal" textLength="72.5" lengthAdjust="spacingAndGlyphs">or no UHI</text>
<text x="1086.9" y="662.8" font-size="16.1" fill="#1c1c1c" font-weight="normal" font-style="normal" textLength="108.4" lengthAdjust="spacingAndGlyphs">Wind patterns</text>
<text x="33.9" y="719.8" font-size="13.4" fill="#8b8d90" font-weight="normal" font-style="normal" textLength="139.2" lengthAdjust="spacingAndGlyphs">Masson V, et al. 2020.</text>
<text x="33.9" y="737.25" font-size="13.4" fill="#8b8d90" textLength="241.7" lengthAdjust="spacingAndGlyphs"><tspan font-style="italic">Annu. Rev. Environ. Resour.</tspan> 45:411–44</text></g></svg>
</body></html>
